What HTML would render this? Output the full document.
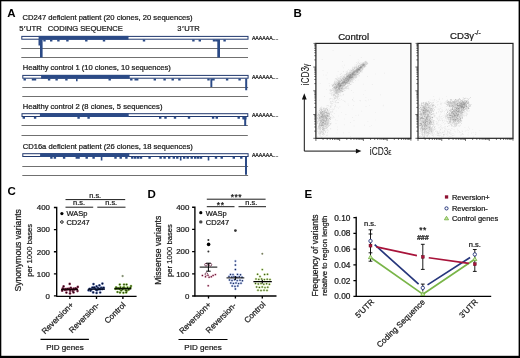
<!DOCTYPE html>
<html><head><meta charset="utf-8"><style>
html,body{margin:0;padding:0;background:#fff;}
body{width:520px;height:358px;overflow:hidden;}
svg{display:block;font-family:"Liberation Sans",sans-serif;will-change:transform;}
text{fill:#1a1a1a;stroke:#1a1a1a;stroke-width:0.24px;}
.lbl{font-weight:bold;font-size:11.5px;fill:#000;stroke:none;}
</style></head><body>
<svg width="520" height="358" viewBox="0 0 520 358">
<rect width="520" height="358" fill="#fff"/>
<text x="7.3" y="16.7" class="lbl">A</text>
<g font-size="7.6">
<text x="22.5" y="19.75">CD247 deficient patient (20 clones, 20 sequences)</text>
<text x="19.2" y="31.1">5<tspan dx="0.6">′</tspan><tspan dx="0.6">UTR</tspan></text>
<text x="47.8" y="31.1">CODING SEQUENCE</text>
<text x="177.3" y="31.1">3<tspan dx="0.6">′</tspan><tspan dx="0.6">UTR</tspan></text>
<text x="22.7" y="70.25">Healthy control 1 (10 clones, 10 sequences)</text>
<text x="22.7" y="108.75">Healthy control 2 (8 clones, 5 sequences)</text>
<text x="22.7" y="148.75">CD16a deficient patient (26 clones, 18 sequences)</text>
</g>
<rect x="21.3" y="48" width="226.7" height="1" fill="#707070"/>
<rect x="21.3" y="57" width="226.7" height="1" fill="#707070"/>
<rect x="21.8" y="36.4" width="226.2" height="2.8" fill="#fff" stroke="#22396e" stroke-width="1"/>
<rect x="38.6" y="35.9" width="89.9" height="3.8" fill="#2b4a86"/>
<path d="M43.3 39.5h2.4v1.9h-2.4zM50 39.5h2.4v1.9h-2.4zM57.2 39.5h2.4v1.9h-2.4zM66.2 39.5h2.4v1.9h-2.4zM85.1 39.5h2.4v1.9h-2.4zM102.8 39.5h2.4v1.9h-2.4zM142.8 39.5h2.4v1.9h-2.4zM192.2 39.5h2.4v1.9h-2.4zM198.6 39.5h2.4v1.9h-2.4zM212.8 39.5h2.4v1.9h-2.4zM215.3 39.5h2.4v1.9h-2.4zM223.4 39.5h2.4v1.9h-2.4zM40 39.5H42.6V57.6H40zM217.3 39.5H220V57.6H217.3zM38.5 39.5H40.2V45.5H38.5z" fill="#2b4a86"/>
<text x="251.9" y="39.65" font-size="5.2">AAAAAA....</text>
<rect x="22.3" y="87" width="225.8" height="1" fill="#707070"/>
<rect x="22.3" y="96" width="225.8" height="1" fill="#707070"/>
<rect x="22.8" y="75.4" width="225.3" height="2.8" fill="#fff" stroke="#22396e" stroke-width="1"/>
<rect x="41.1" y="74.9" width="88.6" height="3.8" fill="#2b4a86"/>
<path d="M23.5 78.5h2.4v1.9h-2.4zM31.8 78.5h2.4v1.9h-2.4zM33.8 78.5h2.4v1.9h-2.4zM47.9 78.5h2.4v1.9h-2.4zM55.4 78.5h2.4v1.9h-2.4zM65.2 78.5h2.4v1.9h-2.4zM108.5 78.5h2.4v1.9h-2.4zM130.1 78.5h2.4v1.9h-2.4zM134.5 78.5h2.4v1.9h-2.4zM136 78.5h2.4v1.9h-2.4zM153.6 78.5h2.4v1.9h-2.4zM163.4 78.5h2.4v1.9h-2.4zM171.5 78.5h2.4v1.9h-2.4zM178.2 78.5h2.4v1.9h-2.4zM207.3 78.5h2.4v1.9h-2.4zM212.3 78.5h2.4v1.9h-2.4zM225.9 78.5h2.4v1.9h-2.4zM238.4 78.5h2.4v1.9h-2.4zM76 78.5H77.6V81.2H76zM210.4 78.5H212.3V87H210.4zM245.2 78.5H247.2V90.2H245.2z" fill="#2b4a86"/>
<text x="251.9" y="78.65" font-size="5.2">AAAAAA....</text>
<rect x="21.5" y="125" width="226.3" height="1" fill="#707070"/>
<rect x="21.5" y="135" width="226.3" height="1" fill="#707070"/>
<rect x="22" y="113.7" width="225.8" height="2.8" fill="#fff" stroke="#22396e" stroke-width="1"/>
<rect x="39.9" y="113.2" width="88.8" height="3.8" fill="#2b4a86"/>
<path d="M22.6 116.8h2.4v1.9h-2.4zM33.9 116.8h2.4v1.9h-2.4zM77.4 116.8h2.4v1.9h-2.4zM87.4 116.8h2.4v1.9h-2.4zM159 116.8h2.4v1.9h-2.4zM164.3 116.8h2.4v1.9h-2.4zM173.8 116.8h2.4v1.9h-2.4zM187.8 116.8h2.4v1.9h-2.4zM211.9 116.8h2.4v1.9h-2.4zM215.6 116.8h2.4v1.9h-2.4zM237.5 116.8h2.4v1.9h-2.4zM242.3 116.8h2.4v1.9h-2.4zM244.2 116.8H246.2V126.1H244.2zM242.5 116.8H246.6V119.5H242.5z" fill="#2b4a86"/>
<text x="251.9" y="116.95" font-size="5.2">AAAAAA....</text>
<rect x="22.3" y="166" width="225.8" height="1" fill="#707070"/>
<rect x="22.3" y="175" width="225.8" height="1" fill="#707070"/>
<rect x="22.8" y="153.7" width="225.3" height="2.8" fill="#fff" stroke="#22396e" stroke-width="1"/>
<rect x="40.1" y="153.2" width="89.2" height="3.8" fill="#2b4a86"/>
<path d="M50.2 156.8h2.4v1.9h-2.4zM53.7 156.8h2.4v1.9h-2.4zM62.9 156.8h2.4v1.9h-2.4zM75.6 156.8h2.4v1.9h-2.4zM77.4 156.8h2.4v1.9h-2.4zM85.5 156.8h2.4v1.9h-2.4zM92.4 156.8h2.4v1.9h-2.4zM114.3 156.8h2.4v1.9h-2.4zM119.5 156.8h2.4v1.9h-2.4zM125.2 156.8h2.4v1.9h-2.4zM131.1 156.8h2.4v1.9h-2.4zM134 156.8h2.4v1.9h-2.4zM136.9 156.8h2.4v1.9h-2.4zM139.8 156.8h2.4v1.9h-2.4zM148.4 156.8h2.4v1.9h-2.4zM159.4 156.8h2.4v1.9h-2.4zM163.4 156.8h2.4v1.9h-2.4zM168 156.8h2.4v1.9h-2.4zM172.6 156.8h2.4v1.9h-2.4zM176.1 156.8h2.4v1.9h-2.4zM183 156.8h2.4v1.9h-2.4zM186.5 156.8h2.4v1.9h-2.4zM190.5 156.8h2.4v1.9h-2.4zM194 156.8h2.4v1.9h-2.4zM196.9 156.8h2.4v1.9h-2.4zM199.8 156.8h2.4v1.9h-2.4zM214.8 156.8h2.4v1.9h-2.4zM220.5 156.8h2.4v1.9h-2.4zM232.6 156.8h2.4v1.9h-2.4zM240.1 156.8h2.4v1.9h-2.4zM100.8 156.8H102.4V160.6H100.8zM179.9 156.8H181.5V160.4H179.9zM207.7 156.8H209.3V160.6H207.7zM245 156.8H247V174.8H245z" fill="#2b4a86"/>
<text x="251.9" y="156.95" font-size="5.2">AAAAAA....</text>
<text x="293.6" y="16.5" class="lbl">B</text>
<text x="353.6" y="39.8" font-size="9.6" text-anchor="middle">Control</text>
<text x="450.1" y="39.4" font-size="9.6">CD3γ<tspan font-size="6.6" dy="-4.2" dx="0.3">-/-</tspan></text>
<rect x="315.9" y="43.4" width="95" height="94.9" fill="#fafafa"/>
<path d="M347.08 82.58h0.65v0.65h-0.65zM339.83 90.39h0.65v0.65h-0.65zM351.66 74.22h0.65v0.65h-0.65zM351.58 75.95h0.65v0.65h-0.65zM335.5 87.66h0.65v0.65h-0.65zM338.23 87.38h0.65v0.65h-0.65zM348.95 78.26h0.65v0.65h-0.65zM341.05 82.11h0.65v0.65h-0.65zM356.76 74.19h0.65v0.65h-0.65zM346.79 77.56h0.65v0.65h-0.65zM367.1 63.67h0.65v0.65h-0.65zM345.45 82.9h0.65v0.65h-0.65zM341.11 87.25h0.65v0.65h-0.65zM361.53 67.56h0.65v0.65h-0.65zM337.76 81.07h0.65v0.65h-0.65zM345.44 77.57h0.65v0.65h-0.65zM352.95 74.93h0.65v0.65h-0.65zM341.87 84.16h0.65v0.65h-0.65zM355.6 69.46h0.65v0.65h-0.65zM354.21 73.96h0.65v0.65h-0.65zM348.41 75.79h0.65v0.65h-0.65zM359.41 72.64h0.65v0.65h-0.65zM340.29 79.9h0.65v0.65h-0.65zM362.36 64.72h0.65v0.65h-0.65zM357.39 68.37h0.65v0.65h-0.65zM348.35 77.97h0.65v0.65h-0.65zM349.54 74.8h0.65v0.65h-0.65zM334.57 86.48h0.65v0.65h-0.65zM350.89 70.95h0.65v0.65h-0.65zM362.33 64.66h0.65v0.65h-0.65zM356.07 75.53h0.65v0.65h-0.65zM350.57 70.14h0.65v0.65h-0.65zM365.38 63.72h0.65v0.65h-0.65zM349.75 75.99h0.65v0.65h-0.65zM356.92 69.62h0.65v0.65h-0.65zM358.19 74.57h0.65v0.65h-0.65zM343.87 81.41h0.65v0.65h-0.65zM347.06 78.58h0.65v0.65h-0.65zM349.34 76.32h0.65v0.65h-0.65zM340.97 85.56h0.65v0.65h-0.65zM359.69 68.52h0.65v0.65h-0.65zM339.15 85.96h0.65v0.65h-0.65zM363.57 66.35h0.65v0.65h-0.65zM334.95 84.27h0.65v0.65h-0.65zM363.42 65.41h0.65v0.65h-0.65zM361.58 67.41h0.65v0.65h-0.65zM347.04 76.66h0.65v0.65h-0.65zM350.23 83.95h0.65v0.65h-0.65zM335.76 80.68h0.65v0.65h-0.65zM340.8 84.85h0.65v0.65h-0.65zM351.7 77.54h0.65v0.65h-0.65zM353.72 73.17h0.65v0.65h-0.65zM348.49 78.09h0.65v0.65h-0.65zM355.65 68.87h0.65v0.65h-0.65zM349.5 73.05h0.65v0.65h-0.65zM334.62 85.6h0.65v0.65h-0.65zM363.9 64.93h0.65v0.65h-0.65zM346.74 77.78h0.65v0.65h-0.65zM355.57 72.39h0.65v0.65h-0.65zM338.29 89.28h0.65v0.65h-0.65zM340.85 85.79h0.65v0.65h-0.65zM345.86 80.13h0.65v0.65h-0.65zM339.83 85.33h0.65v0.65h-0.65zM337.89 86.3h0.65v0.65h-0.65zM362.95 65.45h0.65v0.65h-0.65zM355.2 73.26h0.65v0.65h-0.65zM347.31 81.33h0.65v0.65h-0.65zM349.4 82.65h0.65v0.65h-0.65zM367.25 62.76h0.65v0.65h-0.65zM349.06 75.72h0.65v0.65h-0.65zM338.35 86.78h0.65v0.65h-0.65zM345.54 79.6h0.65v0.65h-0.65zM344.7 90.27h0.65v0.65h-0.65zM338 91.46h0.65v0.65h-0.65zM338.77 84.41h0.65v0.65h-0.65zM354.25 76.73h0.65v0.65h-0.65zM366.23 62.53h0.65v0.65h-0.65zM362.23 65.32h0.65v0.65h-0.65zM345.18 77.64h0.65v0.65h-0.65zM340.72 85.35h0.65v0.65h-0.65zM358.43 66.38h0.65v0.65h-0.65zM346.13 81.11h0.65v0.65h-0.65zM367.27 63.3h0.65v0.65h-0.65zM362.69 66.55h0.65v0.65h-0.65zM356.46 66.63h0.65v0.65h-0.65zM340.06 80.75h0.65v0.65h-0.65zM335.72 88.46h0.65v0.65h-0.65zM335.61 88.41h0.65v0.65h-0.65zM358.01 71.46h0.65v0.65h-0.65zM366.81 62.58h0.65v0.65h-0.65zM365.08 62.71h0.65v0.65h-0.65zM343.44 84.62h0.65v0.65h-0.65zM342.19 85.13h0.65v0.65h-0.65zM364.68 65.77h0.65v0.65h-0.65zM360.37 64.66h0.65v0.65h-0.65zM360.62 67.57h0.65v0.65h-0.65zM335.14 84.21h0.65v0.65h-0.65zM357.86 65.51h0.65v0.65h-0.65zM358.13 67.89h0.65v0.65h-0.65zM360.19 67.75h0.65v0.65h-0.65zM347.33 82.3h0.65v0.65h-0.65zM350.72 81.77h0.65v0.65h-0.65zM339.13 83.33h0.65v0.65h-0.65zM341.99 89.37h0.65v0.65h-0.65zM362.46 69.24h0.65v0.65h-0.65zM342.76 89.02h0.65v0.65h-0.65zM345.11 78.6h0.65v0.65h-0.65zM335.15 88.76h0.65v0.65h-0.65zM365.46 62.13h0.65v0.65h-0.65zM364.01 62.86h0.65v0.65h-0.65zM351.23 80.28h0.65v0.65h-0.65zM338.55 80.03h0.65v0.65h-0.65zM342.56 82.01h0.65v0.65h-0.65zM354.75 74.52h0.65v0.65h-0.65zM342.21 81.12h0.65v0.65h-0.65zM364.13 64.52h0.65v0.65h-0.65zM343.64 76.7h0.65v0.65h-0.65zM364.02 64.76h0.65v0.65h-0.65zM350.33 80.09h0.65v0.65h-0.65zM350.94 73.65h0.65v0.65h-0.65zM353.45 77.07h0.65v0.65h-0.65zM341.13 84.78h0.65v0.65h-0.65zM335.47 89.79h0.65v0.65h-0.65zM349.01 75.18h0.65v0.65h-0.65zM357.04 68.24h0.65v0.65h-0.65zM350.96 74.54h0.65v0.65h-0.65zM352.83 74.3h0.65v0.65h-0.65zM352.08 73.13h0.65v0.65h-0.65zM342.25 81.86h0.65v0.65h-0.65zM354.06 78.78h0.65v0.65h-0.65zM353.08 74.19h0.65v0.65h-0.65zM352.7 70.49h0.65v0.65h-0.65zM356.97 70.25h0.65v0.65h-0.65zM347.33 74.62h0.65v0.65h-0.65zM364.78 63.24h0.65v0.65h-0.65zM359.43 72.65h0.65v0.65h-0.65zM339.51 78.01h0.65v0.65h-0.65zM355.67 77.31h0.65v0.65h-0.65zM337.78 83.88h0.65v0.65h-0.65zM338.03 85.16h0.65v0.65h-0.65zM342.97 83.2h0.65v0.65h-0.65zM335.5 85.38h0.65v0.65h-0.65zM362.31 63.26h0.65v0.65h-0.65zM339.16 84.36h0.65v0.65h-0.65zM336.11 81.6h0.65v0.65h-0.65zM363.65 65.7h0.65v0.65h-0.65zM365.2 63.01h0.65v0.65h-0.65zM361.71 66.71h0.65v0.65h-0.65zM337.47 81.96h0.65v0.65h-0.65zM346.83 81.3h0.65v0.65h-0.65zM339.64 82.26h0.65v0.65h-0.65zM338.42 92.18h0.65v0.65h-0.65zM352.33 73.82h0.65v0.65h-0.65zM345.69 80.49h0.65v0.65h-0.65zM354.31 71.61h0.65v0.65h-0.65zM366.31 62.2h0.65v0.65h-0.65zM360.57 68.23h0.65v0.65h-0.65zM343.26 81.93h0.65v0.65h-0.65zM336.55 88.74h0.65v0.65h-0.65zM337.29 83.81h0.65v0.65h-0.65zM351.41 81.23h0.65v0.65h-0.65zM341.03 79.82h0.65v0.65h-0.65zM342.49 88.51h0.65v0.65h-0.65zM356.46 69.17h0.65v0.65h-0.65zM341 90.64h0.65v0.65h-0.65zM349.55 78.89h0.65v0.65h-0.65zM340.12 90.73h0.65v0.65h-0.65zM359.93 66.65h0.65v0.65h-0.65zM338.17 87.76h0.65v0.65h-0.65zM362.18 65.3h0.65v0.65h-0.65zM348.19 75.51h0.65v0.65h-0.65zM365.23 64.71h0.65v0.65h-0.65zM345.39 84.23h0.65v0.65h-0.65zM344.61 85.22h0.65v0.65h-0.65zM338.87 86.91h0.65v0.65h-0.65zM342.06 84.65h0.65v0.65h-0.65zM343.7 79.46h0.65v0.65h-0.65zM347.68 85.44h0.65v0.65h-0.65zM351.6 76.45h0.65v0.65h-0.65zM337.17 90.83h0.65v0.65h-0.65zM346.62 86.76h0.65v0.65h-0.65zM352.78 74.53h0.65v0.65h-0.65zM339.22 87.52h0.65v0.65h-0.65zM359.98 65.6h0.65v0.65h-0.65zM362 66.91h0.65v0.65h-0.65zM344.51 75.18h0.65v0.65h-0.65zM366.21 62.25h0.65v0.65h-0.65zM347.5 81.85h0.65v0.65h-0.65zM353.27 69.64h0.65v0.65h-0.65zM347.5 77.86h0.65v0.65h-0.65zM339.77 86.64h0.65v0.65h-0.65zM337.16 87.43h0.65v0.65h-0.65zM338.32 82.83h0.65v0.65h-0.65zM340.09 89.92h0.65v0.65h-0.65zM354.02 68.28h0.65v0.65h-0.65zM344.05 81.79h0.65v0.65h-0.65zM351.13 78.51h0.65v0.65h-0.65zM338.22 83.08h0.65v0.65h-0.65zM365.74 63.04h0.65v0.65h-0.65zM365.52 62.09h0.65v0.65h-0.65zM365.58 62.6h0.65v0.65h-0.65zM344.78 80.86h0.65v0.65h-0.65zM347.21 79.01h0.65v0.65h-0.65zM348.89 74.98h0.65v0.65h-0.65zM351.03 75.5h0.65v0.65h-0.65zM335.09 89.28h0.65v0.65h-0.65zM348.55 79.4h0.65v0.65h-0.65zM338.03 90.3h0.65v0.65h-0.65zM342.68 83.37h0.65v0.65h-0.65zM351.09 70.37h0.65v0.65h-0.65zM355.49 70.8h0.65v0.65h-0.65zM358.67 70.7h0.65v0.65h-0.65zM343.93 78.81h0.65v0.65h-0.65zM366.81 62.79h0.65v0.65h-0.65zM357.29 73.79h0.65v0.65h-0.65zM338.58 90.8h0.65v0.65h-0.65zM352.31 69.1h0.65v0.65h-0.65zM358.59 69.46h0.65v0.65h-0.65zM350.8 74.01h0.65v0.65h-0.65zM352.63 77.35h0.65v0.65h-0.65zM359.76 64.86h0.65v0.65h-0.65zM355.41 75.43h0.65v0.65h-0.65zM355.82 68.88h0.65v0.65h-0.65zM343.52 84.52h0.65v0.65h-0.65zM346.68 79.75h0.65v0.65h-0.65zM339.82 88.3h0.65v0.65h-0.65zM353.37 70.28h0.65v0.65h-0.65zM354.2 71.34h0.65v0.65h-0.65zM333.16 87.17h0.65v0.65h-0.65zM360.35 67.39h0.65v0.65h-0.65zM350.06 72.42h0.65v0.65h-0.65zM358.03 73.61h0.65v0.65h-0.65zM344.51 84.22h0.65v0.65h-0.65zM337.03 87.05h0.65v0.65h-0.65zM345.31 88.16h0.65v0.65h-0.65zM359.9 70.59h0.65v0.65h-0.65zM346.81 78.5h0.65v0.65h-0.65zM349 74.82h0.65v0.65h-0.65zM352.32 69.76h0.65v0.65h-0.65zM356.15 72.51h0.65v0.65h-0.65zM343.67 83.15h0.65v0.65h-0.65zM358.12 68.32h0.65v0.65h-0.65zM337.71 91.81h0.65v0.65h-0.65zM336.56 87.4h0.65v0.65h-0.65zM358.95 72.55h0.65v0.65h-0.65zM356.08 70.31h0.65v0.65h-0.65zM351.89 79.05h0.65v0.65h-0.65zM352.64 79.81h0.65v0.65h-0.65zM344.73 87.87h0.65v0.65h-0.65zM366.2 62.51h0.65v0.65h-0.65zM349.46 76.63h0.65v0.65h-0.65zM362.14 68.01h0.65v0.65h-0.65zM343.06 81.5h0.65v0.65h-0.65zM343.19 85.43h0.65v0.65h-0.65zM353.13 72.98h0.65v0.65h-0.65zM338.34 84.82h0.65v0.65h-0.65zM357.22 69.85h0.65v0.65h-0.65zM344.48 85.53h0.65v0.65h-0.65zM334.44 87.26h0.65v0.65h-0.65zM333.09 87.07h0.65v0.65h-0.65zM344.72 81.28h0.65v0.65h-0.65zM338.32 84.27h0.65v0.65h-0.65zM362.4 67.01h0.65v0.65h-0.65zM335.07 89.47h0.65v0.65h-0.65zM334.39 81.09h0.65v0.65h-0.65zM364.11 63.43h0.65v0.65h-0.65zM345 77.83h0.65v0.65h-0.65zM337.25 88.99h0.65v0.65h-0.65zM339.17 87.76h0.65v0.65h-0.65zM364.27 63.03h0.65v0.65h-0.65zM342.66 82.29h0.65v0.65h-0.65zM343.87 87.5h0.65v0.65h-0.65zM350.88 83.76h0.65v0.65h-0.65zM360.25 66.35h0.65v0.65h-0.65zM350.46 71.99h0.65v0.65h-0.65zM359.8 71.77h0.65v0.65h-0.65zM350.25 78.06h0.65v0.65h-0.65zM358.35 67.98h0.65v0.65h-0.65zM335.23 86.62h0.65v0.65h-0.65zM365.03 64.47h0.65v0.65h-0.65zM347.6 81.9h0.65v0.65h-0.65zM344.06 80.78h0.65v0.65h-0.65zM355.3 70.69h0.65v0.65h-0.65zM349.92 81.3h0.65v0.65h-0.65zM341.19 85.87h0.65v0.65h-0.65zM364.26 64.92h0.65v0.65h-0.65zM351.52 76.55h0.65v0.65h-0.65zM350.08 77.92h0.65v0.65h-0.65zM339 88.26h0.65v0.65h-0.65zM347.16 81.51h0.65v0.65h-0.65zM344.11 83.37h0.65v0.65h-0.65zM355.11 76.02h0.65v0.65h-0.65zM346.05 75.68h0.65v0.65h-0.65zM346.32 75.92h0.65v0.65h-0.65zM345.45 79.78h0.65v0.65h-0.65zM336.03 86.69h0.65v0.65h-0.65zM348.64 72.84h0.65v0.65h-0.65zM338.49 79.64h0.65v0.65h-0.65zM343.64 82.02h0.65v0.65h-0.65zM351.05 79.3h0.65v0.65h-0.65zM366.08 63.93h0.65v0.65h-0.65zM332.49 85.22h0.65v0.65h-0.65zM334.97 87.39h0.65v0.65h-0.65zM355.21 75h0.65v0.65h-0.65zM364.47 63.83h0.65v0.65h-0.65zM362.87 68.49h0.65v0.65h-0.65zM340.03 88.28h0.65v0.65h-0.65zM358.02 72.13h0.65v0.65h-0.65zM364.77 63.23h0.65v0.65h-0.65zM357.71 66.47h0.65v0.65h-0.65zM349.05 76.27h0.65v0.65h-0.65zM359.78 67.72h0.65v0.65h-0.65zM345.29 86.38h0.65v0.65h-0.65zM343.17 79.37h0.65v0.65h-0.65zM339.03 85.91h0.65v0.65h-0.65zM359.05 72.25h0.65v0.65h-0.65zM341.09 89.29h0.65v0.65h-0.65zM354.35 74.28h0.65v0.65h-0.65zM347.78 79.26h0.65v0.65h-0.65zM337.85 92.11h0.65v0.65h-0.65zM356.37 72.65h0.65v0.65h-0.65zM362.51 64.33h0.65v0.65h-0.65zM343.11 82.95h0.65v0.65h-0.65zM365.4 62.72h0.65v0.65h-0.65zM334.1 87.07h0.65v0.65h-0.65zM350.02 74.74h0.65v0.65h-0.65zM341.1 79.98h0.65v0.65h-0.65zM357.09 72.01h0.65v0.65h-0.65zM335.44 87.81h0.65v0.65h-0.65zM342.99 76.96h0.65v0.65h-0.65zM343.01 85.98h0.65v0.65h-0.65zM360.26 67.32h0.65v0.65h-0.65zM338.74 80.62h0.65v0.65h-0.65zM365.44 62.17h0.65v0.65h-0.65zM346.28 87.63h0.65v0.65h-0.65zM342.17 83.51h0.65v0.65h-0.65zM364.74 62.52h0.65v0.65h-0.65zM351.24 76.31h0.65v0.65h-0.65zM349.52 79.39h0.65v0.65h-0.65zM356.89 71.91h0.65v0.65h-0.65zM347.16 78.2h0.65v0.65h-0.65zM343.05 85.06h0.65v0.65h-0.65zM336.46 87.85h0.65v0.65h-0.65zM333.4 83.8h0.65v0.65h-0.65zM364.2 66.29h0.65v0.65h-0.65zM345.39 80.29h0.65v0.65h-0.65zM344.54 88.54h0.65v0.65h-0.65zM334.73 87.14h0.65v0.65h-0.65zM355.17 70h0.65v0.65h-0.65zM346.95 81.92h0.65v0.65h-0.65zM342.35 87.07h0.65v0.65h-0.65zM346.21 79.8h0.65v0.65h-0.65zM366.53 64.35h0.65v0.65h-0.65zM345.84 88.63h0.65v0.65h-0.65zM347.99 81.51h0.65v0.65h-0.65zM345.61 73.91h0.65v0.65h-0.65zM334.61 85.89h0.65v0.65h-0.65zM364.36 64.16h0.65v0.65h-0.65zM337.81 80.33h0.65v0.65h-0.65zM339.13 92.3h0.65v0.65h-0.65zM349.31 79.55h0.65v0.65h-0.65zM333.11 84.72h0.65v0.65h-0.65zM345.11 84.6h0.65v0.65h-0.65zM359.62 69.79h0.65v0.65h-0.65zM342.46 80.58h0.65v0.65h-0.65zM365.1 62.56h0.65v0.65h-0.65zM357.14 68.9h0.65v0.65h-0.65zM345.03 80.7h0.65v0.65h-0.65zM359.13 68.68h0.65v0.65h-0.65zM362.97 62.76h0.65v0.65h-0.65zM332.29 84.83h0.65v0.65h-0.65zM365.58 63.36h0.65v0.65h-0.65zM347.28 78.78h0.65v0.65h-0.65zM352.55 77.96h0.65v0.65h-0.65zM365.03 64.39h0.65v0.65h-0.65zM360.45 71.3h0.65v0.65h-0.65zM361.36 66.93h0.65v0.65h-0.65zM342.58 77.16h0.65v0.65h-0.65zM342.77 77.91h0.65v0.65h-0.65zM340.4 90.63h0.65v0.65h-0.65zM341.31 84.07h0.65v0.65h-0.65zM335.47 85.88h0.65v0.65h-0.65zM334.41 86.64h0.65v0.65h-0.65zM366.02 62.17h0.65v0.65h-0.65zM363.74 65.77h0.65v0.65h-0.65zM337.54 87.02h0.65v0.65h-0.65zM334.55 82.8h0.65v0.65h-0.65zM349.24 77.15h0.65v0.65h-0.65zM339.68 79.84h0.65v0.65h-0.65zM357.37 71.9h0.65v0.65h-0.65zM359.78 69.92h0.65v0.65h-0.65zM336.04 82.92h0.65v0.65h-0.65zM361.41 65.83h0.65v0.65h-0.65zM349.36 82.04h0.65v0.65h-0.65zM358.75 69.38h0.65v0.65h-0.65zM344.43 84.57h0.65v0.65h-0.65zM342.25 87.98h0.65v0.65h-0.65zM343.54 78.35h0.65v0.65h-0.65zM349.92 81.2h0.65v0.65h-0.65zM342.23 82.94h0.65v0.65h-0.65zM358.92 65.05h0.65v0.65h-0.65zM351.54 78.01h0.65v0.65h-0.65zM362.78 62.69h0.65v0.65h-0.65zM336.01 88.07h0.65v0.65h-0.65zM342.18 85.58h0.65v0.65h-0.65zM364.81 61.25h0.65v0.65h-0.65zM344.52 76.53h0.65v0.65h-0.65zM361.9 64.77h0.65v0.65h-0.65zM360 68.26h0.65v0.65h-0.65zM365.77 64.1h0.65v0.65h-0.65zM355.94 73.73h0.65v0.65h-0.65zM341.05 82.47h0.65v0.65h-0.65zM342.44 84.95h0.65v0.65h-0.65zM340.46 79.4h0.65v0.65h-0.65zM339.47 81.57h0.65v0.65h-0.65zM334.03 87.66h0.65v0.65h-0.65zM344.07 88.03h0.65v0.65h-0.65zM346.02 82.11h0.65v0.65h-0.65zM355.21 77.51h0.65v0.65h-0.65zM338.71 89.7h0.65v0.65h-0.65zM353.46 75.37h0.65v0.65h-0.65zM356.04 72.62h0.65v0.65h-0.65zM357.53 70.72h0.65v0.65h-0.65zM347.69 77.75h0.65v0.65h-0.65zM365.84 63.7h0.65v0.65h-0.65zM343.1 78.74h0.65v0.65h-0.65zM347.51 77.13h0.65v0.65h-0.65zM363.32 66.52h0.65v0.65h-0.65zM341.22 83.98h0.65v0.65h-0.65zM358.19 69.38h0.65v0.65h-0.65zM363.75 64.62h0.65v0.65h-0.65zM349.3 78.71h0.65v0.65h-0.65zM362.31 64.16h0.65v0.65h-0.65zM349.82 76.92h0.65v0.65h-0.65zM352.78 74.5h0.65v0.65h-0.65zM355.89 72.35h0.65v0.65h-0.65zM354.45 71.88h0.65v0.65h-0.65zM345.66 77.93h0.65v0.65h-0.65zM343.97 81.61h0.65v0.65h-0.65zM352.3 75.89h0.65v0.65h-0.65zM350.22 75.48h0.65v0.65h-0.65zM361.26 67.98h0.65v0.65h-0.65zM338.71 85.62h0.65v0.65h-0.65zM365.74 64.24h0.65v0.65h-0.65zM336.33 87.6h0.65v0.65h-0.65zM363.28 62.5h0.65v0.65h-0.65zM356.79 74.68h0.65v0.65h-0.65zM362.14 67.72h0.65v0.65h-0.65zM345.5 87.3h0.65v0.65h-0.65zM349.94 80.68h0.65v0.65h-0.65zM337.11 80.18h0.65v0.65h-0.65zM339.67 80.85h0.65v0.65h-0.65zM348.61 80.5h0.65v0.65h-0.65zM338.98 86.17h0.65v0.65h-0.65zM364.81 66.11h0.65v0.65h-0.65zM333.17 84.76h0.65v0.65h-0.65zM334.92 86.96h0.65v0.65h-0.65zM362.6 67.37h0.65v0.65h-0.65zM353.97 75.97h0.65v0.65h-0.65zM354.41 71.53h0.65v0.65h-0.65zM355.05 75.11h0.65v0.65h-0.65zM347.42 76.42h0.65v0.65h-0.65zM347.23 75.4h0.65v0.65h-0.65zM334.09 86.95h0.65v0.65h-0.65zM340.68 80.91h0.65v0.65h-0.65zM359.52 68.62h0.65v0.65h-0.65zM338.1 81.53h0.65v0.65h-0.65zM350.78 77.24h0.65v0.65h-0.65zM349.31 78.28h0.65v0.65h-0.65zM335.44 84.12h0.65v0.65h-0.65zM337.16 89.36h0.65v0.65h-0.65zM357.26 74.2h0.65v0.65h-0.65zM360.61 68.97h0.65v0.65h-0.65zM353.17 77.52h0.65v0.65h-0.65zM347.81 79.94h0.65v0.65h-0.65zM366.06 64.11h0.65v0.65h-0.65zM367.39 62.73h0.65v0.65h-0.65zM358.6 69.58h0.65v0.65h-0.65zM365.9 61.94h0.65v0.65h-0.65zM338.79 83.25h0.65v0.65h-0.65zM360.43 68.07h0.65v0.65h-0.65zM345.84 79.41h0.65v0.65h-0.65zM360.38 70.08h0.65v0.65h-0.65zM347.7 86.42h0.65v0.65h-0.65zM361.67 67.75h0.65v0.65h-0.65zM364.93 64.79h0.65v0.65h-0.65zM341.4 83.47h0.65v0.65h-0.65zM347.65 83.54h0.65v0.65h-0.65zM336.66 89.04h0.65v0.65h-0.65zM365.15 63.98h0.65v0.65h-0.65zM357.26 71.41h0.65v0.65h-0.65zM359.56 67.3h0.65v0.65h-0.65zM335.45 82.63h0.65v0.65h-0.65zM345.89 78.9h0.65v0.65h-0.65zM361.7 64.1h0.65v0.65h-0.65zM362.69 64.63h0.65v0.65h-0.65zM341.51 90.26h0.65v0.65h-0.65zM347.42 78.44h0.65v0.65h-0.65zM360.07 67.06h0.65v0.65h-0.65zM346.66 79.75h0.65v0.65h-0.65zM338.03 81.63h0.65v0.65h-0.65zM360.74 71.3h0.65v0.65h-0.65zM344.31 83.9h0.65v0.65h-0.65zM357.21 73.96h0.65v0.65h-0.65zM355.92 70.91h0.65v0.65h-0.65zM345.5 81.48h0.65v0.65h-0.65zM339.76 85.37h0.65v0.65h-0.65zM352.98 70.58h0.65v0.65h-0.65zM363.87 65.15h0.65v0.65h-0.65zM339.69 86.4h0.65v0.65h-0.65zM338.5 92.09h0.65v0.65h-0.65zM334.55 88.81h0.65v0.65h-0.65zM347.12 80.48h0.65v0.65h-0.65zM339.46 80.22h0.65v0.65h-0.65zM339.92 82.04h0.65v0.65h-0.65zM354.06 71.33h0.65v0.65h-0.65zM364.84 63.62h0.65v0.65h-0.65zM343.35 83.45h0.65v0.65h-0.65zM355.81 72.42h0.65v0.65h-0.65zM362.88 65.57h0.65v0.65h-0.65zM341.19 79.64h0.65v0.65h-0.65zM333.87 87.47h0.65v0.65h-0.65zM344.06 77.4h0.65v0.65h-0.65zM359.31 70.31h0.65v0.65h-0.65zM343.46 83.26h0.65v0.65h-0.65zM351.62 74.45h0.65v0.65h-0.65zM347.96 78.31h0.65v0.65h-0.65zM360.15 68.36h0.65v0.65h-0.65zM337.74 83.51h0.65v0.65h-0.65zM339.16 81.46h0.65v0.65h-0.65zM354.34 70.51h0.65v0.65h-0.65zM361.26 67.43h0.65v0.65h-0.65zM346.2 83.08h0.65v0.65h-0.65zM339.29 91.31h0.65v0.65h-0.65zM356.35 68.08h0.65v0.65h-0.65zM336.93 91.31h0.65v0.65h-0.65zM347.31 73.76h0.65v0.65h-0.65zM357.78 68.02h0.65v0.65h-0.65zM338.82 87.13h0.65v0.65h-0.65zM344.4 85.38h0.65v0.65h-0.65zM359.09 69.03h0.65v0.65h-0.65zM358.26 71.57h0.65v0.65h-0.65zM340.56 78.8h0.65v0.65h-0.65zM349.99 71.15h0.65v0.65h-0.65zM352.8 76.34h0.65v0.65h-0.65zM339.81 77.99h0.65v0.65h-0.65zM363.63 65.87h0.65v0.65h-0.65zM342.68 83.15h0.65v0.65h-0.65zM360.5 71.01h0.65v0.65h-0.65zM344.21 79.09h0.65v0.65h-0.65zM362.7 64.78h0.65v0.65h-0.65zM364.36 64.93h0.65v0.65h-0.65zM354.3 71.17h0.65v0.65h-0.65zM365.38 61.51h0.65v0.65h-0.65zM351.42 78.2h0.65v0.65h-0.65zM361.09 64.4h0.65v0.65h-0.65zM348.52 76.95h0.65v0.65h-0.65zM342.04 77.82h0.65v0.65h-0.65zM341.07 82.85h0.65v0.65h-0.65zM363.75 64.03h0.65v0.65h-0.65zM340.72 86.78h0.65v0.65h-0.65zM364.6 63.83h0.65v0.65h-0.65zM346.28 80.31h0.65v0.65h-0.65zM336.7 88.78h0.65v0.65h-0.65zM355.68 68.77h0.65v0.65h-0.65zM357.05 67.51h0.65v0.65h-0.65zM335.39 85.73h0.65v0.65h-0.65zM360.49 66.27h0.65v0.65h-0.65zM361.35 67.13h0.65v0.65h-0.65zM362.39 65.23h0.65v0.65h-0.65zM364.41 64.55h0.65v0.65h-0.65zM341.16 83.36h0.65v0.65h-0.65zM342.9 91.38h0.65v0.65h-0.65zM361.24 67.49h0.65v0.65h-0.65zM356.09 72.99h0.65v0.65h-0.65zM341.39 78.38h0.65v0.65h-0.65zM341.26 90.28h0.65v0.65h-0.65zM343.8 86.44h0.65v0.65h-0.65zM344.76 80.22h0.65v0.65h-0.65zM343.38 82.63h0.65v0.65h-0.65zM343.54 81.16h0.65v0.65h-0.65zM343.22 78.34h0.65v0.65h-0.65zM364.49 61.46h0.65v0.65h-0.65zM354.59 72.3h0.65v0.65h-0.65zM334.18 86.57h0.65v0.65h-0.65zM360.2 68.8h0.65v0.65h-0.65zM345.31 79.07h0.65v0.65h-0.65zM339.11 80.31h0.65v0.65h-0.65zM363.8 67.2h0.65v0.65h-0.65zM342.84 87.56h0.65v0.65h-0.65zM335.97 90.53h0.65v0.65h-0.65zM366.99 63.43h0.65v0.65h-0.65zM332.98 86.9h0.65v0.65h-0.65zM360.41 67.51h0.65v0.65h-0.65zM338.66 81.85h0.65v0.65h-0.65zM361.48 66.49h0.65v0.65h-0.65zM345 84.25h0.65v0.65h-0.65zM341.17 82.8h0.65v0.65h-0.65zM356.62 69.41h0.65v0.65h-0.65zM355.25 71.88h0.65v0.65h-0.65zM338.37 88.17h0.65v0.65h-0.65zM358.41 65.84h0.65v0.65h-0.65zM354.06 71.07h0.65v0.65h-0.65zM349.11 80.37h0.65v0.65h-0.65zM364.77 66.51h0.65v0.65h-0.65zM337.91 91.22h0.65v0.65h-0.65zM341.14 83.31h0.65v0.65h-0.65zM348.15 80.24h0.65v0.65h-0.65zM348.77 75.72h0.65v0.65h-0.65zM351.98 74.87h0.65v0.65h-0.65zM353.2 68.89h0.65v0.65h-0.65zM345.53 79.21h0.65v0.65h-0.65zM362.29 66.7h0.65v0.65h-0.65zM356.01 71.11h0.65v0.65h-0.65zM347.82 76.04h0.65v0.65h-0.65zM359.09 67.49h0.65v0.65h-0.65zM349.24 76.19h0.65v0.65h-0.65zM363.19 65.03h0.65v0.65h-0.65zM345.99 82.76h0.65v0.65h-0.65zM357.77 70.49h0.65v0.65h-0.65zM338.79 83.83h0.65v0.65h-0.65zM341.6 81.18h0.65v0.65h-0.65zM342.75 88.06h0.65v0.65h-0.65zM347.56 82.85h0.65v0.65h-0.65zM339.25 87.84h0.65v0.65h-0.65zM347 78.61h0.65v0.65h-0.65zM366.53 62.52h0.65v0.65h-0.65zM345.9 74.09h0.65v0.65h-0.65zM340.51 83.23h0.65v0.65h-0.65zM340.71 82.8h0.65v0.65h-0.65zM349.3 80.98h0.65v0.65h-0.65zM360.38 67.85h0.65v0.65h-0.65zM355.21 68.18h0.65v0.65h-0.65zM349.72 76.66h0.65v0.65h-0.65zM337.58 83.35h0.65v0.65h-0.65zM357.83 68.13h0.65v0.65h-0.65zM362.97 63.31h0.65v0.65h-0.65zM359.47 69.5h0.65v0.65h-0.65zM348.8 78.3h0.65v0.65h-0.65zM364.32 66.65h0.65v0.65h-0.65zM358.95 67.29h0.65v0.65h-0.65zM354.13 67.83h0.65v0.65h-0.65zM354.22 70.37h0.65v0.65h-0.65zM355.34 72.51h0.65v0.65h-0.65zM334.69 82.86h0.65v0.65h-0.65zM358.74 70.96h0.65v0.65h-0.65zM355.02 72.06h0.65v0.65h-0.65zM351.4 79.1h0.65v0.65h-0.65zM352.91 70.16h0.65v0.65h-0.65zM365.15 64.38h0.65v0.65h-0.65zM338.47 81.73h0.65v0.65h-0.65zM344.54 75.49h0.65v0.65h-0.65zM351.06 76.49h0.65v0.65h-0.65zM352.21 74.37h0.65v0.65h-0.65zM341.27 86.37h0.65v0.65h-0.65zM335.71 83.82h0.65v0.65h-0.65zM357.11 68.83h0.65v0.65h-0.65zM349.23 72.95h0.65v0.65h-0.65zM349.15 72.25h0.65v0.65h-0.65zM349.3 79.57h0.65v0.65h-0.65zM356.47 70.21h0.65v0.65h-0.65zM347.56 78.72h0.65v0.65h-0.65zM366.04 61.92h0.65v0.65h-0.65zM347.84 81.41h0.65v0.65h-0.65zM348.25 79.05h0.65v0.65h-0.65zM333.69 87.15h0.65v0.65h-0.65zM357.86 70.92h0.65v0.65h-0.65zM346.06 79.59h0.65v0.65h-0.65zM359.42 69.93h0.65v0.65h-0.65zM364.43 62.93h0.65v0.65h-0.65zM360.36 67.16h0.65v0.65h-0.65zM347.71 78.92h0.65v0.65h-0.65zM360.26 68.64h0.65v0.65h-0.65zM359.98 66.2h0.65v0.65h-0.65zM351.53 72.39h0.65v0.65h-0.65zM344.29 85.65h0.65v0.65h-0.65zM355.01 71.46h0.65v0.65h-0.65zM361.49 67.34h0.65v0.65h-0.65zM342.13 78.79h0.65v0.65h-0.65zM354.62 76.82h0.65v0.65h-0.65zM349.02 82.82h0.65v0.65h-0.65zM361.95 65.82h0.65v0.65h-0.65zM345.24 84.97h0.65v0.65h-0.65zM348.6 77.76h0.65v0.65h-0.65zM358.04 69.6h0.65v0.65h-0.65zM344 81.78h0.65v0.65h-0.65zM351.76 77.95h0.65v0.65h-0.65zM346.82 75.56h0.65v0.65h-0.65zM344.27 76.87h0.65v0.65h-0.65zM364.68 63.94h0.65v0.65h-0.65zM361.06 66.26h0.65v0.65h-0.65zM363.89 64.51h0.65v0.65h-0.65zM360.92 65.88h0.65v0.65h-0.65zM355.35 72.21h0.65v0.65h-0.65zM365.28 63.15h0.65v0.65h-0.65zM355.86 71.33h0.65v0.65h-0.65zM340.64 86.82h0.65v0.65h-0.65zM342.78 83.43h0.65v0.65h-0.65zM337.65 82.74h0.65v0.65h-0.65zM363.87 64.6h0.65v0.65h-0.65zM362.86 64.27h0.65v0.65h-0.65zM354.78 73.15h0.65v0.65h-0.65zM362.26 63.4h0.65v0.65h-0.65zM360.44 68.1h0.65v0.65h-0.65zM356.3 69.47h0.65v0.65h-0.65zM351.79 74.69h0.65v0.65h-0.65zM362.18 64.03h0.65v0.65h-0.65zM352.54 74h0.65v0.65h-0.65zM341.16 87.63h0.65v0.65h-0.65zM352.51 77.95h0.65v0.65h-0.65zM340.56 86.61h0.65v0.65h-0.65zM348.44 73.38h0.65v0.65h-0.65zM362.45 65.61h0.65v0.65h-0.65zM336.34 90.62h0.65v0.65h-0.65zM351.38 72.18h0.65v0.65h-0.65zM356.87 71.89h0.65v0.65h-0.65zM346.76 76.11h0.65v0.65h-0.65zM366.32 63.77h0.65v0.65h-0.65zM356.16 72.95h0.65v0.65h-0.65zM333.61 86.07h0.65v0.65h-0.65zM363.95 62.93h0.65v0.65h-0.65zM348 83.2h0.65v0.65h-0.65zM350.17 75.8h0.65v0.65h-0.65zM364.77 66.05h0.65v0.65h-0.65zM355.37 72.74h0.65v0.65h-0.65zM347.05 81.59h0.65v0.65h-0.65zM348.78 74.86h0.65v0.65h-0.65zM351.86 75.11h0.65v0.65h-0.65zM347.56 75.98h0.65v0.65h-0.65zM345.07 73.95h0.65v0.65h-0.65zM342.96 79.83h0.65v0.65h-0.65zM360.37 65.48h0.65v0.65h-0.65zM345.13 83.69h0.65v0.65h-0.65zM353.58 78.32h0.65v0.65h-0.65zM359.94 67.28h0.65v0.65h-0.65zM344.8 79.5h0.65v0.65h-0.65zM354.84 74.62h0.65v0.65h-0.65zM355.27 72.02h0.65v0.65h-0.65zM357.64 69.09h0.65v0.65h-0.65zM362.91 64.68h0.65v0.65h-0.65zM344.36 80.96h0.65v0.65h-0.65zM336.75 91.11h0.65v0.65h-0.65zM356.66 72.12h0.65v0.65h-0.65zM353.02 70.59h0.65v0.65h-0.65zM352.28 71.05h0.65v0.65h-0.65zM357.12 71.17h0.65v0.65h-0.65zM352.19 79.84h0.65v0.65h-0.65zM359.83 69.04h0.65v0.65h-0.65zM336.93 89.34h0.65v0.65h-0.65zM361.02 69.64h0.65v0.65h-0.65zM345.22 77.55h0.65v0.65h-0.65zM361.45 67.05h0.65v0.65h-0.65zM340.4 79.13h0.65v0.65h-0.65zM342.94 79.22h0.65v0.65h-0.65zM349.47 78.46h0.65v0.65h-0.65zM355.84 72.22h0.65v0.65h-0.65zM352.83 73.53h0.65v0.65h-0.65zM338.94 91.5h0.65v0.65h-0.65zM355.24 75.8h0.65v0.65h-0.65zM364.1 63.92h0.65v0.65h-0.65zM347.42 78.9h0.65v0.65h-0.65zM348.2 74.13h0.65v0.65h-0.65zM350.33 80.62h0.65v0.65h-0.65zM343.76 85.93h0.65v0.65h-0.65zM340.06 85.57h0.65v0.65h-0.65zM356.76 70.57h0.65v0.65h-0.65zM339.84 87.25h0.65v0.65h-0.65zM362.57 65.32h0.65v0.65h-0.65zM342.82 90.19h0.65v0.65h-0.65zM343.11 83.25h0.65v0.65h-0.65zM358.48 69.35h0.65v0.65h-0.65zM359.94 68.44h0.65v0.65h-0.65zM358.94 71.17h0.65v0.65h-0.65zM334.89 83.96h0.65v0.65h-0.65zM354.58 71.62h0.65v0.65h-0.65zM363.9 62.82h0.65v0.65h-0.65zM346.57 86.47h0.65v0.65h-0.65zM334.69 88.42h0.65v0.65h-0.65zM333.42 86.74h0.65v0.65h-0.65zM334.28 83.56h0.65v0.65h-0.65zM344.73 80.69h0.65v0.65h-0.65zM361.85 65.04h0.65v0.65h-0.65zM352.04 77.83h0.65v0.65h-0.65zM353.84 74.21h0.65v0.65h-0.65zM348.49 76.82h0.65v0.65h-0.65zM359.83 66.81h0.65v0.65h-0.65zM344.8 77.43h0.65v0.65h-0.65zM346.16 75.48h0.65v0.65h-0.65zM348.34 80.05h0.65v0.65h-0.65zM352.88 73.63h0.65v0.65h-0.65zM366.16 62.74h0.65v0.65h-0.65zM357.9 70.64h0.65v0.65h-0.65zM353.07 71.35h0.65v0.65h-0.65zM366.45 62.84h0.65v0.65h-0.65zM342.28 78.05h0.65v0.65h-0.65zM350.03 79.24h0.65v0.65h-0.65zM355.95 69.58h0.65v0.65h-0.65zM356.32 75.33h0.65v0.65h-0.65zM341.59 78.88h0.65v0.65h-0.65zM334.9 89.27h0.65v0.65h-0.65zM355.27 75.1h0.65v0.65h-0.65zM361.17 67.16h0.65v0.65h-0.65zM361.31 66.21h0.65v0.65h-0.65zM361.7 68.03h0.65v0.65h-0.65zM341.57 79.46h0.65v0.65h-0.65zM362.56 66.48h0.65v0.65h-0.65zM363 62.97h0.65v0.65h-0.65zM348.28 82.48h0.65v0.65h-0.65zM361.04 68.19h0.65v0.65h-0.65zM341.38 83.96h0.65v0.65h-0.65zM353.56 71.84h0.65v0.65h-0.65zM339.21 81.07h0.65v0.65h-0.65zM343.13 82.48h0.65v0.65h-0.65zM346.39 73.06h0.65v0.65h-0.65zM339.11 88.58h0.65v0.65h-0.65zM338.7 78.8h0.65v0.65h-0.65zM356.02 76.42h0.65v0.65h-0.65zM349.48 72.61h0.65v0.65h-0.65zM349.18 75.17h0.65v0.65h-0.65zM340.3 83.23h0.65v0.65h-0.65zM340.06 83.7h0.65v0.65h-0.65zM351.51 72.21h0.65v0.65h-0.65zM346.7 77.09h0.65v0.65h-0.65zM336.29 88.12h0.65v0.65h-0.65zM366.55 61.7h0.65v0.65h-0.65zM355.61 72.53h0.65v0.65h-0.65zM360.84 68.62h0.65v0.65h-0.65zM348.28 82.6h0.65v0.65h-0.65zM351.96 75.61h0.65v0.65h-0.65zM366.51 62.09h0.65v0.65h-0.65zM361.41 64.21h0.65v0.65h-0.65zM343.57 82.54h0.65v0.65h-0.65zM360.62 69.65h0.65v0.65h-0.65zM361.78 67.67h0.65v0.65h-0.65zM335.86 88.05h0.65v0.65h-0.65zM341.81 84.41h0.65v0.65h-0.65zM337.4 88.98h0.65v0.65h-0.65zM353.95 75.47h0.65v0.65h-0.65zM364.6 62.66h0.65v0.65h-0.65zM364.88 65.37h0.65v0.65h-0.65zM348.67 79.68h0.65v0.65h-0.65zM340.54 88.16h0.65v0.65h-0.65zM352.64 73.51h0.65v0.65h-0.65zM357.41 74.1h0.65v0.65h-0.65zM346.71 77.7h0.65v0.65h-0.65zM351.83 80.04h0.65v0.65h-0.65zM343.78 85.34h0.65v0.65h-0.65zM346.57 80.18h0.65v0.65h-0.65zM364.93 65.9h0.65v0.65h-0.65zM334.3 85.67h0.65v0.65h-0.65zM359.62 67.27h0.65v0.65h-0.65zM365.61 61.37h0.65v0.65h-0.65zM338.91 90.41h0.65v0.65h-0.65zM365.76 64.5h0.65v0.65h-0.65zM355.98 70.13h0.65v0.65h-0.65zM360.57 70.19h0.65v0.65h-0.65zM337.57 85.68h0.65v0.65h-0.65zM340.55 87.9h0.65v0.65h-0.65zM350.95 76.9h0.65v0.65h-0.65zM341.09 87.3h0.65v0.65h-0.65zM358.67 73.16h0.65v0.65h-0.65zM341.5 84.44h0.65v0.65h-0.65zM337.41 89.96h0.65v0.65h-0.65zM364.49 63.38h0.65v0.65h-0.65zM362.93 65.91h0.65v0.65h-0.65zM348.57 76.36h0.65v0.65h-0.65zM341.96 91.26h0.65v0.65h-0.65zM353.78 70.71h0.65v0.65h-0.65zM347.56 74.87h0.65v0.65h-0.65zM352.99 79.49h0.65v0.65h-0.65zM355.62 72.84h0.65v0.65h-0.65zM337.96 89.25h0.65v0.65h-0.65zM357.03 68.97h0.65v0.65h-0.65zM362.53 65.2h0.65v0.65h-0.65zM342.37 80.86h0.65v0.65h-0.65zM344.3 82.77h0.65v0.65h-0.65zM361.41 65.91h0.65v0.65h-0.65zM351.53 76.95h0.65v0.65h-0.65zM345.97 81.67h0.65v0.65h-0.65zM365.97 62.22h0.65v0.65h-0.65zM339.25 90.73h0.65v0.65h-0.65zM339.59 81.21h0.65v0.65h-0.65zM349.87 75.92h0.65v0.65h-0.65zM343.19 85.95h0.65v0.65h-0.65zM364.28 63.71h0.65v0.65h-0.65zM336.93 85.46h0.65v0.65h-0.65zM357.19 68.32h0.65v0.65h-0.65zM360.36 66.79h0.65v0.65h-0.65zM335.92 90.43h0.65v0.65h-0.65zM360.86 65.75h0.65v0.65h-0.65zM348.64 77.21h0.65v0.65h-0.65zM364.19 64.46h0.65v0.65h-0.65zM342.42 89.15h0.65v0.65h-0.65zM341.21 85.07h0.65v0.65h-0.65zM337.55 79.8h0.65v0.65h-0.65zM340.06 90.21h0.65v0.65h-0.65zM352 77.21h0.65v0.65h-0.65zM344.54 82.87h0.65v0.65h-0.65zM359.19 71.82h0.65v0.65h-0.65zM360.22 66.34h0.65v0.65h-0.65zM336.38 86.87h0.65v0.65h-0.65zM356.68 67.34h0.65v0.65h-0.65zM338.57 90.05h0.65v0.65h-0.65zM359.78 65.9h0.65v0.65h-0.65zM363.95 67.22h0.65v0.65h-0.65zM350.54 76.73h0.65v0.65h-0.65zM362.67 65.28h0.65v0.65h-0.65zM362.06 67.17h0.65v0.65h-0.65zM347.68 80.49h0.65v0.65h-0.65zM355.18 74.47h0.65v0.65h-0.65zM333.14 87.07h0.65v0.65h-0.65zM351.17 74.95h0.65v0.65h-0.65zM337.9 85.07h0.65v0.65h-0.65zM360.95 63.72h0.65v0.65h-0.65zM344.71 80.03h0.65v0.65h-0.65zM357.78 67.42h0.65v0.65h-0.65zM340.58 91.98h0.65v0.65h-0.65zM347.63 72.23h0.65v0.65h-0.65zM349.24 72.89h0.65v0.65h-0.65zM335.2 88.4h0.65v0.65h-0.65zM365.83 62.77h0.65v0.65h-0.65zM339.68 88.28h0.65v0.65h-0.65zM343.19 82.82h0.65v0.65h-0.65zM337.56 86.25h0.65v0.65h-0.65zM357.31 70.23h0.65v0.65h-0.65zM354.33 73.21h0.65v0.65h-0.65zM350.92 70.76h0.65v0.65h-0.65zM337.77 86.07h0.65v0.65h-0.65zM362.6 65.35h0.65v0.65h-0.65zM338.22 85.3h0.65v0.65h-0.65zM349.28 74.2h0.65v0.65h-0.65zM338.87 86.11h0.65v0.65h-0.65zM349.59 80.2h0.65v0.65h-0.65zM363.29 66.68h0.65v0.65h-0.65zM336.11 81.32h0.65v0.65h-0.65zM338.44 82.9h0.65v0.65h-0.65zM362.17 67.65h0.65v0.65h-0.65zM347.65 77.02h0.65v0.65h-0.65zM360.77 65.17h0.65v0.65h-0.65zM364.83 63.3h0.65v0.65h-0.65zM359.27 67.48h0.65v0.65h-0.65zM346.97 81.73h0.65v0.65h-0.65zM352.21 81.29h0.65v0.65h-0.65zM363.87 64.03h0.65v0.65h-0.65zM361.11 67.14h0.65v0.65h-0.65zM350.99 74.64h0.65v0.65h-0.65zM365.89 63.46h0.65v0.65h-0.65zM347.85 77.14h0.65v0.65h-0.65zM353.95 70.63h0.65v0.65h-0.65zM339.18 89.85h0.65v0.65h-0.65zM348.39 77.06h0.65v0.65h-0.65zM339.42 85.62h0.65v0.65h-0.65zM366.06 62.9h0.65v0.65h-0.65zM362.32 68.91h0.65v0.65h-0.65zM333.35 85.39h0.65v0.65h-0.65zM355.19 71.49h0.65v0.65h-0.65zM347.01 85.73h0.65v0.65h-0.65zM354.28 76.82h0.65v0.65h-0.65zM341.53 80.91h0.65v0.65h-0.65zM346.31 84.03h0.65v0.65h-0.65zM344.06 80.29h0.65v0.65h-0.65zM353.28 72.33h0.65v0.65h-0.65zM364.91 62.45h0.65v0.65h-0.65zM349.71 76.44h0.65v0.65h-0.65zM352.49 75.3h0.65v0.65h-0.65zM340.15 86.98h0.65v0.65h-0.65zM342.85 79.66h0.65v0.65h-0.65zM343.78 83.95h0.65v0.65h-0.65zM333.76 82.43h0.65v0.65h-0.65zM353.58 71.66h0.65v0.65h-0.65zM352.51 72.99h0.65v0.65h-0.65zM356.9 69.04h0.65v0.65h-0.65zM347.26 73.99h0.65v0.65h-0.65zM349.18 75.66h0.65v0.65h-0.65zM344.95 80.98h0.65v0.65h-0.65zM352.5 76.69h0.65v0.65h-0.65zM346.92 78.58h0.65v0.65h-0.65zM346.05 79.55h0.65v0.65h-0.65zM362.49 65.72h0.65v0.65h-0.65zM352.86 78.45h0.65v0.65h-0.65zM345.88 83.71h0.65v0.65h-0.65zM359.48 68.03h0.65v0.65h-0.65zM344.55 90.28h0.65v0.65h-0.65zM350.53 79.08h0.65v0.65h-0.65zM335.25 85.8h0.65v0.65h-0.65zM359.22 70.09h0.65v0.65h-0.65zM339.37 87.5h0.65v0.65h-0.65zM338.74 83.87h0.65v0.65h-0.65zM357.55 72.02h0.65v0.65h-0.65zM356.21 74.28h0.65v0.65h-0.65zM348.92 72.23h0.65v0.65h-0.65zM358.41 68.94h0.65v0.65h-0.65zM347.09 72.87h0.65v0.65h-0.65zM359.34 67.05h0.65v0.65h-0.65zM364.16 67.07h0.65v0.65h-0.65zM353.7 73.35h0.65v0.65h-0.65zM353.04 78.24h0.65v0.65h-0.65zM347.71 77.26h0.65v0.65h-0.65zM360.96 68.98h0.65v0.65h-0.65zM345.12 76.74h0.65v0.65h-0.65zM346.54 73.71h0.65v0.65h-0.65zM345.22 82.43h0.65v0.65h-0.65zM345.6 76.58h0.65v0.65h-0.65zM344.53 79.77h0.65v0.65h-0.65zM360.77 68.55h0.65v0.65h-0.65zM347.35 75.17h0.65v0.65h-0.65zM340.41 83.89h0.65v0.65h-0.65zM354.13 74.51h0.65v0.65h-0.65zM356.47 76.81h0.65v0.65h-0.65zM347.79 83.38h0.65v0.65h-0.65zM363.06 67.56h0.65v0.65h-0.65zM348.8 77.96h0.65v0.65h-0.65zM336.35 88h0.65v0.65h-0.65zM359.64 68.12h0.65v0.65h-0.65zM354.12 76.87h0.65v0.65h-0.65zM351.43 75.15h0.65v0.65h-0.65zM355.84 69.42h0.65v0.65h-0.65zM354.83 74.08h0.65v0.65h-0.65zM349.08 83.12h0.65v0.65h-0.65zM350.89 74.02h0.65v0.65h-0.65zM336.55 84.92h0.65v0.65h-0.65zM354 75.27h0.65v0.65h-0.65zM356.21 77h0.65v0.65h-0.65zM347.35 72.43h0.65v0.65h-0.65zM352.27 75.29h0.65v0.65h-0.65zM343.93 79.33h0.65v0.65h-0.65zM366.42 62.74h0.65v0.65h-0.65zM336.08 83.65h0.65v0.65h-0.65zM362.9 64.09h0.65v0.65h-0.65zM365.62 61.07h0.65v0.65h-0.65zM362.82 64.42h0.65v0.65h-0.65zM344.83 82.16h0.65v0.65h-0.65zM350.17 74.06h0.65v0.65h-0.65zM340.75 84.39h0.65v0.65h-0.65zM353.96 70.81h0.65v0.65h-0.65zM366.32 61.66h0.65v0.65h-0.65zM356.66 73.5h0.65v0.65h-0.65zM360.34 68.02h0.65v0.65h-0.65zM344.69 80.92h0.65v0.65h-0.65zM344.5 80.86h0.65v0.65h-0.65zM360.59 64.8h0.65v0.65h-0.65zM339.44 81.97h0.65v0.65h-0.65zM349.54 74.23h0.65v0.65h-0.65zM355.2 71.17h0.65v0.65h-0.65zM354.08 77.28h0.65v0.65h-0.65zM348.03 78.06h0.65v0.65h-0.65zM341.03 88.62h0.65v0.65h-0.65zM341.58 90.21h0.65v0.65h-0.65zM339.49 88.23h0.65v0.65h-0.65zM362.23 67.91h0.65v0.65h-0.65zM354.68 72.73h0.65v0.65h-0.65zM334.76 88.42h0.65v0.65h-0.65zM358.72 67.26h0.65v0.65h-0.65zM349.16 83.04h0.65v0.65h-0.65zM340.27 84.67h0.65v0.65h-0.65zM364.09 64.87h0.65v0.65h-0.65zM352.53 72.24h0.65v0.65h-0.65zM349.02 80.84h0.65v0.65h-0.65zM338.86 90.42h0.65v0.65h-0.65zM365 62.33h0.65v0.65h-0.65zM347.95 76.14h0.65v0.65h-0.65zM335.34 87.07h0.65v0.65h-0.65zM364.97 64.14h0.65v0.65h-0.65zM363.04 63.98h0.65v0.65h-0.65zM360.49 66.38h0.65v0.65h-0.65zM366.31 63.8h0.65v0.65h-0.65zM352 77.19h0.65v0.65h-0.65zM346.94 78.18h0.65v0.65h-0.65zM358.04 69.82h0.65v0.65h-0.65zM363.56 66.08h0.65v0.65h-0.65zM350.75 76.48h0.65v0.65h-0.65zM338.78 82.7h0.65v0.65h-0.65zM348.51 81.99h0.65v0.65h-0.65zM354.34 75.65h0.65v0.65h-0.65zM348.88 80.67h0.65v0.65h-0.65zM348.73 79.38h0.65v0.65h-0.65zM361.46 66.86h0.65v0.65h-0.65zM346.21 79.82h0.65v0.65h-0.65zM345.44 83.28h0.65v0.65h-0.65zM345.84 86.71h0.65v0.65h-0.65zM346.52 80.81h0.65v0.65h-0.65zM339.66 84.85h0.65v0.65h-0.65zM342.63 80.95h0.65v0.65h-0.65zM362.27 67.2h0.65v0.65h-0.65zM362.34 67.19h0.65v0.65h-0.65zM361.12 67.8h0.65v0.65h-0.65zM358.94 70.6h0.65v0.65h-0.65zM348.3 80.57h0.65v0.65h-0.65zM365.13 63.03h0.65v0.65h-0.65zM351.32 75.83h0.65v0.65h-0.65zM341.72 88.81h0.65v0.65h-0.65zM357.28 69.72h0.65v0.65h-0.65zM346.77 79.38h0.65v0.65h-0.65zM344.96 87.28h0.65v0.65h-0.65zM363.48 66.18h0.65v0.65h-0.65zM353.63 76.05h0.65v0.65h-0.65zM343.9 82.35h0.65v0.65h-0.65zM354.56 69.73h0.65v0.65h-0.65zM352.46 73.1h0.65v0.65h-0.65zM339.76 89.44h0.65v0.65h-0.65zM341.89 86.04h0.65v0.65h-0.65zM355.1 70.03h0.65v0.65h-0.65zM336.47 84.19h0.65v0.65h-0.65zM350.29 74.92h0.65v0.65h-0.65zM346.15 83.24h0.65v0.65h-0.65zM343 84.15h0.65v0.65h-0.65zM338.62 85.55h0.65v0.65h-0.65zM346.28 76.55h0.65v0.65h-0.65zM364.15 64.61h0.65v0.65h-0.65zM339.11 85.73h0.65v0.65h-0.65zM356.93 71.04h0.65v0.65h-0.65zM355.26 70.15h0.65v0.65h-0.65zM357.1 72.56h0.65v0.65h-0.65zM357.26 70.16h0.65v0.65h-0.65zM350.17 84.3h0.65v0.65h-0.65zM355.3 72.42h0.65v0.65h-0.65zM364.36 64.61h0.65v0.65h-0.65zM358.26 69.07h0.65v0.65h-0.65zM335.71 87.75h0.65v0.65h-0.65zM340.82 85.77h0.65v0.65h-0.65zM348.71 80.79h0.65v0.65h-0.65zM335.18 87.18h0.65v0.65h-0.65zM343.89 88.17h0.65v0.65h-0.65zM360.34 64.69h0.65v0.65h-0.65zM341.57 80.69h0.65v0.65h-0.65zM348.13 76.65h0.65v0.65h-0.65zM333.47 87.68h0.65v0.65h-0.65zM361.66 66.54h0.65v0.65h-0.65zM334.72 86.43h0.65v0.65h-0.65zM361.94 65.59h0.65v0.65h-0.65zM342.33 82.22h0.65v0.65h-0.65zM338.94 86.88h0.65v0.65h-0.65zM363.59 63.6h0.65v0.65h-0.65zM360.38 70.51h0.65v0.65h-0.65zM349.07 80.38h0.65v0.65h-0.65zM359.23 69.31h0.65v0.65h-0.65zM336.28 85.19h0.65v0.65h-0.65zM358.38 71.93h0.65v0.65h-0.65zM359.3 69.97h0.65v0.65h-0.65zM347.13 74.36h0.65v0.65h-0.65zM336.03 87.19h0.65v0.65h-0.65zM349.56 73.35h0.65v0.65h-0.65zM365.34 64.74h0.65v0.65h-0.65zM338.86 91.13h0.65v0.65h-0.65zM357.69 70.43h0.65v0.65h-0.65zM351.18 72.99h0.65v0.65h-0.65zM365.36 62.11h0.65v0.65h-0.65zM340.79 80.11h0.65v0.65h-0.65zM335.54 86.3h0.65v0.65h-0.65zM343.3 86.09h0.65v0.65h-0.65zM347.06 83.41h0.65v0.65h-0.65zM357.92 72.78h0.65v0.65h-0.65zM342.71 83.08h0.65v0.65h-0.65zM351.38 79.73h0.65v0.65h-0.65zM364.42 63.18h0.65v0.65h-0.65zM363.69 65.64h0.65v0.65h-0.65zM337.53 83.29h0.65v0.65h-0.65zM360.58 66.51h0.65v0.65h-0.65zM352.5 74.39h0.65v0.65h-0.65zM355.37 70.09h0.65v0.65h-0.65zM351.53 70.03h0.65v0.65h-0.65zM361.83 66.93h0.65v0.65h-0.65zM338.11 85.72h0.65v0.65h-0.65zM343.72 86.25h0.65v0.65h-0.65zM336.65 87.52h0.65v0.65h-0.65zM358.15 71.02h0.65v0.65h-0.65zM350.49 78.51h0.65v0.65h-0.65zM350.94 77.71h0.65v0.65h-0.65zM346.93 79.89h0.65v0.65h-0.65zM335.98 89.93h0.65v0.65h-0.65zM366.55 62.02h0.65v0.65h-0.65zM357.28 69.04h0.65v0.65h-0.65zM365.93 62.07h0.65v0.65h-0.65zM350.22 75.58h0.65v0.65h-0.65zM349.68 78.47h0.65v0.65h-0.65zM337.45 91.78h0.65v0.65h-0.65zM363.61 63.3h0.65v0.65h-0.65zM363.98 62.72h0.65v0.65h-0.65zM355.74 71.41h0.65v0.65h-0.65zM341.2 87.71h0.65v0.65h-0.65zM336.45 89.39h0.65v0.65h-0.65zM340.33 76.59h0.65v0.65h-0.65zM337.92 80.92h0.65v0.65h-0.65zM363.42 62.63h0.65v0.65h-0.65zM341.34 85.97h0.65v0.65h-0.65zM356.42 66.43h0.65v0.65h-0.65zM346.96 82.25h0.65v0.65h-0.65zM348.8 84.79h0.65v0.65h-0.65zM344.88 77.18h0.65v0.65h-0.65zM361.15 66.13h0.65v0.65h-0.65zM345.47 86.14h0.65v0.65h-0.65zM355.46 72.65h0.65v0.65h-0.65zM360.47 66.11h0.65v0.65h-0.65zM349.7 74.63h0.65v0.65h-0.65zM344.53 81.21h0.65v0.65h-0.65zM355.56 75.79h0.65v0.65h-0.65zM342 87.03h0.65v0.65h-0.65zM349.88 78.13h0.65v0.65h-0.65zM336.11 88.2h0.65v0.65h-0.65zM350.06 78.57h0.65v0.65h-0.65zM337.85 92.6h0.65v0.65h-0.65zM362.76 67.38h0.65v0.65h-0.65zM345.9 74.7h0.65v0.65h-0.65zM342.62 80.06h0.65v0.65h-0.65zM346.45 75.6h0.65v0.65h-0.65zM342.92 76.85h0.65v0.65h-0.65zM361.81 67.24h0.65v0.65h-0.65zM364.08 64.84h0.65v0.65h-0.65zM350.43 78.76h0.65v0.65h-0.65zM352.31 73.2h0.65v0.65h-0.65zM338.88 88.5h0.65v0.65h-0.65zM364.39 64.9h0.65v0.65h-0.65zM354.11 71.64h0.65v0.65h-0.65zM362.22 68.66h0.65v0.65h-0.65zM355.2 73.58h0.65v0.65h-0.65zM348.39 74.01h0.65v0.65h-0.65zM355.19 71.12h0.65v0.65h-0.65zM363.87 65.81h0.65v0.65h-0.65zM336.99 90h0.65v0.65h-0.65zM351.81 80.07h0.65v0.65h-0.65zM336.58 85.85h0.65v0.65h-0.65zM352.2 71.95h0.65v0.65h-0.65zM345.82 75.18h0.65v0.65h-0.65zM347.13 77.98h0.65v0.65h-0.65zM340.67 88.68h0.65v0.65h-0.65zM355.53 77.88h0.65v0.65h-0.65zM339.7 87.69h0.65v0.65h-0.65zM336.72 85.38h0.65v0.65h-0.65zM351.86 74.78h0.65v0.65h-0.65zM354.49 76.31h0.65v0.65h-0.65zM341.19 82.06h0.65v0.65h-0.65zM350.95 74.86h0.65v0.65h-0.65zM355.09 74.79h0.65v0.65h-0.65zM338.4 88.68h0.65v0.65h-0.65zM350.52 79.1h0.65v0.65h-0.65zM356.53 68.33h0.65v0.65h-0.65zM339.33 87.92h0.65v0.65h-0.65zM338.33 82.33h0.65v0.65h-0.65zM364.56 61.79h0.65v0.65h-0.65zM337.77 83.9h0.65v0.65h-0.65zM360.44 68.87h0.65v0.65h-0.65zM347.36 79.79h0.65v0.65h-0.65zM334.39 87.82h0.65v0.65h-0.65zM343.7 80.23h0.65v0.65h-0.65zM355.12 67.18h0.65v0.65h-0.65zM356.13 73.88h0.65v0.65h-0.65zM361.95 64.53h0.65v0.65h-0.65zM340.28 84.77h0.65v0.65h-0.65zM358.25 67.16h0.65v0.65h-0.65zM356.95 71.01h0.65v0.65h-0.65zM345.95 78.12h0.65v0.65h-0.65zM360.26 71.16h0.65v0.65h-0.65zM335.34 87.1h0.65v0.65h-0.65zM355.74 74.54h0.65v0.65h-0.65zM361.3 68.14h0.65v0.65h-0.65zM341.66 89.89h0.65v0.65h-0.65zM341.57 80.7h0.65v0.65h-0.65zM336.86 79.23h0.65v0.65h-0.65zM354.46 74.52h0.65v0.65h-0.65zM339.71 87.62h0.65v0.65h-0.65zM360.53 67.4h0.65v0.65h-0.65zM339.03 82.23h0.65v0.65h-0.65zM356.49 70.05h0.65v0.65h-0.65zM349.61 81.83h0.65v0.65h-0.65zM354.78 77.63h0.65v0.65h-0.65zM358.07 71.71h0.65v0.65h-0.65zM347.31 81.65h0.65v0.65h-0.65zM363.59 66.26h0.65v0.65h-0.65zM361.1 68.07h0.65v0.65h-0.65zM361.16 66.99h0.65v0.65h-0.65zM355.43 69.32h0.65v0.65h-0.65zM341.76 87.1h0.65v0.65h-0.65zM360.39 64.39h0.65v0.65h-0.65zM356.3 74.74h0.65v0.65h-0.65zM336.69 86.57h0.65v0.65h-0.65zM363.92 65.3h0.65v0.65h-0.65zM354.64 74.22h0.65v0.65h-0.65zM346.81 79.89h0.65v0.65h-0.65zM348.29 74.73h0.65v0.65h-0.65zM345.3 78.62h0.65v0.65h-0.65zM333.71 87.64h0.65v0.65h-0.65zM334.82 87.98h0.65v0.65h-0.65zM350.16 77.41h0.65v0.65h-0.65zM339.57 85.39h0.65v0.65h-0.65zM356.18 70.74h0.65v0.65h-0.65zM352.27 77.23h0.65v0.65h-0.65zM340.85 79.39h0.65v0.65h-0.65zM365.11 62.63h0.65v0.65h-0.65zM367.17 62.73h0.65v0.65h-0.65zM359.82 68.5h0.65v0.65h-0.65zM362.93 65.55h0.65v0.65h-0.65zM353.17 69.61h0.65v0.65h-0.65zM345.83 78.63h0.65v0.65h-0.65zM364.25 67.04h0.65v0.65h-0.65zM364.61 63.22h0.65v0.65h-0.65zM358.4 67.35h0.65v0.65h-0.65zM356.83 67.07h0.65v0.65h-0.65zM345.98 79.61h0.65v0.65h-0.65zM352.04 73.7h0.65v0.65h-0.65zM346.13 80.63h0.65v0.65h-0.65zM347.69 83.32h0.65v0.65h-0.65zM346.51 79.13h0.65v0.65h-0.65zM342.94 82.99h0.65v0.65h-0.65zM341.5 88.25h0.65v0.65h-0.65zM336.65 90.93h0.65v0.65h-0.65zM347.69 75.47h0.65v0.65h-0.65zM352.77 73.39h0.65v0.65h-0.65zM338.33 89.06h0.65v0.65h-0.65zM343.34 79.72h0.65v0.65h-0.65zM354.97 77.03h0.65v0.65h-0.65zM363.99 62.59h0.65v0.65h-0.65zM356.5 76.73h0.65v0.65h-0.65zM338.79 88.71h0.65v0.65h-0.65zM367.01 62.85h0.65v0.65h-0.65zM346.68 79.99h0.65v0.65h-0.65zM361.7 64.4h0.65v0.65h-0.65zM344.23 82.39h0.65v0.65h-0.65zM344.52 83.9h0.65v0.65h-0.65zM343.72 82.3h0.65v0.65h-0.65zM357.65 70.28h0.65v0.65h-0.65zM343.71 86.63h0.65v0.65h-0.65zM355.6 74.44h0.65v0.65h-0.65zM338.67 81.09h0.65v0.65h-0.65zM359.93 71h0.65v0.65h-0.65zM336.85 86.53h0.65v0.65h-0.65zM361.4 67.84h0.65v0.65h-0.65zM337.82 83.96h0.65v0.65h-0.65zM336.25 78.85h0.65v0.65h-0.65zM354.68 71.01h0.65v0.65h-0.65zM364.5 64.11h0.65v0.65h-0.65zM359.84 69.9h0.65v0.65h-0.65zM353.88 69.51h0.65v0.65h-0.65zM347.5 82.16h0.65v0.65h-0.65zM336.28 87.28h0.65v0.65h-0.65zM355.14 72.41h0.65v0.65h-0.65zM342.82 77h0.65v0.65h-0.65zM343.28 82.5h0.65v0.65h-0.65zM353.25 74.23h0.65v0.65h-0.65zM367.07 62.91h0.65v0.65h-0.65zM358.61 70.11h0.65v0.65h-0.65zM346.48 81.55h0.65v0.65h-0.65zM340.31 86.43h0.65v0.65h-0.65zM361.14 70.25h0.65v0.65h-0.65zM350.32 79.92h0.65v0.65h-0.65zM350.35 72.53h0.65v0.65h-0.65zM354.97 70.22h0.65v0.65h-0.65zM352.92 71.45h0.65v0.65h-0.65zM346.42 86.06h0.65v0.65h-0.65zM357.81 70h0.65v0.65h-0.65zM341.15 76.7h0.65v0.65h-0.65zM360.78 69.49h0.65v0.65h-0.65zM343.51 81.4h0.65v0.65h-0.65zM352.48 75.96h0.65v0.65h-0.65zM334.92 88.83h0.65v0.65h-0.65zM348.4 74.34h0.65v0.65h-0.65zM343.63 76.13h0.65v0.65h-0.65zM366.58 62.22h0.65v0.65h-0.65zM341.54 91.23h0.65v0.65h-0.65zM336.35 89.25h0.65v0.65h-0.65zM351.41 76.12h0.65v0.65h-0.65zM354.25 75.94h0.65v0.65h-0.65zM341.48 87.36h0.65v0.65h-0.65zM365.37 65.2h0.65v0.65h-0.65zM344.31 89.79h0.65v0.65h-0.65zM343.43 83.6h0.65v0.65h-0.65zM365.48 61.42h0.65v0.65h-0.65zM345.97 79.99h0.65v0.65h-0.65zM359.56 66.3h0.65v0.65h-0.65zM363.9 64.67h0.65v0.65h-0.65zM338.34 86.41h0.65v0.65h-0.65zM355.01 71.03h0.65v0.65h-0.65zM348.23 78.88h0.65v0.65h-0.65zM352.52 73.39h0.65v0.65h-0.65zM353.24 70.17h0.65v0.65h-0.65zM342.1 83.27h0.65v0.65h-0.65zM350.26 79.16h0.65v0.65h-0.65zM343.48 84.38h0.65v0.65h-0.65zM357.73 74.33h0.65v0.65h-0.65zM346 82.96h0.65v0.65h-0.65zM353.07 73.68h0.65v0.65h-0.65zM343.18 88.83h0.65v0.65h-0.65zM340.1 78.19h0.65v0.65h-0.65zM359.32 69.16h0.65v0.65h-0.65zM344.01 78.56h0.65v0.65h-0.65zM351.25 76.98h0.65v0.65h-0.65zM356.21 70.02h0.65v0.65h-0.65zM352.09 70.75h0.65v0.65h-0.65zM363.39 65.41h0.65v0.65h-0.65zM343.32 85.58h0.65v0.65h-0.65zM359.11 67.11h0.65v0.65h-0.65zM363.18 66.42h0.65v0.65h-0.65zM367.52 62.96h0.65v0.65h-0.65zM345.5 82.45h0.65v0.65h-0.65zM366.03 62.56h0.65v0.65h-0.65zM336.21 90.29h0.65v0.65h-0.65zM358.04 68.7h0.65v0.65h-0.65zM339.76 88.7h0.65v0.65h-0.65zM340.79 90.36h0.65v0.65h-0.65zM348.67 83.39h0.65v0.65h-0.65zM362.4 64.33h0.65v0.65h-0.65z" fill="#3a3a3a" fill-opacity="0.2"/>
<path d="M360.79 67.18h0.65v0.65h-0.65zM356.4 70.65h0.65v0.65h-0.65zM354.74 73.4h0.65v0.65h-0.65zM344.01 81.83h0.65v0.65h-0.65zM348.33 77.77h0.65v0.65h-0.65zM360.83 66.73h0.65v0.65h-0.65zM345.99 80.25h0.65v0.65h-0.65zM349.17 76.16h0.65v0.65h-0.65zM340.89 82.58h0.65v0.65h-0.65zM354.09 72.84h0.65v0.65h-0.65zM341.73 83h0.65v0.65h-0.65zM339.62 82.18h0.65v0.65h-0.65zM346.41 79.24h0.65v0.65h-0.65zM354.71 71.45h0.65v0.65h-0.65zM345 81.09h0.65v0.65h-0.65zM340.92 85.66h0.65v0.65h-0.65zM338.18 83.66h0.65v0.65h-0.65zM350.98 75.1h0.65v0.65h-0.65zM348.11 80.61h0.65v0.65h-0.65zM353.26 73.34h0.65v0.65h-0.65zM349.61 74.09h0.65v0.65h-0.65zM360.44 66.66h0.65v0.65h-0.65zM358.08 68.85h0.65v0.65h-0.65zM344.67 78.66h0.65v0.65h-0.65zM348.81 78.84h0.65v0.65h-0.65zM347.02 78.3h0.65v0.65h-0.65zM352.67 74.71h0.65v0.65h-0.65zM352 73.81h0.65v0.65h-0.65zM347.02 78.69h0.65v0.65h-0.65zM341.91 84.65h0.65v0.65h-0.65zM357.69 69.82h0.65v0.65h-0.65zM353.71 71.99h0.65v0.65h-0.65zM351.84 76.44h0.65v0.65h-0.65zM345.64 79.89h0.65v0.65h-0.65zM355.29 71.44h0.65v0.65h-0.65zM357.07 68.63h0.65v0.65h-0.65zM360.85 66.57h0.65v0.65h-0.65zM342.55 80.02h0.65v0.65h-0.65zM345.9 77.32h0.65v0.65h-0.65zM353.94 71.44h0.65v0.65h-0.65zM352.82 74.67h0.65v0.65h-0.65zM353.34 72.34h0.65v0.65h-0.65zM351.7 76.54h0.65v0.65h-0.65zM342.87 80.9h0.65v0.65h-0.65zM358.73 68.03h0.65v0.65h-0.65zM348.97 76.56h0.65v0.65h-0.65zM348.22 75.54h0.65v0.65h-0.65zM345.05 83.5h0.65v0.65h-0.65zM351.81 77.32h0.65v0.65h-0.65zM348.85 74.13h0.65v0.65h-0.65zM343.53 80.96h0.65v0.65h-0.65zM342.93 83.28h0.65v0.65h-0.65zM352.23 72.73h0.65v0.65h-0.65zM357.9 70.77h0.65v0.65h-0.65zM337.9 83.34h0.65v0.65h-0.65zM347.93 79.55h0.65v0.65h-0.65zM339.36 81.4h0.65v0.65h-0.65zM341.96 82.99h0.65v0.65h-0.65zM346.97 79.56h0.65v0.65h-0.65zM356.01 69.68h0.65v0.65h-0.65zM340.3 84.08h0.65v0.65h-0.65zM348.82 79.92h0.65v0.65h-0.65zM348.58 77.21h0.65v0.65h-0.65zM349.69 77.16h0.65v0.65h-0.65zM340 80.92h0.65v0.65h-0.65zM353.28 72.13h0.65v0.65h-0.65zM344.82 82.48h0.65v0.65h-0.65zM346.35 78.2h0.65v0.65h-0.65zM339.97 86.89h0.65v0.65h-0.65zM342.67 81.68h0.65v0.65h-0.65zM342.35 82.33h0.65v0.65h-0.65zM354.58 71.9h0.65v0.65h-0.65zM344.88 82.37h0.65v0.65h-0.65zM357.85 70.41h0.65v0.65h-0.65zM358.18 69.67h0.65v0.65h-0.65zM341.29 80.05h0.65v0.65h-0.65zM352.98 74.62h0.65v0.65h-0.65zM347.84 79.89h0.65v0.65h-0.65zM347.04 79.16h0.65v0.65h-0.65zM354.36 71.9h0.65v0.65h-0.65zM353.75 74.12h0.65v0.65h-0.65zM356.44 69.84h0.65v0.65h-0.65zM352.11 75.39h0.65v0.65h-0.65zM359.69 68.41h0.65v0.65h-0.65zM346.45 78.25h0.65v0.65h-0.65zM339.14 83.52h0.65v0.65h-0.65zM355.01 70.68h0.65v0.65h-0.65zM350.36 77.11h0.65v0.65h-0.65zM358.78 68.43h0.65v0.65h-0.65zM351.67 74.25h0.65v0.65h-0.65zM347.32 75.15h0.65v0.65h-0.65zM348.24 78.38h0.65v0.65h-0.65zM349.86 77.57h0.65v0.65h-0.65zM348.99 75.77h0.65v0.65h-0.65zM350.56 76.65h0.65v0.65h-0.65zM354.39 70.67h0.65v0.65h-0.65zM348.87 79.71h0.65v0.65h-0.65zM351.25 75.54h0.65v0.65h-0.65zM355.84 71.04h0.65v0.65h-0.65zM342.92 81.07h0.65v0.65h-0.65zM340.47 84.77h0.65v0.65h-0.65zM339.97 83.68h0.65v0.65h-0.65zM355.27 71.11h0.65v0.65h-0.65zM353.74 72.62h0.65v0.65h-0.65zM354.29 71.9h0.65v0.65h-0.65zM354.07 72.55h0.65v0.65h-0.65zM355.98 69.03h0.65v0.65h-0.65zM358.37 69.29h0.65v0.65h-0.65zM350.73 76.56h0.65v0.65h-0.65zM339.68 87.09h0.65v0.65h-0.65zM344.34 80.82h0.65v0.65h-0.65zM345.48 79.82h0.65v0.65h-0.65zM352.51 76.91h0.65v0.65h-0.65zM349.77 75.77h0.65v0.65h-0.65zM345.51 80.24h0.65v0.65h-0.65zM358.29 69.43h0.65v0.65h-0.65zM342.31 78.71h0.65v0.65h-0.65zM344.35 83.57h0.65v0.65h-0.65zM347.29 79.14h0.65v0.65h-0.65zM347.82 75.65h0.65v0.65h-0.65zM346.82 78.97h0.65v0.65h-0.65zM356.89 70.79h0.65v0.65h-0.65zM339.04 84.3h0.65v0.65h-0.65zM348.73 79.22h0.65v0.65h-0.65zM350.94 74.67h0.65v0.65h-0.65zM356.79 70.91h0.65v0.65h-0.65zM344.61 79.79h0.65v0.65h-0.65zM350.55 72.99h0.65v0.65h-0.65zM349.59 78.13h0.65v0.65h-0.65zM358.06 68.65h0.65v0.65h-0.65zM338.16 82.99h0.65v0.65h-0.65zM340.33 85.89h0.65v0.65h-0.65zM358.47 69.83h0.65v0.65h-0.65zM343.22 83.26h0.65v0.65h-0.65zM358.58 67.24h0.65v0.65h-0.65zM349.16 75.65h0.65v0.65h-0.65zM353.42 72.58h0.65v0.65h-0.65zM342.43 80.94h0.65v0.65h-0.65zM358.02 70.42h0.65v0.65h-0.65zM345.12 84.23h0.65v0.65h-0.65zM342.52 86.05h0.65v0.65h-0.65zM360.27 67.89h0.65v0.65h-0.65zM347.45 77.48h0.65v0.65h-0.65zM358.61 68.02h0.65v0.65h-0.65zM354.06 72.77h0.65v0.65h-0.65zM354.33 72.64h0.65v0.65h-0.65zM339.98 85.81h0.65v0.65h-0.65zM342.96 80.57h0.65v0.65h-0.65zM351.2 74.19h0.65v0.65h-0.65zM343.31 84.55h0.65v0.65h-0.65zM358.66 67.8h0.65v0.65h-0.65zM343.91 85.33h0.65v0.65h-0.65zM357 71.01h0.65v0.65h-0.65zM339.08 85.17h0.65v0.65h-0.65zM346.63 78.1h0.65v0.65h-0.65zM350.35 74.87h0.65v0.65h-0.65zM338.69 81.96h0.65v0.65h-0.65zM348.49 77.98h0.65v0.65h-0.65zM354.68 73.81h0.65v0.65h-0.65zM342.72 85.32h0.65v0.65h-0.65zM350.3 75.68h0.65v0.65h-0.65zM344.06 79.19h0.65v0.65h-0.65zM350.79 77.61h0.65v0.65h-0.65zM359.8 68.31h0.65v0.65h-0.65zM358.23 69.49h0.65v0.65h-0.65zM351.65 74h0.65v0.65h-0.65zM341.52 83.13h0.65v0.65h-0.65zM346.18 82.53h0.65v0.65h-0.65zM342.3 80.06h0.65v0.65h-0.65zM359.84 68.58h0.65v0.65h-0.65zM360.36 67.25h0.65v0.65h-0.65zM347.58 80.83h0.65v0.65h-0.65zM339 84.3h0.65v0.65h-0.65zM345.29 78.69h0.65v0.65h-0.65zM355.34 71.68h0.65v0.65h-0.65zM342.75 82.77h0.65v0.65h-0.65zM339.05 83.47h0.65v0.65h-0.65zM351.88 76.01h0.65v0.65h-0.65zM356.61 71.08h0.65v0.65h-0.65zM351.72 74.17h0.65v0.65h-0.65zM350.1 76.05h0.65v0.65h-0.65zM340.3 83.65h0.65v0.65h-0.65zM351.19 74.37h0.65v0.65h-0.65zM345.44 77.96h0.65v0.65h-0.65zM343.39 84.19h0.65v0.65h-0.65zM343.28 83.8h0.65v0.65h-0.65zM357.3 69.4h0.65v0.65h-0.65zM357.9 68.67h0.65v0.65h-0.65zM340.7 84.27h0.65v0.65h-0.65zM358.67 69.31h0.65v0.65h-0.65zM351.18 76.26h0.65v0.65h-0.65zM340.45 82.9h0.65v0.65h-0.65zM350.64 75.67h0.65v0.65h-0.65zM349.54 75.7h0.65v0.65h-0.65zM348.03 78.65h0.65v0.65h-0.65zM343.65 82.69h0.65v0.65h-0.65zM358.35 69.28h0.65v0.65h-0.65zM349.9 76.34h0.65v0.65h-0.65zM359.68 67.56h0.65v0.65h-0.65zM349.76 76.79h0.65v0.65h-0.65zM353.21 71.65h0.65v0.65h-0.65zM343.66 81.53h0.65v0.65h-0.65zM343.84 80.15h0.65v0.65h-0.65zM337.98 84h0.65v0.65h-0.65zM345.84 81.19h0.65v0.65h-0.65zM359.03 69.2h0.65v0.65h-0.65zM344.48 82.27h0.65v0.65h-0.65zM352.14 74.67h0.65v0.65h-0.65zM337.98 82.57h0.65v0.65h-0.65zM337.31 82.76h0.65v0.65h-0.65zM351.95 73.41h0.65v0.65h-0.65zM344.53 77.4h0.65v0.65h-0.65zM339.44 86.59h0.65v0.65h-0.65zM359.32 67.28h0.65v0.65h-0.65zM341.14 85.04h0.65v0.65h-0.65zM343.84 81.04h0.65v0.65h-0.65zM340.16 81.04h0.65v0.65h-0.65zM346.66 79.76h0.65v0.65h-0.65zM344 82.36h0.65v0.65h-0.65zM356.04 70.25h0.65v0.65h-0.65zM347.84 74.96h0.65v0.65h-0.65zM358.94 68.31h0.65v0.65h-0.65zM355.16 71.06h0.65v0.65h-0.65zM352.22 73.41h0.65v0.65h-0.65zM357.58 69.56h0.65v0.65h-0.65zM354.38 71.71h0.65v0.65h-0.65zM347.67 80.71h0.65v0.65h-0.65zM355.99 72.29h0.65v0.65h-0.65zM360.13 68.36h0.65v0.65h-0.65zM358.83 68.33h0.65v0.65h-0.65zM355.56 69.22h0.65v0.65h-0.65zM350.53 73.04h0.65v0.65h-0.65zM356.55 71.16h0.65v0.65h-0.65zM357.74 68.61h0.65v0.65h-0.65zM360.53 68.42h0.65v0.65h-0.65zM357.16 71.73h0.65v0.65h-0.65zM344.58 81.56h0.65v0.65h-0.65zM342.27 81.34h0.65v0.65h-0.65zM348.89 77.17h0.65v0.65h-0.65zM359.42 68.85h0.65v0.65h-0.65zM353.76 72.46h0.65v0.65h-0.65zM355.61 70.11h0.65v0.65h-0.65zM355.84 69.93h0.65v0.65h-0.65zM348.77 79.38h0.65v0.65h-0.65zM357.69 70.12h0.65v0.65h-0.65zM344.6 77.6h0.65v0.65h-0.65zM355.77 69.88h0.65v0.65h-0.65zM338.36 85.64h0.65v0.65h-0.65zM341 83.86h0.65v0.65h-0.65zM356.17 69.46h0.65v0.65h-0.65zM349.37 77.74h0.65v0.65h-0.65zM346.25 79.7h0.65v0.65h-0.65zM357.94 70.04h0.65v0.65h-0.65zM352.35 73.83h0.65v0.65h-0.65zM345.03 81.21h0.65v0.65h-0.65zM353.42 71.34h0.65v0.65h-0.65zM356.93 70.57h0.65v0.65h-0.65zM341.07 83.48h0.65v0.65h-0.65zM356.88 69.8h0.65v0.65h-0.65zM342.26 81.97h0.65v0.65h-0.65zM344.7 82.96h0.65v0.65h-0.65zM358.23 68.13h0.65v0.65h-0.65zM349.91 76.12h0.65v0.65h-0.65zM360.98 67h0.65v0.65h-0.65zM344.16 85.16h0.65v0.65h-0.65zM350.85 76.29h0.65v0.65h-0.65zM359.76 67.57h0.65v0.65h-0.65zM348.97 77.41h0.65v0.65h-0.65zM345.74 78.34h0.65v0.65h-0.65zM338.49 81.4h0.65v0.65h-0.65zM349.54 75.38h0.65v0.65h-0.65zM348.77 80.72h0.65v0.65h-0.65zM352.89 72.31h0.65v0.65h-0.65zM339.26 83.42h0.65v0.65h-0.65zM359.77 67h0.65v0.65h-0.65zM345.93 78.12h0.65v0.65h-0.65zM345.83 77.37h0.65v0.65h-0.65zM349.48 74.92h0.65v0.65h-0.65zM348.11 74.44h0.65v0.65h-0.65zM347.01 79.28h0.65v0.65h-0.65zM357.26 69.69h0.65v0.65h-0.65zM353.23 71.92h0.65v0.65h-0.65zM355.18 71.1h0.65v0.65h-0.65zM358.45 68.51h0.65v0.65h-0.65zM337.19 82.89h0.65v0.65h-0.65zM347.41 81.5h0.65v0.65h-0.65zM359.37 69.56h0.65v0.65h-0.65zM340.45 81.68h0.65v0.65h-0.65zM338.68 84.09h0.65v0.65h-0.65zM347.3 78.33h0.65v0.65h-0.65zM343.34 78.81h0.65v0.65h-0.65zM355.48 70.92h0.65v0.65h-0.65zM349.05 79.05h0.65v0.65h-0.65zM360.13 66.49h0.65v0.65h-0.65zM352.78 71.73h0.65v0.65h-0.65zM348.49 80.23h0.65v0.65h-0.65zM353.82 72.26h0.65v0.65h-0.65zM345.46 81.41h0.65v0.65h-0.65zM357.64 70.54h0.65v0.65h-0.65zM356.19 70.33h0.65v0.65h-0.65zM350.47 76.35h0.65v0.65h-0.65zM358.63 69.33h0.65v0.65h-0.65zM343.93 84.51h0.65v0.65h-0.65zM346.32 80.84h0.65v0.65h-0.65zM347.38 78.83h0.65v0.65h-0.65zM360.48 67.4h0.65v0.65h-0.65zM345.31 79.79h0.65v0.65h-0.65zM359.84 67.72h0.65v0.65h-0.65zM349.09 78.3h0.65v0.65h-0.65zM340.86 83.8h0.65v0.65h-0.65zM348.1 79.56h0.65v0.65h-0.65zM360.16 67.18h0.65v0.65h-0.65zM359.23 68.6h0.65v0.65h-0.65zM349.27 77.96h0.65v0.65h-0.65zM355.36 70.05h0.65v0.65h-0.65zM346.55 80.98h0.65v0.65h-0.65zM350.24 78.17h0.65v0.65h-0.65zM350.46 74.4h0.65v0.65h-0.65zM343.17 78.87h0.65v0.65h-0.65zM347.68 80.1h0.65v0.65h-0.65zM344.36 79.66h0.65v0.65h-0.65zM352.61 73.63h0.65v0.65h-0.65zM341.61 87.71h0.65v0.65h-0.65zM356.67 69.39h0.65v0.65h-0.65zM359.5 67.5h0.65v0.65h-0.65zM344.49 80.84h0.65v0.65h-0.65zM351.14 75.64h0.65v0.65h-0.65zM355.2 71.01h0.65v0.65h-0.65zM356.2 69.7h0.65v0.65h-0.65zM340.4 83.13h0.65v0.65h-0.65zM360.75 67.7h0.65v0.65h-0.65zM352.34 73.15h0.65v0.65h-0.65zM345.89 76.59h0.65v0.65h-0.65zM359.64 67.64h0.65v0.65h-0.65zM346.49 77.37h0.65v0.65h-0.65zM356.43 70.06h0.65v0.65h-0.65zM358.35 69.28h0.65v0.65h-0.65zM349.3 74.29h0.65v0.65h-0.65zM358.7 68.32h0.65v0.65h-0.65zM341.27 83.13h0.65v0.65h-0.65zM348.08 78.27h0.65v0.65h-0.65zM350.52 77.04h0.65v0.65h-0.65zM350.62 73.71h0.65v0.65h-0.65zM346.93 77.37h0.65v0.65h-0.65zM357.34 69.33h0.65v0.65h-0.65zM356.4 70.81h0.65v0.65h-0.65zM353.29 72.54h0.65v0.65h-0.65zM358.72 68.47h0.65v0.65h-0.65zM355.58 71.93h0.65v0.65h-0.65zM357.69 68.19h0.65v0.65h-0.65zM340.93 82.84h0.65v0.65h-0.65zM351.22 72.84h0.65v0.65h-0.65zM345.98 82.12h0.65v0.65h-0.65zM357.32 70.25h0.65v0.65h-0.65zM344.81 80.87h0.65v0.65h-0.65zM341.46 85.14h0.65v0.65h-0.65zM354.86 74.14h0.65v0.65h-0.65zM346.32 78.67h0.65v0.65h-0.65zM355.31 73.59h0.65v0.65h-0.65zM346.64 80.62h0.65v0.65h-0.65zM338.09 85.37h0.65v0.65h-0.65zM344.28 80.16h0.65v0.65h-0.65zM338.33 83.12h0.65v0.65h-0.65zM356.89 70.51h0.65v0.65h-0.65zM339.68 85.56h0.65v0.65h-0.65zM343.08 81.08h0.65v0.65h-0.65zM352.33 73.34h0.65v0.65h-0.65zM351.86 75.57h0.65v0.65h-0.65zM343.6 81.99h0.65v0.65h-0.65zM357.07 69.26h0.65v0.65h-0.65zM356.57 70.09h0.65v0.65h-0.65zM355.98 70.79h0.65v0.65h-0.65zM337.79 83.89h0.65v0.65h-0.65zM339.88 84.73h0.65v0.65h-0.65zM352.53 73.55h0.65v0.65h-0.65zM346.3 76.81h0.65v0.65h-0.65zM349.53 75.45h0.65v0.65h-0.65zM357.85 68.88h0.65v0.65h-0.65zM361.19 66.91h0.65v0.65h-0.65zM361.04 67.17h0.65v0.65h-0.65zM342.09 84.06h0.65v0.65h-0.65zM348.16 76.51h0.65v0.65h-0.65zM347.49 75.71h0.65v0.65h-0.65zM346.55 79.76h0.65v0.65h-0.65zM345.83 81.61h0.65v0.65h-0.65zM342.75 82.08h0.65v0.65h-0.65zM347.31 76.23h0.65v0.65h-0.65zM342.74 81.9h0.65v0.65h-0.65zM343.81 80.05h0.65v0.65h-0.65zM350.49 74.36h0.65v0.65h-0.65zM360.37 68.12h0.65v0.65h-0.65zM354.22 71.43h0.65v0.65h-0.65zM339.97 84.84h0.65v0.65h-0.65zM358 69.24h0.65v0.65h-0.65zM354.42 71.55h0.65v0.65h-0.65zM345.95 78.44h0.65v0.65h-0.65zM340.03 85.76h0.65v0.65h-0.65zM359.08 68.88h0.65v0.65h-0.65zM356.37 70.05h0.65v0.65h-0.65zM341.06 84.1h0.65v0.65h-0.65z" fill="#3a3a3a" fill-opacity="0.24"/>
<path d="M336.69 90.79h0.65v0.65h-0.65zM362.13 62.17h0.65v0.65h-0.65zM361.58 66.8h0.65v0.65h-0.65zM356.21 67.11h0.65v0.65h-0.65zM338.41 94.29h0.65v0.65h-0.65zM349.71 81.05h0.65v0.65h-0.65zM337.9 88.4h0.65v0.65h-0.65zM361.32 66.71h0.65v0.65h-0.65zM343 78.72h0.65v0.65h-0.65zM352.53 69.16h0.65v0.65h-0.65zM360.84 70.67h0.65v0.65h-0.65zM337.61 93.09h0.65v0.65h-0.65zM350.44 76.69h0.65v0.65h-0.65zM348.52 88.32h0.65v0.65h-0.65zM357.14 70.45h0.65v0.65h-0.65zM349.95 79.56h0.65v0.65h-0.65zM331.28 90.61h0.65v0.65h-0.65zM362.24 69.24h0.65v0.65h-0.65zM345.93 78.62h0.65v0.65h-0.65zM337.5 85.72h0.65v0.65h-0.65zM360.34 65.89h0.65v0.65h-0.65zM351.21 77.11h0.65v0.65h-0.65zM336.26 92.17h0.65v0.65h-0.65zM352.67 79.02h0.65v0.65h-0.65zM351.39 74.31h0.65v0.65h-0.65zM329.79 89.27h0.65v0.65h-0.65zM356.98 74.35h0.65v0.65h-0.65zM345.19 83.42h0.65v0.65h-0.65zM352.86 73.44h0.65v0.65h-0.65zM350.91 72.95h0.65v0.65h-0.65zM352.74 72.05h0.65v0.65h-0.65zM361.15 66.53h0.65v0.65h-0.65zM352.28 77.71h0.65v0.65h-0.65zM363.97 64.33h0.65v0.65h-0.65zM334.46 83.51h0.65v0.65h-0.65zM360.11 71.07h0.65v0.65h-0.65zM351.89 75h0.65v0.65h-0.65zM333.19 91.09h0.65v0.65h-0.65zM363.34 64.39h0.65v0.65h-0.65zM331.72 92.54h0.65v0.65h-0.65zM340.82 89.4h0.65v0.65h-0.65zM352.56 73.19h0.65v0.65h-0.65zM359.5 63.39h0.65v0.65h-0.65zM334.69 81.49h0.65v0.65h-0.65zM341.3 95.66h0.65v0.65h-0.65zM335.05 92.38h0.65v0.65h-0.65zM362.88 64.1h0.65v0.65h-0.65zM356.52 68.42h0.65v0.65h-0.65zM334.9 88.33h0.65v0.65h-0.65zM356.9 70.14h0.65v0.65h-0.65zM360.45 67.07h0.65v0.65h-0.65zM359.04 68.12h0.65v0.65h-0.65zM350.52 78.72h0.65v0.65h-0.65zM349.15 73.06h0.65v0.65h-0.65zM350.89 76.56h0.65v0.65h-0.65zM331.51 91.95h0.65v0.65h-0.65zM348.41 77.19h0.65v0.65h-0.65zM334.59 98.26h0.65v0.65h-0.65zM359.14 75.25h0.65v0.65h-0.65zM358.28 69.96h0.65v0.65h-0.65zM348.72 83.31h0.65v0.65h-0.65zM340.88 91.66h0.65v0.65h-0.65zM353.09 82.05h0.65v0.65h-0.65zM346.29 87.73h0.65v0.65h-0.65zM360.57 69.83h0.65v0.65h-0.65zM360.3 69.64h0.65v0.65h-0.65zM342.6 87.15h0.65v0.65h-0.65zM357.69 72.59h0.65v0.65h-0.65zM364.85 65.81h0.65v0.65h-0.65zM357.1 71.55h0.65v0.65h-0.65zM334.81 91.48h0.65v0.65h-0.65zM351.86 71.1h0.65v0.65h-0.65zM344.27 78.8h0.65v0.65h-0.65zM341.55 79.14h0.65v0.65h-0.65zM359.8 64.62h0.65v0.65h-0.65zM356.41 73.21h0.65v0.65h-0.65zM357.57 75.48h0.65v0.65h-0.65zM359.54 68.74h0.65v0.65h-0.65zM346.38 82.65h0.65v0.65h-0.65zM361.46 64.62h0.65v0.65h-0.65zM345.05 80.54h0.65v0.65h-0.65zM338.84 83.35h0.65v0.65h-0.65zM341.95 83.45h0.65v0.65h-0.65zM346.62 82.11h0.65v0.65h-0.65zM361.5 62.14h0.65v0.65h-0.65zM352.58 67.24h0.65v0.65h-0.65zM361.49 71.65h0.65v0.65h-0.65zM339.87 86.18h0.65v0.65h-0.65zM338.73 86.59h0.65v0.65h-0.65zM338.94 88.07h0.65v0.65h-0.65zM361.52 68.41h0.65v0.65h-0.65zM355.63 69.9h0.65v0.65h-0.65zM359.1 73.24h0.65v0.65h-0.65zM345.89 75.45h0.65v0.65h-0.65zM335.74 93.04h0.65v0.65h-0.65zM350.03 73.51h0.65v0.65h-0.65zM334.44 87.96h0.65v0.65h-0.65zM346.8 76.47h0.65v0.65h-0.65zM360.43 63.86h0.65v0.65h-0.65zM347.87 85.75h0.65v0.65h-0.65zM361.78 63.33h0.65v0.65h-0.65zM334.59 92.84h0.65v0.65h-0.65zM362.18 67.76h0.65v0.65h-0.65zM331.1 94.21h0.65v0.65h-0.65zM365.88 66.15h0.65v0.65h-0.65zM332.47 84.89h0.65v0.65h-0.65zM354.96 74.47h0.65v0.65h-0.65zM355.65 71.53h0.65v0.65h-0.65zM337.28 84.59h0.65v0.65h-0.65zM331.07 93.25h0.65v0.65h-0.65zM337.7 84.87h0.65v0.65h-0.65zM361.61 63.36h0.65v0.65h-0.65zM350.46 72.03h0.65v0.65h-0.65zM350.09 75.5h0.65v0.65h-0.65zM330.45 90.2h0.65v0.65h-0.65zM336.33 96.17h0.65v0.65h-0.65zM335.97 90.81h0.65v0.65h-0.65zM353.9 73.56h0.65v0.65h-0.65zM340.24 86.62h0.65v0.65h-0.65zM332.29 89.74h0.65v0.65h-0.65zM337.37 81.65h0.65v0.65h-0.65zM347.78 83.18h0.65v0.65h-0.65zM358.77 75.97h0.65v0.65h-0.65zM345.87 87.96h0.65v0.65h-0.65zM361.65 72.12h0.65v0.65h-0.65zM339.54 89h0.65v0.65h-0.65zM360.03 68.92h0.65v0.65h-0.65zM336.11 82.01h0.65v0.65h-0.65zM334.07 97.56h0.65v0.65h-0.65zM350.13 71.49h0.65v0.65h-0.65zM334.61 86.84h0.65v0.65h-0.65zM347.98 87.48h0.65v0.65h-0.65zM351.17 73.04h0.65v0.65h-0.65zM332.14 91.91h0.65v0.65h-0.65zM332.57 95.67h0.65v0.65h-0.65zM362.17 64.02h0.65v0.65h-0.65zM342.75 83.28h0.65v0.65h-0.65zM356.02 69.15h0.65v0.65h-0.65zM336.93 84.58h0.65v0.65h-0.65zM337.6 94.55h0.65v0.65h-0.65zM339.88 87.9h0.65v0.65h-0.65zM341.47 80.81h0.65v0.65h-0.65zM356.44 71.12h0.65v0.65h-0.65zM340.17 90.14h0.65v0.65h-0.65zM341.16 80.26h0.65v0.65h-0.65zM349.22 82.92h0.65v0.65h-0.65zM362.01 70.03h0.65v0.65h-0.65zM359.4 69.48h0.65v0.65h-0.65zM341.88 90.88h0.65v0.65h-0.65zM335.46 92.01h0.65v0.65h-0.65zM345.91 80.23h0.65v0.65h-0.65zM333.5 89.84h0.65v0.65h-0.65zM347.64 80.75h0.65v0.65h-0.65zM347.16 82.84h0.65v0.65h-0.65zM337.67 94.17h0.65v0.65h-0.65zM347.45 81.24h0.65v0.65h-0.65zM361.36 64.92h0.65v0.65h-0.65zM337.95 87.59h0.65v0.65h-0.65zM352 67.82h0.65v0.65h-0.65zM361.63 63.49h0.65v0.65h-0.65zM362.41 71.22h0.65v0.65h-0.65zM351.94 82.26h0.65v0.65h-0.65zM341.74 90.41h0.65v0.65h-0.65zM343.3 93.85h0.65v0.65h-0.65zM333.03 91.63h0.65v0.65h-0.65zM357.03 73.95h0.65v0.65h-0.65zM342.87 86.44h0.65v0.65h-0.65zM336.29 86.97h0.65v0.65h-0.65zM332.36 88.51h0.65v0.65h-0.65zM362.59 63.07h0.65v0.65h-0.65zM331.61 94.92h0.65v0.65h-0.65zM352.08 73.94h0.65v0.65h-0.65zM346.47 80.13h0.65v0.65h-0.65zM354.07 70.25h0.65v0.65h-0.65zM347.06 78.85h0.65v0.65h-0.65zM350.25 75.19h0.65v0.65h-0.65zM356.71 68.83h0.65v0.65h-0.65zM362.03 65.03h0.65v0.65h-0.65zM337.83 77.86h0.65v0.65h-0.65zM361.26 67.06h0.65v0.65h-0.65zM352.18 77.68h0.65v0.65h-0.65zM361.72 67.61h0.65v0.65h-0.65zM333.35 95.09h0.65v0.65h-0.65zM346.54 82.27h0.65v0.65h-0.65zM356.67 72.41h0.65v0.65h-0.65zM352.36 78.84h0.65v0.65h-0.65zM352.64 72.8h0.65v0.65h-0.65zM333.78 97.08h0.65v0.65h-0.65zM346.17 79.37h0.65v0.65h-0.65zM350.52 81.65h0.65v0.65h-0.65zM363.21 63.21h0.65v0.65h-0.65zM352.36 76.33h0.65v0.65h-0.65zM343.28 94.53h0.65v0.65h-0.65zM363.03 62.51h0.65v0.65h-0.65zM363 65.02h0.65v0.65h-0.65zM339.49 82.63h0.65v0.65h-0.65zM354.11 75.03h0.65v0.65h-0.65zM330.34 92.79h0.65v0.65h-0.65zM359.06 69.69h0.65v0.65h-0.65zM328.93 92.82h0.65v0.65h-0.65zM344.77 79.42h0.65v0.65h-0.65zM349.25 76.99h0.65v0.65h-0.65zM337.37 85.79h0.65v0.65h-0.65zM336.74 93.05h0.65v0.65h-0.65zM335.08 90.22h0.65v0.65h-0.65zM343.92 74.03h0.65v0.65h-0.65zM329.47 89.64h0.65v0.65h-0.65zM340.68 89.66h0.65v0.65h-0.65zM348.83 83.79h0.65v0.65h-0.65zM347.43 85.19h0.65v0.65h-0.65zM357.8 66.24h0.65v0.65h-0.65zM362.16 64.42h0.65v0.65h-0.65zM334.05 94.79h0.65v0.65h-0.65zM330.76 93.59h0.65v0.65h-0.65zM338.75 83.99h0.65v0.65h-0.65zM339.93 76.6h0.65v0.65h-0.65zM357 68.91h0.65v0.65h-0.65zM351.52 73.33h0.65v0.65h-0.65zM338.93 87.2h0.65v0.65h-0.65zM349.5 70.9h0.65v0.65h-0.65zM359.18 65.14h0.65v0.65h-0.65zM362.96 64.9h0.65v0.65h-0.65zM361.21 67.35h0.65v0.65h-0.65zM351.27 78.56h0.65v0.65h-0.65zM343.51 91.22h0.65v0.65h-0.65zM336.4 85.03h0.65v0.65h-0.65zM355.21 75.61h0.65v0.65h-0.65zM333.17 92.42h0.65v0.65h-0.65zM343.11 76.52h0.65v0.65h-0.65zM353.27 73.92h0.65v0.65h-0.65zM346.36 79.68h0.65v0.65h-0.65zM352.62 72.86h0.65v0.65h-0.65zM332.65 84.82h0.65v0.65h-0.65zM362.87 65.06h0.65v0.65h-0.65zM343.39 79.53h0.65v0.65h-0.65zM363.01 65.25h0.65v0.65h-0.65zM364.18 66.22h0.65v0.65h-0.65zM360.99 66.94h0.65v0.65h-0.65zM347.26 88.27h0.65v0.65h-0.65zM353.01 74.23h0.65v0.65h-0.65zM336.79 86.36h0.65v0.65h-0.65zM338.01 88.14h0.65v0.65h-0.65zM336.34 91.61h0.65v0.65h-0.65zM343.48 81.24h0.65v0.65h-0.65zM350.65 77.11h0.65v0.65h-0.65zM360.85 64.01h0.65v0.65h-0.65zM353.38 71.9h0.65v0.65h-0.65zM346.75 82.61h0.65v0.65h-0.65zM335.08 98.11h0.65v0.65h-0.65zM354.35 74.8h0.65v0.65h-0.65zM363.95 65.93h0.65v0.65h-0.65zM357.67 72.28h0.65v0.65h-0.65zM349.31 72.25h0.65v0.65h-0.65zM355.55 74.14h0.65v0.65h-0.65zM356.03 70.59h0.65v0.65h-0.65zM340.74 85.32h0.65v0.65h-0.65zM354.93 80.35h0.65v0.65h-0.65zM360.64 69.91h0.65v0.65h-0.65zM334.68 85.75h0.65v0.65h-0.65zM326.12 88.9h0.65v0.65h-0.65zM338.98 85.36h0.65v0.65h-0.65zM335.35 94.93h0.65v0.65h-0.65zM354 73.12h0.65v0.65h-0.65zM331.47 95.23h0.65v0.65h-0.65zM356.01 74.22h0.65v0.65h-0.65zM364.27 64.62h0.65v0.65h-0.65zM361.93 65.65h0.65v0.65h-0.65zM363.78 65.26h0.65v0.65h-0.65zM349.96 80.35h0.65v0.65h-0.65zM338.8 82.02h0.65v0.65h-0.65zM341.18 88.59h0.65v0.65h-0.65zM334.53 95.07h0.65v0.65h-0.65zM334.99 93.15h0.65v0.65h-0.65zM351.04 74.76h0.65v0.65h-0.65zM355.79 68.66h0.65v0.65h-0.65zM353.82 70.75h0.65v0.65h-0.65zM340.2 92.2h0.65v0.65h-0.65zM361.2 65.26h0.65v0.65h-0.65zM335.7 89.76h0.65v0.65h-0.65zM351.45 70.66h0.65v0.65h-0.65zM341.69 91.05h0.65v0.65h-0.65zM357.56 70.16h0.65v0.65h-0.65zM349.4 75.55h0.65v0.65h-0.65zM335.87 87.46h0.65v0.65h-0.65zM353.95 66.77h0.65v0.65h-0.65zM342.29 91.55h0.65v0.65h-0.65zM351.51 79.15h0.65v0.65h-0.65zM337.03 92.19h0.65v0.65h-0.65zM338.55 95.79h0.65v0.65h-0.65zM352.02 75.13h0.65v0.65h-0.65zM346.96 83.74h0.65v0.65h-0.65zM348.5 78.11h0.65v0.65h-0.65zM354.42 71.68h0.65v0.65h-0.65zM337.21 86.9h0.65v0.65h-0.65zM356.6 76.15h0.65v0.65h-0.65zM352.49 76.9h0.65v0.65h-0.65zM340.17 84.05h0.65v0.65h-0.65zM352.78 74.04h0.65v0.65h-0.65zM340.21 89.7h0.65v0.65h-0.65zM357.82 72.14h0.65v0.65h-0.65z" fill="#3a3a3a" fill-opacity="0.14"/>
<path d="M357.77 61.54h0.65v0.65h-0.65zM354.33 66.14h0.65v0.65h-0.65zM353.64 69.19h0.65v0.65h-0.65zM334.82 82.04h0.65v0.65h-0.65zM334.76 82.31h0.65v0.65h-0.65zM349.16 74.83h0.65v0.65h-0.65zM358.54 66.74h0.65v0.65h-0.65zM346.23 74.11h0.65v0.65h-0.65zM347.82 73.61h0.65v0.65h-0.65zM346.18 70.9h0.65v0.65h-0.65zM349.35 74.24h0.65v0.65h-0.65zM354.47 67.31h0.65v0.65h-0.65zM344.41 75.9h0.65v0.65h-0.65zM346.54 73.32h0.65v0.65h-0.65zM342.26 82.07h0.65v0.65h-0.65zM339.83 74.1h0.65v0.65h-0.65zM354.27 67.33h0.65v0.65h-0.65zM358.92 64.21h0.65v0.65h-0.65zM351.15 71.64h0.65v0.65h-0.65zM351.37 70.95h0.65v0.65h-0.65zM358.23 64.67h0.65v0.65h-0.65zM334.92 78.29h0.65v0.65h-0.65zM342.27 77.96h0.65v0.65h-0.65zM335.8 82.51h0.65v0.65h-0.65zM342.92 71.48h0.65v0.65h-0.65zM335.59 81.36h0.65v0.65h-0.65zM359.28 63.07h0.65v0.65h-0.65zM334.57 81.98h0.65v0.65h-0.65zM340.47 84.52h0.65v0.65h-0.65zM337.75 82.81h0.65v0.65h-0.65zM348.17 72.7h0.65v0.65h-0.65zM355.95 66.02h0.65v0.65h-0.65zM354.45 67.84h0.65v0.65h-0.65zM344.68 74.17h0.65v0.65h-0.65zM341.04 79.51h0.65v0.65h-0.65zM359.73 63.17h0.65v0.65h-0.65zM353.82 68.37h0.65v0.65h-0.65zM358.03 65.37h0.65v0.65h-0.65zM358.34 62.33h0.65v0.65h-0.65zM349.37 70.32h0.65v0.65h-0.65zM353.82 69.67h0.65v0.65h-0.65zM353.57 68.43h0.65v0.65h-0.65zM359.31 63.38h0.65v0.65h-0.65zM337.42 82.4h0.65v0.65h-0.65zM339.06 76.91h0.65v0.65h-0.65zM338.9 81.96h0.65v0.65h-0.65zM355.97 64.9h0.65v0.65h-0.65zM353.96 68.32h0.65v0.65h-0.65zM343.5 77.21h0.65v0.65h-0.65zM356.31 67.04h0.65v0.65h-0.65zM356.32 64.87h0.65v0.65h-0.65zM353.78 67.12h0.65v0.65h-0.65zM352.22 73.55h0.65v0.65h-0.65zM340.24 74.12h0.65v0.65h-0.65zM356.37 65.7h0.65v0.65h-0.65zM342.43 74.68h0.65v0.65h-0.65zM342.86 74.72h0.65v0.65h-0.65zM338.27 83.24h0.65v0.65h-0.65zM341.36 80.72h0.65v0.65h-0.65zM349.87 69.23h0.65v0.65h-0.65zM357.09 64.51h0.65v0.65h-0.65zM357.26 63h0.65v0.65h-0.65zM356.52 68.22h0.65v0.65h-0.65zM353.53 67.27h0.65v0.65h-0.65zM355.11 66.08h0.65v0.65h-0.65zM346.08 78.21h0.65v0.65h-0.65zM356.63 66.47h0.65v0.65h-0.65zM344.18 78.29h0.65v0.65h-0.65zM354.27 64.68h0.65v0.65h-0.65zM357.56 67.14h0.65v0.65h-0.65zM358.24 66.31h0.65v0.65h-0.65zM355.29 69.92h0.65v0.65h-0.65zM351.39 68.86h0.65v0.65h-0.65zM356.39 64.58h0.65v0.65h-0.65zM347.1 70.6h0.65v0.65h-0.65zM354.61 67.08h0.65v0.65h-0.65zM354.83 67.37h0.65v0.65h-0.65zM342.07 75.59h0.65v0.65h-0.65zM341.67 79.91h0.65v0.65h-0.65zM335.68 84.61h0.65v0.65h-0.65zM354.77 66.54h0.65v0.65h-0.65zM336.46 83.34h0.65v0.65h-0.65zM353.65 68.15h0.65v0.65h-0.65zM346 76.99h0.65v0.65h-0.65zM355.69 67.33h0.65v0.65h-0.65zM350.15 69.74h0.65v0.65h-0.65zM353.51 68.36h0.65v0.65h-0.65zM343.54 78.85h0.65v0.65h-0.65zM335.07 79.68h0.65v0.65h-0.65zM350 71.93h0.65v0.65h-0.65zM345.12 71.63h0.65v0.65h-0.65zM346.4 76.7h0.65v0.65h-0.65zM337.69 77.4h0.65v0.65h-0.65zM340.92 73.07h0.65v0.65h-0.65zM354.25 71.24h0.65v0.65h-0.65zM337.66 81.74h0.65v0.65h-0.65zM349.19 70.8h0.65v0.65h-0.65zM344.93 74.12h0.65v0.65h-0.65zM334.5 79.73h0.65v0.65h-0.65zM348.62 73.66h0.65v0.65h-0.65zM340.84 73.29h0.65v0.65h-0.65zM339.68 78.99h0.65v0.65h-0.65zM336.67 75.61h0.65v0.65h-0.65zM357.93 65.72h0.65v0.65h-0.65zM343.82 75.54h0.65v0.65h-0.65zM353.13 69.18h0.65v0.65h-0.65zM341.39 76.82h0.65v0.65h-0.65zM342.44 76.63h0.65v0.65h-0.65zM347.39 70.99h0.65v0.65h-0.65zM346.64 72.56h0.65v0.65h-0.65zM358.47 62.48h0.65v0.65h-0.65zM358.72 60.49h0.65v0.65h-0.65zM337.62 78.61h0.65v0.65h-0.65zM356.26 62.31h0.65v0.65h-0.65zM356.08 64.31h0.65v0.65h-0.65zM344.32 77.13h0.65v0.65h-0.65zM334.01 82.78h0.65v0.65h-0.65zM349.4 75.71h0.65v0.65h-0.65zM357.77 61.74h0.65v0.65h-0.65zM348.85 74.62h0.65v0.65h-0.65zM336.8 79.74h0.65v0.65h-0.65zM350.82 70.61h0.65v0.65h-0.65zM348.43 69.3h0.65v0.65h-0.65zM340.46 77.97h0.65v0.65h-0.65zM348.73 74.34h0.65v0.65h-0.65zM346.3 73.84h0.65v0.65h-0.65zM342.94 76.62h0.65v0.65h-0.65zM352.63 68.22h0.65v0.65h-0.65zM339.44 76.95h0.65v0.65h-0.65zM348.25 73.6h0.65v0.65h-0.65zM358.58 65.38h0.65v0.65h-0.65zM336.91 76.79h0.65v0.65h-0.65zM352.61 66.49h0.65v0.65h-0.65zM352.3 68.08h0.65v0.65h-0.65zM355.05 64.68h0.65v0.65h-0.65zM346.62 75.57h0.65v0.65h-0.65zM339.22 85.61h0.65v0.65h-0.65zM352.49 70.12h0.65v0.65h-0.65zM335.24 77.98h0.65v0.65h-0.65zM360.21 62.38h0.65v0.65h-0.65zM342.86 76.75h0.65v0.65h-0.65zM337.9 78.12h0.65v0.65h-0.65zM336.14 78.03h0.65v0.65h-0.65zM343.06 78.72h0.65v0.65h-0.65zM338.36 80.61h0.65v0.65h-0.65zM339.73 80.59h0.65v0.65h-0.65zM341.21 75.87h0.65v0.65h-0.65zM346.45 73.42h0.65v0.65h-0.65zM347.06 76.24h0.65v0.65h-0.65zM358.4 63.02h0.65v0.65h-0.65z" fill="#3a3a3a" fill-opacity="0.12"/>
<path d="M334.94 90.54h0.65v0.65h-0.65zM334.33 89.13h0.65v0.65h-0.65zM337.18 89.49h0.65v0.65h-0.65zM335.66 91.79h0.65v0.65h-0.65zM335.28 91.63h0.65v0.65h-0.65zM333.1 87.38h0.65v0.65h-0.65zM342.15 90.87h0.65v0.65h-0.65zM335.68 89.07h0.65v0.65h-0.65zM334.9 83.94h0.65v0.65h-0.65zM336.83 93.42h0.65v0.65h-0.65zM336.69 86.09h0.65v0.65h-0.65zM335.23 91.33h0.65v0.65h-0.65zM332.01 90.43h0.65v0.65h-0.65zM338.95 89.77h0.65v0.65h-0.65zM334.87 83.45h0.65v0.65h-0.65zM331.53 89.42h0.65v0.65h-0.65zM338.07 96.52h0.65v0.65h-0.65zM333.3 90.07h0.65v0.65h-0.65zM337.46 89.73h0.65v0.65h-0.65zM336.44 83.58h0.65v0.65h-0.65zM338.13 87.71h0.65v0.65h-0.65zM333.97 91.59h0.65v0.65h-0.65zM336.88 95.65h0.65v0.65h-0.65zM336.83 92.86h0.65v0.65h-0.65zM337.22 85.01h0.65v0.65h-0.65zM334.48 91.02h0.65v0.65h-0.65zM335.94 93.21h0.65v0.65h-0.65zM334.6 86.78h0.65v0.65h-0.65zM336.27 92.09h0.65v0.65h-0.65zM336.94 95.92h0.65v0.65h-0.65zM333.95 90h0.65v0.65h-0.65zM337.86 94.77h0.65v0.65h-0.65zM340.67 90.66h0.65v0.65h-0.65zM337.54 87.98h0.65v0.65h-0.65zM340.98 87.43h0.65v0.65h-0.65zM338.22 89.6h0.65v0.65h-0.65zM338.14 88.29h0.65v0.65h-0.65zM331.98 85.37h0.65v0.65h-0.65zM337.2 81.87h0.65v0.65h-0.65zM329.96 91.33h0.65v0.65h-0.65zM342.76 88.35h0.65v0.65h-0.65zM335.38 90.8h0.65v0.65h-0.65zM331.37 84.13h0.65v0.65h-0.65zM335.99 90.36h0.65v0.65h-0.65zM335.61 83.79h0.65v0.65h-0.65zM336.86 88.57h0.65v0.65h-0.65zM336.65 89.08h0.65v0.65h-0.65zM332.09 86.31h0.65v0.65h-0.65zM337.82 89.1h0.65v0.65h-0.65zM340.06 90.99h0.65v0.65h-0.65zM337.3 97.71h0.65v0.65h-0.65zM335.05 91.73h0.65v0.65h-0.65zM337.66 90.84h0.65v0.65h-0.65zM334.27 87.84h0.65v0.65h-0.65zM337.71 89.83h0.65v0.65h-0.65zM337.06 94.12h0.65v0.65h-0.65zM339.38 87.92h0.65v0.65h-0.65zM335.23 88.62h0.65v0.65h-0.65zM334.15 93.77h0.65v0.65h-0.65zM332.84 89.61h0.65v0.65h-0.65zM335.91 84.81h0.65v0.65h-0.65zM336.92 92.13h0.65v0.65h-0.65zM338.2 83.74h0.65v0.65h-0.65zM336.74 85.27h0.65v0.65h-0.65zM337.92 89.46h0.65v0.65h-0.65zM336.04 93.72h0.65v0.65h-0.65zM339.81 85.7h0.65v0.65h-0.65zM333.84 85.57h0.65v0.65h-0.65zM339.81 85.74h0.65v0.65h-0.65zM335.16 93.34h0.65v0.65h-0.65zM331.42 90.08h0.65v0.65h-0.65zM334.82 96.49h0.65v0.65h-0.65zM333.32 88.81h0.65v0.65h-0.65zM336.13 91.46h0.65v0.65h-0.65zM336.65 83.71h0.65v0.65h-0.65zM332.72 83.68h0.65v0.65h-0.65zM338.92 85.87h0.65v0.65h-0.65zM338.11 94.14h0.65v0.65h-0.65zM338.96 92.61h0.65v0.65h-0.65zM342.04 91.07h0.65v0.65h-0.65zM334.49 90.67h0.65v0.65h-0.65zM336.31 87.81h0.65v0.65h-0.65zM337.46 84.32h0.65v0.65h-0.65zM341.21 90.48h0.65v0.65h-0.65zM329.75 90.32h0.65v0.65h-0.65zM332.88 89.37h0.65v0.65h-0.65zM336.4 87.82h0.65v0.65h-0.65zM335.1 87.71h0.65v0.65h-0.65zM336.96 90.36h0.65v0.65h-0.65zM335.72 85.63h0.65v0.65h-0.65zM334 87.32h0.65v0.65h-0.65zM332.31 85.77h0.65v0.65h-0.65zM339.51 88.85h0.65v0.65h-0.65zM334.16 87.53h0.65v0.65h-0.65zM333.52 88.22h0.65v0.65h-0.65zM336.62 96.01h0.65v0.65h-0.65zM334.95 92.67h0.65v0.65h-0.65zM333.59 83.93h0.65v0.65h-0.65zM333.32 94.02h0.65v0.65h-0.65zM335.22 96.34h0.65v0.65h-0.65zM335.18 90.16h0.65v0.65h-0.65zM334.7 87.61h0.65v0.65h-0.65zM335.01 88.53h0.65v0.65h-0.65zM338.34 86.4h0.65v0.65h-0.65zM334.71 87.74h0.65v0.65h-0.65zM332.99 88.38h0.65v0.65h-0.65zM340.28 93.55h0.65v0.65h-0.65zM338.83 87.46h0.65v0.65h-0.65zM341.77 88.34h0.65v0.65h-0.65zM336.04 88.2h0.65v0.65h-0.65zM334.33 91.71h0.65v0.65h-0.65zM331.68 85.66h0.65v0.65h-0.65zM337.86 96.27h0.65v0.65h-0.65zM337.59 89.83h0.65v0.65h-0.65zM335.33 87.46h0.65v0.65h-0.65zM339.46 90.81h0.65v0.65h-0.65zM336.55 90.86h0.65v0.65h-0.65zM336.98 85.84h0.65v0.65h-0.65zM334.63 86.84h0.65v0.65h-0.65zM336.38 86.93h0.65v0.65h-0.65zM336.58 84.91h0.65v0.65h-0.65zM338.74 85h0.65v0.65h-0.65zM332.18 88.35h0.65v0.65h-0.65zM335.37 85.61h0.65v0.65h-0.65zM342.67 88.75h0.65v0.65h-0.65zM333.77 84.47h0.65v0.65h-0.65zM334.27 87.24h0.65v0.65h-0.65zM333.27 93.51h0.65v0.65h-0.65zM340.63 90.65h0.65v0.65h-0.65zM333.24 89.99h0.65v0.65h-0.65zM337.64 89.66h0.65v0.65h-0.65zM334.15 91.72h0.65v0.65h-0.65zM337.99 91.57h0.65v0.65h-0.65zM331.42 90.65h0.65v0.65h-0.65zM334.23 89.17h0.65v0.65h-0.65zM336.02 86.06h0.65v0.65h-0.65zM340.08 89.93h0.65v0.65h-0.65zM337.5 86.65h0.65v0.65h-0.65zM333.71 89.95h0.65v0.65h-0.65zM337.64 88.03h0.65v0.65h-0.65zM338.52 89.32h0.65v0.65h-0.65zM332.02 88.36h0.65v0.65h-0.65zM337.83 85.04h0.65v0.65h-0.65zM337.06 96.65h0.65v0.65h-0.65zM332.13 88.27h0.65v0.65h-0.65zM335.36 84.34h0.65v0.65h-0.65zM336.64 93.27h0.65v0.65h-0.65zM336.39 88.89h0.65v0.65h-0.65zM334.17 89.67h0.65v0.65h-0.65zM334.92 89.9h0.65v0.65h-0.65zM334.63 84.36h0.65v0.65h-0.65zM329.27 85.54h0.65v0.65h-0.65zM338.91 85.94h0.65v0.65h-0.65zM335.84 88.88h0.65v0.65h-0.65zM338.8 87.88h0.65v0.65h-0.65zM337.35 86.96h0.65v0.65h-0.65zM335.62 89.09h0.65v0.65h-0.65zM334.71 95.27h0.65v0.65h-0.65zM330.46 89.54h0.65v0.65h-0.65zM337.5 87.86h0.65v0.65h-0.65z" fill="#3a3a3a" fill-opacity="0.18"/>
<path d="M325.76 127.21h0.65v0.65h-0.65zM329.33 125.47h0.65v0.65h-0.65zM322.23 129.06h0.65v0.65h-0.65zM320.01 117.53h0.65v0.65h-0.65zM326.39 116.85h0.65v0.65h-0.65zM322.59 116.09h0.65v0.65h-0.65zM327.33 123.72h0.65v0.65h-0.65zM322.75 121.03h0.65v0.65h-0.65zM319.71 123.99h0.65v0.65h-0.65zM327.75 117.7h0.65v0.65h-0.65zM321.85 115.37h0.65v0.65h-0.65zM322.36 111.24h0.65v0.65h-0.65zM318.38 126.98h0.65v0.65h-0.65zM322.94 120.98h0.65v0.65h-0.65zM324.06 120.57h0.65v0.65h-0.65zM317.81 112.88h0.65v0.65h-0.65zM325.15 123.39h0.65v0.65h-0.65zM319.11 114.88h0.65v0.65h-0.65zM319.37 121.53h0.65v0.65h-0.65zM324.17 118.18h0.65v0.65h-0.65zM320.79 119.85h0.65v0.65h-0.65zM323.11 113.98h0.65v0.65h-0.65zM324.13 114.41h0.65v0.65h-0.65zM326.24 121.38h0.65v0.65h-0.65zM320.66 121.17h0.65v0.65h-0.65zM323.23 114.19h0.65v0.65h-0.65zM319.89 109.02h0.65v0.65h-0.65zM319.16 119.87h0.65v0.65h-0.65zM327.11 114.61h0.65v0.65h-0.65zM323.54 119.86h0.65v0.65h-0.65zM325.65 120.39h0.65v0.65h-0.65zM327.17 122.14h0.65v0.65h-0.65zM320.41 120.14h0.65v0.65h-0.65zM323.07 121.13h0.65v0.65h-0.65zM321.97 122.5h0.65v0.65h-0.65zM327.49 113.47h0.65v0.65h-0.65zM321.15 119.41h0.65v0.65h-0.65zM324.67 118.78h0.65v0.65h-0.65zM325.83 111.62h0.65v0.65h-0.65zM325.64 124.3h0.65v0.65h-0.65zM326.77 120.3h0.65v0.65h-0.65zM322.19 120.16h0.65v0.65h-0.65zM322.75 109.43h0.65v0.65h-0.65zM320.94 117.78h0.65v0.65h-0.65zM321.25 112.96h0.65v0.65h-0.65zM322.21 115.99h0.65v0.65h-0.65zM323.24 117.74h0.65v0.65h-0.65zM323.58 123.36h0.65v0.65h-0.65zM323.46 120.19h0.65v0.65h-0.65zM321.64 121.66h0.65v0.65h-0.65zM321.85 114.63h0.65v0.65h-0.65zM318.78 122.82h0.65v0.65h-0.65zM321.21 119.33h0.65v0.65h-0.65zM326.84 120.89h0.65v0.65h-0.65zM326.25 121.75h0.65v0.65h-0.65zM320.77 118.26h0.65v0.65h-0.65zM321.08 112.47h0.65v0.65h-0.65zM324.02 113.82h0.65v0.65h-0.65zM328.71 114h0.65v0.65h-0.65zM321.15 118.49h0.65v0.65h-0.65zM321.24 118.29h0.65v0.65h-0.65zM320.93 110.32h0.65v0.65h-0.65zM328.17 120.4h0.65v0.65h-0.65zM323.52 115.49h0.65v0.65h-0.65zM322.51 119.61h0.65v0.65h-0.65zM318.28 113.69h0.65v0.65h-0.65zM319.97 124.8h0.65v0.65h-0.65zM319.41 124.33h0.65v0.65h-0.65zM322.73 118.17h0.65v0.65h-0.65zM327.59 122.72h0.65v0.65h-0.65zM326.19 112.23h0.65v0.65h-0.65zM326.86 127.07h0.65v0.65h-0.65zM322.65 115.39h0.65v0.65h-0.65zM319.29 123.49h0.65v0.65h-0.65zM324 118.04h0.65v0.65h-0.65zM318.8 126.75h0.65v0.65h-0.65zM325.98 117.89h0.65v0.65h-0.65zM328.02 112.86h0.65v0.65h-0.65zM326 112.61h0.65v0.65h-0.65zM327.8 116.51h0.65v0.65h-0.65zM327.16 115.75h0.65v0.65h-0.65zM324.36 124.17h0.65v0.65h-0.65zM319.93 118.52h0.65v0.65h-0.65zM320.15 122.6h0.65v0.65h-0.65zM320.95 115.99h0.65v0.65h-0.65zM322.31 124.29h0.65v0.65h-0.65zM319.46 117.86h0.65v0.65h-0.65zM321.88 115.03h0.65v0.65h-0.65zM320.32 117.14h0.65v0.65h-0.65zM323.67 109.64h0.65v0.65h-0.65zM323.8 111.61h0.65v0.65h-0.65zM319.71 117.64h0.65v0.65h-0.65zM322.13 123.3h0.65v0.65h-0.65zM321.39 108.36h0.65v0.65h-0.65zM317.52 118.96h0.65v0.65h-0.65zM323.86 123.76h0.65v0.65h-0.65zM321.18 121.6h0.65v0.65h-0.65zM319.38 125h0.65v0.65h-0.65zM322.76 114.34h0.65v0.65h-0.65zM323.61 127.41h0.65v0.65h-0.65zM320.12 111.3h0.65v0.65h-0.65zM319.55 111.76h0.65v0.65h-0.65zM322.83 119.89h0.65v0.65h-0.65zM322.44 119.06h0.65v0.65h-0.65zM327.03 116.44h0.65v0.65h-0.65zM323.82 114.33h0.65v0.65h-0.65zM322.15 120.21h0.65v0.65h-0.65zM324.57 109.53h0.65v0.65h-0.65zM319.75 118.4h0.65v0.65h-0.65zM322.51 124.19h0.65v0.65h-0.65zM321.29 106.85h0.65v0.65h-0.65zM326.98 109.17h0.65v0.65h-0.65zM319.7 120.1h0.65v0.65h-0.65zM323.81 120.89h0.65v0.65h-0.65zM324.84 114.13h0.65v0.65h-0.65zM327.27 108.88h0.65v0.65h-0.65zM321.01 119.56h0.65v0.65h-0.65zM323.47 112.82h0.65v0.65h-0.65zM328.37 125.95h0.65v0.65h-0.65zM319.82 120.02h0.65v0.65h-0.65zM320.84 115.66h0.65v0.65h-0.65zM326.35 118.68h0.65v0.65h-0.65zM322.63 118.55h0.65v0.65h-0.65zM319.01 124.59h0.65v0.65h-0.65zM320.45 125.07h0.65v0.65h-0.65zM321.44 115.54h0.65v0.65h-0.65zM328.05 119.03h0.65v0.65h-0.65zM320.83 115.11h0.65v0.65h-0.65zM325.06 128.1h0.65v0.65h-0.65zM325.09 115.88h0.65v0.65h-0.65zM319.19 114.37h0.65v0.65h-0.65zM322.6 119.32h0.65v0.65h-0.65zM320.77 124.91h0.65v0.65h-0.65zM319.74 114.14h0.65v0.65h-0.65zM324.69 120.6h0.65v0.65h-0.65zM321.67 123.19h0.65v0.65h-0.65zM318.21 126.82h0.65v0.65h-0.65zM330.43 128.54h0.65v0.65h-0.65zM323.4 128.62h0.65v0.65h-0.65zM323.18 125.18h0.65v0.65h-0.65zM322.32 119.05h0.65v0.65h-0.65zM324.78 108.57h0.65v0.65h-0.65zM322.29 127.28h0.65v0.65h-0.65zM326.13 119.77h0.65v0.65h-0.65zM323.66 125.49h0.65v0.65h-0.65zM324.14 107.78h0.65v0.65h-0.65zM319.79 116.4h0.65v0.65h-0.65zM323.49 115.58h0.65v0.65h-0.65zM322.64 127.01h0.65v0.65h-0.65zM326.18 121.25h0.65v0.65h-0.65zM323.05 118.34h0.65v0.65h-0.65zM324.24 119.31h0.65v0.65h-0.65zM320.54 122.22h0.65v0.65h-0.65zM320.19 117.78h0.65v0.65h-0.65zM321.78 111.79h0.65v0.65h-0.65zM325.06 117.63h0.65v0.65h-0.65zM319.04 117.58h0.65v0.65h-0.65zM318.32 125.74h0.65v0.65h-0.65zM324.75 128.71h0.65v0.65h-0.65zM321.07 121.8h0.65v0.65h-0.65zM319.71 113.41h0.65v0.65h-0.65zM322.7 120.22h0.65v0.65h-0.65zM326.14 116.56h0.65v0.65h-0.65zM326.74 123.2h0.65v0.65h-0.65zM320.03 117.04h0.65v0.65h-0.65zM319.89 127.19h0.65v0.65h-0.65zM321.13 122.77h0.65v0.65h-0.65zM326.1 116.63h0.65v0.65h-0.65zM321.35 119.85h0.65v0.65h-0.65zM320.37 111.19h0.65v0.65h-0.65zM319.73 119.82h0.65v0.65h-0.65zM323.65 127.48h0.65v0.65h-0.65zM319.09 124.21h0.65v0.65h-0.65zM325.36 118.68h0.65v0.65h-0.65zM327.99 116h0.65v0.65h-0.65zM321.21 112.35h0.65v0.65h-0.65zM320.78 118.62h0.65v0.65h-0.65zM325.28 124.88h0.65v0.65h-0.65zM322.09 114.08h0.65v0.65h-0.65zM321.87 115.7h0.65v0.65h-0.65zM321.42 115.84h0.65v0.65h-0.65zM320.05 117.72h0.65v0.65h-0.65zM321.27 117.09h0.65v0.65h-0.65zM318.32 118.78h0.65v0.65h-0.65zM324.94 121.48h0.65v0.65h-0.65zM321.15 111.88h0.65v0.65h-0.65zM318.6 111.71h0.65v0.65h-0.65zM320.83 116.34h0.65v0.65h-0.65zM317.01 121.59h0.65v0.65h-0.65zM317.8 114.33h0.65v0.65h-0.65zM320.56 122.44h0.65v0.65h-0.65zM329.21 116.11h0.65v0.65h-0.65zM322.07 115.9h0.65v0.65h-0.65zM322.33 117.09h0.65v0.65h-0.65zM322.63 113.78h0.65v0.65h-0.65zM324.2 115.22h0.65v0.65h-0.65zM324.94 112.22h0.65v0.65h-0.65zM330.11 119.12h0.65v0.65h-0.65zM317.05 121.74h0.65v0.65h-0.65zM321.42 111.83h0.65v0.65h-0.65zM324.49 115.23h0.65v0.65h-0.65zM325.49 115.08h0.65v0.65h-0.65zM326.04 118.8h0.65v0.65h-0.65zM324.2 118.84h0.65v0.65h-0.65zM321.77 116.07h0.65v0.65h-0.65zM324.52 121.79h0.65v0.65h-0.65zM328.69 111.89h0.65v0.65h-0.65zM326.65 117.63h0.65v0.65h-0.65zM323.78 113.79h0.65v0.65h-0.65zM328.55 113.61h0.65v0.65h-0.65zM322.73 114.14h0.65v0.65h-0.65zM329.5 124.68h0.65v0.65h-0.65zM318.57 115.61h0.65v0.65h-0.65zM324.22 115.71h0.65v0.65h-0.65zM321.81 112.27h0.65v0.65h-0.65zM323.84 112.19h0.65v0.65h-0.65zM321.91 126.75h0.65v0.65h-0.65zM324.25 114.44h0.65v0.65h-0.65zM321.84 112.9h0.65v0.65h-0.65zM323.39 121.73h0.65v0.65h-0.65zM326.12 116.53h0.65v0.65h-0.65zM319 117.61h0.65v0.65h-0.65zM328.61 119.5h0.65v0.65h-0.65zM322.79 106.97h0.65v0.65h-0.65zM321.55 120.9h0.65v0.65h-0.65zM319.83 125.17h0.65v0.65h-0.65zM321.1 113.38h0.65v0.65h-0.65zM321.06 117.52h0.65v0.65h-0.65zM326.35 115.01h0.65v0.65h-0.65zM317.03 117.59h0.65v0.65h-0.65zM324.75 126.19h0.65v0.65h-0.65zM319.24 125.87h0.65v0.65h-0.65zM325.27 120.42h0.65v0.65h-0.65zM320.43 113.34h0.65v0.65h-0.65zM319.8 122.96h0.65v0.65h-0.65zM323.73 123.67h0.65v0.65h-0.65zM329.09 118.12h0.65v0.65h-0.65zM322.84 128.17h0.65v0.65h-0.65zM318.63 115.64h0.65v0.65h-0.65zM321.76 116.01h0.65v0.65h-0.65zM323.48 113.58h0.65v0.65h-0.65zM326.89 110.8h0.65v0.65h-0.65zM320.27 109.07h0.65v0.65h-0.65zM318.31 121.13h0.65v0.65h-0.65zM325.11 116.98h0.65v0.65h-0.65zM325.83 121.29h0.65v0.65h-0.65zM321.07 117.82h0.65v0.65h-0.65zM324.23 128.66h0.65v0.65h-0.65zM321.53 119.98h0.65v0.65h-0.65zM324.82 124.47h0.65v0.65h-0.65zM324.42 123.7h0.65v0.65h-0.65zM319.44 116.64h0.65v0.65h-0.65zM323.3 119.43h0.65v0.65h-0.65zM323.49 111.03h0.65v0.65h-0.65zM320.69 117.11h0.65v0.65h-0.65zM323.56 113.47h0.65v0.65h-0.65zM322.65 114.15h0.65v0.65h-0.65zM318.59 114.55h0.65v0.65h-0.65zM320.31 122.46h0.65v0.65h-0.65zM327.48 121.09h0.65v0.65h-0.65zM322.29 115.09h0.65v0.65h-0.65zM317.75 115.25h0.65v0.65h-0.65zM328.23 124.12h0.65v0.65h-0.65zM323.75 116.74h0.65v0.65h-0.65zM323.01 120.26h0.65v0.65h-0.65zM322.98 120.29h0.65v0.65h-0.65zM320.42 118.27h0.65v0.65h-0.65zM321.83 123.71h0.65v0.65h-0.65zM318.86 124.87h0.65v0.65h-0.65zM322.71 115.38h0.65v0.65h-0.65zM323.07 118.69h0.65v0.65h-0.65zM322.22 120.27h0.65v0.65h-0.65zM321.07 109.11h0.65v0.65h-0.65zM325.33 117.9h0.65v0.65h-0.65zM328.57 120.07h0.65v0.65h-0.65zM320.7 120.92h0.65v0.65h-0.65zM330.42 123.79h0.65v0.65h-0.65zM319.35 117.56h0.65v0.65h-0.65zM317.63 121.56h0.65v0.65h-0.65zM324.88 112.64h0.65v0.65h-0.65zM324.51 122.96h0.65v0.65h-0.65zM325.7 114.51h0.65v0.65h-0.65zM320.69 112.14h0.65v0.65h-0.65zM318.68 119.7h0.65v0.65h-0.65zM323.13 124.89h0.65v0.65h-0.65zM323.92 116.35h0.65v0.65h-0.65zM318.24 126.17h0.65v0.65h-0.65zM323.55 117.88h0.65v0.65h-0.65zM319.64 112.53h0.65v0.65h-0.65zM325.12 112.93h0.65v0.65h-0.65zM324.95 121.35h0.65v0.65h-0.65zM321.73 109.52h0.65v0.65h-0.65zM324.37 125.43h0.65v0.65h-0.65zM320.25 111.41h0.65v0.65h-0.65zM326.64 118.8h0.65v0.65h-0.65zM320.92 124.49h0.65v0.65h-0.65zM322.08 120.42h0.65v0.65h-0.65zM321.66 114.1h0.65v0.65h-0.65zM323.73 113.54h0.65v0.65h-0.65zM317.08 115.21h0.65v0.65h-0.65zM327.12 123.81h0.65v0.65h-0.65zM330.26 123.26h0.65v0.65h-0.65zM328.39 119.36h0.65v0.65h-0.65zM321.55 120.5h0.65v0.65h-0.65zM319.83 121.91h0.65v0.65h-0.65zM321.51 119.41h0.65v0.65h-0.65zM320.16 117.35h0.65v0.65h-0.65zM326.27 116.92h0.65v0.65h-0.65zM320.75 119.54h0.65v0.65h-0.65zM325.94 117.07h0.65v0.65h-0.65zM319.1 109.88h0.65v0.65h-0.65zM318.53 123.63h0.65v0.65h-0.65zM322.71 120.56h0.65v0.65h-0.65zM326.58 119.54h0.65v0.65h-0.65zM324.61 115.41h0.65v0.65h-0.65zM317.63 121.35h0.65v0.65h-0.65zM322.68 121.07h0.65v0.65h-0.65zM319.45 117.31h0.65v0.65h-0.65zM329.72 113.66h0.65v0.65h-0.65zM323.33 124.91h0.65v0.65h-0.65zM322.23 118.71h0.65v0.65h-0.65zM321.53 124.78h0.65v0.65h-0.65zM322.7 116.11h0.65v0.65h-0.65zM324.45 116.81h0.65v0.65h-0.65zM321.28 126.12h0.65v0.65h-0.65zM326.27 118.63h0.65v0.65h-0.65zM325.69 122.37h0.65v0.65h-0.65zM324.94 118.31h0.65v0.65h-0.65zM323.24 120.19h0.65v0.65h-0.65zM324.88 119.91h0.65v0.65h-0.65zM321.17 117.68h0.65v0.65h-0.65zM324.53 112.94h0.65v0.65h-0.65zM322.97 122.01h0.65v0.65h-0.65zM323.56 116.58h0.65v0.65h-0.65zM322.92 115.56h0.65v0.65h-0.65zM326.27 116.11h0.65v0.65h-0.65zM317.45 111.8h0.65v0.65h-0.65zM324 119.16h0.65v0.65h-0.65zM321.43 111.26h0.65v0.65h-0.65zM322.5 113.72h0.65v0.65h-0.65zM320.81 118.07h0.65v0.65h-0.65zM320.45 119.69h0.65v0.65h-0.65zM320.54 115.67h0.65v0.65h-0.65zM322.24 125.65h0.65v0.65h-0.65zM328.25 122.97h0.65v0.65h-0.65zM320.55 118.1h0.65v0.65h-0.65zM326.04 122.26h0.65v0.65h-0.65zM317.58 117.79h0.65v0.65h-0.65zM320.54 121.96h0.65v0.65h-0.65zM325.12 115.3h0.65v0.65h-0.65zM330.13 116.65h0.65v0.65h-0.65zM322.72 127.9h0.65v0.65h-0.65zM321.25 115.64h0.65v0.65h-0.65zM327.91 117.88h0.65v0.65h-0.65zM324.59 111.58h0.65v0.65h-0.65zM328.95 123.16h0.65v0.65h-0.65zM324.19 121.73h0.65v0.65h-0.65zM321.34 115.63h0.65v0.65h-0.65zM317.77 119.99h0.65v0.65h-0.65zM327.12 122.5h0.65v0.65h-0.65zM326.06 121.75h0.65v0.65h-0.65zM319.94 111.36h0.65v0.65h-0.65zM325.13 118.94h0.65v0.65h-0.65zM326.28 116.67h0.65v0.65h-0.65zM320.07 120.38h0.65v0.65h-0.65zM321.15 109.63h0.65v0.65h-0.65zM320.98 113.56h0.65v0.65h-0.65zM319.29 115.25h0.65v0.65h-0.65zM328.75 115.95h0.65v0.65h-0.65zM326.8 117.72h0.65v0.65h-0.65zM324.34 114.6h0.65v0.65h-0.65zM322.75 109.45h0.65v0.65h-0.65zM328.96 114.15h0.65v0.65h-0.65zM324.95 115.07h0.65v0.65h-0.65zM323.9 112.04h0.65v0.65h-0.65zM321.75 122.78h0.65v0.65h-0.65zM324.98 108.1h0.65v0.65h-0.65zM325.83 111.34h0.65v0.65h-0.65zM323.95 120.76h0.65v0.65h-0.65zM320.86 116.46h0.65v0.65h-0.65zM322.18 120.15h0.65v0.65h-0.65zM326.04 125.09h0.65v0.65h-0.65zM324.09 128.34h0.65v0.65h-0.65zM319.85 127.23h0.65v0.65h-0.65zM322.13 122.03h0.65v0.65h-0.65zM322.58 118.52h0.65v0.65h-0.65zM319.94 120.08h0.65v0.65h-0.65zM329.74 118.85h0.65v0.65h-0.65zM322.93 118.11h0.65v0.65h-0.65zM325.37 117.04h0.65v0.65h-0.65zM322.99 119.2h0.65v0.65h-0.65zM327.34 122.97h0.65v0.65h-0.65zM319.5 114.85h0.65v0.65h-0.65zM323.07 122.44h0.65v0.65h-0.65zM326.22 117.03h0.65v0.65h-0.65zM330.08 117.25h0.65v0.65h-0.65zM327.68 125.4h0.65v0.65h-0.65zM328.31 119.12h0.65v0.65h-0.65zM324.92 110.25h0.65v0.65h-0.65zM317.08 114.96h0.65v0.65h-0.65zM325.39 123.55h0.65v0.65h-0.65zM322.66 123.42h0.65v0.65h-0.65zM324.92 125.91h0.65v0.65h-0.65zM317.7 113.84h0.65v0.65h-0.65zM319.82 112.73h0.65v0.65h-0.65zM328.49 113.34h0.65v0.65h-0.65zM320.24 116.05h0.65v0.65h-0.65zM325.94 115.72h0.65v0.65h-0.65zM325.45 120.91h0.65v0.65h-0.65zM319.95 111.69h0.65v0.65h-0.65zM328.45 114.41h0.65v0.65h-0.65zM319.44 120.02h0.65v0.65h-0.65zM323.18 113.29h0.65v0.65h-0.65zM326.65 122.78h0.65v0.65h-0.65zM323.93 114.2h0.65v0.65h-0.65zM320.09 107.57h0.65v0.65h-0.65zM324.28 120.1h0.65v0.65h-0.65zM319.94 118.21h0.65v0.65h-0.65zM317.31 121.21h0.65v0.65h-0.65zM321.58 115.55h0.65v0.65h-0.65zM325.07 117.41h0.65v0.65h-0.65zM326.31 120.72h0.65v0.65h-0.65zM326.87 118.69h0.65v0.65h-0.65zM317.33 123.43h0.65v0.65h-0.65zM323.84 110.95h0.65v0.65h-0.65zM323.22 122.59h0.65v0.65h-0.65zM319.6 118.29h0.65v0.65h-0.65zM320.54 112.92h0.65v0.65h-0.65zM320.94 124.62h0.65v0.65h-0.65zM325.29 117.92h0.65v0.65h-0.65zM322.73 118.72h0.65v0.65h-0.65zM323.95 119.01h0.65v0.65h-0.65zM317.27 122.79h0.65v0.65h-0.65zM325.35 111.87h0.65v0.65h-0.65zM322.53 117.58h0.65v0.65h-0.65zM321.03 120.81h0.65v0.65h-0.65zM322.09 116.63h0.65v0.65h-0.65zM319.82 116.62h0.65v0.65h-0.65zM319.54 118.28h0.65v0.65h-0.65zM327.42 123.24h0.65v0.65h-0.65zM324.43 111.07h0.65v0.65h-0.65zM326.43 122.86h0.65v0.65h-0.65zM329.88 106.51h0.65v0.65h-0.65zM323.06 116.35h0.65v0.65h-0.65zM326.63 112.48h0.65v0.65h-0.65zM326.32 107.82h0.65v0.65h-0.65zM323.07 125.08h0.65v0.65h-0.65zM320.94 121.12h0.65v0.65h-0.65zM323.33 110.54h0.65v0.65h-0.65zM320.91 123.88h0.65v0.65h-0.65zM326.96 114.96h0.65v0.65h-0.65zM326.76 114.39h0.65v0.65h-0.65zM323.83 117.94h0.65v0.65h-0.65zM318.83 119.7h0.65v0.65h-0.65zM320.23 113.69h0.65v0.65h-0.65zM320.21 113.02h0.65v0.65h-0.65zM325.98 118.41h0.65v0.65h-0.65zM323.85 116.67h0.65v0.65h-0.65zM323.21 116.69h0.65v0.65h-0.65zM319.36 110.22h0.65v0.65h-0.65zM323.25 123.28h0.65v0.65h-0.65zM323.78 126.34h0.65v0.65h-0.65zM318.44 116.67h0.65v0.65h-0.65zM320.94 124.39h0.65v0.65h-0.65zM328.67 115.35h0.65v0.65h-0.65zM325.45 116.79h0.65v0.65h-0.65zM319.66 117.46h0.65v0.65h-0.65zM319.52 126.02h0.65v0.65h-0.65zM324.97 124.15h0.65v0.65h-0.65zM325.68 118.5h0.65v0.65h-0.65zM326.38 126.85h0.65v0.65h-0.65zM319.58 122.1h0.65v0.65h-0.65zM324.11 117.14h0.65v0.65h-0.65zM322.05 120.76h0.65v0.65h-0.65zM324.93 121.42h0.65v0.65h-0.65zM321.64 111.22h0.65v0.65h-0.65zM327.41 124.73h0.65v0.65h-0.65zM321.11 117.86h0.65v0.65h-0.65zM325.7 108.95h0.65v0.65h-0.65zM323.91 114.38h0.65v0.65h-0.65zM329.83 118.07h0.65v0.65h-0.65zM323.71 115.83h0.65v0.65h-0.65zM323.6 108.75h0.65v0.65h-0.65zM318.71 110.4h0.65v0.65h-0.65zM326.02 117.54h0.65v0.65h-0.65zM326.85 107.49h0.65v0.65h-0.65zM321 125.55h0.65v0.65h-0.65zM320.35 108.38h0.65v0.65h-0.65zM320.51 116.23h0.65v0.65h-0.65zM322.96 124.76h0.65v0.65h-0.65zM327.44 126.04h0.65v0.65h-0.65zM324.94 115.42h0.65v0.65h-0.65zM321.34 110.36h0.65v0.65h-0.65zM327.26 124.5h0.65v0.65h-0.65zM323.3 113.41h0.65v0.65h-0.65zM325.26 120.54h0.65v0.65h-0.65zM323.52 112h0.65v0.65h-0.65zM323.8 115.08h0.65v0.65h-0.65zM325.47 121.1h0.65v0.65h-0.65zM324.47 115.8h0.65v0.65h-0.65zM328.09 122.02h0.65v0.65h-0.65zM327.24 122.35h0.65v0.65h-0.65zM325.22 120.04h0.65v0.65h-0.65zM319.43 108.6h0.65v0.65h-0.65zM319.87 121.19h0.65v0.65h-0.65zM326.04 118.96h0.65v0.65h-0.65zM323.3 127.51h0.65v0.65h-0.65zM321.67 108.78h0.65v0.65h-0.65zM317.83 116.34h0.65v0.65h-0.65zM325.34 121.82h0.65v0.65h-0.65zM322.26 122.24h0.65v0.65h-0.65zM322.84 114.26h0.65v0.65h-0.65zM321.74 121.92h0.65v0.65h-0.65zM326.18 112.19h0.65v0.65h-0.65zM319.7 118.64h0.65v0.65h-0.65zM330.09 111.95h0.65v0.65h-0.65zM318.82 120.17h0.65v0.65h-0.65zM324.7 114.84h0.65v0.65h-0.65zM322.91 120.52h0.65v0.65h-0.65zM317.18 117.88h0.65v0.65h-0.65z" fill="#3a3a3a" fill-opacity="0.24"/>
<path d="M331.91 115.3h0.65v0.65h-0.65zM329.84 119.29h0.65v0.65h-0.65zM321.1 116.06h0.65v0.65h-0.65zM318.91 127.52h0.65v0.65h-0.65zM332.01 93.73h0.65v0.65h-0.65zM329.96 105.76h0.65v0.65h-0.65zM328.23 123.26h0.65v0.65h-0.65zM336.7 96.48h0.65v0.65h-0.65zM323.42 128.59h0.65v0.65h-0.65zM331.83 93.76h0.65v0.65h-0.65zM322.38 114.76h0.65v0.65h-0.65zM342.53 94.68h0.65v0.65h-0.65zM334.83 99.95h0.65v0.65h-0.65zM327.34 118.68h0.65v0.65h-0.65zM330.98 101.66h0.65v0.65h-0.65zM326.3 113.65h0.65v0.65h-0.65zM334.64 100.82h0.65v0.65h-0.65zM328.11 126.47h0.65v0.65h-0.65zM323.04 116.89h0.65v0.65h-0.65zM337.12 97.41h0.65v0.65h-0.65zM334.17 93.54h0.65v0.65h-0.65zM319.72 128.64h0.65v0.65h-0.65zM317.27 129.53h0.65v0.65h-0.65zM327.14 115.03h0.65v0.65h-0.65zM334.34 91.78h0.65v0.65h-0.65zM328.53 117.02h0.65v0.65h-0.65zM326.6 128.28h0.65v0.65h-0.65zM327.75 110.61h0.65v0.65h-0.65zM327.24 116.11h0.65v0.65h-0.65zM330.97 114.31h0.65v0.65h-0.65zM331.37 116.79h0.65v0.65h-0.65zM323.02 125.11h0.65v0.65h-0.65zM322.39 132.34h0.65v0.65h-0.65zM335.6 102.07h0.65v0.65h-0.65zM335.56 96.83h0.65v0.65h-0.65zM332.65 117.53h0.65v0.65h-0.65zM328.28 111.08h0.65v0.65h-0.65zM320.95 131.15h0.65v0.65h-0.65zM330.26 105.52h0.65v0.65h-0.65zM332.93 94.31h0.65v0.65h-0.65zM333.59 99.42h0.65v0.65h-0.65zM330.45 111.18h0.65v0.65h-0.65zM331.27 106.58h0.65v0.65h-0.65zM329.16 113.9h0.65v0.65h-0.65zM320.24 132.42h0.65v0.65h-0.65zM320.6 120.6h0.65v0.65h-0.65zM327.78 115.36h0.65v0.65h-0.65zM324.98 127.15h0.65v0.65h-0.65zM329.36 97.92h0.65v0.65h-0.65zM327.27 119.95h0.65v0.65h-0.65zM330.15 98.67h0.65v0.65h-0.65zM324.23 116.51h0.65v0.65h-0.65zM332.47 111.58h0.65v0.65h-0.65zM328.18 111.28h0.65v0.65h-0.65zM324.64 119.53h0.65v0.65h-0.65zM324.19 124.42h0.65v0.65h-0.65zM327.16 115.16h0.65v0.65h-0.65zM335.73 97.91h0.65v0.65h-0.65zM320.5 119.46h0.65v0.65h-0.65zM323.24 123.96h0.65v0.65h-0.65zM329.9 102.66h0.65v0.65h-0.65zM326.21 119.4h0.65v0.65h-0.65zM330 98.19h0.65v0.65h-0.65zM338.57 98.63h0.65v0.65h-0.65zM327.29 117.97h0.65v0.65h-0.65zM332.28 101.34h0.65v0.65h-0.65zM335.19 101.82h0.65v0.65h-0.65zM329.48 110.94h0.65v0.65h-0.65zM317.19 131.07h0.65v0.65h-0.65zM333.78 101.88h0.65v0.65h-0.65zM323.29 135.31h0.65v0.65h-0.65zM321.85 122.09h0.65v0.65h-0.65zM326.47 105.51h0.65v0.65h-0.65zM327.06 115.19h0.65v0.65h-0.65zM319.12 123.57h0.65v0.65h-0.65zM325.18 109.94h0.65v0.65h-0.65zM320.6 124.58h0.65v0.65h-0.65zM324.55 120.65h0.65v0.65h-0.65zM327.04 119.81h0.65v0.65h-0.65zM330.79 102.71h0.65v0.65h-0.65zM331.58 102.92h0.65v0.65h-0.65zM322 129.1h0.65v0.65h-0.65zM319.96 129.27h0.65v0.65h-0.65zM321.94 122.48h0.65v0.65h-0.65zM334.81 96.78h0.65v0.65h-0.65zM334.92 94.17h0.65v0.65h-0.65zM336.66 106.74h0.65v0.65h-0.65zM329.32 110.34h0.65v0.65h-0.65zM318.96 132.94h0.65v0.65h-0.65zM325.66 126.59h0.65v0.65h-0.65zM327.84 116.14h0.65v0.65h-0.65zM333.82 98.74h0.65v0.65h-0.65zM325.17 122.78h0.65v0.65h-0.65zM325.71 125.94h0.65v0.65h-0.65zM323.93 129.75h0.65v0.65h-0.65zM323.05 126.45h0.65v0.65h-0.65zM331.48 116.84h0.65v0.65h-0.65zM320.14 119.15h0.65v0.65h-0.65zM331.48 103.25h0.65v0.65h-0.65zM330.41 121.42h0.65v0.65h-0.65zM326.96 109.36h0.65v0.65h-0.65zM327.32 113.72h0.65v0.65h-0.65zM336.45 97.37h0.65v0.65h-0.65zM335.84 110.68h0.65v0.65h-0.65zM339.01 98.33h0.65v0.65h-0.65zM319.9 132.32h0.65v0.65h-0.65zM327.02 110.66h0.65v0.65h-0.65zM332.12 98.13h0.65v0.65h-0.65zM334.12 107.2h0.65v0.65h-0.65zM321.08 125.04h0.65v0.65h-0.65zM334.47 91.83h0.65v0.65h-0.65zM322.98 126.03h0.65v0.65h-0.65zM323.83 122.15h0.65v0.65h-0.65zM324.16 129.93h0.65v0.65h-0.65zM325.89 127.86h0.65v0.65h-0.65zM336.92 102h0.65v0.65h-0.65zM336.99 98.79h0.65v0.65h-0.65zM323.18 129.1h0.65v0.65h-0.65zM332.94 116.25h0.65v0.65h-0.65zM334.28 94.21h0.65v0.65h-0.65zM338.82 94.81h0.65v0.65h-0.65zM322.09 125.06h0.65v0.65h-0.65zM330.66 111.64h0.65v0.65h-0.65zM333.89 98.13h0.65v0.65h-0.65zM333.15 101.48h0.65v0.65h-0.65zM317.68 128.17h0.65v0.65h-0.65zM340.45 95.43h0.65v0.65h-0.65zM335.41 104.88h0.65v0.65h-0.65zM324.18 120.18h0.65v0.65h-0.65zM329.97 101.34h0.65v0.65h-0.65zM323.41 133.26h0.65v0.65h-0.65zM332.47 99.79h0.65v0.65h-0.65zM328.98 114.58h0.65v0.65h-0.65zM326.95 110.17h0.65v0.65h-0.65zM319.23 132.45h0.65v0.65h-0.65zM334.69 97.95h0.65v0.65h-0.65zM339.74 95.71h0.65v0.65h-0.65zM340.29 95.45h0.65v0.65h-0.65zM334.66 104.37h0.65v0.65h-0.65zM328.12 115.85h0.65v0.65h-0.65zM331.06 109.39h0.65v0.65h-0.65zM318.31 131.89h0.65v0.65h-0.65zM335.59 95.17h0.65v0.65h-0.65zM323.18 128.6h0.65v0.65h-0.65zM336.78 92.16h0.65v0.65h-0.65zM320.46 127.02h0.65v0.65h-0.65zM333.26 95.49h0.65v0.65h-0.65zM318.86 127.12h0.65v0.65h-0.65zM327.25 116.73h0.65v0.65h-0.65zM327.05 116.36h0.65v0.65h-0.65zM322.36 132.17h0.65v0.65h-0.65zM336.19 93.94h0.65v0.65h-0.65zM334.2 98.63h0.65v0.65h-0.65zM330.96 104.44h0.65v0.65h-0.65zM326.72 112.62h0.65v0.65h-0.65zM328.8 112.52h0.65v0.65h-0.65zM337.74 101.98h0.65v0.65h-0.65zM331.6 118.17h0.65v0.65h-0.65zM324.75 122.91h0.65v0.65h-0.65zM334.29 108.14h0.65v0.65h-0.65zM332.42 111.17h0.65v0.65h-0.65zM326.45 111.55h0.65v0.65h-0.65zM336.93 92.51h0.65v0.65h-0.65zM326.11 120.42h0.65v0.65h-0.65zM327.52 121.74h0.65v0.65h-0.65zM322.76 133.42h0.65v0.65h-0.65zM332.46 104.95h0.65v0.65h-0.65zM332.54 103.4h0.65v0.65h-0.65zM329.89 102.36h0.65v0.65h-0.65zM319.75 123.83h0.65v0.65h-0.65zM331.84 100.88h0.65v0.65h-0.65zM319.77 125.71h0.65v0.65h-0.65zM338.27 102.07h0.65v0.65h-0.65zM338.12 93.53h0.65v0.65h-0.65zM323.19 130.08h0.65v0.65h-0.65zM332.18 103.55h0.65v0.65h-0.65zM328.97 99.53h0.65v0.65h-0.65zM328.47 105.74h0.65v0.65h-0.65zM328.21 105.26h0.65v0.65h-0.65zM331.03 101.47h0.65v0.65h-0.65zM331.89 110.82h0.65v0.65h-0.65zM329.43 117.22h0.65v0.65h-0.65zM324.74 114.79h0.65v0.65h-0.65zM325.6 117.15h0.65v0.65h-0.65zM321.78 113.85h0.65v0.65h-0.65zM327.27 132.53h0.65v0.65h-0.65zM319.76 133.07h0.65v0.65h-0.65zM324.7 113.96h0.65v0.65h-0.65zM328.59 108.55h0.65v0.65h-0.65zM321.89 134.01h0.65v0.65h-0.65zM337.11 98.21h0.65v0.65h-0.65zM327 114.09h0.65v0.65h-0.65zM331.36 122.77h0.65v0.65h-0.65zM336.47 99.78h0.65v0.65h-0.65zM323.96 123.82h0.65v0.65h-0.65zM338.13 102.4h0.65v0.65h-0.65zM326.34 113.61h0.65v0.65h-0.65zM334.98 101.04h0.65v0.65h-0.65zM335.6 98.1h0.65v0.65h-0.65zM328.96 108.6h0.65v0.65h-0.65zM336.03 92.33h0.65v0.65h-0.65zM319.26 126.61h0.65v0.65h-0.65zM320.9 131.41h0.65v0.65h-0.65zM332.64 99.57h0.65v0.65h-0.65zM336.89 95.25h0.65v0.65h-0.65zM333.68 109.4h0.65v0.65h-0.65zM329.47 117.26h0.65v0.65h-0.65zM328.57 125.27h0.65v0.65h-0.65zM319.99 128.04h0.65v0.65h-0.65zM321.77 123.52h0.65v0.65h-0.65zM328.75 121.67h0.65v0.65h-0.65zM328.2 115.83h0.65v0.65h-0.65zM330.51 103.05h0.65v0.65h-0.65zM323.07 119.24h0.65v0.65h-0.65zM332.64 109.49h0.65v0.65h-0.65zM332.55 108.61h0.65v0.65h-0.65zM330.42 107.02h0.65v0.65h-0.65zM322.76 129.05h0.65v0.65h-0.65zM330.73 110.95h0.65v0.65h-0.65zM332.74 108.93h0.65v0.65h-0.65zM333.05 95.25h0.65v0.65h-0.65zM329.74 109.3h0.65v0.65h-0.65zM325.03 122.56h0.65v0.65h-0.65zM322.76 122.31h0.65v0.65h-0.65zM328.95 116.18h0.65v0.65h-0.65zM322.3 125.53h0.65v0.65h-0.65zM322.84 128.71h0.65v0.65h-0.65zM329.31 118.46h0.65v0.65h-0.65zM330.14 100.97h0.65v0.65h-0.65zM328.65 118.12h0.65v0.65h-0.65zM335.72 102.52h0.65v0.65h-0.65zM333.88 94.58h0.65v0.65h-0.65zM327.85 124.92h0.65v0.65h-0.65zM331.09 105.15h0.65v0.65h-0.65zM326.27 117.9h0.65v0.65h-0.65zM336.63 97.46h0.65v0.65h-0.65zM325.07 118.47h0.65v0.65h-0.65zM325.83 110.61h0.65v0.65h-0.65zM324.7 125.79h0.65v0.65h-0.65zM333.99 106.35h0.65v0.65h-0.65zM333.91 113.07h0.65v0.65h-0.65zM327.43 115.84h0.65v0.65h-0.65zM321.05 131.05h0.65v0.65h-0.65zM336.03 100.27h0.65v0.65h-0.65zM328.31 110.48h0.65v0.65h-0.65zM326.94 122.57h0.65v0.65h-0.65zM321.78 121.03h0.65v0.65h-0.65zM337.72 102.63h0.65v0.65h-0.65zM335.11 105.99h0.65v0.65h-0.65zM319.07 128.07h0.65v0.65h-0.65zM321.93 132.61h0.65v0.65h-0.65zM330.95 112.61h0.65v0.65h-0.65zM331.28 98.38h0.65v0.65h-0.65zM322.5 123.18h0.65v0.65h-0.65zM336.75 92.79h0.65v0.65h-0.65zM318.07 130.97h0.65v0.65h-0.65zM336.47 92.67h0.65v0.65h-0.65zM327.74 131.4h0.65v0.65h-0.65zM327.25 105.01h0.65v0.65h-0.65zM329.93 123.5h0.65v0.65h-0.65z" fill="#3a3a3a" fill-opacity="0.14"/>
<path d="M323.11 131.58h0.65v0.65h-0.65zM318.67 125.27h0.65v0.65h-0.65zM321.02 133.13h0.65v0.65h-0.65zM325.48 131.48h0.65v0.65h-0.65zM320.37 132.08h0.65v0.65h-0.65zM321.53 132.4h0.65v0.65h-0.65zM318.48 125.75h0.65v0.65h-0.65zM319.62 129.83h0.65v0.65h-0.65zM322.52 128.62h0.65v0.65h-0.65zM322.52 132.64h0.65v0.65h-0.65zM318.1 129.61h0.65v0.65h-0.65zM316.94 127.87h0.65v0.65h-0.65zM324.15 127.22h0.65v0.65h-0.65zM326.96 131.96h0.65v0.65h-0.65zM324.11 130.41h0.65v0.65h-0.65zM324.04 134.25h0.65v0.65h-0.65zM321.81 127.94h0.65v0.65h-0.65zM320.96 128.22h0.65v0.65h-0.65zM319.43 123.45h0.65v0.65h-0.65zM320.04 131.26h0.65v0.65h-0.65zM320.08 127.05h0.65v0.65h-0.65zM322.7 131.79h0.65v0.65h-0.65zM320.22 131.2h0.65v0.65h-0.65zM318.65 133.35h0.65v0.65h-0.65zM318.61 128.69h0.65v0.65h-0.65zM321.9 128.37h0.65v0.65h-0.65zM325.95 123.22h0.65v0.65h-0.65zM321.86 125.07h0.65v0.65h-0.65zM322.41 124.93h0.65v0.65h-0.65zM323.2 132.07h0.65v0.65h-0.65zM326.51 134.69h0.65v0.65h-0.65zM320.16 133.68h0.65v0.65h-0.65zM320.16 129.56h0.65v0.65h-0.65zM320.03 123.15h0.65v0.65h-0.65zM323.27 122.09h0.65v0.65h-0.65zM320.81 132.05h0.65v0.65h-0.65zM321.84 123.87h0.65v0.65h-0.65zM319.6 132.65h0.65v0.65h-0.65zM324.72 136.21h0.65v0.65h-0.65zM320.09 132.98h0.65v0.65h-0.65zM323.57 127.49h0.65v0.65h-0.65zM320.44 126.19h0.65v0.65h-0.65zM324.77 124.83h0.65v0.65h-0.65zM318.82 128.71h0.65v0.65h-0.65zM322.3 126.76h0.65v0.65h-0.65zM323.2 131.34h0.65v0.65h-0.65zM322.33 129.75h0.65v0.65h-0.65zM322.85 125.44h0.65v0.65h-0.65zM317.98 128.34h0.65v0.65h-0.65zM318.26 132.73h0.65v0.65h-0.65zM327.19 134.81h0.65v0.65h-0.65zM322.81 131.32h0.65v0.65h-0.65zM319.49 124.94h0.65v0.65h-0.65zM323.11 124.24h0.65v0.65h-0.65zM322.39 129.45h0.65v0.65h-0.65zM323.7 130.2h0.65v0.65h-0.65zM321.81 127.74h0.65v0.65h-0.65zM323.54 134.07h0.65v0.65h-0.65zM325.54 126.12h0.65v0.65h-0.65zM318.75 132.73h0.65v0.65h-0.65zM322.42 124.08h0.65v0.65h-0.65zM319.87 136.12h0.65v0.65h-0.65zM317.44 136.24h0.65v0.65h-0.65zM320.19 125.99h0.65v0.65h-0.65zM327.89 130.39h0.65v0.65h-0.65zM320.72 125.48h0.65v0.65h-0.65zM322.5 128.16h0.65v0.65h-0.65zM319.02 135.39h0.65v0.65h-0.65zM322.79 126.54h0.65v0.65h-0.65zM325.84 129.79h0.65v0.65h-0.65zM322.98 130.58h0.65v0.65h-0.65zM324.96 132.4h0.65v0.65h-0.65zM320.48 132.8h0.65v0.65h-0.65zM320.35 130.52h0.65v0.65h-0.65zM326.31 125.86h0.65v0.65h-0.65zM318.47 128.44h0.65v0.65h-0.65zM320.04 135.07h0.65v0.65h-0.65zM326.15 128.25h0.65v0.65h-0.65zM322.05 128.59h0.65v0.65h-0.65zM323.47 132.58h0.65v0.65h-0.65zM323.71 132.99h0.65v0.65h-0.65zM327.17 129.34h0.65v0.65h-0.65zM323.55 129.27h0.65v0.65h-0.65zM321.61 130.86h0.65v0.65h-0.65zM321.35 131.35h0.65v0.65h-0.65zM319 129.4h0.65v0.65h-0.65zM319.73 125.44h0.65v0.65h-0.65zM319.43 128.06h0.65v0.65h-0.65zM321.06 123.91h0.65v0.65h-0.65zM320.75 125.6h0.65v0.65h-0.65zM319.1 130.74h0.65v0.65h-0.65zM324.75 131.12h0.65v0.65h-0.65zM320.07 128.29h0.65v0.65h-0.65zM325.43 123.67h0.65v0.65h-0.65zM324.84 124.14h0.65v0.65h-0.65zM319.64 130.18h0.65v0.65h-0.65zM320.85 136.49h0.65v0.65h-0.65zM322.95 129.81h0.65v0.65h-0.65zM324.3 130.15h0.65v0.65h-0.65zM319.14 134.38h0.65v0.65h-0.65zM325.9 135h0.65v0.65h-0.65zM320.28 133h0.65v0.65h-0.65zM324.96 131.93h0.65v0.65h-0.65zM322.8 129.27h0.65v0.65h-0.65zM321.49 130.91h0.65v0.65h-0.65zM323.71 128.96h0.65v0.65h-0.65zM318.87 128.59h0.65v0.65h-0.65zM327.3 127.32h0.65v0.65h-0.65zM324.59 130.48h0.65v0.65h-0.65zM323.66 128.95h0.65v0.65h-0.65zM318.84 133.91h0.65v0.65h-0.65zM321.9 136.26h0.65v0.65h-0.65zM320.73 128.54h0.65v0.65h-0.65zM322.51 129.26h0.65v0.65h-0.65zM320.58 126.5h0.65v0.65h-0.65zM322.25 131.26h0.65v0.65h-0.65zM326.88 129.9h0.65v0.65h-0.65zM319.14 129.35h0.65v0.65h-0.65zM320.95 124.09h0.65v0.65h-0.65zM323.2 126.58h0.65v0.65h-0.65zM325.18 130.76h0.65v0.65h-0.65zM320 128.98h0.65v0.65h-0.65zM324.35 127.97h0.65v0.65h-0.65zM322.73 133.78h0.65v0.65h-0.65zM318.83 127.7h0.65v0.65h-0.65zM322.82 130.03h0.65v0.65h-0.65zM321.13 127.93h0.65v0.65h-0.65zM321.31 137.26h0.65v0.65h-0.65zM325.5 123.69h0.65v0.65h-0.65zM321.64 130.36h0.65v0.65h-0.65zM321.61 124.6h0.65v0.65h-0.65zM321.12 130.58h0.65v0.65h-0.65zM319.49 131.23h0.65v0.65h-0.65zM321.8 131.53h0.65v0.65h-0.65zM321.01 128.21h0.65v0.65h-0.65zM322.05 134.24h0.65v0.65h-0.65zM324.15 129.69h0.65v0.65h-0.65zM320.13 134.16h0.65v0.65h-0.65zM323.09 133.46h0.65v0.65h-0.65zM320.68 126.63h0.65v0.65h-0.65z" fill="#3a3a3a" fill-opacity="0.15"/>
<path d="M348.67 84.71h0.65v0.65h-0.65zM367.57 120.92h0.65v0.65h-0.65zM371.15 125.4h0.65v0.65h-0.65zM335.71 78.94h0.65v0.65h-0.65zM364.05 124.82h0.65v0.65h-0.65zM346.17 71.76h0.65v0.65h-0.65zM328.78 83.36h0.65v0.65h-0.65zM353.72 125.69h0.65v0.65h-0.65zM370.5 98.96h0.65v0.65h-0.65zM338.27 115.63h0.65v0.65h-0.65zM322.65 70.07h0.65v0.65h-0.65zM364.93 99.88h0.65v0.65h-0.65zM364.86 89.96h0.65v0.65h-0.65zM321.85 59h0.65v0.65h-0.65zM350.32 122.04h0.65v0.65h-0.65zM352.31 99.08h0.65v0.65h-0.65zM337.13 126.69h0.65v0.65h-0.65zM344.09 64.74h0.65v0.65h-0.65zM371.92 84.12h0.65v0.65h-0.65zM352.69 100.09h0.65v0.65h-0.65zM365.7 106.06h0.65v0.65h-0.65zM369.09 105.16h0.65v0.65h-0.65zM335.96 87.56h0.65v0.65h-0.65zM357.78 79.7h0.65v0.65h-0.65zM363.23 94.14h0.65v0.65h-0.65zM326.78 78.62h0.65v0.65h-0.65zM360.15 100.48h0.65v0.65h-0.65zM339.54 99.97h0.65v0.65h-0.65zM336.68 132.67h0.65v0.65h-0.65zM348.47 88.8h0.65v0.65h-0.65zM348.64 75.54h0.65v0.65h-0.65zM324.33 96.05h0.65v0.65h-0.65zM384.06 72.77h0.65v0.65h-0.65zM342.22 61.35h0.65v0.65h-0.65zM348.38 105.2h0.65v0.65h-0.65zM359.55 67.34h0.65v0.65h-0.65zM333.19 84.16h0.65v0.65h-0.65zM341.08 99h0.65v0.65h-0.65zM335.02 119.52h0.65v0.65h-0.65zM375.11 73.71h0.65v0.65h-0.65zM365.79 100.69h0.65v0.65h-0.65zM369.58 125.94h0.65v0.65h-0.65zM357.87 58.91h0.65v0.65h-0.65zM347.63 87.75h0.65v0.65h-0.65zM353.8 100.93h0.65v0.65h-0.65zM365.62 60.69h0.65v0.65h-0.65zM330.45 98.15h0.65v0.65h-0.65zM351.31 90.09h0.65v0.65h-0.65zM344.44 101.37h0.65v0.65h-0.65zM365.59 97.22h0.65v0.65h-0.65zM349.76 55.43h0.65v0.65h-0.65zM353.06 97.64h0.65v0.65h-0.65zM345.05 82.09h0.65v0.65h-0.65zM336.74 120.39h0.65v0.65h-0.65zM352.04 99.36h0.65v0.65h-0.65zM335.39 105.21h0.65v0.65h-0.65zM368.41 99.53h0.65v0.65h-0.65zM337.79 71.08h0.65v0.65h-0.65zM346.95 77.48h0.65v0.65h-0.65zM332.74 50.02h0.65v0.65h-0.65zM342.9 67.48h0.65v0.65h-0.65zM323.32 117.65h0.65v0.65h-0.65zM353.01 105.24h0.65v0.65h-0.65zM341.14 111.89h0.65v0.65h-0.65zM375.29 111.97h0.65v0.65h-0.65zM341.77 65.66h0.65v0.65h-0.65zM357.75 69.13h0.65v0.65h-0.65zM348.65 131.92h0.65v0.65h-0.65zM332.51 112.15h0.65v0.65h-0.65zM352.37 117.28h0.65v0.65h-0.65zM338.03 99.49h0.65v0.65h-0.65zM336.96 129.49h0.65v0.65h-0.65zM319.81 83.35h0.65v0.65h-0.65zM344.53 100.65h0.65v0.65h-0.65zM380.2 94.58h0.65v0.65h-0.65zM351.82 108.7h0.65v0.65h-0.65zM350.08 136.07h0.65v0.65h-0.65zM347.73 103.68h0.65v0.65h-0.65zM342.79 100.1h0.65v0.65h-0.65zM343.9 124.5h0.65v0.65h-0.65zM345.39 101.69h0.65v0.65h-0.65zM344.06 118.65h0.65v0.65h-0.65zM335.69 123.1h0.65v0.65h-0.65zM333.73 117.06h0.65v0.65h-0.65zM382.84 105.72h0.65v0.65h-0.65zM343.28 70.95h0.65v0.65h-0.65zM359.58 100.32h0.65v0.65h-0.65zM362.93 83.84h0.65v0.65h-0.65zM352.93 91.96h0.65v0.65h-0.65zM319.33 99.79h0.65v0.65h-0.65zM357.99 114.74h0.65v0.65h-0.65zM322.96 74.7h0.65v0.65h-0.65zM325.75 74.87h0.65v0.65h-0.65zM339.56 106.55h0.65v0.65h-0.65zM382.93 104.83h0.65v0.65h-0.65zM373.67 59.27h0.65v0.65h-0.65zM375.42 119.68h0.65v0.65h-0.65zM353.7 120.33h0.65v0.65h-0.65zM360.9 57.11h0.65v0.65h-0.65zM343.35 132.6h0.65v0.65h-0.65zM338.24 83.84h0.65v0.65h-0.65zM338.23 107.77h0.65v0.65h-0.65zM348.69 84.72h0.65v0.65h-0.65zM355.6 115.22h0.65v0.65h-0.65zM326.88 72.54h0.65v0.65h-0.65zM345.21 82.85h0.65v0.65h-0.65zM333.1 96.71h0.65v0.65h-0.65zM345.58 114.08h0.65v0.65h-0.65zM361.44 110.8h0.65v0.65h-0.65zM367.1 76.1h0.65v0.65h-0.65z" fill="#3a3a3a" fill-opacity="0.13"/>
<path d="M339.69 86.26h0.7v0.7h-0.7zM352.35 76.47h0.7v0.7h-0.7zM339.12 88.93h0.7v0.7h-0.7zM353.76 74.16h0.7v0.7h-0.7zM339.3 86.22h0.7v0.7h-0.7zM352.37 73.25h0.7v0.7h-0.7zM350.26 74.12h0.7v0.7h-0.7zM346.75 75.95h0.7v0.7h-0.7zM363.5 64.11h0.7v0.7h-0.7zM356.91 68.56h0.7v0.7h-0.7zM353.97 72.39h0.7v0.7h-0.7zM363.52 65.67h0.7v0.7h-0.7zM342.5 82.42h0.7v0.7h-0.7zM351.84 73.78h0.7v0.7h-0.7zM358.25 69.41h0.7v0.7h-0.7zM342.65 82.33h0.7v0.7h-0.7zM347.51 76.61h0.7v0.7h-0.7zM355.78 70.71h0.7v0.7h-0.7zM358.53 68.72h0.7v0.7h-0.7zM351.62 77.5h0.7v0.7h-0.7zM362.04 65.04h0.7v0.7h-0.7zM338.1 87.83h0.7v0.7h-0.7zM348.97 75.9h0.7v0.7h-0.7zM339.63 85.23h0.7v0.7h-0.7zM350.54 76.91h0.7v0.7h-0.7zM349.22 77.61h0.7v0.7h-0.7zM345.19 78.29h0.7v0.7h-0.7zM347.49 78.68h0.7v0.7h-0.7zM342.13 86.51h0.7v0.7h-0.7zM363.25 64.78h0.7v0.7h-0.7zM344.05 80.63h0.7v0.7h-0.7zM357.46 70.65h0.7v0.7h-0.7zM350.34 76.19h0.7v0.7h-0.7zM340.46 84.68h0.7v0.7h-0.7zM341.8 82.19h0.7v0.7h-0.7zM348.1 79.54h0.7v0.7h-0.7zM362.63 64.32h0.7v0.7h-0.7zM363.19 65.08h0.7v0.7h-0.7zM353.26 71.39h0.7v0.7h-0.7zM344.98 78.8h0.7v0.7h-0.7zM339.51 88.87h0.7v0.7h-0.7zM352.47 73.76h0.7v0.7h-0.7zM338.76 86.36h0.7v0.7h-0.7zM353.7 71.82h0.7v0.7h-0.7zM345.53 82.18h0.7v0.7h-0.7zM343.94 80.83h0.7v0.7h-0.7zM361.19 66.61h0.7v0.7h-0.7zM350.81 77.06h0.7v0.7h-0.7zM363.66 64.66h0.7v0.7h-0.7zM358.73 69.18h0.7v0.7h-0.7zM337.15 84.08h0.7v0.7h-0.7zM356.8 71.52h0.7v0.7h-0.7zM359.25 69.91h0.7v0.7h-0.7zM348.01 80.98h0.7v0.7h-0.7zM350.22 76.89h0.7v0.7h-0.7zM344.69 82.64h0.7v0.7h-0.7zM339.56 88.17h0.7v0.7h-0.7zM342.5 85.27h0.7v0.7h-0.7zM359.87 66.8h0.7v0.7h-0.7zM339.76 82.9h0.7v0.7h-0.7zM340.08 85.6h0.7v0.7h-0.7zM345.62 83.37h0.7v0.7h-0.7zM350.12 75.09h0.7v0.7h-0.7zM354.6 74.66h0.7v0.7h-0.7zM351.65 72.15h0.7v0.7h-0.7zM338.89 87.39h0.7v0.7h-0.7zM343.01 81.71h0.7v0.7h-0.7zM339.13 82.94h0.7v0.7h-0.7zM349.34 76.86h0.7v0.7h-0.7zM350.56 77.69h0.7v0.7h-0.7zM352.49 76.2h0.7v0.7h-0.7zM346.55 81.95h0.7v0.7h-0.7zM363.91 64.71h0.7v0.7h-0.7zM349.51 77.61h0.7v0.7h-0.7zM343.84 81.74h0.7v0.7h-0.7zM348.8 76.76h0.7v0.7h-0.7zM338.4 83.89h0.7v0.7h-0.7zM358.39 69.34h0.7v0.7h-0.7zM341.41 82.85h0.7v0.7h-0.7zM354.49 74.45h0.7v0.7h-0.7zM349.28 78.79h0.7v0.7h-0.7zM362.13 65.95h0.7v0.7h-0.7zM338.72 87.35h0.7v0.7h-0.7zM347.69 78.89h0.7v0.7h-0.7zM362.89 64.28h0.7v0.7h-0.7zM339.55 89.01h0.7v0.7h-0.7zM350.57 75.22h0.7v0.7h-0.7zM352.57 73.99h0.7v0.7h-0.7zM348.27 76.42h0.7v0.7h-0.7zM356.73 72.61h0.7v0.7h-0.7zM340.56 85.46h0.7v0.7h-0.7zM344.33 81.92h0.7v0.7h-0.7zM360.1 66.98h0.7v0.7h-0.7zM340.89 85.61h0.7v0.7h-0.7zM348.36 75.08h0.7v0.7h-0.7zM363.75 63.95h0.7v0.7h-0.7zM342.5 82.45h0.7v0.7h-0.7zM339.21 83.44h0.7v0.7h-0.7zM359.74 66.94h0.7v0.7h-0.7zM344.25 81.91h0.7v0.7h-0.7zM344.48 82.05h0.7v0.7h-0.7zM358.21 68.75h0.7v0.7h-0.7zM360.66 65.86h0.7v0.7h-0.7zM336.47 87.08h0.7v0.7h-0.7zM352.44 72.38h0.7v0.7h-0.7zM350.05 74.56h0.7v0.7h-0.7zM340.38 85.61h0.7v0.7h-0.7zM340.94 88.11h0.7v0.7h-0.7zM339.87 85.42h0.7v0.7h-0.7zM353.15 76.46h0.7v0.7h-0.7zM347.89 80.84h0.7v0.7h-0.7zM343.12 81.91h0.7v0.7h-0.7zM352.72 74.94h0.7v0.7h-0.7zM348.06 76.81h0.7v0.7h-0.7zM353.66 75.35h0.7v0.7h-0.7zM341.76 83.5h0.7v0.7h-0.7zM352.35 73.62h0.7v0.7h-0.7zM356.88 71.6h0.7v0.7h-0.7zM336.41 86.24h0.7v0.7h-0.7zM353.14 73.59h0.7v0.7h-0.7z" fill="#222" fill-opacity="0.26"/>
<path d="M324.45 112.34h0.7v0.7h-0.7zM321.3 114.24h0.7v0.7h-0.7zM322.87 122.49h0.7v0.7h-0.7zM320.91 116.34h0.7v0.7h-0.7zM323.33 111.61h0.7v0.7h-0.7zM321.59 119.77h0.7v0.7h-0.7zM326.36 108.52h0.7v0.7h-0.7zM325.1 115.68h0.7v0.7h-0.7zM326.82 119.81h0.7v0.7h-0.7zM328.84 118.4h0.7v0.7h-0.7zM321.83 113.24h0.7v0.7h-0.7zM318.76 119.51h0.7v0.7h-0.7zM324.53 120.7h0.7v0.7h-0.7zM324.04 110.23h0.7v0.7h-0.7zM321.8 115.9h0.7v0.7h-0.7zM323.47 120.47h0.7v0.7h-0.7zM327.2 118.29h0.7v0.7h-0.7zM319.45 118.08h0.7v0.7h-0.7zM322.34 122.04h0.7v0.7h-0.7zM326.2 114.94h0.7v0.7h-0.7zM325.8 117.06h0.7v0.7h-0.7zM324.35 123.09h0.7v0.7h-0.7zM319.6 116.7h0.7v0.7h-0.7zM327.56 113.55h0.7v0.7h-0.7zM323.64 117.6h0.7v0.7h-0.7zM321.77 111.09h0.7v0.7h-0.7zM320.97 112.57h0.7v0.7h-0.7zM326.21 118.12h0.7v0.7h-0.7zM325.08 111.64h0.7v0.7h-0.7zM324.49 117.65h0.7v0.7h-0.7zM326.11 113.75h0.7v0.7h-0.7zM325.4 123.19h0.7v0.7h-0.7zM328.35 112.81h0.7v0.7h-0.7zM319.67 110.39h0.7v0.7h-0.7zM325.85 119.68h0.7v0.7h-0.7zM324.01 113.09h0.7v0.7h-0.7zM326.72 124.24h0.7v0.7h-0.7zM322.9 116.46h0.7v0.7h-0.7zM326.53 119.28h0.7v0.7h-0.7zM326.99 115.18h0.7v0.7h-0.7zM324.01 115.48h0.7v0.7h-0.7zM321.31 115.66h0.7v0.7h-0.7zM322.16 119.28h0.7v0.7h-0.7zM322.1 117.32h0.7v0.7h-0.7zM320.6 111.48h0.7v0.7h-0.7zM327.24 112.57h0.7v0.7h-0.7zM328.38 121.24h0.7v0.7h-0.7zM321.77 117.09h0.7v0.7h-0.7zM322.47 114.28h0.7v0.7h-0.7zM326.72 116.43h0.7v0.7h-0.7zM325.86 113.91h0.7v0.7h-0.7zM320.96 123.01h0.7v0.7h-0.7zM322.17 112.05h0.7v0.7h-0.7zM322.5 121.74h0.7v0.7h-0.7zM322.53 113.77h0.7v0.7h-0.7zM324.89 121.43h0.7v0.7h-0.7zM322.39 115.57h0.7v0.7h-0.7zM322.45 124.86h0.7v0.7h-0.7zM322.56 118.83h0.7v0.7h-0.7zM316.97 117.8h0.7v0.7h-0.7zM323.16 115.58h0.7v0.7h-0.7zM321.79 110.87h0.7v0.7h-0.7zM318.59 117.75h0.7v0.7h-0.7zM321.11 116.6h0.7v0.7h-0.7zM322.47 114.72h0.7v0.7h-0.7zM320.85 125.36h0.7v0.7h-0.7zM319.74 114.71h0.7v0.7h-0.7zM322.13 111.81h0.7v0.7h-0.7zM320.16 120.88h0.7v0.7h-0.7zM325.76 117.6h0.7v0.7h-0.7zM326.66 113.34h0.7v0.7h-0.7zM326.22 124.58h0.7v0.7h-0.7zM321.88 125.14h0.7v0.7h-0.7zM320.62 111.9h0.7v0.7h-0.7zM322.87 113.38h0.7v0.7h-0.7zM324.89 112.03h0.7v0.7h-0.7zM323.25 108.21h0.7v0.7h-0.7zM322.91 121.73h0.7v0.7h-0.7zM322.23 118.41h0.7v0.7h-0.7zM326.24 112.07h0.7v0.7h-0.7zM319.24 117.37h0.7v0.7h-0.7zM323.83 115.8h0.7v0.7h-0.7zM320.14 122.46h0.7v0.7h-0.7zM319.56 115.83h0.7v0.7h-0.7zM322.88 120.26h0.7v0.7h-0.7zM321.68 113.32h0.7v0.7h-0.7zM328.97 113.21h0.7v0.7h-0.7zM325.37 116.31h0.7v0.7h-0.7zM321.6 116.8h0.7v0.7h-0.7zM322.25 118.4h0.7v0.7h-0.7zM323.22 112.64h0.7v0.7h-0.7zM328.48 119.89h0.7v0.7h-0.7zM323.7 115.63h0.7v0.7h-0.7zM327.12 114.99h0.7v0.7h-0.7zM320.58 120.11h0.7v0.7h-0.7zM320.15 113.45h0.7v0.7h-0.7zM327.3 109.79h0.7v0.7h-0.7zM322.82 117.54h0.7v0.7h-0.7zM323.78 110.46h0.7v0.7h-0.7zM322.34 115.5h0.7v0.7h-0.7zM328.7 121.51h0.7v0.7h-0.7zM320.77 120.93h0.7v0.7h-0.7zM324.95 116.49h0.7v0.7h-0.7zM322.29 115.77h0.7v0.7h-0.7zM318.44 114.17h0.7v0.7h-0.7zM325.78 123.49h0.7v0.7h-0.7zM328.5 115.31h0.7v0.7h-0.7zM322.22 111.33h0.7v0.7h-0.7zM325.45 109.56h0.7v0.7h-0.7zM319.93 112.04h0.7v0.7h-0.7z" fill="#222" fill-opacity="0.26"/>
<path d="M315.9 138.3v2.6M315.9 138.3h-2.6M323.05 138.3v1.6M315.9 131.15h-1.6M327.23 138.3v1.6M315.9 126.97h-1.6M330.2 138.3v1.6M315.9 124h-1.6M332.5 138.3v1.6M315.9 121.7h-1.6M334.38 138.3v1.6M315.9 119.82h-1.6M335.97 138.3v1.6M315.9 118.23h-1.6M337.35 138.3v1.6M315.9 116.85h-1.6M338.56 138.3v1.6M315.9 115.64h-1.6M339.65 138.3v2.6M315.9 114.55h-2.6M346.8 138.3v1.6M315.9 107.4h-1.6M350.98 138.3v1.6M315.9 103.22h-1.6M353.95 138.3v1.6M315.9 100.25h-1.6M356.25 138.3v1.6M315.9 97.95h-1.6M358.13 138.3v1.6M315.9 96.07h-1.6M359.72 138.3v1.6M315.9 94.48h-1.6M361.1 138.3v1.6M315.9 93.1h-1.6M362.31 138.3v1.6M315.9 91.89h-1.6M363.4 138.3v2.6M315.9 90.8h-2.6M370.55 138.3v1.6M315.9 83.65h-1.6M374.73 138.3v1.6M315.9 79.47h-1.6M377.7 138.3v1.6M315.9 76.5h-1.6M380 138.3v1.6M315.9 74.2h-1.6M381.88 138.3v1.6M315.9 72.32h-1.6M383.47 138.3v1.6M315.9 70.73h-1.6M384.85 138.3v1.6M315.9 69.35h-1.6M386.06 138.3v1.6M315.9 68.14h-1.6M387.15 138.3v2.6M315.9 67.05h-2.6M394.3 138.3v1.6M315.9 59.9h-1.6M398.48 138.3v1.6M315.9 55.72h-1.6M401.45 138.3v1.6M315.9 52.75h-1.6M403.75 138.3v1.6M315.9 50.45h-1.6M405.63 138.3v1.6M315.9 48.57h-1.6M407.22 138.3v1.6M315.9 46.98h-1.6M408.6 138.3v1.6M315.9 45.6h-1.6M409.81 138.3v1.6M315.9 44.39h-1.6M410.9 138.3v2.4M315.9 43.4h-2.4" stroke="#222" stroke-width="0.7" fill="none"/>
<rect x="315.9" y="43.4" width="95" height="94.9" fill="none" stroke="#222" stroke-width="1.2"/>
<rect x="418" y="43.4" width="95" height="94.9" fill="#fafafa"/>
<path d="M426.7 126.21h0.65v0.65h-0.65zM421.12 133.94h0.65v0.65h-0.65zM425.7 112.84h0.65v0.65h-0.65zM426.5 119.39h0.65v0.65h-0.65zM428.55 122.26h0.65v0.65h-0.65zM434.31 128.86h0.65v0.65h-0.65zM422.31 125.81h0.65v0.65h-0.65zM428.25 111.5h0.65v0.65h-0.65zM421.84 113.05h0.65v0.65h-0.65zM424.1 129.36h0.65v0.65h-0.65zM422.65 120.11h0.65v0.65h-0.65zM428.1 127.25h0.65v0.65h-0.65zM426.38 111.18h0.65v0.65h-0.65zM434.37 126.45h0.65v0.65h-0.65zM430.8 132.45h0.65v0.65h-0.65zM430.98 122.83h0.65v0.65h-0.65zM427.03 124.56h0.65v0.65h-0.65zM420.89 122.88h0.65v0.65h-0.65zM420.74 125.23h0.65v0.65h-0.65zM425.84 123.57h0.65v0.65h-0.65zM421.18 117.21h0.65v0.65h-0.65zM424.78 117.21h0.65v0.65h-0.65zM423.18 112.51h0.65v0.65h-0.65zM428.26 116.44h0.65v0.65h-0.65zM421.57 122.43h0.65v0.65h-0.65zM421.58 118.11h0.65v0.65h-0.65zM422.86 112.11h0.65v0.65h-0.65zM424.07 112.93h0.65v0.65h-0.65zM419.72 122.32h0.65v0.65h-0.65zM423.77 107.81h0.65v0.65h-0.65zM423.36 121h0.65v0.65h-0.65zM426.84 122.49h0.65v0.65h-0.65zM426.11 124.28h0.65v0.65h-0.65zM422.94 113.13h0.65v0.65h-0.65zM427.63 116.23h0.65v0.65h-0.65zM425.07 124.71h0.65v0.65h-0.65zM429.01 129.28h0.65v0.65h-0.65zM422.12 116.55h0.65v0.65h-0.65zM427.39 108.07h0.65v0.65h-0.65zM419.7 124.36h0.65v0.65h-0.65zM422.43 112.14h0.65v0.65h-0.65zM428.43 123.75h0.65v0.65h-0.65zM428.92 116.86h0.65v0.65h-0.65zM423.81 116.8h0.65v0.65h-0.65zM426.29 103.3h0.65v0.65h-0.65zM422.1 125.16h0.65v0.65h-0.65zM421.73 118.99h0.65v0.65h-0.65zM425.56 123.67h0.65v0.65h-0.65zM423.02 110.47h0.65v0.65h-0.65zM432.28 105.48h0.65v0.65h-0.65zM425.5 117.95h0.65v0.65h-0.65zM433.06 135.78h0.65v0.65h-0.65zM429.17 111.42h0.65v0.65h-0.65zM421.64 113.5h0.65v0.65h-0.65zM422.85 121.59h0.65v0.65h-0.65zM421.71 117.54h0.65v0.65h-0.65zM431.27 130.99h0.65v0.65h-0.65zM423.46 129.85h0.65v0.65h-0.65zM423.64 134.74h0.65v0.65h-0.65zM426.58 130.95h0.65v0.65h-0.65zM421.41 117.04h0.65v0.65h-0.65zM429.35 124.06h0.65v0.65h-0.65zM425.8 124.53h0.65v0.65h-0.65zM422.35 133.38h0.65v0.65h-0.65zM425.68 131.05h0.65v0.65h-0.65zM426.74 120.18h0.65v0.65h-0.65zM423.69 110.22h0.65v0.65h-0.65zM428.7 125.54h0.65v0.65h-0.65zM428.99 116.52h0.65v0.65h-0.65zM420.8 116.49h0.65v0.65h-0.65zM423.72 119.42h0.65v0.65h-0.65zM429.2 112.26h0.65v0.65h-0.65zM422.98 125h0.65v0.65h-0.65zM428.86 137.13h0.65v0.65h-0.65zM427.27 112.77h0.65v0.65h-0.65zM420.65 113.22h0.65v0.65h-0.65zM425.34 121.53h0.65v0.65h-0.65zM424.76 114.63h0.65v0.65h-0.65zM424.27 118.89h0.65v0.65h-0.65zM427.55 120.17h0.65v0.65h-0.65zM421.63 110.21h0.65v0.65h-0.65zM431.31 118.83h0.65v0.65h-0.65zM424.31 119.32h0.65v0.65h-0.65zM429.81 117.02h0.65v0.65h-0.65zM425.79 117.63h0.65v0.65h-0.65zM427.49 111.48h0.65v0.65h-0.65zM425.91 127.69h0.65v0.65h-0.65zM430.05 124.42h0.65v0.65h-0.65zM426.29 132.01h0.65v0.65h-0.65zM428.04 130.63h0.65v0.65h-0.65zM419.98 110.79h0.65v0.65h-0.65zM428.43 117.4h0.65v0.65h-0.65zM423.23 111.97h0.65v0.65h-0.65zM431.32 110.04h0.65v0.65h-0.65zM425.5 108.44h0.65v0.65h-0.65zM420.8 132.45h0.65v0.65h-0.65zM421.44 105.35h0.65v0.65h-0.65zM426.52 110.95h0.65v0.65h-0.65zM421.98 111.07h0.65v0.65h-0.65zM425.77 118.01h0.65v0.65h-0.65zM429.79 120.27h0.65v0.65h-0.65zM431.77 128.55h0.65v0.65h-0.65zM432.56 128.42h0.65v0.65h-0.65zM425.36 123.84h0.65v0.65h-0.65zM425.15 107.17h0.65v0.65h-0.65zM420.1 125.39h0.65v0.65h-0.65zM419.65 119.02h0.65v0.65h-0.65zM420.7 121.5h0.65v0.65h-0.65zM424.23 115.79h0.65v0.65h-0.65zM421.5 101.88h0.65v0.65h-0.65zM425.38 109.26h0.65v0.65h-0.65zM423.82 122.46h0.65v0.65h-0.65zM429.48 125.1h0.65v0.65h-0.65zM431.29 108.25h0.65v0.65h-0.65zM427.91 131.96h0.65v0.65h-0.65zM426.73 110.72h0.65v0.65h-0.65zM426.74 115.4h0.65v0.65h-0.65zM422.35 127.96h0.65v0.65h-0.65zM424.32 110.65h0.65v0.65h-0.65zM422.22 135.09h0.65v0.65h-0.65zM421.51 124.87h0.65v0.65h-0.65zM425.81 128.79h0.65v0.65h-0.65zM423.89 112.02h0.65v0.65h-0.65zM422.37 111.36h0.65v0.65h-0.65zM423.72 129.51h0.65v0.65h-0.65zM427.83 118.07h0.65v0.65h-0.65zM427.68 121.67h0.65v0.65h-0.65zM429.81 132.62h0.65v0.65h-0.65zM423.75 119.24h0.65v0.65h-0.65zM424.3 129.22h0.65v0.65h-0.65zM426.68 125.74h0.65v0.65h-0.65zM428.85 114.48h0.65v0.65h-0.65zM425.61 130.5h0.65v0.65h-0.65zM428.96 125.97h0.65v0.65h-0.65zM423.89 116.67h0.65v0.65h-0.65zM421.47 117.38h0.65v0.65h-0.65zM424.8 108.16h0.65v0.65h-0.65zM429.95 113.46h0.65v0.65h-0.65zM426.13 124.29h0.65v0.65h-0.65zM422.75 105.17h0.65v0.65h-0.65zM429.13 122.76h0.65v0.65h-0.65zM424.01 128.51h0.65v0.65h-0.65zM428.83 111.95h0.65v0.65h-0.65zM424.73 105.56h0.65v0.65h-0.65zM423.97 130.72h0.65v0.65h-0.65zM421.55 126.07h0.65v0.65h-0.65zM429.03 133.14h0.65v0.65h-0.65zM426.98 125.52h0.65v0.65h-0.65zM425.35 121.58h0.65v0.65h-0.65zM425.19 114.65h0.65v0.65h-0.65zM425.01 118.53h0.65v0.65h-0.65zM427.88 124.92h0.65v0.65h-0.65zM429.19 124.18h0.65v0.65h-0.65zM421 130.56h0.65v0.65h-0.65zM426.46 115.32h0.65v0.65h-0.65zM432.92 110.86h0.65v0.65h-0.65zM420.17 115.52h0.65v0.65h-0.65zM426.82 125.82h0.65v0.65h-0.65zM425.53 124.82h0.65v0.65h-0.65zM422.13 114.73h0.65v0.65h-0.65zM425.62 108.87h0.65v0.65h-0.65zM425.86 116.4h0.65v0.65h-0.65zM427.93 111.5h0.65v0.65h-0.65zM422.86 115.03h0.65v0.65h-0.65zM423.54 111.61h0.65v0.65h-0.65zM423.99 108.81h0.65v0.65h-0.65zM427.32 124.85h0.65v0.65h-0.65zM425.01 118.03h0.65v0.65h-0.65zM421.35 111.91h0.65v0.65h-0.65zM424.16 112.35h0.65v0.65h-0.65zM420.16 120.85h0.65v0.65h-0.65zM424.99 116.31h0.65v0.65h-0.65zM421.67 119.09h0.65v0.65h-0.65zM422.18 116.12h0.65v0.65h-0.65zM425.85 125.23h0.65v0.65h-0.65zM428.23 114.72h0.65v0.65h-0.65zM430.12 110.36h0.65v0.65h-0.65zM424.35 129.85h0.65v0.65h-0.65zM423.57 116.56h0.65v0.65h-0.65zM420.01 118.36h0.65v0.65h-0.65zM423.3 113.55h0.65v0.65h-0.65zM430.06 113.35h0.65v0.65h-0.65zM432.13 126.18h0.65v0.65h-0.65zM427.74 114.87h0.65v0.65h-0.65zM422.95 103.71h0.65v0.65h-0.65zM426.21 117.38h0.65v0.65h-0.65zM426.69 114.2h0.65v0.65h-0.65zM427.1 107.67h0.65v0.65h-0.65zM430.42 116.75h0.65v0.65h-0.65zM424.39 107.34h0.65v0.65h-0.65zM420.91 125.15h0.65v0.65h-0.65zM422.01 119.22h0.65v0.65h-0.65zM424.42 135.28h0.65v0.65h-0.65zM428.77 109.06h0.65v0.65h-0.65zM423.07 110.43h0.65v0.65h-0.65zM419.29 114.11h0.65v0.65h-0.65zM429.65 119.91h0.65v0.65h-0.65zM427.87 118.45h0.65v0.65h-0.65zM423.31 120.17h0.65v0.65h-0.65zM424.75 134.78h0.65v0.65h-0.65zM432.54 122.5h0.65v0.65h-0.65zM427.57 103.74h0.65v0.65h-0.65zM421.74 125.97h0.65v0.65h-0.65zM430.14 116.37h0.65v0.65h-0.65zM424.12 115.9h0.65v0.65h-0.65zM428.37 119.69h0.65v0.65h-0.65zM431.31 128.92h0.65v0.65h-0.65zM423.78 114.68h0.65v0.65h-0.65zM424.08 112.54h0.65v0.65h-0.65zM423.32 118.95h0.65v0.65h-0.65zM428.76 106.98h0.65v0.65h-0.65zM419.25 113.39h0.65v0.65h-0.65zM423.8 123.12h0.65v0.65h-0.65zM421.79 131.48h0.65v0.65h-0.65zM422.87 117.8h0.65v0.65h-0.65zM425.28 128.79h0.65v0.65h-0.65zM426.3 119.72h0.65v0.65h-0.65zM422.81 120.86h0.65v0.65h-0.65zM426.73 116.73h0.65v0.65h-0.65zM424.97 104.91h0.65v0.65h-0.65zM422.85 128.89h0.65v0.65h-0.65zM430.95 118.93h0.65v0.65h-0.65zM423.35 127.48h0.65v0.65h-0.65zM422.5 130.41h0.65v0.65h-0.65zM429.86 111.06h0.65v0.65h-0.65zM424.13 109.9h0.65v0.65h-0.65zM426.2 116.33h0.65v0.65h-0.65zM426.07 107.41h0.65v0.65h-0.65zM429.53 123.08h0.65v0.65h-0.65zM424.31 130.64h0.65v0.65h-0.65zM421.22 124.96h0.65v0.65h-0.65zM419.43 116.92h0.65v0.65h-0.65zM427.7 115.25h0.65v0.65h-0.65zM424.57 124.67h0.65v0.65h-0.65zM431.36 129.86h0.65v0.65h-0.65zM426.95 117.44h0.65v0.65h-0.65zM419.05 133.17h0.65v0.65h-0.65zM432.82 102.37h0.65v0.65h-0.65zM428.65 119.17h0.65v0.65h-0.65zM427.98 122.02h0.65v0.65h-0.65zM424.25 119.48h0.65v0.65h-0.65zM424.89 128.78h0.65v0.65h-0.65zM423.96 115.18h0.65v0.65h-0.65zM427.75 124.63h0.65v0.65h-0.65zM426.85 121.76h0.65v0.65h-0.65zM431.15 128.38h0.65v0.65h-0.65zM425.92 117.83h0.65v0.65h-0.65zM427.78 104.62h0.65v0.65h-0.65zM422.88 113.88h0.65v0.65h-0.65zM425.76 116.44h0.65v0.65h-0.65zM425.03 116.96h0.65v0.65h-0.65zM430.14 126.11h0.65v0.65h-0.65zM428.87 129.14h0.65v0.65h-0.65zM423.54 114.24h0.65v0.65h-0.65zM422.06 120.33h0.65v0.65h-0.65zM429.19 111.13h0.65v0.65h-0.65zM422.83 108.84h0.65v0.65h-0.65zM433.31 125.88h0.65v0.65h-0.65zM425.95 109.8h0.65v0.65h-0.65zM420.78 114.36h0.65v0.65h-0.65zM425.18 109.39h0.65v0.65h-0.65zM424.1 129.23h0.65v0.65h-0.65zM425.1 120.29h0.65v0.65h-0.65zM424.44 113.99h0.65v0.65h-0.65zM419.32 118.94h0.65v0.65h-0.65zM420.81 115.15h0.65v0.65h-0.65zM428.8 112.79h0.65v0.65h-0.65zM426.38 107.4h0.65v0.65h-0.65zM427.43 123.83h0.65v0.65h-0.65zM423.44 126.56h0.65v0.65h-0.65zM421.41 119.88h0.65v0.65h-0.65zM432 119.32h0.65v0.65h-0.65zM420.4 128.71h0.65v0.65h-0.65zM427.26 117.29h0.65v0.65h-0.65zM426.25 112.7h0.65v0.65h-0.65zM429.8 131.21h0.65v0.65h-0.65zM421.56 123.35h0.65v0.65h-0.65zM432.54 108.22h0.65v0.65h-0.65zM425.27 114.43h0.65v0.65h-0.65zM424.66 120.21h0.65v0.65h-0.65zM426.2 126.62h0.65v0.65h-0.65zM427.16 127.87h0.65v0.65h-0.65zM429.23 128.29h0.65v0.65h-0.65zM422.25 122.77h0.65v0.65h-0.65zM423.5 112.77h0.65v0.65h-0.65zM433.12 121.84h0.65v0.65h-0.65zM425.23 102.68h0.65v0.65h-0.65zM424.08 125.68h0.65v0.65h-0.65zM424.2 115.15h0.65v0.65h-0.65zM431.12 117.01h0.65v0.65h-0.65zM423.66 118.7h0.65v0.65h-0.65zM424.06 127.92h0.65v0.65h-0.65zM427.39 118.94h0.65v0.65h-0.65zM423.55 117.7h0.65v0.65h-0.65zM432.01 117.06h0.65v0.65h-0.65zM427.73 106.9h0.65v0.65h-0.65zM426.37 125.01h0.65v0.65h-0.65zM430.28 122.04h0.65v0.65h-0.65zM427.42 122.09h0.65v0.65h-0.65zM429.44 135.88h0.65v0.65h-0.65zM425.87 112.98h0.65v0.65h-0.65zM427.49 118.62h0.65v0.65h-0.65zM427.68 125.71h0.65v0.65h-0.65zM425.67 115.99h0.65v0.65h-0.65zM426.3 109.53h0.65v0.65h-0.65zM426.17 112.41h0.65v0.65h-0.65zM426.89 120.48h0.65v0.65h-0.65zM424.14 109.89h0.65v0.65h-0.65zM425.25 114.06h0.65v0.65h-0.65zM424.46 125.06h0.65v0.65h-0.65zM428.97 109.2h0.65v0.65h-0.65zM428.89 130.4h0.65v0.65h-0.65zM429.68 121.72h0.65v0.65h-0.65zM424.67 133.43h0.65v0.65h-0.65zM423.72 107.3h0.65v0.65h-0.65zM425.41 121.8h0.65v0.65h-0.65zM420.78 109.77h0.65v0.65h-0.65zM433.2 120.41h0.65v0.65h-0.65zM428.25 114.83h0.65v0.65h-0.65zM430.56 114.16h0.65v0.65h-0.65zM423.89 119.63h0.65v0.65h-0.65zM420.75 117.02h0.65v0.65h-0.65zM422.81 126.56h0.65v0.65h-0.65zM425.67 126.47h0.65v0.65h-0.65zM424.84 102.43h0.65v0.65h-0.65zM428.65 126.5h0.65v0.65h-0.65zM424.74 105.22h0.65v0.65h-0.65zM423.02 122.74h0.65v0.65h-0.65zM430.72 116.76h0.65v0.65h-0.65zM422.73 113.3h0.65v0.65h-0.65zM429.24 126.45h0.65v0.65h-0.65zM421.26 107.73h0.65v0.65h-0.65zM419.93 114.13h0.65v0.65h-0.65zM425.7 122.83h0.65v0.65h-0.65zM423.08 106.82h0.65v0.65h-0.65zM423.35 114.05h0.65v0.65h-0.65zM419.02 105.6h0.65v0.65h-0.65zM431.29 127.03h0.65v0.65h-0.65zM431 120.45h0.65v0.65h-0.65zM423.35 118.81h0.65v0.65h-0.65zM419.43 125.44h0.65v0.65h-0.65zM426.16 117.07h0.65v0.65h-0.65zM431.74 131.1h0.65v0.65h-0.65zM428.65 116.68h0.65v0.65h-0.65zM425.62 123.94h0.65v0.65h-0.65zM425.85 127.89h0.65v0.65h-0.65zM419.36 124.82h0.65v0.65h-0.65zM429.48 119.51h0.65v0.65h-0.65zM427.27 120.12h0.65v0.65h-0.65zM425.76 115.73h0.65v0.65h-0.65zM423.39 129.03h0.65v0.65h-0.65zM423.94 119.18h0.65v0.65h-0.65zM429.97 127.38h0.65v0.65h-0.65zM423.44 121.53h0.65v0.65h-0.65zM420.89 120.56h0.65v0.65h-0.65zM426.35 119.49h0.65v0.65h-0.65zM425.72 122.43h0.65v0.65h-0.65zM425.36 115.56h0.65v0.65h-0.65zM421.08 117.6h0.65v0.65h-0.65zM431.67 117.67h0.65v0.65h-0.65zM422.37 115.66h0.65v0.65h-0.65zM420.15 123.39h0.65v0.65h-0.65zM420.99 126.8h0.65v0.65h-0.65zM428.79 124.09h0.65v0.65h-0.65zM429.33 118.82h0.65v0.65h-0.65zM427.68 107.12h0.65v0.65h-0.65zM420.02 128.28h0.65v0.65h-0.65zM426.85 130.3h0.65v0.65h-0.65zM427.8 120.04h0.65v0.65h-0.65zM426.82 126.31h0.65v0.65h-0.65zM424.93 117.82h0.65v0.65h-0.65zM426.34 116.98h0.65v0.65h-0.65zM429.37 116.26h0.65v0.65h-0.65zM425.71 117.78h0.65v0.65h-0.65zM426.2 107.87h0.65v0.65h-0.65zM425.41 114.9h0.65v0.65h-0.65zM429.53 124.49h0.65v0.65h-0.65zM419.85 111.75h0.65v0.65h-0.65zM427.4 129.09h0.65v0.65h-0.65zM428.22 118.28h0.65v0.65h-0.65zM422.84 111.69h0.65v0.65h-0.65zM420.79 124.02h0.65v0.65h-0.65zM426.2 121.78h0.65v0.65h-0.65zM424.51 124.48h0.65v0.65h-0.65zM428.29 114.91h0.65v0.65h-0.65zM428.92 112.06h0.65v0.65h-0.65zM432.34 109.05h0.65v0.65h-0.65zM423.87 110.82h0.65v0.65h-0.65zM425.22 130.06h0.65v0.65h-0.65zM421.95 133.75h0.65v0.65h-0.65zM430.9 122.6h0.65v0.65h-0.65zM422.62 126.75h0.65v0.65h-0.65zM429.04 119.19h0.65v0.65h-0.65zM419.54 117.77h0.65v0.65h-0.65zM427.46 133.19h0.65v0.65h-0.65zM430.3 114.1h0.65v0.65h-0.65zM423.16 109.76h0.65v0.65h-0.65zM428.24 126.17h0.65v0.65h-0.65zM427.51 121.48h0.65v0.65h-0.65zM429.17 118.52h0.65v0.65h-0.65zM428.04 126.08h0.65v0.65h-0.65zM430.46 123.63h0.65v0.65h-0.65zM425.41 125.19h0.65v0.65h-0.65zM431.79 120.61h0.65v0.65h-0.65zM420.68 114.83h0.65v0.65h-0.65zM424.43 120.08h0.65v0.65h-0.65zM421.88 127.51h0.65v0.65h-0.65zM420.54 132.88h0.65v0.65h-0.65zM427.84 105.96h0.65v0.65h-0.65zM419.95 119.99h0.65v0.65h-0.65zM426.19 116.09h0.65v0.65h-0.65zM425.11 120.81h0.65v0.65h-0.65zM420.28 119.99h0.65v0.65h-0.65zM420.82 124.85h0.65v0.65h-0.65zM430.68 127.91h0.65v0.65h-0.65zM422.41 118.9h0.65v0.65h-0.65zM425.91 117.81h0.65v0.65h-0.65zM426.73 128.24h0.65v0.65h-0.65zM427.35 119.42h0.65v0.65h-0.65zM424.21 133.93h0.65v0.65h-0.65zM419.9 135.66h0.65v0.65h-0.65zM428.15 120.21h0.65v0.65h-0.65zM421.94 134.31h0.65v0.65h-0.65zM430.16 126.85h0.65v0.65h-0.65zM433.81 105.01h0.65v0.65h-0.65zM425.48 117.02h0.65v0.65h-0.65zM422 120.11h0.65v0.65h-0.65zM427.31 123.74h0.65v0.65h-0.65zM424.47 108.82h0.65v0.65h-0.65zM427.41 124.42h0.65v0.65h-0.65zM433.98 127.04h0.65v0.65h-0.65zM425.13 110.23h0.65v0.65h-0.65zM425.89 125.55h0.65v0.65h-0.65zM427.18 130.26h0.65v0.65h-0.65zM420.7 113.93h0.65v0.65h-0.65zM425.79 109.54h0.65v0.65h-0.65zM422.47 130.69h0.65v0.65h-0.65zM426.31 118.68h0.65v0.65h-0.65zM422.65 119.89h0.65v0.65h-0.65zM424.92 110.79h0.65v0.65h-0.65zM428.39 109.15h0.65v0.65h-0.65zM430.48 116.76h0.65v0.65h-0.65zM426.28 112.46h0.65v0.65h-0.65zM432.72 130.7h0.65v0.65h-0.65zM433.98 126.74h0.65v0.65h-0.65zM430.78 114.59h0.65v0.65h-0.65zM430.58 115.96h0.65v0.65h-0.65zM424.85 108.46h0.65v0.65h-0.65zM425.3 122.77h0.65v0.65h-0.65zM424.79 110.52h0.65v0.65h-0.65zM428.9 126.91h0.65v0.65h-0.65zM424.69 125.87h0.65v0.65h-0.65zM429.25 111.51h0.65v0.65h-0.65zM424.91 104.39h0.65v0.65h-0.65zM420.66 122.98h0.65v0.65h-0.65zM421.32 122.69h0.65v0.65h-0.65zM426.6 102.74h0.65v0.65h-0.65zM422.99 131.84h0.65v0.65h-0.65zM425.12 120.51h0.65v0.65h-0.65zM422.05 106.47h0.65v0.65h-0.65zM424.27 112.42h0.65v0.65h-0.65zM425.53 103.73h0.65v0.65h-0.65zM431.03 133.44h0.65v0.65h-0.65zM421.85 122.13h0.65v0.65h-0.65zM421.21 126.49h0.65v0.65h-0.65zM421.46 118.33h0.65v0.65h-0.65zM430.64 123.77h0.65v0.65h-0.65zM423.66 107.12h0.65v0.65h-0.65zM427.25 119.97h0.65v0.65h-0.65zM430.43 120.7h0.65v0.65h-0.65zM421.94 118.65h0.65v0.65h-0.65zM424.64 119.39h0.65v0.65h-0.65zM426.23 117.45h0.65v0.65h-0.65zM422.14 111.39h0.65v0.65h-0.65zM421.03 102.94h0.65v0.65h-0.65zM430.95 129.68h0.65v0.65h-0.65zM420.9 136.23h0.65v0.65h-0.65zM425.14 111.34h0.65v0.65h-0.65zM430 123.14h0.65v0.65h-0.65zM421.79 128.87h0.65v0.65h-0.65zM424.63 111.49h0.65v0.65h-0.65zM421.13 103.38h0.65v0.65h-0.65zM421.42 126.83h0.65v0.65h-0.65zM424.56 126.18h0.65v0.65h-0.65zM420.12 126.95h0.65v0.65h-0.65zM424.14 120.51h0.65v0.65h-0.65zM420.79 126.53h0.65v0.65h-0.65zM420.93 114.77h0.65v0.65h-0.65zM428.18 120.61h0.65v0.65h-0.65zM421.75 129.63h0.65v0.65h-0.65zM427.27 127.89h0.65v0.65h-0.65zM424.28 129.99h0.65v0.65h-0.65zM423.03 110.33h0.65v0.65h-0.65zM425.01 108.05h0.65v0.65h-0.65zM430.44 125.51h0.65v0.65h-0.65zM428.69 116.56h0.65v0.65h-0.65zM426.83 114.7h0.65v0.65h-0.65zM424.73 118.8h0.65v0.65h-0.65zM427.12 111.56h0.65v0.65h-0.65zM420.16 122.2h0.65v0.65h-0.65zM422.84 123.76h0.65v0.65h-0.65zM422.85 108.73h0.65v0.65h-0.65zM428.22 121.69h0.65v0.65h-0.65zM428.19 116.72h0.65v0.65h-0.65zM423.48 129.87h0.65v0.65h-0.65zM427.25 119.03h0.65v0.65h-0.65zM425.41 124.46h0.65v0.65h-0.65zM421.7 121.78h0.65v0.65h-0.65zM420.9 104.32h0.65v0.65h-0.65zM425.89 120.32h0.65v0.65h-0.65zM427.82 124.07h0.65v0.65h-0.65zM428.05 126h0.65v0.65h-0.65zM420.46 129.5h0.65v0.65h-0.65zM419.58 125.14h0.65v0.65h-0.65zM428.98 127.82h0.65v0.65h-0.65zM431.66 108.11h0.65v0.65h-0.65zM426.65 123.31h0.65v0.65h-0.65zM430.42 112.17h0.65v0.65h-0.65zM425.13 116.45h0.65v0.65h-0.65zM424.32 118.3h0.65v0.65h-0.65zM424.37 104.96h0.65v0.65h-0.65zM424.86 120.06h0.65v0.65h-0.65zM422.02 114.12h0.65v0.65h-0.65zM421.26 132.68h0.65v0.65h-0.65zM429.02 117.97h0.65v0.65h-0.65zM420.83 123.4h0.65v0.65h-0.65zM422.43 131.72h0.65v0.65h-0.65zM429.81 118.49h0.65v0.65h-0.65zM427.67 112.95h0.65v0.65h-0.65zM432.09 117h0.65v0.65h-0.65zM422.74 104.75h0.65v0.65h-0.65zM434.3 109.62h0.65v0.65h-0.65zM420.82 117.9h0.65v0.65h-0.65zM430.26 119.94h0.65v0.65h-0.65zM424.93 119.67h0.65v0.65h-0.65zM428.68 119.2h0.65v0.65h-0.65zM425.7 118.89h0.65v0.65h-0.65zM420.21 130.57h0.65v0.65h-0.65zM422.01 108.64h0.65v0.65h-0.65zM423.12 119.77h0.65v0.65h-0.65zM428.56 107.39h0.65v0.65h-0.65zM419.53 120.97h0.65v0.65h-0.65zM426.67 110.47h0.65v0.65h-0.65zM420.11 120.94h0.65v0.65h-0.65zM424.39 106.18h0.65v0.65h-0.65zM421.22 131.72h0.65v0.65h-0.65zM420.43 128.15h0.65v0.65h-0.65zM431.94 114.28h0.65v0.65h-0.65zM422.06 124.68h0.65v0.65h-0.65zM419.65 124.04h0.65v0.65h-0.65zM430.28 121.67h0.65v0.65h-0.65zM426.41 118.2h0.65v0.65h-0.65zM429.35 112.75h0.65v0.65h-0.65zM431.89 119.31h0.65v0.65h-0.65zM423.6 106.05h0.65v0.65h-0.65zM423.1 121.45h0.65v0.65h-0.65zM430.39 106.21h0.65v0.65h-0.65zM424.46 113.85h0.65v0.65h-0.65zM419.83 119.54h0.65v0.65h-0.65zM421.73 126.67h0.65v0.65h-0.65zM427.25 116.71h0.65v0.65h-0.65zM425.56 111.54h0.65v0.65h-0.65zM420.47 113.44h0.65v0.65h-0.65zM424.77 112.58h0.65v0.65h-0.65zM423.19 112.42h0.65v0.65h-0.65zM426.01 110.13h0.65v0.65h-0.65zM424.92 120.29h0.65v0.65h-0.65zM429.16 113.4h0.65v0.65h-0.65zM420.08 107.23h0.65v0.65h-0.65zM428.28 114.36h0.65v0.65h-0.65zM429.26 118.85h0.65v0.65h-0.65zM423.82 104.18h0.65v0.65h-0.65zM422.08 126h0.65v0.65h-0.65zM422.37 125.08h0.65v0.65h-0.65zM426.39 109.34h0.65v0.65h-0.65zM422.73 114.11h0.65v0.65h-0.65zM425.8 102.88h0.65v0.65h-0.65zM421.27 126.02h0.65v0.65h-0.65zM425.63 125.61h0.65v0.65h-0.65zM428.69 110.08h0.65v0.65h-0.65zM419.19 123.32h0.65v0.65h-0.65zM425.15 120.15h0.65v0.65h-0.65zM421.49 127.89h0.65v0.65h-0.65zM427.14 128.89h0.65v0.65h-0.65zM423.47 125.2h0.65v0.65h-0.65zM424.75 111.76h0.65v0.65h-0.65zM424.65 105.87h0.65v0.65h-0.65zM424.23 120.97h0.65v0.65h-0.65zM428 110.83h0.65v0.65h-0.65zM419.27 113.49h0.65v0.65h-0.65zM421.72 113.9h0.65v0.65h-0.65zM432.63 109.91h0.65v0.65h-0.65zM424.51 118.85h0.65v0.65h-0.65zM421.84 113.58h0.65v0.65h-0.65zM430.61 131.15h0.65v0.65h-0.65zM423.78 125.29h0.65v0.65h-0.65zM426.99 120.4h0.65v0.65h-0.65zM424.41 129.5h0.65v0.65h-0.65zM427.45 117.64h0.65v0.65h-0.65zM423.99 127.19h0.65v0.65h-0.65zM422.44 113.59h0.65v0.65h-0.65zM423.82 115.4h0.65v0.65h-0.65zM430.45 122.43h0.65v0.65h-0.65zM424.62 115.16h0.65v0.65h-0.65zM431.1 123.13h0.65v0.65h-0.65zM433.98 126.98h0.65v0.65h-0.65zM424.07 114.98h0.65v0.65h-0.65zM423.77 120.99h0.65v0.65h-0.65zM428.41 123.5h0.65v0.65h-0.65zM431.77 106.99h0.65v0.65h-0.65zM425.12 107.82h0.65v0.65h-0.65zM420.56 114.55h0.65v0.65h-0.65zM422.19 111.52h0.65v0.65h-0.65zM423.62 127.44h0.65v0.65h-0.65zM422.43 126.74h0.65v0.65h-0.65zM422.59 122.75h0.65v0.65h-0.65zM420.36 130.95h0.65v0.65h-0.65zM426.87 128.14h0.65v0.65h-0.65zM423.8 130.03h0.65v0.65h-0.65zM425.31 115.48h0.65v0.65h-0.65zM422.24 119.95h0.65v0.65h-0.65zM421.08 109.68h0.65v0.65h-0.65zM425.56 125.34h0.65v0.65h-0.65zM423.74 126.41h0.65v0.65h-0.65zM431.84 109.08h0.65v0.65h-0.65zM426.11 111.57h0.65v0.65h-0.65zM422.22 120.96h0.65v0.65h-0.65zM428.62 123.96h0.65v0.65h-0.65zM427.79 134.41h0.65v0.65h-0.65zM423.42 128.49h0.65v0.65h-0.65zM431.24 123.53h0.65v0.65h-0.65zM423.73 106.18h0.65v0.65h-0.65zM424.74 125.71h0.65v0.65h-0.65zM423.88 118h0.65v0.65h-0.65zM431.33 114.44h0.65v0.65h-0.65zM420.93 119.82h0.65v0.65h-0.65zM429.83 124.37h0.65v0.65h-0.65zM425.31 115.44h0.65v0.65h-0.65zM430.31 126.77h0.65v0.65h-0.65zM427.64 114.32h0.65v0.65h-0.65zM419.43 117.02h0.65v0.65h-0.65zM422.79 104.95h0.65v0.65h-0.65zM424.91 129.22h0.65v0.65h-0.65zM419.52 116.57h0.65v0.65h-0.65zM432.82 121.01h0.65v0.65h-0.65zM422.6 121.05h0.65v0.65h-0.65zM428.36 111.24h0.65v0.65h-0.65zM424.57 106.07h0.65v0.65h-0.65zM428.63 122.04h0.65v0.65h-0.65zM428.15 129.49h0.65v0.65h-0.65zM425.2 121.43h0.65v0.65h-0.65zM426.74 123.34h0.65v0.65h-0.65zM420.41 117.24h0.65v0.65h-0.65zM424.34 119.78h0.65v0.65h-0.65zM421.76 118.39h0.65v0.65h-0.65zM426.23 121.02h0.65v0.65h-0.65zM427.54 126.24h0.65v0.65h-0.65zM427.4 127.43h0.65v0.65h-0.65zM428.62 130.94h0.65v0.65h-0.65zM427.7 114.4h0.65v0.65h-0.65zM430.38 125.49h0.65v0.65h-0.65zM425.2 110.09h0.65v0.65h-0.65zM426.88 116.57h0.65v0.65h-0.65zM423.27 101.93h0.65v0.65h-0.65zM431.67 109.89h0.65v0.65h-0.65zM420.26 123.32h0.65v0.65h-0.65zM427.44 112.98h0.65v0.65h-0.65zM424.96 121.57h0.65v0.65h-0.65zM425.67 123.83h0.65v0.65h-0.65zM428.34 116.47h0.65v0.65h-0.65zM423.34 111.35h0.65v0.65h-0.65zM428.23 124.31h0.65v0.65h-0.65zM424.83 122.04h0.65v0.65h-0.65zM426.37 117.58h0.65v0.65h-0.65zM426.37 108.78h0.65v0.65h-0.65zM423.28 134.69h0.65v0.65h-0.65zM428.79 116.13h0.65v0.65h-0.65zM422.5 107.15h0.65v0.65h-0.65zM424.48 118.03h0.65v0.65h-0.65zM422.24 106.65h0.65v0.65h-0.65zM425.67 122.94h0.65v0.65h-0.65zM429.91 123.73h0.65v0.65h-0.65zM431.56 129.35h0.65v0.65h-0.65zM424.54 110.87h0.65v0.65h-0.65zM426.86 127.38h0.65v0.65h-0.65zM427.96 114.94h0.65v0.65h-0.65zM431.29 121.28h0.65v0.65h-0.65zM422.62 108.56h0.65v0.65h-0.65zM427.58 105.33h0.65v0.65h-0.65zM419.37 108.7h0.65v0.65h-0.65zM432.34 133.52h0.65v0.65h-0.65zM424.04 116.34h0.65v0.65h-0.65zM428.02 129.74h0.65v0.65h-0.65zM424.1 128.8h0.65v0.65h-0.65zM421.99 135.82h0.65v0.65h-0.65zM424.07 109.01h0.65v0.65h-0.65zM433.41 113.85h0.65v0.65h-0.65zM424.98 109.2h0.65v0.65h-0.65zM427.92 121.07h0.65v0.65h-0.65zM423.75 116.18h0.65v0.65h-0.65zM422.53 113.57h0.65v0.65h-0.65zM428.85 108.05h0.65v0.65h-0.65zM419.97 122.84h0.65v0.65h-0.65zM423.64 117.42h0.65v0.65h-0.65zM426.07 118.05h0.65v0.65h-0.65zM429.67 127.58h0.65v0.65h-0.65zM427.38 132.45h0.65v0.65h-0.65zM424 114.96h0.65v0.65h-0.65zM426.54 110.69h0.65v0.65h-0.65zM429.58 102.22h0.65v0.65h-0.65zM424.4 116.27h0.65v0.65h-0.65zM420.33 128.69h0.65v0.65h-0.65zM423.27 123.19h0.65v0.65h-0.65zM422.72 120.73h0.65v0.65h-0.65zM423.06 120.1h0.65v0.65h-0.65zM424.56 113.88h0.65v0.65h-0.65zM426.88 117.97h0.65v0.65h-0.65zM420.81 110.85h0.65v0.65h-0.65zM426.91 130.43h0.65v0.65h-0.65zM419.33 116.05h0.65v0.65h-0.65zM426.94 128.07h0.65v0.65h-0.65zM428.07 109.74h0.65v0.65h-0.65zM425.15 126.89h0.65v0.65h-0.65zM426.03 117.64h0.65v0.65h-0.65zM419.89 120.85h0.65v0.65h-0.65zM424.72 119.75h0.65v0.65h-0.65zM431.48 129.26h0.65v0.65h-0.65zM421.57 121.4h0.65v0.65h-0.65zM423.65 120.31h0.65v0.65h-0.65zM432.05 127.03h0.65v0.65h-0.65zM425.17 114.08h0.65v0.65h-0.65zM424.29 122.49h0.65v0.65h-0.65zM422.84 128.56h0.65v0.65h-0.65zM425.09 109.76h0.65v0.65h-0.65zM423.83 118.5h0.65v0.65h-0.65zM429.27 128.66h0.65v0.65h-0.65zM431.29 132.33h0.65v0.65h-0.65zM426.37 120.43h0.65v0.65h-0.65zM429.39 119.28h0.65v0.65h-0.65zM419.55 115.75h0.65v0.65h-0.65zM427.86 124.52h0.65v0.65h-0.65zM420.22 129.35h0.65v0.65h-0.65zM426.33 107.13h0.65v0.65h-0.65zM427.02 127.77h0.65v0.65h-0.65zM427.3 116.94h0.65v0.65h-0.65zM421.54 128.72h0.65v0.65h-0.65zM425.97 119.44h0.65v0.65h-0.65zM423.27 111h0.65v0.65h-0.65zM429.79 125.77h0.65v0.65h-0.65zM422.05 132.06h0.65v0.65h-0.65zM424.01 111.21h0.65v0.65h-0.65zM429.22 130.89h0.65v0.65h-0.65zM423.32 109.44h0.65v0.65h-0.65zM425.23 132.04h0.65v0.65h-0.65zM426.18 113.46h0.65v0.65h-0.65zM428.06 115.43h0.65v0.65h-0.65zM430.47 116.54h0.65v0.65h-0.65zM433.8 116.6h0.65v0.65h-0.65zM425.82 111.77h0.65v0.65h-0.65zM419.48 122.33h0.65v0.65h-0.65zM426.51 111.5h0.65v0.65h-0.65zM427.42 116.1h0.65v0.65h-0.65zM422.61 118.9h0.65v0.65h-0.65zM426.7 125.47h0.65v0.65h-0.65zM430.34 122.63h0.65v0.65h-0.65zM421.86 113.86h0.65v0.65h-0.65zM426.59 109.66h0.65v0.65h-0.65zM424.26 116.34h0.65v0.65h-0.65zM424.57 120.99h0.65v0.65h-0.65zM429.49 132.98h0.65v0.65h-0.65zM428.81 127.81h0.65v0.65h-0.65zM420.38 128.02h0.65v0.65h-0.65zM430.59 108.36h0.65v0.65h-0.65zM425.27 112.9h0.65v0.65h-0.65zM422.53 128.3h0.65v0.65h-0.65zM426.11 116.41h0.65v0.65h-0.65zM429.97 111.78h0.65v0.65h-0.65zM421.33 114.87h0.65v0.65h-0.65zM421.77 125.17h0.65v0.65h-0.65zM424 110.84h0.65v0.65h-0.65zM423.02 103.17h0.65v0.65h-0.65zM425.72 120.33h0.65v0.65h-0.65zM427.63 117.56h0.65v0.65h-0.65zM426.72 111.82h0.65v0.65h-0.65zM425.11 120.77h0.65v0.65h-0.65zM419.76 124.31h0.65v0.65h-0.65zM425.61 119.92h0.65v0.65h-0.65zM422.94 135.96h0.65v0.65h-0.65zM425 113.19h0.65v0.65h-0.65zM421.33 124.35h0.65v0.65h-0.65zM424.09 113.01h0.65v0.65h-0.65zM421.88 127.17h0.65v0.65h-0.65zM425.37 128.16h0.65v0.65h-0.65zM424.93 109.78h0.65v0.65h-0.65zM428.74 122.11h0.65v0.65h-0.65zM422.18 116.96h0.65v0.65h-0.65zM420.81 126.31h0.65v0.65h-0.65zM423.2 123.42h0.65v0.65h-0.65zM426.12 117.36h0.65v0.65h-0.65zM426.6 117.47h0.65v0.65h-0.65zM419.91 116.08h0.65v0.65h-0.65zM419.92 125.69h0.65v0.65h-0.65zM427.8 114.69h0.65v0.65h-0.65zM427.67 121.52h0.65v0.65h-0.65zM429.2 111.83h0.65v0.65h-0.65zM425.11 111.36h0.65v0.65h-0.65zM422.05 130.72h0.65v0.65h-0.65zM427.1 125.87h0.65v0.65h-0.65zM421.62 102.84h0.65v0.65h-0.65zM429.75 126.94h0.65v0.65h-0.65zM421.84 130.58h0.65v0.65h-0.65zM424.19 124.54h0.65v0.65h-0.65zM424.17 132.55h0.65v0.65h-0.65zM422.77 101.89h0.65v0.65h-0.65zM423.64 121.05h0.65v0.65h-0.65zM426.19 113.61h0.65v0.65h-0.65zM424 110.19h0.65v0.65h-0.65zM423.99 120.2h0.65v0.65h-0.65zM426.03 132.97h0.65v0.65h-0.65zM426.86 110.01h0.65v0.65h-0.65zM425.3 119.44h0.65v0.65h-0.65zM420.69 125.41h0.65v0.65h-0.65zM433.21 125.01h0.65v0.65h-0.65zM428.34 128.23h0.65v0.65h-0.65zM424.44 127.47h0.65v0.65h-0.65zM421.53 120.96h0.65v0.65h-0.65zM428.03 130.2h0.65v0.65h-0.65zM423.76 117.1h0.65v0.65h-0.65zM427.01 118.84h0.65v0.65h-0.65zM425.59 126.07h0.65v0.65h-0.65zM421.71 126.66h0.65v0.65h-0.65zM426.63 117.33h0.65v0.65h-0.65zM419.63 114.34h0.65v0.65h-0.65zM424.81 127.17h0.65v0.65h-0.65zM425.83 110.26h0.65v0.65h-0.65zM428.67 122.74h0.65v0.65h-0.65zM426.87 111.51h0.65v0.65h-0.65zM420.25 126.92h0.65v0.65h-0.65zM431.01 122.48h0.65v0.65h-0.65zM424.17 115.81h0.65v0.65h-0.65zM424.59 129.55h0.65v0.65h-0.65zM421.91 128.08h0.65v0.65h-0.65zM421.94 124.27h0.65v0.65h-0.65zM430.88 113.76h0.65v0.65h-0.65zM428.88 119.44h0.65v0.65h-0.65zM420.99 121.13h0.65v0.65h-0.65zM427.76 113.68h0.65v0.65h-0.65zM423.86 114.87h0.65v0.65h-0.65zM421.71 117.79h0.65v0.65h-0.65zM428.52 115.46h0.65v0.65h-0.65zM430.32 116.4h0.65v0.65h-0.65zM422.05 128.22h0.65v0.65h-0.65zM431 114.2h0.65v0.65h-0.65zM427.5 110.03h0.65v0.65h-0.65zM423.26 116.45h0.65v0.65h-0.65zM428.02 109.29h0.65v0.65h-0.65zM422.82 113.9h0.65v0.65h-0.65zM425.43 109.5h0.65v0.65h-0.65zM425.91 107.26h0.65v0.65h-0.65zM428.55 108.81h0.65v0.65h-0.65zM430.32 112.67h0.65v0.65h-0.65zM420.35 123.35h0.65v0.65h-0.65zM433.65 124.37h0.65v0.65h-0.65zM427.81 109.87h0.65v0.65h-0.65zM429.31 120.61h0.65v0.65h-0.65zM424.98 130.72h0.65v0.65h-0.65zM421.42 128.39h0.65v0.65h-0.65zM428.53 114.43h0.65v0.65h-0.65zM425.52 120.38h0.65v0.65h-0.65zM427.47 111.58h0.65v0.65h-0.65zM424.01 120.23h0.65v0.65h-0.65zM425.12 119.67h0.65v0.65h-0.65zM426.06 117.94h0.65v0.65h-0.65zM422.88 127.86h0.65v0.65h-0.65zM422.27 116.92h0.65v0.65h-0.65zM421.26 110.21h0.65v0.65h-0.65zM426.9 119.15h0.65v0.65h-0.65zM424.43 123.16h0.65v0.65h-0.65zM424.27 125h0.65v0.65h-0.65zM432.66 122.32h0.65v0.65h-0.65zM423.87 132.88h0.65v0.65h-0.65zM427.99 106.03h0.65v0.65h-0.65zM430.65 121.2h0.65v0.65h-0.65zM428.61 110.17h0.65v0.65h-0.65zM421.4 114.25h0.65v0.65h-0.65zM427.34 110.41h0.65v0.65h-0.65zM421.99 127.2h0.65v0.65h-0.65zM422.28 120.44h0.65v0.65h-0.65zM421.19 105.75h0.65v0.65h-0.65zM424.65 118.53h0.65v0.65h-0.65zM428.47 126.64h0.65v0.65h-0.65zM422.84 110.24h0.65v0.65h-0.65zM424.61 120.83h0.65v0.65h-0.65zM424.26 114.76h0.65v0.65h-0.65zM420.78 113.56h0.65v0.65h-0.65zM424.64 115.56h0.65v0.65h-0.65zM432.04 117.27h0.65v0.65h-0.65zM426.91 115.74h0.65v0.65h-0.65zM424.22 111.64h0.65v0.65h-0.65zM422.95 107.42h0.65v0.65h-0.65zM420.54 122.98h0.65v0.65h-0.65zM424.46 114.91h0.65v0.65h-0.65zM428.07 115.01h0.65v0.65h-0.65zM426.83 116.52h0.65v0.65h-0.65zM429.09 127.19h0.65v0.65h-0.65zM425.27 128.31h0.65v0.65h-0.65zM427.12 132.02h0.65v0.65h-0.65zM424.48 107.06h0.65v0.65h-0.65zM425.89 121.4h0.65v0.65h-0.65zM423.46 117.82h0.65v0.65h-0.65zM423.86 109.41h0.65v0.65h-0.65zM432.23 113.26h0.65v0.65h-0.65zM420.48 106.77h0.65v0.65h-0.65zM421.44 119.18h0.65v0.65h-0.65zM431.21 124.3h0.65v0.65h-0.65zM421.93 109.49h0.65v0.65h-0.65zM420.27 118.83h0.65v0.65h-0.65zM428.65 115.62h0.65v0.65h-0.65zM431.74 135.02h0.65v0.65h-0.65zM425.66 102.09h0.65v0.65h-0.65zM429.59 118.7h0.65v0.65h-0.65zM427.8 127.42h0.65v0.65h-0.65zM420.75 120h0.65v0.65h-0.65zM425.74 113.44h0.65v0.65h-0.65zM427.92 118.45h0.65v0.65h-0.65zM423.29 134.58h0.65v0.65h-0.65zM425.69 132.61h0.65v0.65h-0.65zM424.34 127.82h0.65v0.65h-0.65zM421.82 120.67h0.65v0.65h-0.65zM429.54 102.03h0.65v0.65h-0.65zM427.25 117.3h0.65v0.65h-0.65zM429.57 120.92h0.65v0.65h-0.65zM424.67 109.2h0.65v0.65h-0.65zM423.63 113.68h0.65v0.65h-0.65zM423.71 121.24h0.65v0.65h-0.65zM419.36 127.96h0.65v0.65h-0.65zM423.89 124.3h0.65v0.65h-0.65zM423.73 116.36h0.65v0.65h-0.65zM422.18 121.96h0.65v0.65h-0.65zM426.7 111.6h0.65v0.65h-0.65zM423.64 128.06h0.65v0.65h-0.65zM428.65 118.64h0.65v0.65h-0.65zM421.92 129.44h0.65v0.65h-0.65zM419.04 113.88h0.65v0.65h-0.65zM423.13 122.46h0.65v0.65h-0.65zM422.5 125h0.65v0.65h-0.65zM432.33 120.77h0.65v0.65h-0.65zM420.14 118.05h0.65v0.65h-0.65zM424.55 116.58h0.65v0.65h-0.65zM429.81 128.75h0.65v0.65h-0.65zM433.39 123.68h0.65v0.65h-0.65zM427.79 113h0.65v0.65h-0.65zM422.45 126.78h0.65v0.65h-0.65zM425.58 110.44h0.65v0.65h-0.65zM424.96 109.66h0.65v0.65h-0.65zM424.75 109.94h0.65v0.65h-0.65zM421.08 115.33h0.65v0.65h-0.65zM420 115.15h0.65v0.65h-0.65zM429.43 125.89h0.65v0.65h-0.65zM427.89 116.87h0.65v0.65h-0.65zM425.51 113.29h0.65v0.65h-0.65zM424.21 113h0.65v0.65h-0.65zM433.07 122.66h0.65v0.65h-0.65zM421.82 118.59h0.65v0.65h-0.65zM423.07 129.26h0.65v0.65h-0.65zM424.85 114.37h0.65v0.65h-0.65zM427.82 122.04h0.65v0.65h-0.65zM422.1 113.27h0.65v0.65h-0.65zM425.56 106.33h0.65v0.65h-0.65zM421.13 127.58h0.65v0.65h-0.65zM428.59 128.42h0.65v0.65h-0.65zM423.1 114.69h0.65v0.65h-0.65zM423.82 115.62h0.65v0.65h-0.65zM430.33 117.68h0.65v0.65h-0.65zM430.64 113.77h0.65v0.65h-0.65zM426.54 132.49h0.65v0.65h-0.65zM421.85 114.23h0.65v0.65h-0.65zM422.45 106.53h0.65v0.65h-0.65zM423.71 114.3h0.65v0.65h-0.65zM434.21 115.63h0.65v0.65h-0.65zM428.95 119.19h0.65v0.65h-0.65zM426.16 125.22h0.65v0.65h-0.65zM422.6 119.8h0.65v0.65h-0.65zM425.56 132.77h0.65v0.65h-0.65zM430.88 120.82h0.65v0.65h-0.65zM419.34 126.56h0.65v0.65h-0.65zM424.73 128.84h0.65v0.65h-0.65zM425.18 120.92h0.65v0.65h-0.65zM427.7 113.6h0.65v0.65h-0.65zM421.32 126.96h0.65v0.65h-0.65zM427.81 126.03h0.65v0.65h-0.65zM430.68 108.71h0.65v0.65h-0.65zM428.95 102.94h0.65v0.65h-0.65zM425.17 122.17h0.65v0.65h-0.65zM429.26 128.18h0.65v0.65h-0.65zM421.04 117.27h0.65v0.65h-0.65zM424.29 113.88h0.65v0.65h-0.65zM421.52 114.15h0.65v0.65h-0.65zM429.76 130.39h0.65v0.65h-0.65zM428.09 132.98h0.65v0.65h-0.65z" fill="#3a3a3a" fill-opacity="0.22"/>
<path d="M425.3 111.45h0.7v0.7h-0.7zM422.41 121.56h0.7v0.7h-0.7zM428.95 129.49h0.7v0.7h-0.7zM421.46 127.47h0.7v0.7h-0.7zM422.87 124.64h0.7v0.7h-0.7zM428.52 131.59h0.7v0.7h-0.7zM422.9 121.88h0.7v0.7h-0.7zM426.62 116.69h0.7v0.7h-0.7zM425.3 124.64h0.7v0.7h-0.7zM422.78 105.58h0.7v0.7h-0.7zM421.22 124.04h0.7v0.7h-0.7zM427.59 123.47h0.7v0.7h-0.7zM427.26 115.25h0.7v0.7h-0.7zM431.15 111.16h0.7v0.7h-0.7zM426.93 117.89h0.7v0.7h-0.7zM423.87 125.55h0.7v0.7h-0.7zM429.9 121.27h0.7v0.7h-0.7zM422.38 118.29h0.7v0.7h-0.7zM424.68 131.31h0.7v0.7h-0.7zM428.28 132.43h0.7v0.7h-0.7zM427.9 113.99h0.7v0.7h-0.7zM428.56 127.59h0.7v0.7h-0.7zM424.47 123.62h0.7v0.7h-0.7zM423.71 110.09h0.7v0.7h-0.7zM424.6 125.97h0.7v0.7h-0.7zM423.54 102.4h0.7v0.7h-0.7zM421.83 128.52h0.7v0.7h-0.7zM425.82 128.8h0.7v0.7h-0.7zM422.01 116.69h0.7v0.7h-0.7zM421.05 113.88h0.7v0.7h-0.7zM426.94 121.08h0.7v0.7h-0.7zM423.06 122.32h0.7v0.7h-0.7zM419.86 116.92h0.7v0.7h-0.7zM419.12 108.22h0.7v0.7h-0.7zM419.66 111.36h0.7v0.7h-0.7zM431.08 130.78h0.7v0.7h-0.7zM429.84 115.42h0.7v0.7h-0.7zM427.37 111.07h0.7v0.7h-0.7zM422.83 121.89h0.7v0.7h-0.7zM427.33 103.71h0.7v0.7h-0.7zM424.46 121.12h0.7v0.7h-0.7zM420.54 124.47h0.7v0.7h-0.7zM425.42 114.23h0.7v0.7h-0.7zM431.33 122.02h0.7v0.7h-0.7zM427.82 134.58h0.7v0.7h-0.7zM423.02 118.26h0.7v0.7h-0.7zM427.13 121.58h0.7v0.7h-0.7zM420.02 113.28h0.7v0.7h-0.7zM425.37 122.34h0.7v0.7h-0.7zM421.38 118.27h0.7v0.7h-0.7zM421.81 124.87h0.7v0.7h-0.7zM427.42 115.58h0.7v0.7h-0.7zM423.16 110.32h0.7v0.7h-0.7zM423.12 137.23h0.7v0.7h-0.7zM424.88 126.76h0.7v0.7h-0.7zM427.19 131.63h0.7v0.7h-0.7zM423.67 112.86h0.7v0.7h-0.7zM428.98 127.25h0.7v0.7h-0.7zM422.36 128.63h0.7v0.7h-0.7zM424.88 119.65h0.7v0.7h-0.7zM432.09 124.18h0.7v0.7h-0.7zM426.15 117.48h0.7v0.7h-0.7zM425.71 128.31h0.7v0.7h-0.7zM426.71 114.03h0.7v0.7h-0.7zM426.68 119.06h0.7v0.7h-0.7zM426.13 118.47h0.7v0.7h-0.7zM423.44 102.57h0.7v0.7h-0.7zM419.07 136.03h0.7v0.7h-0.7zM427.63 116.35h0.7v0.7h-0.7zM425.9 127.77h0.7v0.7h-0.7zM425.67 109.64h0.7v0.7h-0.7zM428.71 115.79h0.7v0.7h-0.7zM422.71 121.55h0.7v0.7h-0.7zM423.75 136.12h0.7v0.7h-0.7zM424.39 136.99h0.7v0.7h-0.7zM426.7 110.17h0.7v0.7h-0.7zM424.93 120.41h0.7v0.7h-0.7zM430.54 130.13h0.7v0.7h-0.7zM421.44 122.81h0.7v0.7h-0.7zM431.22 111.97h0.7v0.7h-0.7zM423.58 114.08h0.7v0.7h-0.7zM426.99 123.17h0.7v0.7h-0.7zM424.78 125.2h0.7v0.7h-0.7zM421.86 117h0.7v0.7h-0.7zM426.76 136h0.7v0.7h-0.7zM424.79 120.47h0.7v0.7h-0.7zM430.06 120.6h0.7v0.7h-0.7zM430.02 121.89h0.7v0.7h-0.7zM429.44 121.44h0.7v0.7h-0.7zM421.34 113.23h0.7v0.7h-0.7zM426.61 134.93h0.7v0.7h-0.7zM432.22 117.48h0.7v0.7h-0.7zM421.62 127.4h0.7v0.7h-0.7zM426.41 124.99h0.7v0.7h-0.7zM420.22 123.04h0.7v0.7h-0.7zM428.61 119.58h0.7v0.7h-0.7zM428.96 120.19h0.7v0.7h-0.7zM426.28 117.49h0.7v0.7h-0.7zM419.63 118.73h0.7v0.7h-0.7zM426.89 113.96h0.7v0.7h-0.7zM430.08 118.22h0.7v0.7h-0.7zM421.94 129.85h0.7v0.7h-0.7zM424.26 108.01h0.7v0.7h-0.7zM423.21 112.97h0.7v0.7h-0.7zM424.21 112.72h0.7v0.7h-0.7zM425.2 123.65h0.7v0.7h-0.7zM422.69 118.39h0.7v0.7h-0.7zM424.33 126.59h0.7v0.7h-0.7zM422.12 125.99h0.7v0.7h-0.7zM429.83 118.45h0.7v0.7h-0.7zM421.15 117.54h0.7v0.7h-0.7zM420.25 118.64h0.7v0.7h-0.7zM423.48 124.12h0.7v0.7h-0.7zM425.4 123.37h0.7v0.7h-0.7zM424.75 122.25h0.7v0.7h-0.7zM420.5 125.28h0.7v0.7h-0.7zM430.05 128.86h0.7v0.7h-0.7zM419.66 123.34h0.7v0.7h-0.7zM424.13 116.33h0.7v0.7h-0.7zM422.01 118.11h0.7v0.7h-0.7zM424.92 112.3h0.7v0.7h-0.7zM425.17 122.07h0.7v0.7h-0.7zM427.01 119.65h0.7v0.7h-0.7zM428.9 122.59h0.7v0.7h-0.7zM419.49 124.95h0.7v0.7h-0.7zM424.3 123.05h0.7v0.7h-0.7zM425.09 120.78h0.7v0.7h-0.7zM424.33 131.05h0.7v0.7h-0.7zM426.44 117.74h0.7v0.7h-0.7zM424.05 136.68h0.7v0.7h-0.7zM421.55 115.79h0.7v0.7h-0.7zM426.22 121.19h0.7v0.7h-0.7zM426.13 130.84h0.7v0.7h-0.7zM429.42 123.37h0.7v0.7h-0.7zM425.11 119.5h0.7v0.7h-0.7zM424.04 128.04h0.7v0.7h-0.7zM419.97 111.69h0.7v0.7h-0.7zM423.15 112.31h0.7v0.7h-0.7zM422.05 129.55h0.7v0.7h-0.7zM419.78 118.07h0.7v0.7h-0.7zM422.69 112.07h0.7v0.7h-0.7zM419.1 120.58h0.7v0.7h-0.7zM423.41 128.79h0.7v0.7h-0.7zM432.25 117.66h0.7v0.7h-0.7zM421.79 117.73h0.7v0.7h-0.7zM426.8 127.48h0.7v0.7h-0.7zM421.19 123.8h0.7v0.7h-0.7zM424.83 129.15h0.7v0.7h-0.7zM423.34 118.34h0.7v0.7h-0.7zM421.59 109.42h0.7v0.7h-0.7zM426.02 125.7h0.7v0.7h-0.7zM429.39 122.15h0.7v0.7h-0.7zM423.13 112.66h0.7v0.7h-0.7zM420.38 114.22h0.7v0.7h-0.7zM426.28 120.73h0.7v0.7h-0.7zM423.82 111.64h0.7v0.7h-0.7zM424.87 124.25h0.7v0.7h-0.7zM420.87 109.19h0.7v0.7h-0.7zM423.68 122.11h0.7v0.7h-0.7zM423.94 132.36h0.7v0.7h-0.7z" fill="#222" fill-opacity="0.3"/>
<path d="M427.03 103.99h0.65v0.65h-0.65zM429.52 105.06h0.65v0.65h-0.65zM429.18 107.3h0.65v0.65h-0.65zM431.32 104.01h0.65v0.65h-0.65zM429.31 108.28h0.65v0.65h-0.65zM422.88 109.11h0.65v0.65h-0.65zM423.43 106.54h0.65v0.65h-0.65zM431.6 107.77h0.65v0.65h-0.65zM432.31 105.04h0.65v0.65h-0.65zM431.64 102.27h0.65v0.65h-0.65zM425.8 106.11h0.65v0.65h-0.65zM424.52 110.67h0.65v0.65h-0.65zM424.08 108.06h0.65v0.65h-0.65zM433.8 109.48h0.65v0.65h-0.65zM424.82 104.81h0.65v0.65h-0.65zM429.98 110.32h0.65v0.65h-0.65zM427.42 113.47h0.65v0.65h-0.65zM422.97 109.4h0.65v0.65h-0.65zM424.88 109.51h0.65v0.65h-0.65zM435.24 106.76h0.65v0.65h-0.65zM420.63 107.29h0.65v0.65h-0.65zM430.06 105.26h0.65v0.65h-0.65zM432.74 104.38h0.65v0.65h-0.65zM425.7 109.77h0.65v0.65h-0.65zM425.63 105.33h0.65v0.65h-0.65zM426.4 108.97h0.65v0.65h-0.65zM433.35 111.08h0.65v0.65h-0.65zM433.91 106.92h0.65v0.65h-0.65zM419.88 106.88h0.65v0.65h-0.65zM424.84 104.01h0.65v0.65h-0.65zM424.43 106.8h0.65v0.65h-0.65zM426.68 109.75h0.65v0.65h-0.65zM422.84 110.44h0.65v0.65h-0.65zM426.66 109.21h0.65v0.65h-0.65zM431.42 103.29h0.65v0.65h-0.65zM432.83 104.85h0.65v0.65h-0.65zM428.07 110.27h0.65v0.65h-0.65zM430.15 102.3h0.65v0.65h-0.65zM427.13 110.41h0.65v0.65h-0.65zM425.99 106.76h0.65v0.65h-0.65zM426.77 111.93h0.65v0.65h-0.65zM424.32 104.17h0.65v0.65h-0.65zM422.08 105.41h0.65v0.65h-0.65zM425.54 108.04h0.65v0.65h-0.65zM426.15 101.84h0.65v0.65h-0.65zM420.21 109.04h0.65v0.65h-0.65zM429.37 102.93h0.65v0.65h-0.65zM419.87 108.54h0.65v0.65h-0.65zM426.35 105.64h0.65v0.65h-0.65zM425.02 106.33h0.65v0.65h-0.65zM426.08 104.29h0.65v0.65h-0.65zM424.22 108.68h0.65v0.65h-0.65zM428.6 103.01h0.65v0.65h-0.65zM424.53 111.7h0.65v0.65h-0.65zM429.34 111.96h0.65v0.65h-0.65zM421.1 103.88h0.65v0.65h-0.65zM424.99 103.85h0.65v0.65h-0.65zM422.14 104.91h0.65v0.65h-0.65zM425.75 109.5h0.65v0.65h-0.65zM428.73 101.72h0.65v0.65h-0.65zM432.45 106.01h0.65v0.65h-0.65zM422.49 106.91h0.65v0.65h-0.65zM424.89 102.83h0.65v0.65h-0.65zM432.72 105.26h0.65v0.65h-0.65zM424.09 108.62h0.65v0.65h-0.65zM433.19 108.46h0.65v0.65h-0.65zM422.9 108.32h0.65v0.65h-0.65zM430.92 108.14h0.65v0.65h-0.65zM429.09 105.56h0.65v0.65h-0.65zM426.22 101.94h0.65v0.65h-0.65zM423.62 103.59h0.65v0.65h-0.65zM426.52 111.49h0.65v0.65h-0.65zM422.77 106.73h0.65v0.65h-0.65zM431.15 104.66h0.65v0.65h-0.65zM423.35 110.65h0.65v0.65h-0.65zM427.99 108.59h0.65v0.65h-0.65zM429.83 104.77h0.65v0.65h-0.65zM427.39 105.02h0.65v0.65h-0.65zM423.61 107.4h0.65v0.65h-0.65zM428.24 103.17h0.65v0.65h-0.65zM423.41 108.83h0.65v0.65h-0.65zM427.16 109h0.65v0.65h-0.65zM425.24 104.58h0.65v0.65h-0.65zM429.63 108.81h0.65v0.65h-0.65zM423.45 109.01h0.65v0.65h-0.65zM432.79 106.16h0.65v0.65h-0.65zM422.6 107.77h0.65v0.65h-0.65zM426.86 108.71h0.65v0.65h-0.65zM420.87 107.74h0.65v0.65h-0.65zM430.08 109.11h0.65v0.65h-0.65zM429.02 110.61h0.65v0.65h-0.65zM423.19 110.68h0.65v0.65h-0.65zM427.33 104.01h0.65v0.65h-0.65zM425.3 107.82h0.65v0.65h-0.65zM427.83 111.06h0.65v0.65h-0.65zM427.26 105.46h0.65v0.65h-0.65zM435.27 106.01h0.65v0.65h-0.65zM423.19 109.79h0.65v0.65h-0.65zM424.83 104.63h0.65v0.65h-0.65zM422.23 110.57h0.65v0.65h-0.65zM422.23 107.31h0.65v0.65h-0.65zM424.66 106.43h0.65v0.65h-0.65zM423.22 107.46h0.65v0.65h-0.65zM428.92 110.17h0.65v0.65h-0.65zM425.06 103.5h0.65v0.65h-0.65zM420.55 107.03h0.65v0.65h-0.65zM426.62 107.38h0.65v0.65h-0.65zM420.9 105.07h0.65v0.65h-0.65zM423.51 109.04h0.65v0.65h-0.65zM424.86 108.87h0.65v0.65h-0.65zM428.57 101.22h0.65v0.65h-0.65zM425.56 110.8h0.65v0.65h-0.65zM424.44 107.4h0.65v0.65h-0.65zM425.99 103.32h0.65v0.65h-0.65zM435.26 106.61h0.65v0.65h-0.65zM429.06 105.67h0.65v0.65h-0.65zM432.13 110.48h0.65v0.65h-0.65zM431.24 109.88h0.65v0.65h-0.65zM429.32 111.19h0.65v0.65h-0.65zM428.12 107.43h0.65v0.65h-0.65zM429.75 104.33h0.65v0.65h-0.65zM427.11 104.9h0.65v0.65h-0.65zM425.42 104.15h0.65v0.65h-0.65zM423.12 107.58h0.65v0.65h-0.65zM426.99 109.52h0.65v0.65h-0.65zM426.13 108.92h0.65v0.65h-0.65zM429.24 104.91h0.65v0.65h-0.65zM419.72 104.96h0.65v0.65h-0.65zM425.48 105.42h0.65v0.65h-0.65zM428.4 104.73h0.65v0.65h-0.65zM429.27 103.24h0.65v0.65h-0.65zM430.32 107.57h0.65v0.65h-0.65zM424.89 103.44h0.65v0.65h-0.65zM433.2 105.29h0.65v0.65h-0.65zM421.68 112.46h0.65v0.65h-0.65zM433.66 107.08h0.65v0.65h-0.65zM430.51 108.85h0.65v0.65h-0.65zM425.06 107.42h0.65v0.65h-0.65zM421.89 103.01h0.65v0.65h-0.65zM427 109.22h0.65v0.65h-0.65zM427.14 103.35h0.65v0.65h-0.65zM429.9 107.3h0.65v0.65h-0.65zM429.52 106.17h0.65v0.65h-0.65zM425.43 110.19h0.65v0.65h-0.65zM432.01 103.43h0.65v0.65h-0.65zM422.05 109.94h0.65v0.65h-0.65zM427.94 107.19h0.65v0.65h-0.65zM422.57 110.06h0.65v0.65h-0.65zM427.25 107.69h0.65v0.65h-0.65zM428.05 105.47h0.65v0.65h-0.65zM428.09 107.43h0.65v0.65h-0.65zM429.39 108.17h0.65v0.65h-0.65zM421.36 104.92h0.65v0.65h-0.65zM425.42 110.52h0.65v0.65h-0.65zM423.89 110.43h0.65v0.65h-0.65zM430.83 109.66h0.65v0.65h-0.65zM427.79 110.69h0.65v0.65h-0.65zM428.13 110.01h0.65v0.65h-0.65zM425.98 111.28h0.65v0.65h-0.65zM427.91 101.31h0.65v0.65h-0.65zM430.85 106.47h0.65v0.65h-0.65zM422.96 106.15h0.65v0.65h-0.65zM425.37 110.47h0.65v0.65h-0.65zM427.83 106.83h0.65v0.65h-0.65zM426.44 104.35h0.65v0.65h-0.65zM423.93 105.64h0.65v0.65h-0.65zM425.59 103.55h0.65v0.65h-0.65zM424.89 110.04h0.65v0.65h-0.65zM428.32 107.04h0.65v0.65h-0.65zM427.89 106.32h0.65v0.65h-0.65zM421.74 109.68h0.65v0.65h-0.65zM421.64 108.61h0.65v0.65h-0.65zM425.13 106.21h0.65v0.65h-0.65zM419.85 106.81h0.65v0.65h-0.65zM428.1 102.26h0.65v0.65h-0.65zM425.61 105.58h0.65v0.65h-0.65zM422.48 108.93h0.65v0.65h-0.65zM433.1 108.29h0.65v0.65h-0.65zM430.63 109.31h0.65v0.65h-0.65zM426.25 108.78h0.65v0.65h-0.65zM431.82 105.77h0.65v0.65h-0.65zM425.91 102.93h0.65v0.65h-0.65zM419.03 104.61h0.65v0.65h-0.65zM430.1 108.13h0.65v0.65h-0.65zM427.55 110.96h0.65v0.65h-0.65zM419.41 111.16h0.65v0.65h-0.65zM426.83 109.36h0.65v0.65h-0.65zM432.05 104.62h0.65v0.65h-0.65zM423.01 108.25h0.65v0.65h-0.65zM426.27 105.31h0.65v0.65h-0.65zM426 104.88h0.65v0.65h-0.65zM427.04 105.9h0.65v0.65h-0.65zM433.33 103.94h0.65v0.65h-0.65zM428.83 107.27h0.65v0.65h-0.65zM432.85 104.16h0.65v0.65h-0.65zM424.63 112.2h0.65v0.65h-0.65zM423.86 105.91h0.65v0.65h-0.65zM424.92 104.13h0.65v0.65h-0.65zM431.4 111.56h0.65v0.65h-0.65zM425.89 104.8h0.65v0.65h-0.65z" fill="#3a3a3a" fill-opacity="0.2"/>
<path d="M456.66 107.14h0.65v0.65h-0.65zM460.04 106.29h0.65v0.65h-0.65zM464.81 105.17h0.65v0.65h-0.65zM462.54 104.2h0.65v0.65h-0.65zM460.39 103.26h0.65v0.65h-0.65zM462.83 105.75h0.65v0.65h-0.65zM465.79 103.11h0.65v0.65h-0.65zM466.69 100.83h0.65v0.65h-0.65zM470.41 105.96h0.65v0.65h-0.65zM468.72 108.09h0.65v0.65h-0.65zM456.98 104.77h0.65v0.65h-0.65zM464.44 107.14h0.65v0.65h-0.65zM461.75 100.48h0.65v0.65h-0.65zM467.03 103.08h0.65v0.65h-0.65zM463.7 103.12h0.65v0.65h-0.65zM460.93 100.37h0.65v0.65h-0.65zM464.51 102.08h0.65v0.65h-0.65zM454.79 106.67h0.65v0.65h-0.65zM462.29 107.18h0.65v0.65h-0.65zM464.89 100.26h0.65v0.65h-0.65zM461.27 104.45h0.65v0.65h-0.65zM461.91 101.18h0.65v0.65h-0.65zM462.76 107.17h0.65v0.65h-0.65zM467.83 107.84h0.65v0.65h-0.65zM460.63 102.91h0.65v0.65h-0.65zM465.8 103.74h0.65v0.65h-0.65zM463.73 105.54h0.65v0.65h-0.65zM461.71 108.51h0.65v0.65h-0.65zM469.98 105.6h0.65v0.65h-0.65zM459.8 105.43h0.65v0.65h-0.65zM466.4 105.83h0.65v0.65h-0.65zM459.57 107.57h0.65v0.65h-0.65zM465.29 105.59h0.65v0.65h-0.65zM460.25 104.52h0.65v0.65h-0.65zM454.03 105.45h0.65v0.65h-0.65zM460.03 103.74h0.65v0.65h-0.65zM460.69 103.57h0.65v0.65h-0.65zM462.41 104.57h0.65v0.65h-0.65zM459.4 104.33h0.65v0.65h-0.65zM461.85 105.84h0.65v0.65h-0.65zM463.68 103h0.65v0.65h-0.65zM457.84 100.04h0.65v0.65h-0.65zM456.97 106.32h0.65v0.65h-0.65zM458.89 109.63h0.65v0.65h-0.65zM461.18 103.3h0.65v0.65h-0.65zM461.11 102.83h0.65v0.65h-0.65zM459.41 104.92h0.65v0.65h-0.65zM456.03 105.64h0.65v0.65h-0.65zM461.22 101.74h0.65v0.65h-0.65zM466.44 104.75h0.65v0.65h-0.65zM466.23 101.69h0.65v0.65h-0.65zM456.31 101.64h0.65v0.65h-0.65zM454.62 99.77h0.65v0.65h-0.65zM468.32 101.95h0.65v0.65h-0.65zM462.57 102.64h0.65v0.65h-0.65zM462.1 109.04h0.65v0.65h-0.65zM454.34 102.53h0.65v0.65h-0.65zM462.16 101.58h0.65v0.65h-0.65zM465.46 107.69h0.65v0.65h-0.65zM466.06 105.96h0.65v0.65h-0.65zM461.77 107.37h0.65v0.65h-0.65zM458.14 101.34h0.65v0.65h-0.65zM460.81 103.76h0.65v0.65h-0.65zM466.67 100.67h0.65v0.65h-0.65zM466.43 101.33h0.65v0.65h-0.65zM455.99 100.15h0.65v0.65h-0.65zM461.22 100.11h0.65v0.65h-0.65zM462.91 104.33h0.65v0.65h-0.65zM459.49 98.93h0.65v0.65h-0.65zM460.04 105.96h0.65v0.65h-0.65zM454.88 107.47h0.65v0.65h-0.65zM461.84 102.72h0.65v0.65h-0.65zM463.14 106.1h0.65v0.65h-0.65zM461.57 102.06h0.65v0.65h-0.65zM464.98 101.84h0.65v0.65h-0.65zM463.94 106.95h0.65v0.65h-0.65zM468.16 108.17h0.65v0.65h-0.65zM466.33 104.1h0.65v0.65h-0.65zM461.25 105h0.65v0.65h-0.65zM464.38 101.48h0.65v0.65h-0.65zM467.64 98.7h0.65v0.65h-0.65zM465.62 99.94h0.65v0.65h-0.65zM457.24 103.53h0.65v0.65h-0.65zM460.22 100.54h0.65v0.65h-0.65zM464.53 103.6h0.65v0.65h-0.65zM467.15 100.49h0.65v0.65h-0.65zM454.77 107.47h0.65v0.65h-0.65zM461.5 107.32h0.65v0.65h-0.65zM463.25 109.99h0.65v0.65h-0.65zM456.03 99.51h0.65v0.65h-0.65zM460.74 108.75h0.65v0.65h-0.65zM467.99 99.33h0.65v0.65h-0.65zM458.65 99.3h0.65v0.65h-0.65zM458.07 102.02h0.65v0.65h-0.65zM464.29 107.38h0.65v0.65h-0.65zM465.51 104.44h0.65v0.65h-0.65zM463.39 109.91h0.65v0.65h-0.65zM465.63 108.46h0.65v0.65h-0.65zM463.64 106.66h0.65v0.65h-0.65zM464.08 103.72h0.65v0.65h-0.65zM458.92 103.57h0.65v0.65h-0.65zM461.89 103.19h0.65v0.65h-0.65zM460.27 102.46h0.65v0.65h-0.65zM465.47 103.06h0.65v0.65h-0.65zM461.42 103.75h0.65v0.65h-0.65zM467.23 101.91h0.65v0.65h-0.65zM467.5 100.9h0.65v0.65h-0.65zM468.64 105.15h0.65v0.65h-0.65zM460.17 105.96h0.65v0.65h-0.65zM466.32 100.8h0.65v0.65h-0.65zM461.2 105.37h0.65v0.65h-0.65zM461.01 103.59h0.65v0.65h-0.65zM462.23 105.22h0.65v0.65h-0.65zM465.89 108.16h0.65v0.65h-0.65zM461.43 109.73h0.65v0.65h-0.65zM460.83 100.13h0.65v0.65h-0.65zM460.05 103.58h0.65v0.65h-0.65zM465.56 97.72h0.65v0.65h-0.65zM459.32 104.33h0.65v0.65h-0.65zM464.92 105.06h0.65v0.65h-0.65zM465.5 103.31h0.65v0.65h-0.65zM461.57 108h0.65v0.65h-0.65zM469.33 104.35h0.65v0.65h-0.65zM462.28 101.7h0.65v0.65h-0.65zM470.93 104.16h0.65v0.65h-0.65zM463.87 99.22h0.65v0.65h-0.65zM461.24 103.82h0.65v0.65h-0.65zM468.3 102.8h0.65v0.65h-0.65zM466.38 109.48h0.65v0.65h-0.65zM456.79 102.61h0.65v0.65h-0.65zM464.89 104.23h0.65v0.65h-0.65zM462.11 103.8h0.65v0.65h-0.65zM462.71 105.27h0.65v0.65h-0.65zM459.92 103.79h0.65v0.65h-0.65zM462.5 100.98h0.65v0.65h-0.65zM462.88 97.59h0.65v0.65h-0.65zM464.62 103.55h0.65v0.65h-0.65zM457.74 109h0.65v0.65h-0.65zM458.07 111.11h0.65v0.65h-0.65zM459.53 108.32h0.65v0.65h-0.65zM462.47 109.09h0.65v0.65h-0.65zM461.55 107.48h0.65v0.65h-0.65zM459.86 99.01h0.65v0.65h-0.65zM463.84 105.46h0.65v0.65h-0.65zM464.42 108.97h0.65v0.65h-0.65zM458.33 100.57h0.65v0.65h-0.65zM462.77 102.11h0.65v0.65h-0.65zM461.59 104.37h0.65v0.65h-0.65zM459.11 108.03h0.65v0.65h-0.65zM462.31 109.64h0.65v0.65h-0.65zM463.52 107.26h0.65v0.65h-0.65zM460.52 102.56h0.65v0.65h-0.65zM459.44 102.06h0.65v0.65h-0.65zM463.93 104.44h0.65v0.65h-0.65zM456.87 100.46h0.65v0.65h-0.65zM457.66 99.49h0.65v0.65h-0.65zM457.68 100.41h0.65v0.65h-0.65zM464.42 100.46h0.65v0.65h-0.65zM459.53 104.32h0.65v0.65h-0.65zM462.34 105.53h0.65v0.65h-0.65zM465.46 105.72h0.65v0.65h-0.65zM461.15 108.19h0.65v0.65h-0.65zM463.24 102h0.65v0.65h-0.65zM467.68 99.9h0.65v0.65h-0.65zM464.53 107.7h0.65v0.65h-0.65zM462.65 105.25h0.65v0.65h-0.65zM462.82 106.19h0.65v0.65h-0.65zM462.95 104.19h0.65v0.65h-0.65zM464.09 98.3h0.65v0.65h-0.65zM462.93 103.26h0.65v0.65h-0.65zM470.24 103.94h0.65v0.65h-0.65zM459.6 106.64h0.65v0.65h-0.65zM459.92 101.06h0.65v0.65h-0.65zM461.09 105.96h0.65v0.65h-0.65zM467.39 106.65h0.65v0.65h-0.65zM462.89 103.69h0.65v0.65h-0.65zM463.39 107.74h0.65v0.65h-0.65zM462.02 107.8h0.65v0.65h-0.65zM458.75 104.76h0.65v0.65h-0.65zM465.52 105.89h0.65v0.65h-0.65zM462.62 102.67h0.65v0.65h-0.65zM454.45 104.13h0.65v0.65h-0.65zM458.36 103.65h0.65v0.65h-0.65zM468.18 101.06h0.65v0.65h-0.65zM465.5 103.72h0.65v0.65h-0.65zM457.53 105.31h0.65v0.65h-0.65zM464.58 100.35h0.65v0.65h-0.65zM457.09 103.91h0.65v0.65h-0.65zM464.74 102.09h0.65v0.65h-0.65zM463.96 105.39h0.65v0.65h-0.65zM462.27 105.62h0.65v0.65h-0.65zM467.15 102.96h0.65v0.65h-0.65zM462.88 100.98h0.65v0.65h-0.65zM459.02 104.46h0.65v0.65h-0.65zM465.06 101.83h0.65v0.65h-0.65zM456.73 107.88h0.65v0.65h-0.65zM457.72 105.32h0.65v0.65h-0.65zM463.59 101.23h0.65v0.65h-0.65zM463.88 107.32h0.65v0.65h-0.65zM461.22 106.62h0.65v0.65h-0.65zM462.13 101.5h0.65v0.65h-0.65zM459.24 102.89h0.65v0.65h-0.65zM467.97 106.88h0.65v0.65h-0.65zM462.32 99.57h0.65v0.65h-0.65zM459.84 103.43h0.65v0.65h-0.65zM454.13 105.44h0.65v0.65h-0.65zM462.6 100.25h0.65v0.65h-0.65zM460.07 103.23h0.65v0.65h-0.65zM469.85 105.11h0.65v0.65h-0.65zM465.19 104.08h0.65v0.65h-0.65zM457.2 107.8h0.65v0.65h-0.65zM458.42 99.09h0.65v0.65h-0.65zM464.84 102.84h0.65v0.65h-0.65zM462.24 105.81h0.65v0.65h-0.65zM461.25 105.65h0.65v0.65h-0.65zM467.13 102.57h0.65v0.65h-0.65zM460.58 104.57h0.65v0.65h-0.65zM464.47 102.73h0.65v0.65h-0.65zM462.05 102.26h0.65v0.65h-0.65zM461.95 105.94h0.65v0.65h-0.65zM458.61 104.27h0.65v0.65h-0.65zM455.76 103.15h0.65v0.65h-0.65zM462.57 105.81h0.65v0.65h-0.65zM457.78 104.64h0.65v0.65h-0.65zM458.38 105.8h0.65v0.65h-0.65zM463.28 105.44h0.65v0.65h-0.65zM460.53 100.26h0.65v0.65h-0.65zM459.15 100.73h0.65v0.65h-0.65zM459.24 104.55h0.65v0.65h-0.65zM466.11 101.75h0.65v0.65h-0.65zM458.97 105.37h0.65v0.65h-0.65zM454.52 111.39h0.65v0.65h-0.65zM456.22 108.22h0.65v0.65h-0.65zM466.41 106.52h0.65v0.65h-0.65zM461.91 106.51h0.65v0.65h-0.65zM461.04 107.32h0.65v0.65h-0.65zM459.01 102.32h0.65v0.65h-0.65zM463.35 102.75h0.65v0.65h-0.65zM464.35 101.38h0.65v0.65h-0.65zM462.67 101.27h0.65v0.65h-0.65zM462.55 110.65h0.65v0.65h-0.65zM457.11 101.36h0.65v0.65h-0.65zM455.43 104.62h0.65v0.65h-0.65zM468.37 101.99h0.65v0.65h-0.65zM465.7 103.2h0.65v0.65h-0.65zM460.34 110.56h0.65v0.65h-0.65zM465.57 98.27h0.65v0.65h-0.65zM458.24 106.1h0.65v0.65h-0.65zM464.54 103.25h0.65v0.65h-0.65zM463.52 105.68h0.65v0.65h-0.65zM461.04 107.43h0.65v0.65h-0.65zM458.91 107.03h0.65v0.65h-0.65zM465.8 104.34h0.65v0.65h-0.65zM460.61 104.46h0.65v0.65h-0.65zM453.16 106.4h0.65v0.65h-0.65zM455.38 99.28h0.65v0.65h-0.65zM464.69 101.17h0.65v0.65h-0.65zM463.46 104.22h0.65v0.65h-0.65zM454.51 102.74h0.65v0.65h-0.65zM461.12 105.84h0.65v0.65h-0.65zM461.73 100.57h0.65v0.65h-0.65zM459.92 104.93h0.65v0.65h-0.65zM456.69 103.79h0.65v0.65h-0.65zM458.87 98.43h0.65v0.65h-0.65zM469.35 105.81h0.65v0.65h-0.65zM460.55 107.35h0.65v0.65h-0.65zM458.48 109.41h0.65v0.65h-0.65zM460.57 104.94h0.65v0.65h-0.65zM459.72 104.92h0.65v0.65h-0.65zM463.35 104.19h0.65v0.65h-0.65zM459.01 107.02h0.65v0.65h-0.65zM464.25 103.97h0.65v0.65h-0.65zM465.92 101.51h0.65v0.65h-0.65zM467.08 103.06h0.65v0.65h-0.65zM467.91 102.09h0.65v0.65h-0.65zM461.08 105.07h0.65v0.65h-0.65zM467.05 107.84h0.65v0.65h-0.65zM459.85 102.45h0.65v0.65h-0.65zM465.62 107.46h0.65v0.65h-0.65zM464.69 102.91h0.65v0.65h-0.65zM467.12 103.45h0.65v0.65h-0.65zM462.96 106.01h0.65v0.65h-0.65zM463.2 106.26h0.65v0.65h-0.65zM464.01 105.62h0.65v0.65h-0.65zM463.12 107.25h0.65v0.65h-0.65zM463.13 108.59h0.65v0.65h-0.65zM462.56 106.6h0.65v0.65h-0.65zM459.93 105.52h0.65v0.65h-0.65zM463.78 104.45h0.65v0.65h-0.65zM468.24 103.5h0.65v0.65h-0.65zM466.68 104.65h0.65v0.65h-0.65zM466 101.01h0.65v0.65h-0.65zM460.97 107.34h0.65v0.65h-0.65zM458.89 105.95h0.65v0.65h-0.65zM464.37 104.53h0.65v0.65h-0.65zM464 105.62h0.65v0.65h-0.65zM461.24 105.65h0.65v0.65h-0.65zM459.73 103.3h0.65v0.65h-0.65zM455.58 104.96h0.65v0.65h-0.65zM455.19 105.42h0.65v0.65h-0.65zM462.37 101h0.65v0.65h-0.65zM462.42 105.11h0.65v0.65h-0.65zM460.2 101.85h0.65v0.65h-0.65zM461.74 105.57h0.65v0.65h-0.65zM466.58 109.4h0.65v0.65h-0.65zM454.23 106.5h0.65v0.65h-0.65zM463.47 102.18h0.65v0.65h-0.65zM464.23 110.22h0.65v0.65h-0.65zM463.07 108.22h0.65v0.65h-0.65zM466.09 102.36h0.65v0.65h-0.65zM467.42 98.22h0.65v0.65h-0.65zM460.9 102.38h0.65v0.65h-0.65zM462.86 104.36h0.65v0.65h-0.65zM466.34 101.88h0.65v0.65h-0.65zM469 98.13h0.65v0.65h-0.65zM461.89 106.2h0.65v0.65h-0.65zM465.44 102.73h0.65v0.65h-0.65zM454.41 106.09h0.65v0.65h-0.65zM464.05 97.88h0.65v0.65h-0.65zM460.29 106.24h0.65v0.65h-0.65zM455.03 101.34h0.65v0.65h-0.65zM464.14 107.38h0.65v0.65h-0.65zM466.4 101.67h0.65v0.65h-0.65zM463.26 98.81h0.65v0.65h-0.65zM456.3 106.8h0.65v0.65h-0.65zM459.95 101.56h0.65v0.65h-0.65zM454.39 104.75h0.65v0.65h-0.65zM470.09 97.04h0.65v0.65h-0.65zM458.3 108.23h0.65v0.65h-0.65zM454.02 103.65h0.65v0.65h-0.65zM462.78 107.58h0.65v0.65h-0.65zM462.52 109.69h0.65v0.65h-0.65zM461.84 103.99h0.65v0.65h-0.65zM463.94 105.06h0.65v0.65h-0.65zM455.55 102.43h0.65v0.65h-0.65zM461.21 105.44h0.65v0.65h-0.65zM456.76 102.95h0.65v0.65h-0.65zM459.16 105.75h0.65v0.65h-0.65zM460.54 106.33h0.65v0.65h-0.65zM463.16 101.38h0.65v0.65h-0.65zM460.26 100.83h0.65v0.65h-0.65zM462.8 106.62h0.65v0.65h-0.65zM457.24 99.71h0.65v0.65h-0.65zM463.96 103.13h0.65v0.65h-0.65zM462.09 105.67h0.65v0.65h-0.65zM463.94 106.79h0.65v0.65h-0.65zM459.18 98.11h0.65v0.65h-0.65zM459.9 103.7h0.65v0.65h-0.65zM460.53 105.71h0.65v0.65h-0.65zM461.57 108.26h0.65v0.65h-0.65zM459.45 104.67h0.65v0.65h-0.65zM461.5 110.75h0.65v0.65h-0.65zM457.71 101.94h0.65v0.65h-0.65zM460.81 106.78h0.65v0.65h-0.65zM461.97 103.78h0.65v0.65h-0.65zM455.18 99.09h0.65v0.65h-0.65zM461.03 103.73h0.65v0.65h-0.65zM469.28 104.32h0.65v0.65h-0.65zM464.15 106.89h0.65v0.65h-0.65zM457.84 101.22h0.65v0.65h-0.65zM461.18 108.89h0.65v0.65h-0.65zM465.74 101.98h0.65v0.65h-0.65zM457.39 107.8h0.65v0.65h-0.65zM465.94 100.4h0.65v0.65h-0.65zM468.16 101.04h0.65v0.65h-0.65zM464.94 103.24h0.65v0.65h-0.65zM460.4 102.7h0.65v0.65h-0.65zM465.08 105.7h0.65v0.65h-0.65zM465.14 102.98h0.65v0.65h-0.65zM459.52 111.14h0.65v0.65h-0.65zM468.86 102.68h0.65v0.65h-0.65zM458.02 109.42h0.65v0.65h-0.65zM462.57 104.39h0.65v0.65h-0.65zM465.61 104.81h0.65v0.65h-0.65zM463.34 110.1h0.65v0.65h-0.65zM454.63 107.36h0.65v0.65h-0.65zM458.04 105.12h0.65v0.65h-0.65zM461.43 105.19h0.65v0.65h-0.65zM465.95 105.59h0.65v0.65h-0.65zM462.99 102.63h0.65v0.65h-0.65zM464.71 104.71h0.65v0.65h-0.65zM468.26 105.87h0.65v0.65h-0.65zM468.36 104.81h0.65v0.65h-0.65zM462.43 102.4h0.65v0.65h-0.65zM462.23 103.15h0.65v0.65h-0.65zM464.95 107.96h0.65v0.65h-0.65zM464.54 106.77h0.65v0.65h-0.65zM463.23 105.19h0.65v0.65h-0.65zM456.89 105.44h0.65v0.65h-0.65zM462.18 104.05h0.65v0.65h-0.65zM461.15 105.36h0.65v0.65h-0.65zM459.55 104.08h0.65v0.65h-0.65zM457.82 101.29h0.65v0.65h-0.65zM459.62 103.4h0.65v0.65h-0.65zM469.18 106.3h0.65v0.65h-0.65zM460.7 106.19h0.65v0.65h-0.65zM456.73 100.2h0.65v0.65h-0.65zM463.63 105.8h0.65v0.65h-0.65zM459.19 104.71h0.65v0.65h-0.65zM466.41 104.15h0.65v0.65h-0.65zM463 105.9h0.65v0.65h-0.65zM452.87 101.78h0.65v0.65h-0.65zM456.89 105.8h0.65v0.65h-0.65zM458.58 99.11h0.65v0.65h-0.65zM465.57 103.19h0.65v0.65h-0.65zM466.98 109.62h0.65v0.65h-0.65zM454.64 101.56h0.65v0.65h-0.65zM467.06 107.8h0.65v0.65h-0.65zM463.79 105.12h0.65v0.65h-0.65zM465.14 105.81h0.65v0.65h-0.65zM457.09 107.3h0.65v0.65h-0.65zM465.89 102.49h0.65v0.65h-0.65zM458.02 103.42h0.65v0.65h-0.65zM459.82 106.23h0.65v0.65h-0.65zM465.2 103.89h0.65v0.65h-0.65zM459.95 99.25h0.65v0.65h-0.65zM459.8 101.62h0.65v0.65h-0.65zM459.88 105.66h0.65v0.65h-0.65zM458.16 103.27h0.65v0.65h-0.65zM457.17 104.26h0.65v0.65h-0.65z" fill="#3a3a3a" fill-opacity="0.28"/>
<path d="M461.41 107.02h0.7v0.7h-0.7zM455.65 107.64h0.7v0.7h-0.7zM464.01 102.62h0.7v0.7h-0.7zM459.72 105.16h0.7v0.7h-0.7zM463.73 103.62h0.7v0.7h-0.7zM461.47 104.43h0.7v0.7h-0.7zM458.38 105.56h0.7v0.7h-0.7zM464 104.13h0.7v0.7h-0.7zM458.08 104.9h0.7v0.7h-0.7zM461.74 105.17h0.7v0.7h-0.7zM460.88 106.64h0.7v0.7h-0.7zM466.04 105.85h0.7v0.7h-0.7zM463.27 107.29h0.7v0.7h-0.7zM461.79 103.9h0.7v0.7h-0.7zM457.08 105.1h0.7v0.7h-0.7zM465.8 101.24h0.7v0.7h-0.7zM464.18 100.67h0.7v0.7h-0.7zM463.72 108.8h0.7v0.7h-0.7zM461.7 101.31h0.7v0.7h-0.7zM462.92 103.79h0.7v0.7h-0.7zM464.52 102.57h0.7v0.7h-0.7zM455.86 103.99h0.7v0.7h-0.7zM464.41 106.61h0.7v0.7h-0.7zM462.95 104.23h0.7v0.7h-0.7zM464.27 103.45h0.7v0.7h-0.7zM460.52 105.12h0.7v0.7h-0.7zM465.55 102.47h0.7v0.7h-0.7zM463.45 102.43h0.7v0.7h-0.7zM459.53 105.13h0.7v0.7h-0.7zM457.09 102.84h0.7v0.7h-0.7zM457.66 103.4h0.7v0.7h-0.7zM464.1 104.18h0.7v0.7h-0.7zM463.26 102.49h0.7v0.7h-0.7zM465.43 102.77h0.7v0.7h-0.7zM457.25 103.38h0.7v0.7h-0.7zM456.2 101.54h0.7v0.7h-0.7zM464.22 102.6h0.7v0.7h-0.7zM464.14 102.54h0.7v0.7h-0.7zM460.97 103.05h0.7v0.7h-0.7zM459.85 102.93h0.7v0.7h-0.7zM467.1 103.4h0.7v0.7h-0.7zM455.92 109.59h0.7v0.7h-0.7zM466.72 106.48h0.7v0.7h-0.7zM461.56 103.97h0.7v0.7h-0.7zM460.38 104.87h0.7v0.7h-0.7zM463.59 104.06h0.7v0.7h-0.7zM458.78 102.31h0.7v0.7h-0.7zM468.35 107.69h0.7v0.7h-0.7zM457.47 103.35h0.7v0.7h-0.7zM462.06 105.81h0.7v0.7h-0.7zM461.67 104.97h0.7v0.7h-0.7zM463.65 106.98h0.7v0.7h-0.7zM457.9 107.74h0.7v0.7h-0.7zM463.68 105.44h0.7v0.7h-0.7zM456.69 104.52h0.7v0.7h-0.7zM461.32 106.05h0.7v0.7h-0.7zM464.59 105.68h0.7v0.7h-0.7zM457.99 108.14h0.7v0.7h-0.7zM462.55 106.61h0.7v0.7h-0.7zM461.66 102.56h0.7v0.7h-0.7z" fill="#222" fill-opacity="0.3"/>
<path d="M452.87 102.02h0.65v0.65h-0.65zM450.42 105.39h0.65v0.65h-0.65zM452.08 106.75h0.65v0.65h-0.65zM453.96 100.71h0.65v0.65h-0.65zM447.14 105.49h0.65v0.65h-0.65zM452.47 102.45h0.65v0.65h-0.65zM450.25 101.82h0.65v0.65h-0.65zM455.44 102.66h0.65v0.65h-0.65zM447.53 104.94h0.65v0.65h-0.65zM450.76 103.77h0.65v0.65h-0.65zM450.01 102.93h0.65v0.65h-0.65zM446.28 104.15h0.65v0.65h-0.65zM449.26 102.19h0.65v0.65h-0.65zM451.75 105.73h0.65v0.65h-0.65zM445.6 102.72h0.65v0.65h-0.65zM452.33 105.17h0.65v0.65h-0.65zM448.7 103.69h0.65v0.65h-0.65zM451.96 104.99h0.65v0.65h-0.65zM449.42 102.62h0.65v0.65h-0.65zM449.69 105.43h0.65v0.65h-0.65zM453.67 102.07h0.65v0.65h-0.65zM450.62 103.48h0.65v0.65h-0.65zM448.72 102.77h0.65v0.65h-0.65zM453.12 104.66h0.65v0.65h-0.65zM449.27 101.64h0.65v0.65h-0.65zM450.67 99.9h0.65v0.65h-0.65zM451.73 103.27h0.65v0.65h-0.65zM447.64 102.52h0.65v0.65h-0.65zM449.31 102.44h0.65v0.65h-0.65zM448.78 105.9h0.65v0.65h-0.65zM448.55 104.63h0.65v0.65h-0.65zM451.48 106.07h0.65v0.65h-0.65zM450.81 103.02h0.65v0.65h-0.65zM451.13 99.04h0.65v0.65h-0.65zM450.17 100.64h0.65v0.65h-0.65zM450.62 106.41h0.65v0.65h-0.65zM449.07 103.95h0.65v0.65h-0.65zM453.53 105.01h0.65v0.65h-0.65zM449.95 99.35h0.65v0.65h-0.65zM451.97 104.22h0.65v0.65h-0.65zM450.14 102.12h0.65v0.65h-0.65zM455.33 99.7h0.65v0.65h-0.65zM449.68 101.74h0.65v0.65h-0.65zM447.06 101.57h0.65v0.65h-0.65zM448.97 105.64h0.65v0.65h-0.65zM446.6 100.14h0.65v0.65h-0.65zM451.61 99.77h0.65v0.65h-0.65zM445.96 101.71h0.65v0.65h-0.65zM447.95 100.98h0.65v0.65h-0.65zM450.56 103.97h0.65v0.65h-0.65zM449.34 102.45h0.65v0.65h-0.65zM452.74 102.71h0.65v0.65h-0.65zM452.78 101.79h0.65v0.65h-0.65zM452.17 105.7h0.65v0.65h-0.65zM450.15 102.32h0.65v0.65h-0.65zM450.55 104h0.65v0.65h-0.65zM447.94 103.11h0.65v0.65h-0.65zM449.5 106.01h0.65v0.65h-0.65zM446.65 104.38h0.65v0.65h-0.65zM450.17 101.46h0.65v0.65h-0.65zM451.3 102.53h0.65v0.65h-0.65zM451.06 103.53h0.65v0.65h-0.65zM453.95 102.18h0.65v0.65h-0.65zM455.5 105.57h0.65v0.65h-0.65zM454.85 103.44h0.65v0.65h-0.65zM451.66 100.91h0.65v0.65h-0.65zM454.29 100.61h0.65v0.65h-0.65zM448.97 103.03h0.65v0.65h-0.65zM451.54 103.74h0.65v0.65h-0.65zM448.05 102.31h0.65v0.65h-0.65zM452.17 105.5h0.65v0.65h-0.65zM452.86 103.89h0.65v0.65h-0.65zM450.3 101.9h0.65v0.65h-0.65zM449.67 102.83h0.65v0.65h-0.65zM452.27 101.98h0.65v0.65h-0.65zM456.08 100.94h0.65v0.65h-0.65zM452.99 102.61h0.65v0.65h-0.65zM450.6 102.24h0.65v0.65h-0.65zM454.78 102.41h0.65v0.65h-0.65zM452.33 103.28h0.65v0.65h-0.65zM452.82 104.25h0.65v0.65h-0.65zM455.07 101.51h0.65v0.65h-0.65zM448.9 106.56h0.65v0.65h-0.65zM454.13 103.18h0.65v0.65h-0.65zM450.24 103.56h0.65v0.65h-0.65zM454.2 101.44h0.65v0.65h-0.65zM454.57 102.91h0.65v0.65h-0.65zM450.05 102.21h0.65v0.65h-0.65zM445.73 103.7h0.65v0.65h-0.65zM447.67 101.87h0.65v0.65h-0.65zM448.72 103.52h0.65v0.65h-0.65zM452.75 103.11h0.65v0.65h-0.65zM451.43 103.89h0.65v0.65h-0.65zM454.96 104.23h0.65v0.65h-0.65zM454.87 102.9h0.65v0.65h-0.65zM451.83 101.68h0.65v0.65h-0.65zM452.43 101.25h0.65v0.65h-0.65zM452.13 101.72h0.65v0.65h-0.65zM450.07 105.56h0.65v0.65h-0.65zM451.32 104.68h0.65v0.65h-0.65zM450.36 99.16h0.65v0.65h-0.65zM454.62 102.66h0.65v0.65h-0.65zM449.34 105h0.65v0.65h-0.65zM448.13 101.49h0.65v0.65h-0.65zM453.81 101.59h0.65v0.65h-0.65zM453.77 102.4h0.65v0.65h-0.65zM450.43 103.18h0.65v0.65h-0.65zM449.71 105.26h0.65v0.65h-0.65zM453.68 103.17h0.65v0.65h-0.65zM452.47 104.16h0.65v0.65h-0.65zM455.15 99.74h0.65v0.65h-0.65zM453.51 104.93h0.65v0.65h-0.65zM450.17 103.06h0.65v0.65h-0.65zM450.09 105.6h0.65v0.65h-0.65zM448.1 104.29h0.65v0.65h-0.65zM454.15 104.22h0.65v0.65h-0.65zM449.76 102.08h0.65v0.65h-0.65zM445.68 100.9h0.65v0.65h-0.65zM453.68 101.07h0.65v0.65h-0.65zM446.87 102.52h0.65v0.65h-0.65zM447.25 103.99h0.65v0.65h-0.65zM448.78 105.01h0.65v0.65h-0.65zM450.66 100.1h0.65v0.65h-0.65zM449.03 101.69h0.65v0.65h-0.65zM448.85 105.6h0.65v0.65h-0.65zM448.46 103.79h0.65v0.65h-0.65zM449.5 104.26h0.65v0.65h-0.65zM447.39 99.79h0.65v0.65h-0.65zM452.23 106h0.65v0.65h-0.65zM447.51 102.39h0.65v0.65h-0.65zM449.69 101.1h0.65v0.65h-0.65zM453.37 103.14h0.65v0.65h-0.65zM447.51 102.59h0.65v0.65h-0.65zM454.28 101.57h0.65v0.65h-0.65zM449.67 101.32h0.65v0.65h-0.65zM451.36 101.89h0.65v0.65h-0.65zM453.18 101.31h0.65v0.65h-0.65zM447.33 103.97h0.65v0.65h-0.65zM451.66 103.55h0.65v0.65h-0.65zM449.52 102.12h0.65v0.65h-0.65z" fill="#3a3a3a" fill-opacity="0.28"/>
<path d="M450.72 115.24h0.65v0.65h-0.65zM452.11 118.69h0.65v0.65h-0.65zM453.97 118.69h0.65v0.65h-0.65zM460.45 114.8h0.65v0.65h-0.65zM452.78 117.85h0.65v0.65h-0.65zM462.3 114.39h0.65v0.65h-0.65zM460.67 121.67h0.65v0.65h-0.65zM450.02 117.95h0.65v0.65h-0.65zM459.23 116.34h0.65v0.65h-0.65zM454.59 126.29h0.65v0.65h-0.65zM455.36 126.22h0.65v0.65h-0.65zM450.37 123.84h0.65v0.65h-0.65zM450.63 113.85h0.65v0.65h-0.65zM453.76 119.65h0.65v0.65h-0.65zM456.69 118.55h0.65v0.65h-0.65zM450.95 124.49h0.65v0.65h-0.65zM458.72 116.26h0.65v0.65h-0.65zM451.66 115.86h0.65v0.65h-0.65zM453.05 112.8h0.65v0.65h-0.65zM453.89 112.96h0.65v0.65h-0.65zM456.5 113.01h0.65v0.65h-0.65zM455.89 117.6h0.65v0.65h-0.65zM454.6 118.55h0.65v0.65h-0.65zM451.18 119.54h0.65v0.65h-0.65zM454.03 114.04h0.65v0.65h-0.65zM460.89 121.28h0.65v0.65h-0.65zM452.85 118.74h0.65v0.65h-0.65zM456.67 123.54h0.65v0.65h-0.65zM457.99 115.29h0.65v0.65h-0.65zM452.94 110.6h0.65v0.65h-0.65zM455 120.17h0.65v0.65h-0.65zM452.39 119.22h0.65v0.65h-0.65zM454.47 113.9h0.65v0.65h-0.65zM449.08 121.33h0.65v0.65h-0.65zM449.64 111.2h0.65v0.65h-0.65zM454.96 119.15h0.65v0.65h-0.65zM461.34 116.86h0.65v0.65h-0.65zM454.49 117.9h0.65v0.65h-0.65zM452.53 114.72h0.65v0.65h-0.65zM458.17 107.89h0.65v0.65h-0.65zM453.5 118.72h0.65v0.65h-0.65zM447.37 115.32h0.65v0.65h-0.65zM460.07 117.84h0.65v0.65h-0.65zM456.78 119.41h0.65v0.65h-0.65zM454.84 117.77h0.65v0.65h-0.65zM450.71 115.08h0.65v0.65h-0.65zM461.34 110.26h0.65v0.65h-0.65zM453.29 110.08h0.65v0.65h-0.65zM451.82 112.42h0.65v0.65h-0.65zM449.06 117.22h0.65v0.65h-0.65zM450.18 118.58h0.65v0.65h-0.65zM453.3 106.15h0.65v0.65h-0.65zM453.47 117.85h0.65v0.65h-0.65zM454.8 121.8h0.65v0.65h-0.65zM454.6 107.9h0.65v0.65h-0.65zM459.98 111.58h0.65v0.65h-0.65zM453.59 117.61h0.65v0.65h-0.65zM450.44 116.5h0.65v0.65h-0.65zM459.94 108.07h0.65v0.65h-0.65zM447.3 113.95h0.65v0.65h-0.65zM453.3 110.01h0.65v0.65h-0.65zM455.53 109.78h0.65v0.65h-0.65zM456.26 115.77h0.65v0.65h-0.65zM454.61 109.73h0.65v0.65h-0.65zM453.09 118.35h0.65v0.65h-0.65zM446.96 111.08h0.65v0.65h-0.65zM457.85 125.55h0.65v0.65h-0.65zM456.62 115.73h0.65v0.65h-0.65zM449.64 114.14h0.65v0.65h-0.65zM452.97 118.17h0.65v0.65h-0.65zM459.27 105.62h0.65v0.65h-0.65zM449.3 116.05h0.65v0.65h-0.65zM457.91 117.99h0.65v0.65h-0.65zM459.38 118.88h0.65v0.65h-0.65zM455.83 123.35h0.65v0.65h-0.65zM452.19 113.47h0.65v0.65h-0.65zM449.92 117.25h0.65v0.65h-0.65zM455.74 120.53h0.65v0.65h-0.65zM459.78 119.04h0.65v0.65h-0.65zM458.92 114.87h0.65v0.65h-0.65zM450.12 119.55h0.65v0.65h-0.65zM458.04 122.45h0.65v0.65h-0.65zM453.32 113.82h0.65v0.65h-0.65zM452.53 117.78h0.65v0.65h-0.65zM453.79 115.18h0.65v0.65h-0.65zM455.01 114.67h0.65v0.65h-0.65zM455.34 113.2h0.65v0.65h-0.65zM447.8 114.57h0.65v0.65h-0.65zM461.56 112.18h0.65v0.65h-0.65zM457.65 122.48h0.65v0.65h-0.65zM451.81 117.29h0.65v0.65h-0.65zM460.15 116.94h0.65v0.65h-0.65zM446.02 113.28h0.65v0.65h-0.65zM451.01 116.59h0.65v0.65h-0.65zM455.14 114.07h0.65v0.65h-0.65zM452.75 112.14h0.65v0.65h-0.65zM456.29 117h0.65v0.65h-0.65zM455.38 113.64h0.65v0.65h-0.65zM455.97 114.62h0.65v0.65h-0.65zM455.18 115.28h0.65v0.65h-0.65zM451.33 110.8h0.65v0.65h-0.65zM446.52 109.5h0.65v0.65h-0.65zM447.41 112.14h0.65v0.65h-0.65zM453.17 110.45h0.65v0.65h-0.65zM455.67 126.06h0.65v0.65h-0.65zM458.96 110.46h0.65v0.65h-0.65zM453.57 113.02h0.65v0.65h-0.65zM457.05 109.06h0.65v0.65h-0.65zM455.24 117.09h0.65v0.65h-0.65zM456.26 118.09h0.65v0.65h-0.65zM454.61 107.49h0.65v0.65h-0.65zM452.7 111.49h0.65v0.65h-0.65zM456.12 114.91h0.65v0.65h-0.65zM454.6 121.34h0.65v0.65h-0.65zM453.56 124.14h0.65v0.65h-0.65zM457.34 108.89h0.65v0.65h-0.65zM451.65 121.9h0.65v0.65h-0.65zM452 121.79h0.65v0.65h-0.65zM451.74 115.44h0.65v0.65h-0.65zM458.12 108.44h0.65v0.65h-0.65zM454.3 113.84h0.65v0.65h-0.65zM454.68 124.27h0.65v0.65h-0.65zM455.96 109.52h0.65v0.65h-0.65zM457.85 113.85h0.65v0.65h-0.65zM454.66 121.61h0.65v0.65h-0.65zM452.75 120.64h0.65v0.65h-0.65zM454.71 111.67h0.65v0.65h-0.65zM452.76 109.48h0.65v0.65h-0.65zM458.74 116.81h0.65v0.65h-0.65zM457.88 110.65h0.65v0.65h-0.65zM457.39 110.26h0.65v0.65h-0.65zM455.12 115.95h0.65v0.65h-0.65zM451.63 117.5h0.65v0.65h-0.65zM454.14 111.83h0.65v0.65h-0.65zM451.02 109.72h0.65v0.65h-0.65zM459.49 116.74h0.65v0.65h-0.65zM452.54 119.36h0.65v0.65h-0.65zM450.55 110.4h0.65v0.65h-0.65zM455.43 123.67h0.65v0.65h-0.65zM455.2 116.77h0.65v0.65h-0.65zM460.99 108.55h0.65v0.65h-0.65zM453.7 109.52h0.65v0.65h-0.65zM449.13 114.86h0.65v0.65h-0.65zM451.53 117.32h0.65v0.65h-0.65zM449.92 114.77h0.65v0.65h-0.65zM457.28 105.47h0.65v0.65h-0.65zM452.79 114.59h0.65v0.65h-0.65zM451.95 115.44h0.65v0.65h-0.65zM446.8 113.88h0.65v0.65h-0.65zM451.91 111.03h0.65v0.65h-0.65zM459.06 125.69h0.65v0.65h-0.65zM457.2 111.82h0.65v0.65h-0.65zM459.69 118.42h0.65v0.65h-0.65zM450.73 118.93h0.65v0.65h-0.65zM451.68 118.78h0.65v0.65h-0.65zM457.68 121.6h0.65v0.65h-0.65zM449.78 115.39h0.65v0.65h-0.65zM454.01 110.09h0.65v0.65h-0.65zM455.66 119.36h0.65v0.65h-0.65zM448.47 113.33h0.65v0.65h-0.65zM449.58 109.84h0.65v0.65h-0.65zM449.73 122.66h0.65v0.65h-0.65zM451.34 114.09h0.65v0.65h-0.65zM457.96 120.97h0.65v0.65h-0.65zM459.63 105.95h0.65v0.65h-0.65zM457.02 107.5h0.65v0.65h-0.65zM451.46 113.99h0.65v0.65h-0.65zM451.72 125.52h0.65v0.65h-0.65zM453.33 121.69h0.65v0.65h-0.65zM453.28 115.71h0.65v0.65h-0.65zM456.04 118.15h0.65v0.65h-0.65zM456 107.59h0.65v0.65h-0.65zM456.03 117.55h0.65v0.65h-0.65zM456.4 115.75h0.65v0.65h-0.65zM455.64 109.68h0.65v0.65h-0.65zM458.53 110.11h0.65v0.65h-0.65zM459.61 120.92h0.65v0.65h-0.65zM453.75 114.57h0.65v0.65h-0.65zM457.11 114.52h0.65v0.65h-0.65zM449.24 117.35h0.65v0.65h-0.65zM449.11 113.79h0.65v0.65h-0.65zM461.18 119.93h0.65v0.65h-0.65zM452.2 115.67h0.65v0.65h-0.65zM451.41 115.95h0.65v0.65h-0.65zM448.2 119.31h0.65v0.65h-0.65zM454.06 113.03h0.65v0.65h-0.65zM452.23 113.69h0.65v0.65h-0.65zM451.67 113.6h0.65v0.65h-0.65zM459.24 119.29h0.65v0.65h-0.65zM455.68 117.78h0.65v0.65h-0.65zM460.04 119.48h0.65v0.65h-0.65zM454.87 117.36h0.65v0.65h-0.65zM454.8 116.11h0.65v0.65h-0.65zM452.95 105.17h0.65v0.65h-0.65zM456.28 116.23h0.65v0.65h-0.65zM457.91 117.5h0.65v0.65h-0.65zM452.86 118.94h0.65v0.65h-0.65zM454.75 113.85h0.65v0.65h-0.65zM452.5 113.94h0.65v0.65h-0.65zM452.8 113.83h0.65v0.65h-0.65zM453.55 121.45h0.65v0.65h-0.65zM452.1 115.24h0.65v0.65h-0.65zM451.03 109.38h0.65v0.65h-0.65zM450.6 113.51h0.65v0.65h-0.65zM454.62 114.36h0.65v0.65h-0.65zM449.2 114.2h0.65v0.65h-0.65zM460.05 111.72h0.65v0.65h-0.65zM454.26 120.9h0.65v0.65h-0.65zM450.78 113.23h0.65v0.65h-0.65zM451.89 116.78h0.65v0.65h-0.65zM454.4 116.71h0.65v0.65h-0.65zM455.86 114.54h0.65v0.65h-0.65zM454.6 109.35h0.65v0.65h-0.65zM452.71 123.31h0.65v0.65h-0.65zM454.95 112.81h0.65v0.65h-0.65zM454.55 121.1h0.65v0.65h-0.65zM447.15 109.92h0.65v0.65h-0.65zM451.35 113.87h0.65v0.65h-0.65zM453.65 113.18h0.65v0.65h-0.65zM454.43 116.43h0.65v0.65h-0.65zM449.34 112.97h0.65v0.65h-0.65zM449.04 117.4h0.65v0.65h-0.65zM455.05 119.18h0.65v0.65h-0.65zM450.5 113.41h0.65v0.65h-0.65zM447.54 117.68h0.65v0.65h-0.65zM458.31 118.16h0.65v0.65h-0.65zM456.51 117.1h0.65v0.65h-0.65zM455.48 120.56h0.65v0.65h-0.65zM459.05 125.81h0.65v0.65h-0.65zM452.94 120.05h0.65v0.65h-0.65zM457.46 118.07h0.65v0.65h-0.65zM455.07 109.86h0.65v0.65h-0.65zM458.35 111.71h0.65v0.65h-0.65zM451.39 111.85h0.65v0.65h-0.65zM456.23 111.3h0.65v0.65h-0.65zM455.83 118.74h0.65v0.65h-0.65zM454.4 114.35h0.65v0.65h-0.65zM456.38 122.36h0.65v0.65h-0.65zM452.15 110.9h0.65v0.65h-0.65zM451.6 111.73h0.65v0.65h-0.65zM453.05 115.25h0.65v0.65h-0.65zM450.75 113.92h0.65v0.65h-0.65zM446.18 106.44h0.65v0.65h-0.65zM449.95 117.11h0.65v0.65h-0.65zM457.39 107.22h0.65v0.65h-0.65zM454.89 123.35h0.65v0.65h-0.65zM452.87 120.45h0.65v0.65h-0.65zM455.24 111.51h0.65v0.65h-0.65zM457.97 113.04h0.65v0.65h-0.65zM455.41 114.05h0.65v0.65h-0.65zM453.13 116.74h0.65v0.65h-0.65zM459.28 107.83h0.65v0.65h-0.65zM449.54 116.49h0.65v0.65h-0.65zM457.89 115.09h0.65v0.65h-0.65zM453.25 118.55h0.65v0.65h-0.65zM460.29 111.61h0.65v0.65h-0.65zM447.63 114.63h0.65v0.65h-0.65zM457.05 109.62h0.65v0.65h-0.65zM458.5 120.55h0.65v0.65h-0.65zM457.15 111.9h0.65v0.65h-0.65zM448.84 119.18h0.65v0.65h-0.65zM455.04 119.33h0.65v0.65h-0.65zM458.47 120.84h0.65v0.65h-0.65zM452.89 115.97h0.65v0.65h-0.65zM455.8 119.62h0.65v0.65h-0.65zM453.24 113.5h0.65v0.65h-0.65zM450.1 120.97h0.65v0.65h-0.65zM455.37 113.23h0.65v0.65h-0.65zM448.91 113.52h0.65v0.65h-0.65zM448.9 113.82h0.65v0.65h-0.65zM451.81 118.47h0.65v0.65h-0.65zM449.96 107.18h0.65v0.65h-0.65zM451.58 109.33h0.65v0.65h-0.65zM456.95 115h0.65v0.65h-0.65zM447.32 111.75h0.65v0.65h-0.65zM453.89 115.8h0.65v0.65h-0.65zM446.65 115.37h0.65v0.65h-0.65zM455.18 120.78h0.65v0.65h-0.65zM458.38 115.4h0.65v0.65h-0.65zM448.8 114.18h0.65v0.65h-0.65zM456.59 111.54h0.65v0.65h-0.65zM459.02 111.35h0.65v0.65h-0.65zM449.5 120.01h0.65v0.65h-0.65zM453.59 117.55h0.65v0.65h-0.65zM452.78 116.14h0.65v0.65h-0.65zM451.67 125.17h0.65v0.65h-0.65zM456.61 115.39h0.65v0.65h-0.65zM455.88 120.03h0.65v0.65h-0.65zM451.89 116.85h0.65v0.65h-0.65zM454.82 113.26h0.65v0.65h-0.65zM450.91 115.02h0.65v0.65h-0.65zM452.8 114.02h0.65v0.65h-0.65zM446.24 116.36h0.65v0.65h-0.65zM456.61 116.34h0.65v0.65h-0.65zM460.84 120.17h0.65v0.65h-0.65zM452.58 112.73h0.65v0.65h-0.65zM455.99 114.19h0.65v0.65h-0.65zM447.54 116.58h0.65v0.65h-0.65zM452.81 114.91h0.65v0.65h-0.65zM456.44 116.93h0.65v0.65h-0.65zM462.07 112.42h0.65v0.65h-0.65zM453.61 117.49h0.65v0.65h-0.65zM452.24 113.51h0.65v0.65h-0.65zM460.98 108.97h0.65v0.65h-0.65zM455.38 107.51h0.65v0.65h-0.65zM455.35 106.71h0.65v0.65h-0.65zM449.34 121.49h0.65v0.65h-0.65zM460.14 116.62h0.65v0.65h-0.65zM454.97 110.64h0.65v0.65h-0.65zM452.58 109.61h0.65v0.65h-0.65zM453.62 115.57h0.65v0.65h-0.65zM454.49 119.81h0.65v0.65h-0.65zM451.43 105.34h0.65v0.65h-0.65zM449.34 109.92h0.65v0.65h-0.65zM452.53 113.88h0.65v0.65h-0.65zM453.83 122.6h0.65v0.65h-0.65zM454.1 110.79h0.65v0.65h-0.65zM452.78 111.76h0.65v0.65h-0.65zM453.04 118.79h0.65v0.65h-0.65zM449.49 119.39h0.65v0.65h-0.65zM461.12 123.34h0.65v0.65h-0.65zM460.48 116.43h0.65v0.65h-0.65zM448.61 125.67h0.65v0.65h-0.65zM453.79 117.11h0.65v0.65h-0.65zM452.58 111.46h0.65v0.65h-0.65zM456.46 109.26h0.65v0.65h-0.65zM448.52 118.66h0.65v0.65h-0.65zM452.51 111.95h0.65v0.65h-0.65zM455.98 122.85h0.65v0.65h-0.65zM452.87 115.34h0.65v0.65h-0.65zM456.23 120.51h0.65v0.65h-0.65zM458.12 119.26h0.65v0.65h-0.65zM451.35 118.56h0.65v0.65h-0.65zM454.03 107.82h0.65v0.65h-0.65zM458.92 118.75h0.65v0.65h-0.65zM459.46 115.68h0.65v0.65h-0.65zM456.9 115.66h0.65v0.65h-0.65zM454.65 120.38h0.65v0.65h-0.65zM454.23 118.94h0.65v0.65h-0.65zM453.86 121.89h0.65v0.65h-0.65zM456.6 108.03h0.65v0.65h-0.65zM460.61 118.11h0.65v0.65h-0.65zM451.97 113h0.65v0.65h-0.65zM461.92 116.43h0.65v0.65h-0.65zM456.03 118.86h0.65v0.65h-0.65zM451.62 124.41h0.65v0.65h-0.65zM462.37 112.25h0.65v0.65h-0.65zM458.52 108.16h0.65v0.65h-0.65zM452.66 116.3h0.65v0.65h-0.65zM454.21 118.74h0.65v0.65h-0.65zM455.61 117.79h0.65v0.65h-0.65zM453.46 117.46h0.65v0.65h-0.65zM451.79 125.44h0.65v0.65h-0.65zM454.25 121.95h0.65v0.65h-0.65zM454.42 115.29h0.65v0.65h-0.65zM453.28 109.81h0.65v0.65h-0.65zM462.26 117.99h0.65v0.65h-0.65zM454.52 113.78h0.65v0.65h-0.65zM459.09 114.42h0.65v0.65h-0.65zM452.17 113.41h0.65v0.65h-0.65zM460.14 117.49h0.65v0.65h-0.65zM453.42 112.92h0.65v0.65h-0.65zM459.11 117.39h0.65v0.65h-0.65zM452.69 120.3h0.65v0.65h-0.65zM457.49 111.24h0.65v0.65h-0.65zM458.57 121.23h0.65v0.65h-0.65zM453.05 109.63h0.65v0.65h-0.65zM458.35 114.37h0.65v0.65h-0.65zM453.2 114.63h0.65v0.65h-0.65zM452.94 120.01h0.65v0.65h-0.65zM449.67 118.56h0.65v0.65h-0.65zM458.61 121.06h0.65v0.65h-0.65zM456.87 117.28h0.65v0.65h-0.65zM453.24 115.44h0.65v0.65h-0.65zM450.54 124.01h0.65v0.65h-0.65zM453.55 111.18h0.65v0.65h-0.65zM457.32 123.22h0.65v0.65h-0.65zM455.12 114.49h0.65v0.65h-0.65zM449.61 119.09h0.65v0.65h-0.65zM453.06 112.85h0.65v0.65h-0.65zM456.4 109.84h0.65v0.65h-0.65zM451.58 109.19h0.65v0.65h-0.65zM453.06 119.82h0.65v0.65h-0.65zM448.88 122.5h0.65v0.65h-0.65zM451.34 113.71h0.65v0.65h-0.65zM457.95 112.53h0.65v0.65h-0.65zM459.77 115.04h0.65v0.65h-0.65zM453.65 111.42h0.65v0.65h-0.65zM458.57 115.7h0.65v0.65h-0.65zM452.12 111.49h0.65v0.65h-0.65zM451.53 115.55h0.65v0.65h-0.65zM451.2 119.8h0.65v0.65h-0.65zM453.89 113.07h0.65v0.65h-0.65zM455.85 122.8h0.65v0.65h-0.65zM445.84 117.72h0.65v0.65h-0.65zM458.29 116.66h0.65v0.65h-0.65zM457.28 108.69h0.65v0.65h-0.65zM451.1 120.81h0.65v0.65h-0.65zM453.68 116.3h0.65v0.65h-0.65zM456.51 117.76h0.65v0.65h-0.65zM455.81 113.65h0.65v0.65h-0.65zM452.87 122.23h0.65v0.65h-0.65zM452.11 109.17h0.65v0.65h-0.65zM452.67 120.26h0.65v0.65h-0.65zM461.09 116.72h0.65v0.65h-0.65zM451.62 118.9h0.65v0.65h-0.65zM455.24 121.62h0.65v0.65h-0.65zM456.09 119.59h0.65v0.65h-0.65zM456.05 118h0.65v0.65h-0.65zM450.49 115.24h0.65v0.65h-0.65zM460.33 122.33h0.65v0.65h-0.65zM457.84 117.88h0.65v0.65h-0.65zM453.63 117.66h0.65v0.65h-0.65zM452.78 121.17h0.65v0.65h-0.65zM452.84 112.41h0.65v0.65h-0.65zM447.76 123.38h0.65v0.65h-0.65zM451.12 111.93h0.65v0.65h-0.65zM455.65 124.53h0.65v0.65h-0.65zM456.68 114.44h0.65v0.65h-0.65zM456.29 112.1h0.65v0.65h-0.65zM453.1 116.15h0.65v0.65h-0.65zM454.14 119.71h0.65v0.65h-0.65zM456.19 124.94h0.65v0.65h-0.65zM457.34 114.67h0.65v0.65h-0.65zM455.09 111.99h0.65v0.65h-0.65zM451.7 114.4h0.65v0.65h-0.65zM458.05 112.75h0.65v0.65h-0.65zM448 111.22h0.65v0.65h-0.65zM449.41 115.14h0.65v0.65h-0.65zM452.92 110.49h0.65v0.65h-0.65zM451.01 114.05h0.65v0.65h-0.65zM455.63 118.91h0.65v0.65h-0.65zM459.26 114.8h0.65v0.65h-0.65zM456.56 116.37h0.65v0.65h-0.65zM449.85 113.01h0.65v0.65h-0.65zM462.63 115.26h0.65v0.65h-0.65zM460.53 119.92h0.65v0.65h-0.65zM460.58 115.12h0.65v0.65h-0.65zM457.75 114.58h0.65v0.65h-0.65zM449.81 110.49h0.65v0.65h-0.65zM455.83 108.4h0.65v0.65h-0.65zM455.55 111.9h0.65v0.65h-0.65zM455.51 109.53h0.65v0.65h-0.65zM457.43 114.93h0.65v0.65h-0.65zM448.2 109.22h0.65v0.65h-0.65zM454.39 108.28h0.65v0.65h-0.65zM455.42 118.31h0.65v0.65h-0.65zM451.59 122.61h0.65v0.65h-0.65zM459.75 117.5h0.65v0.65h-0.65zM455.91 118.24h0.65v0.65h-0.65zM453.13 122.21h0.65v0.65h-0.65zM454.23 118.1h0.65v0.65h-0.65zM457.34 110.79h0.65v0.65h-0.65zM459.54 112.14h0.65v0.65h-0.65zM456.59 119.46h0.65v0.65h-0.65zM454.84 121.37h0.65v0.65h-0.65zM452.24 125.7h0.65v0.65h-0.65zM456.06 114.03h0.65v0.65h-0.65zM447.88 122.72h0.65v0.65h-0.65zM460.14 113.29h0.65v0.65h-0.65zM450.33 121.34h0.65v0.65h-0.65zM454.38 111.47h0.65v0.65h-0.65zM452.29 116.33h0.65v0.65h-0.65zM457.96 123.41h0.65v0.65h-0.65zM451.76 123.26h0.65v0.65h-0.65zM448.31 119.38h0.65v0.65h-0.65zM453.62 118.08h0.65v0.65h-0.65zM452.47 112.65h0.65v0.65h-0.65zM455.26 121.35h0.65v0.65h-0.65zM445.59 116.26h0.65v0.65h-0.65zM452.6 110.95h0.65v0.65h-0.65zM448.96 118.46h0.65v0.65h-0.65zM456.31 119.06h0.65v0.65h-0.65zM446.47 108.81h0.65v0.65h-0.65zM451.79 113.97h0.65v0.65h-0.65zM460.99 114.19h0.65v0.65h-0.65zM454.65 120.72h0.65v0.65h-0.65zM460.63 117.77h0.65v0.65h-0.65zM455.49 125.17h0.65v0.65h-0.65zM452.61 107.52h0.65v0.65h-0.65zM451.26 114.53h0.65v0.65h-0.65zM459.24 117.51h0.65v0.65h-0.65zM458.82 116.5h0.65v0.65h-0.65zM454.33 113.28h0.65v0.65h-0.65zM449.39 118.41h0.65v0.65h-0.65zM455.57 118.72h0.65v0.65h-0.65zM452.1 114.03h0.65v0.65h-0.65zM455.63 118.89h0.65v0.65h-0.65zM461.87 111.88h0.65v0.65h-0.65zM457.99 120.2h0.65v0.65h-0.65zM453.15 116.66h0.65v0.65h-0.65zM453.95 123.25h0.65v0.65h-0.65zM453.18 120.51h0.65v0.65h-0.65zM456.08 115.14h0.65v0.65h-0.65zM457.08 120.14h0.65v0.65h-0.65zM452.64 120.04h0.65v0.65h-0.65zM445.5 109.92h0.65v0.65h-0.65zM452.97 116.76h0.65v0.65h-0.65zM448.53 123.01h0.65v0.65h-0.65zM452.71 116.73h0.65v0.65h-0.65zM454.01 119.59h0.65v0.65h-0.65zM451.93 119.53h0.65v0.65h-0.65zM450.96 109h0.65v0.65h-0.65zM456.16 116.78h0.65v0.65h-0.65zM457.58 106.82h0.65v0.65h-0.65zM454.6 112.97h0.65v0.65h-0.65zM453.44 114.15h0.65v0.65h-0.65zM452.72 112.85h0.65v0.65h-0.65zM458.12 107.87h0.65v0.65h-0.65zM447.7 117.64h0.65v0.65h-0.65zM461.95 112.4h0.65v0.65h-0.65zM450.67 110.47h0.65v0.65h-0.65zM450.22 121.94h0.65v0.65h-0.65zM456.81 120.28h0.65v0.65h-0.65zM455.51 117.12h0.65v0.65h-0.65zM451.92 111.42h0.65v0.65h-0.65zM452.75 122.03h0.65v0.65h-0.65zM451.45 116.2h0.65v0.65h-0.65zM460.74 115.66h0.65v0.65h-0.65zM456.63 113.35h0.65v0.65h-0.65zM461.44 110.17h0.65v0.65h-0.65zM456.34 114.88h0.65v0.65h-0.65zM454.93 117.73h0.65v0.65h-0.65zM459.25 120.16h0.65v0.65h-0.65zM458.25 117.75h0.65v0.65h-0.65zM450.04 122.38h0.65v0.65h-0.65zM460.12 118.3h0.65v0.65h-0.65zM457.24 114.91h0.65v0.65h-0.65zM448.6 120.68h0.65v0.65h-0.65zM451.36 125.1h0.65v0.65h-0.65zM456.84 115.92h0.65v0.65h-0.65zM451.79 116.52h0.65v0.65h-0.65zM450.26 114.23h0.65v0.65h-0.65zM460.35 114.61h0.65v0.65h-0.65zM461.28 115.55h0.65v0.65h-0.65zM455.78 111.62h0.65v0.65h-0.65zM453 113.89h0.65v0.65h-0.65zM448.79 125.2h0.65v0.65h-0.65zM456.45 115.61h0.65v0.65h-0.65zM449.93 116.17h0.65v0.65h-0.65zM450.09 111.4h0.65v0.65h-0.65zM453.43 126.27h0.65v0.65h-0.65zM447.42 118.67h0.65v0.65h-0.65zM448.69 115.37h0.65v0.65h-0.65zM454.4 112.42h0.65v0.65h-0.65zM461.04 118.56h0.65v0.65h-0.65zM451.71 108.18h0.65v0.65h-0.65zM454.83 112.82h0.65v0.65h-0.65zM458.12 111.04h0.65v0.65h-0.65zM458.79 113.82h0.65v0.65h-0.65zM454.91 114.72h0.65v0.65h-0.65zM456.57 121.47h0.65v0.65h-0.65zM452.05 111.71h0.65v0.65h-0.65zM461.5 120.56h0.65v0.65h-0.65zM461.55 120.56h0.65v0.65h-0.65zM454.67 123.78h0.65v0.65h-0.65zM451.55 113.97h0.65v0.65h-0.65zM452.59 119.27h0.65v0.65h-0.65zM450.84 115.17h0.65v0.65h-0.65zM450.87 114.89h0.65v0.65h-0.65zM458.49 121.3h0.65v0.65h-0.65zM451.42 118.19h0.65v0.65h-0.65zM452.29 105.45h0.65v0.65h-0.65zM449.54 121.92h0.65v0.65h-0.65zM453.66 117.3h0.65v0.65h-0.65zM459 116.15h0.65v0.65h-0.65zM451.67 113.1h0.65v0.65h-0.65zM450.48 118.64h0.65v0.65h-0.65zM452.31 118.45h0.65v0.65h-0.65zM448.3 113.95h0.65v0.65h-0.65zM462.14 117.75h0.65v0.65h-0.65zM453.73 121.67h0.65v0.65h-0.65zM455.2 123.33h0.65v0.65h-0.65zM449.62 119.67h0.65v0.65h-0.65zM450.01 119.26h0.65v0.65h-0.65zM450.8 118.02h0.65v0.65h-0.65zM455.91 112.57h0.65v0.65h-0.65zM455.07 110.92h0.65v0.65h-0.65zM457.89 120.37h0.65v0.65h-0.65zM453.49 119.29h0.65v0.65h-0.65zM446.85 117.61h0.65v0.65h-0.65zM452.36 112.28h0.65v0.65h-0.65zM457.63 120.79h0.65v0.65h-0.65zM456.44 123.81h0.65v0.65h-0.65zM451.67 114.02h0.65v0.65h-0.65zM453.29 116.29h0.65v0.65h-0.65zM450.38 117.1h0.65v0.65h-0.65zM458.22 112.99h0.65v0.65h-0.65zM456.31 115.27h0.65v0.65h-0.65zM453.5 116.57h0.65v0.65h-0.65zM459.98 118.5h0.65v0.65h-0.65zM456.78 116.73h0.65v0.65h-0.65zM445.75 120.51h0.65v0.65h-0.65zM454.03 116.47h0.65v0.65h-0.65zM452.14 108.64h0.65v0.65h-0.65zM459.91 124.78h0.65v0.65h-0.65zM460.22 107.21h0.65v0.65h-0.65zM456.25 110.37h0.65v0.65h-0.65zM453.38 113.55h0.65v0.65h-0.65zM451.68 112.33h0.65v0.65h-0.65z" fill="#3a3a3a" fill-opacity="0.22"/>
<path d="M452.31 119.57h0.7v0.7h-0.7zM460.05 120.27h0.7v0.7h-0.7zM454.05 115.35h0.7v0.7h-0.7zM453.18 115.92h0.7v0.7h-0.7zM451.79 115.19h0.7v0.7h-0.7zM457.23 114.98h0.7v0.7h-0.7zM451.07 115.45h0.7v0.7h-0.7zM454.4 115.65h0.7v0.7h-0.7zM453.11 119.25h0.7v0.7h-0.7zM453.92 111.37h0.7v0.7h-0.7zM456.19 112.73h0.7v0.7h-0.7zM456.94 119.76h0.7v0.7h-0.7zM455.87 117.42h0.7v0.7h-0.7zM449.08 115.1h0.7v0.7h-0.7zM454.54 118.94h0.7v0.7h-0.7zM449.91 115.3h0.7v0.7h-0.7zM448.37 116.82h0.7v0.7h-0.7zM454.37 116.57h0.7v0.7h-0.7zM460.21 119.38h0.7v0.7h-0.7zM453.36 113.35h0.7v0.7h-0.7zM452.42 119.6h0.7v0.7h-0.7zM457.47 113.7h0.7v0.7h-0.7zM453.64 114.02h0.7v0.7h-0.7zM456.62 116.88h0.7v0.7h-0.7zM451.4 111.94h0.7v0.7h-0.7zM458.91 109.58h0.7v0.7h-0.7zM461.63 113.54h0.7v0.7h-0.7zM457.25 118.58h0.7v0.7h-0.7zM457.19 121.23h0.7v0.7h-0.7zM452.33 115.93h0.7v0.7h-0.7zM457.73 118.57h0.7v0.7h-0.7zM451.25 112.54h0.7v0.7h-0.7zM448.69 117.2h0.7v0.7h-0.7zM452.09 108.87h0.7v0.7h-0.7zM451.99 117.5h0.7v0.7h-0.7zM454.75 114.99h0.7v0.7h-0.7zM454.68 119h0.7v0.7h-0.7zM449.6 112.26h0.7v0.7h-0.7zM457.7 119.39h0.7v0.7h-0.7zM448.84 112.69h0.7v0.7h-0.7zM459.48 119.46h0.7v0.7h-0.7zM453.53 120.69h0.7v0.7h-0.7zM459.18 122.5h0.7v0.7h-0.7zM448.87 110.07h0.7v0.7h-0.7zM452.17 115.78h0.7v0.7h-0.7zM452.75 117.13h0.7v0.7h-0.7zM459.6 121.06h0.7v0.7h-0.7zM457.77 116h0.7v0.7h-0.7zM460.24 118.12h0.7v0.7h-0.7zM454.98 115.93h0.7v0.7h-0.7zM447.21 125.89h0.7v0.7h-0.7zM453.98 120.14h0.7v0.7h-0.7zM449.72 120.68h0.7v0.7h-0.7zM454.97 111.68h0.7v0.7h-0.7zM457.68 116.07h0.7v0.7h-0.7zM450.35 117.77h0.7v0.7h-0.7zM450.2 120.47h0.7v0.7h-0.7zM462.31 117.48h0.7v0.7h-0.7zM454.92 115.66h0.7v0.7h-0.7zM457.3 116.16h0.7v0.7h-0.7zM457.96 122.53h0.7v0.7h-0.7zM457.27 111.6h0.7v0.7h-0.7zM456.57 114.81h0.7v0.7h-0.7zM455.24 120.45h0.7v0.7h-0.7zM451.59 116.96h0.7v0.7h-0.7zM459.57 112.19h0.7v0.7h-0.7zM453.35 119.34h0.7v0.7h-0.7zM453.2 120.71h0.7v0.7h-0.7zM450.28 109.15h0.7v0.7h-0.7zM455.49 115.39h0.7v0.7h-0.7zM455.25 120.42h0.7v0.7h-0.7zM458.01 114.42h0.7v0.7h-0.7zM452.62 107.14h0.7v0.7h-0.7zM450.41 117.14h0.7v0.7h-0.7zM454.89 109.23h0.7v0.7h-0.7zM457.02 115.83h0.7v0.7h-0.7zM458.2 114.4h0.7v0.7h-0.7zM457.7 110.96h0.7v0.7h-0.7zM447.12 112.33h0.7v0.7h-0.7zM456.7 117.89h0.7v0.7h-0.7zM446.99 116.69h0.7v0.7h-0.7zM456.58 123.69h0.7v0.7h-0.7zM457 118.34h0.7v0.7h-0.7zM448.13 117.72h0.7v0.7h-0.7zM446.68 114.67h0.7v0.7h-0.7zM452.68 111.58h0.7v0.7h-0.7zM450.26 115.37h0.7v0.7h-0.7zM456.25 113.07h0.7v0.7h-0.7zM455.2 119.26h0.7v0.7h-0.7zM453.98 124.74h0.7v0.7h-0.7zM452.9 112.68h0.7v0.7h-0.7zM446.93 120.91h0.7v0.7h-0.7zM456.62 115.17h0.7v0.7h-0.7zM455.24 115.42h0.7v0.7h-0.7zM457.34 115.96h0.7v0.7h-0.7zM454.92 115.66h0.7v0.7h-0.7zM450.74 105.9h0.7v0.7h-0.7zM456.11 110.34h0.7v0.7h-0.7zM455.56 118.93h0.7v0.7h-0.7zM461.14 112.62h0.7v0.7h-0.7zM454.63 120.33h0.7v0.7h-0.7zM451.55 113.34h0.7v0.7h-0.7zM455.75 125.42h0.7v0.7h-0.7zM458.12 120.37h0.7v0.7h-0.7zM450.45 119.02h0.7v0.7h-0.7zM458.35 110.26h0.7v0.7h-0.7zM454.11 115.14h0.7v0.7h-0.7zM456.49 108.09h0.7v0.7h-0.7zM456.72 116.01h0.7v0.7h-0.7zM453.06 106.39h0.7v0.7h-0.7z" fill="#222" fill-opacity="0.3"/>
<path d="M449.85 108.21h0.65v0.65h-0.65zM461.97 111.42h0.65v0.65h-0.65zM462.42 104.38h0.65v0.65h-0.65zM459.98 114.48h0.65v0.65h-0.65zM452.18 112.17h0.65v0.65h-0.65zM455.83 111.83h0.65v0.65h-0.65zM459.52 104.62h0.65v0.65h-0.65zM454.4 114.23h0.65v0.65h-0.65zM458.59 114.11h0.65v0.65h-0.65zM460.58 112.97h0.65v0.65h-0.65zM457.31 110.74h0.65v0.65h-0.65zM457.42 113.02h0.65v0.65h-0.65zM456.51 113.68h0.65v0.65h-0.65zM466.07 105.98h0.65v0.65h-0.65zM458.31 111.81h0.65v0.65h-0.65zM466.98 113.82h0.65v0.65h-0.65zM459.46 104.28h0.65v0.65h-0.65zM462.81 108.06h0.65v0.65h-0.65zM459.93 111.35h0.65v0.65h-0.65zM452.79 113.54h0.65v0.65h-0.65zM463.15 111.92h0.65v0.65h-0.65zM461.73 111.19h0.65v0.65h-0.65zM452.84 108.33h0.65v0.65h-0.65zM462.7 108.91h0.65v0.65h-0.65zM459.18 111.24h0.65v0.65h-0.65zM459.46 110.86h0.65v0.65h-0.65zM461.23 110.01h0.65v0.65h-0.65zM454.16 109.12h0.65v0.65h-0.65zM463.32 107.77h0.65v0.65h-0.65zM461.16 111.02h0.65v0.65h-0.65zM458.99 107.44h0.65v0.65h-0.65zM456.28 113.1h0.65v0.65h-0.65zM455.65 111.16h0.65v0.65h-0.65zM459.59 110.67h0.65v0.65h-0.65zM467.93 103.49h0.65v0.65h-0.65zM463.36 109.53h0.65v0.65h-0.65zM457.83 107.8h0.65v0.65h-0.65zM459.24 110.16h0.65v0.65h-0.65zM454.99 115.42h0.65v0.65h-0.65zM455.77 109.56h0.65v0.65h-0.65zM453.42 110.51h0.65v0.65h-0.65zM460.65 113.59h0.65v0.65h-0.65zM463.43 108.36h0.65v0.65h-0.65zM466.2 109.66h0.65v0.65h-0.65zM465.97 115.67h0.65v0.65h-0.65zM457.27 106.46h0.65v0.65h-0.65zM461.47 114.76h0.65v0.65h-0.65zM460.83 113.62h0.65v0.65h-0.65zM461.7 112.94h0.65v0.65h-0.65zM464.95 109.04h0.65v0.65h-0.65zM452.77 109.61h0.65v0.65h-0.65zM455.55 106.07h0.65v0.65h-0.65zM458.32 112.36h0.65v0.65h-0.65zM450.87 105.01h0.65v0.65h-0.65zM462.61 107.08h0.65v0.65h-0.65zM457.33 114.47h0.65v0.65h-0.65zM464.05 111.19h0.65v0.65h-0.65zM461.53 111.27h0.65v0.65h-0.65zM452.88 110.61h0.65v0.65h-0.65zM461.09 109.62h0.65v0.65h-0.65zM462.58 112.92h0.65v0.65h-0.65zM459.29 109.19h0.65v0.65h-0.65zM453.82 113.76h0.65v0.65h-0.65zM456.52 111.05h0.65v0.65h-0.65zM465.86 112.56h0.65v0.65h-0.65zM453.42 109.72h0.65v0.65h-0.65zM455.9 104.58h0.65v0.65h-0.65zM455.5 111.93h0.65v0.65h-0.65zM460.56 109.32h0.65v0.65h-0.65zM459.83 106.16h0.65v0.65h-0.65zM455.65 109.46h0.65v0.65h-0.65zM462.59 108.95h0.65v0.65h-0.65zM458.32 111.11h0.65v0.65h-0.65zM465.57 105.85h0.65v0.65h-0.65zM461.42 110.62h0.65v0.65h-0.65zM458.74 110.82h0.65v0.65h-0.65zM450.26 110.1h0.65v0.65h-0.65zM458 105.93h0.65v0.65h-0.65zM462.8 109.61h0.65v0.65h-0.65zM457.54 112.51h0.65v0.65h-0.65zM454.97 107.64h0.65v0.65h-0.65zM462.71 112.88h0.65v0.65h-0.65zM468.01 108.5h0.65v0.65h-0.65zM452.61 105.11h0.65v0.65h-0.65zM453.75 110.35h0.65v0.65h-0.65zM458 107.78h0.65v0.65h-0.65zM454.58 107.71h0.65v0.65h-0.65zM457.43 113.92h0.65v0.65h-0.65zM461.82 114.52h0.65v0.65h-0.65zM462.68 112.51h0.65v0.65h-0.65zM464.27 111.49h0.65v0.65h-0.65zM465.88 113.73h0.65v0.65h-0.65zM467.11 110.72h0.65v0.65h-0.65zM457.81 111.72h0.65v0.65h-0.65zM457.37 107.71h0.65v0.65h-0.65zM460.98 106.32h0.65v0.65h-0.65zM458.34 114.65h0.65v0.65h-0.65zM459.59 112.71h0.65v0.65h-0.65zM461.88 111.27h0.65v0.65h-0.65zM459.52 112.02h0.65v0.65h-0.65zM454.75 111.92h0.65v0.65h-0.65zM454.28 107.52h0.65v0.65h-0.65zM456.44 105.6h0.65v0.65h-0.65zM450.31 111.26h0.65v0.65h-0.65zM461.27 112.18h0.65v0.65h-0.65zM468.84 110.58h0.65v0.65h-0.65zM462.36 107.55h0.65v0.65h-0.65zM462.18 106.24h0.65v0.65h-0.65zM467.79 106.83h0.65v0.65h-0.65zM457.22 112.47h0.65v0.65h-0.65zM449.29 114.42h0.65v0.65h-0.65zM454.82 110.66h0.65v0.65h-0.65zM463.39 110.52h0.65v0.65h-0.65zM463.18 108.35h0.65v0.65h-0.65zM461.67 102.83h0.65v0.65h-0.65zM465.75 107.81h0.65v0.65h-0.65zM455.2 110.06h0.65v0.65h-0.65zM466.57 107.68h0.65v0.65h-0.65zM458.93 108.81h0.65v0.65h-0.65zM454.89 105.7h0.65v0.65h-0.65zM461.65 112.33h0.65v0.65h-0.65zM455.7 110.75h0.65v0.65h-0.65zM461.02 111.25h0.65v0.65h-0.65zM458.29 110.15h0.65v0.65h-0.65zM460.25 106.5h0.65v0.65h-0.65zM458.39 112.62h0.65v0.65h-0.65zM456.54 114.33h0.65v0.65h-0.65zM457.96 106.38h0.65v0.65h-0.65zM457.72 105.55h0.65v0.65h-0.65zM461.73 104.76h0.65v0.65h-0.65zM459.09 109.23h0.65v0.65h-0.65zM457.67 111.4h0.65v0.65h-0.65zM460.3 108.17h0.65v0.65h-0.65zM462.66 108.52h0.65v0.65h-0.65zM463.01 114.42h0.65v0.65h-0.65zM460.69 113.06h0.65v0.65h-0.65zM453.09 111.86h0.65v0.65h-0.65zM452.4 109.43h0.65v0.65h-0.65zM455.56 107.46h0.65v0.65h-0.65zM454.84 110.08h0.65v0.65h-0.65zM461.85 106.2h0.65v0.65h-0.65zM456.26 103.89h0.65v0.65h-0.65zM455.89 103.11h0.65v0.65h-0.65zM452.34 111.55h0.65v0.65h-0.65zM462.91 107.32h0.65v0.65h-0.65zM460.57 107.44h0.65v0.65h-0.65zM463.75 115.76h0.65v0.65h-0.65zM456.17 108.43h0.65v0.65h-0.65zM465.95 115.18h0.65v0.65h-0.65zM458.95 112.1h0.65v0.65h-0.65zM451.95 109.02h0.65v0.65h-0.65zM457.74 109.51h0.65v0.65h-0.65zM460.33 104.85h0.65v0.65h-0.65zM454.38 117.05h0.65v0.65h-0.65zM451.32 110.2h0.65v0.65h-0.65zM462.24 111.62h0.65v0.65h-0.65zM459.26 104.69h0.65v0.65h-0.65zM456.93 104.87h0.65v0.65h-0.65zM467.72 111.19h0.65v0.65h-0.65zM462.24 110.67h0.65v0.65h-0.65zM457.28 113.9h0.65v0.65h-0.65zM462.92 112.1h0.65v0.65h-0.65zM461.59 112.44h0.65v0.65h-0.65zM457.77 111.42h0.65v0.65h-0.65zM459.37 109.18h0.65v0.65h-0.65zM461.88 117.05h0.65v0.65h-0.65zM450.01 114.74h0.65v0.65h-0.65zM457.08 113.96h0.65v0.65h-0.65zM454.48 109.39h0.65v0.65h-0.65zM463.55 109.77h0.65v0.65h-0.65zM460.56 106.02h0.65v0.65h-0.65zM453.92 115.5h0.65v0.65h-0.65zM459.7 109.72h0.65v0.65h-0.65zM452.87 106.59h0.65v0.65h-0.65zM454.43 109.84h0.65v0.65h-0.65zM458.49 107.99h0.65v0.65h-0.65zM456.03 110.37h0.65v0.65h-0.65zM464.2 105.38h0.65v0.65h-0.65zM452.71 113.72h0.65v0.65h-0.65zM452.67 108.65h0.65v0.65h-0.65zM459.53 116h0.65v0.65h-0.65zM458.65 113.54h0.65v0.65h-0.65zM459.64 107.34h0.65v0.65h-0.65zM459.85 103.22h0.65v0.65h-0.65zM462.66 114.88h0.65v0.65h-0.65zM458.1 112.71h0.65v0.65h-0.65zM454.32 114.87h0.65v0.65h-0.65zM456.14 107.37h0.65v0.65h-0.65zM455.62 104.17h0.65v0.65h-0.65zM461.99 116.61h0.65v0.65h-0.65zM452.66 109.35h0.65v0.65h-0.65zM461 108.13h0.65v0.65h-0.65zM452.07 111.1h0.65v0.65h-0.65zM463.46 110.35h0.65v0.65h-0.65zM454.25 109.01h0.65v0.65h-0.65zM450.43 109.81h0.65v0.65h-0.65zM464.41 113.67h0.65v0.65h-0.65zM458.62 111.43h0.65v0.65h-0.65zM456.7 110.43h0.65v0.65h-0.65zM456.36 110.54h0.65v0.65h-0.65zM456.71 110.65h0.65v0.65h-0.65zM462.08 109.94h0.65v0.65h-0.65zM453.25 111.65h0.65v0.65h-0.65zM457.91 108.36h0.65v0.65h-0.65zM461.5 107.24h0.65v0.65h-0.65zM463.14 111.84h0.65v0.65h-0.65zM455.94 107.7h0.65v0.65h-0.65zM458.47 107.01h0.65v0.65h-0.65zM463.21 102.55h0.65v0.65h-0.65zM459.66 108.85h0.65v0.65h-0.65zM454.14 112.08h0.65v0.65h-0.65zM456.86 111.51h0.65v0.65h-0.65zM457.07 109.07h0.65v0.65h-0.65zM461.32 113.16h0.65v0.65h-0.65zM463.43 109.93h0.65v0.65h-0.65zM465.57 108.88h0.65v0.65h-0.65zM452.97 103.83h0.65v0.65h-0.65zM452.6 107.15h0.65v0.65h-0.65zM451.1 111.09h0.65v0.65h-0.65zM459.15 109.88h0.65v0.65h-0.65zM460.06 109.64h0.65v0.65h-0.65zM457.89 108.95h0.65v0.65h-0.65zM459.19 106.28h0.65v0.65h-0.65zM464.66 115.09h0.65v0.65h-0.65zM459.15 117.53h0.65v0.65h-0.65zM454.71 112.98h0.65v0.65h-0.65zM451.83 112h0.65v0.65h-0.65zM455.7 113.33h0.65v0.65h-0.65zM459.51 113.15h0.65v0.65h-0.65zM461.69 111.74h0.65v0.65h-0.65zM457.79 115.27h0.65v0.65h-0.65zM460.59 111.6h0.65v0.65h-0.65zM465.36 109.15h0.65v0.65h-0.65zM466.73 113.59h0.65v0.65h-0.65zM459.36 105.21h0.65v0.65h-0.65zM464.4 108.98h0.65v0.65h-0.65zM459.44 110.41h0.65v0.65h-0.65zM463.24 112.1h0.65v0.65h-0.65zM450.94 107.83h0.65v0.65h-0.65zM460.56 110.58h0.65v0.65h-0.65zM462.53 111.88h0.65v0.65h-0.65zM466.21 107.61h0.65v0.65h-0.65zM464.79 111.27h0.65v0.65h-0.65zM460.35 112.27h0.65v0.65h-0.65zM457.53 112.37h0.65v0.65h-0.65zM458.09 112.39h0.65v0.65h-0.65zM455.65 113.89h0.65v0.65h-0.65zM452.28 107.84h0.65v0.65h-0.65zM458.8 110.81h0.65v0.65h-0.65zM455.49 108.68h0.65v0.65h-0.65zM460.15 113.48h0.65v0.65h-0.65zM464.74 108.43h0.65v0.65h-0.65zM458.72 108.97h0.65v0.65h-0.65zM452.28 108.53h0.65v0.65h-0.65zM464.02 105.55h0.65v0.65h-0.65zM466.68 110.62h0.65v0.65h-0.65zM466.05 108.1h0.65v0.65h-0.65zM464.63 112.52h0.65v0.65h-0.65zM462.49 112.48h0.65v0.65h-0.65zM461.61 112.16h0.65v0.65h-0.65z" fill="#3a3a3a" fill-opacity="0.2"/>
<path d="M447.43 122.03h0.65v0.65h-0.65zM443.01 122.08h0.65v0.65h-0.65zM439.14 109.79h0.65v0.65h-0.65zM423.93 108.44h0.65v0.65h-0.65zM428.3 104.04h0.65v0.65h-0.65zM443.47 114.91h0.65v0.65h-0.65zM444.13 113.64h0.65v0.65h-0.65zM441.04 116.1h0.65v0.65h-0.65zM450.62 130.12h0.65v0.65h-0.65zM440.31 134.9h0.65v0.65h-0.65zM444.57 126.46h0.65v0.65h-0.65zM428.87 112.23h0.65v0.65h-0.65zM439.39 115.97h0.65v0.65h-0.65zM433.96 99.09h0.65v0.65h-0.65zM432.19 117h0.65v0.65h-0.65zM440.49 107.86h0.65v0.65h-0.65zM437.02 135.18h0.65v0.65h-0.65zM439.31 99.42h0.65v0.65h-0.65zM436.61 118.07h0.65v0.65h-0.65zM448.03 119.88h0.65v0.65h-0.65zM448.86 121.18h0.65v0.65h-0.65zM447.27 130.85h0.65v0.65h-0.65zM450.15 119.91h0.65v0.65h-0.65zM428.47 119.92h0.65v0.65h-0.65zM441.81 111.37h0.65v0.65h-0.65zM444.58 116.51h0.65v0.65h-0.65zM444.31 119.86h0.65v0.65h-0.65zM430.75 127.99h0.65v0.65h-0.65zM453.85 126.81h0.65v0.65h-0.65zM440.29 101.7h0.65v0.65h-0.65zM440.62 117.76h0.65v0.65h-0.65zM431.86 99.87h0.65v0.65h-0.65zM441.59 127.28h0.65v0.65h-0.65zM423.18 121.39h0.65v0.65h-0.65zM437.85 131.57h0.65v0.65h-0.65zM437.82 108.85h0.65v0.65h-0.65zM437.62 122.18h0.65v0.65h-0.65zM432.31 110.58h0.65v0.65h-0.65zM440.17 126.36h0.65v0.65h-0.65zM436.26 122.68h0.65v0.65h-0.65zM434.13 114.8h0.65v0.65h-0.65zM439.59 127.25h0.65v0.65h-0.65zM450.54 116.86h0.65v0.65h-0.65zM441.61 136.76h0.65v0.65h-0.65zM444.64 114.64h0.65v0.65h-0.65zM441.3 104.52h0.65v0.65h-0.65zM421.64 110.8h0.65v0.65h-0.65zM432.48 105.3h0.65v0.65h-0.65zM446.14 113.74h0.65v0.65h-0.65zM438.78 118.75h0.65v0.65h-0.65zM436.49 106.89h0.65v0.65h-0.65zM453.27 99.21h0.65v0.65h-0.65zM437.84 124.67h0.65v0.65h-0.65zM436.51 117.08h0.65v0.65h-0.65zM440.53 120.32h0.65v0.65h-0.65zM435.47 128.32h0.65v0.65h-0.65zM442.07 132.38h0.65v0.65h-0.65zM438.83 99.12h0.65v0.65h-0.65zM425.16 113.18h0.65v0.65h-0.65zM441.68 102.53h0.65v0.65h-0.65zM433.7 129.93h0.65v0.65h-0.65zM440.73 111.29h0.65v0.65h-0.65zM437.25 119.15h0.65v0.65h-0.65zM434.83 115.07h0.65v0.65h-0.65zM433.15 120.17h0.65v0.65h-0.65zM450.5 131.91h0.65v0.65h-0.65zM437.2 104.73h0.65v0.65h-0.65zM426.48 119.43h0.65v0.65h-0.65zM439.94 111.97h0.65v0.65h-0.65zM431.86 116h0.65v0.65h-0.65zM440.16 124.48h0.65v0.65h-0.65zM433.48 120.55h0.65v0.65h-0.65zM441.04 125.67h0.65v0.65h-0.65zM426.51 132.98h0.65v0.65h-0.65zM428.82 116.14h0.65v0.65h-0.65zM434.5 113.55h0.65v0.65h-0.65zM432.08 125.83h0.65v0.65h-0.65zM444.27 121.42h0.65v0.65h-0.65zM428.21 112.08h0.65v0.65h-0.65zM437.69 121.86h0.65v0.65h-0.65zM433.81 115.5h0.65v0.65h-0.65zM432.28 133.59h0.65v0.65h-0.65zM444.72 106.72h0.65v0.65h-0.65zM444.26 119.69h0.65v0.65h-0.65zM431.95 125.63h0.65v0.65h-0.65zM433.4 115.18h0.65v0.65h-0.65zM438.3 120.08h0.65v0.65h-0.65zM434.73 120.89h0.65v0.65h-0.65zM438.16 119.93h0.65v0.65h-0.65zM441.16 112h0.65v0.65h-0.65zM427.5 117.37h0.65v0.65h-0.65zM447.72 121.21h0.65v0.65h-0.65zM439.89 111.01h0.65v0.65h-0.65zM429.26 106.23h0.65v0.65h-0.65zM431.01 114.5h0.65v0.65h-0.65zM426.16 116.92h0.65v0.65h-0.65zM425.93 124.27h0.65v0.65h-0.65zM437.94 101.31h0.65v0.65h-0.65zM433.88 120.27h0.65v0.65h-0.65zM441.09 125.44h0.65v0.65h-0.65zM435.41 116.67h0.65v0.65h-0.65zM436.32 123.24h0.65v0.65h-0.65zM432.77 116.52h0.65v0.65h-0.65zM439.27 114.76h0.65v0.65h-0.65zM429.75 130.98h0.65v0.65h-0.65zM442.01 109.38h0.65v0.65h-0.65zM453.38 110.78h0.65v0.65h-0.65zM431.38 114.57h0.65v0.65h-0.65zM442.3 132.31h0.65v0.65h-0.65zM448.77 123.32h0.65v0.65h-0.65zM438.67 124.38h0.65v0.65h-0.65zM432.06 111.38h0.65v0.65h-0.65zM442.25 119.97h0.65v0.65h-0.65zM439.96 108.39h0.65v0.65h-0.65zM440.06 104.37h0.65v0.65h-0.65zM445.32 118.17h0.65v0.65h-0.65zM433.16 113.6h0.65v0.65h-0.65zM432.72 131.09h0.65v0.65h-0.65zM438.29 120.5h0.65v0.65h-0.65zM430.73 105.59h0.65v0.65h-0.65zM439.98 113.84h0.65v0.65h-0.65zM442.05 128.15h0.65v0.65h-0.65zM437.25 123.18h0.65v0.65h-0.65zM439.51 120.31h0.65v0.65h-0.65zM434.13 120.35h0.65v0.65h-0.65zM441.52 118.8h0.65v0.65h-0.65zM434.64 104.21h0.65v0.65h-0.65zM429.89 132.97h0.65v0.65h-0.65zM446 120.89h0.65v0.65h-0.65zM440.41 116.65h0.65v0.65h-0.65zM443.42 127.21h0.65v0.65h-0.65zM436.22 121.02h0.65v0.65h-0.65zM445.54 103.03h0.65v0.65h-0.65zM430.89 112.64h0.65v0.65h-0.65zM429.17 113.9h0.65v0.65h-0.65zM431.62 114.31h0.65v0.65h-0.65zM441.85 106.89h0.65v0.65h-0.65zM438.92 131.21h0.65v0.65h-0.65zM439.63 106.43h0.65v0.65h-0.65zM433.48 129.19h0.65v0.65h-0.65zM436.13 112.1h0.65v0.65h-0.65zM444.2 111.27h0.65v0.65h-0.65zM429.55 123.92h0.65v0.65h-0.65zM438.3 111.89h0.65v0.65h-0.65zM441.75 128.58h0.65v0.65h-0.65zM446.5 119.06h0.65v0.65h-0.65zM441.69 122.8h0.65v0.65h-0.65zM426.71 133.92h0.65v0.65h-0.65zM433.05 112.76h0.65v0.65h-0.65zM431.81 108.9h0.65v0.65h-0.65zM446.61 118.13h0.65v0.65h-0.65zM433.71 100.67h0.65v0.65h-0.65zM439.45 117.6h0.65v0.65h-0.65zM430.2 117.15h0.65v0.65h-0.65zM424.07 124.25h0.65v0.65h-0.65zM428.76 122.83h0.65v0.65h-0.65zM438.92 97.87h0.65v0.65h-0.65zM429.53 111.85h0.65v0.65h-0.65zM444.25 123.77h0.65v0.65h-0.65zM443.02 134.02h0.65v0.65h-0.65zM435.95 113.24h0.65v0.65h-0.65zM423.69 108.27h0.65v0.65h-0.65zM442.5 110.07h0.65v0.65h-0.65zM431.43 127.15h0.65v0.65h-0.65zM448.1 101.02h0.65v0.65h-0.65zM441.78 118h0.65v0.65h-0.65zM445.15 114.86h0.65v0.65h-0.65zM437.23 131.52h0.65v0.65h-0.65zM433.59 122.07h0.65v0.65h-0.65zM443.02 117h0.65v0.65h-0.65zM444.9 123.03h0.65v0.65h-0.65zM444.55 101.88h0.65v0.65h-0.65zM430.2 120.89h0.65v0.65h-0.65zM447.15 131.74h0.65v0.65h-0.65zM438.27 111h0.65v0.65h-0.65zM429.75 99.56h0.65v0.65h-0.65zM434.32 123.61h0.65v0.65h-0.65zM437.62 104.04h0.65v0.65h-0.65zM437.41 118.58h0.65v0.65h-0.65zM432.42 131.97h0.65v0.65h-0.65zM441.53 128.57h0.65v0.65h-0.65zM438.94 108.83h0.65v0.65h-0.65zM446.48 128.63h0.65v0.65h-0.65zM433.67 105.42h0.65v0.65h-0.65zM444.44 112.71h0.65v0.65h-0.65zM429.24 117.3h0.65v0.65h-0.65zM442.41 110.95h0.65v0.65h-0.65zM438.44 127.57h0.65v0.65h-0.65zM443.91 103.27h0.65v0.65h-0.65zM443.67 135.01h0.65v0.65h-0.65zM445.23 117.28h0.65v0.65h-0.65zM441.01 103.09h0.65v0.65h-0.65zM433.67 113.15h0.65v0.65h-0.65zM454.11 118.12h0.65v0.65h-0.65zM430.69 134.22h0.65v0.65h-0.65zM447.62 102.37h0.65v0.65h-0.65zM436.63 102h0.65v0.65h-0.65zM446.14 96.41h0.65v0.65h-0.65zM452.41 108.04h0.65v0.65h-0.65zM442.28 121.47h0.65v0.65h-0.65zM444.75 108.67h0.65v0.65h-0.65zM444.88 115.44h0.65v0.65h-0.65zM442.17 120.3h0.65v0.65h-0.65zM448.8 105.83h0.65v0.65h-0.65zM427.51 124.33h0.65v0.65h-0.65zM436.89 124.52h0.65v0.65h-0.65zM428.91 118.97h0.65v0.65h-0.65zM425.3 119.23h0.65v0.65h-0.65zM443.72 134.32h0.65v0.65h-0.65zM434.31 126.98h0.65v0.65h-0.65zM448.46 108.12h0.65v0.65h-0.65zM436.07 100.4h0.65v0.65h-0.65zM431.46 122.29h0.65v0.65h-0.65zM422.63 115.26h0.65v0.65h-0.65zM443.71 131.81h0.65v0.65h-0.65zM433.46 96.12h0.65v0.65h-0.65zM430.38 123.76h0.65v0.65h-0.65zM438.02 124.82h0.65v0.65h-0.65zM435.86 124.4h0.65v0.65h-0.65zM430.7 108.78h0.65v0.65h-0.65zM436.93 101.39h0.65v0.65h-0.65zM447.63 115.72h0.65v0.65h-0.65zM430.66 109.84h0.65v0.65h-0.65zM430.77 119.29h0.65v0.65h-0.65zM435.36 126.36h0.65v0.65h-0.65zM429.34 117.41h0.65v0.65h-0.65zM426.62 113.66h0.65v0.65h-0.65zM448.55 116.95h0.65v0.65h-0.65zM444.97 117.51h0.65v0.65h-0.65zM429.8 109.67h0.65v0.65h-0.65zM429.55 121.37h0.65v0.65h-0.65zM450.92 126.22h0.65v0.65h-0.65zM430.69 119.2h0.65v0.65h-0.65zM432.63 129.3h0.65v0.65h-0.65zM427.83 125.43h0.65v0.65h-0.65zM428.78 113.64h0.65v0.65h-0.65zM439.46 119.42h0.65v0.65h-0.65zM437.7 117.48h0.65v0.65h-0.65zM431.57 117.05h0.65v0.65h-0.65zM437.62 109.15h0.65v0.65h-0.65zM442.49 119.77h0.65v0.65h-0.65zM432.37 130.57h0.65v0.65h-0.65zM433.77 99.86h0.65v0.65h-0.65zM447.81 114.49h0.65v0.65h-0.65zM449.34 122.25h0.65v0.65h-0.65zM431.34 128.82h0.65v0.65h-0.65zM441.66 126.96h0.65v0.65h-0.65zM438.46 133.05h0.65v0.65h-0.65zM445.24 114.88h0.65v0.65h-0.65zM426.63 117.67h0.65v0.65h-0.65zM438.67 108.62h0.65v0.65h-0.65zM436.67 132.48h0.65v0.65h-0.65zM434.52 128.89h0.65v0.65h-0.65zM430.99 108.75h0.65v0.65h-0.65zM445.3 116.44h0.65v0.65h-0.65zM439.8 127.96h0.65v0.65h-0.65zM450.6 106.2h0.65v0.65h-0.65zM442.59 120.27h0.65v0.65h-0.65zM439.24 135.32h0.65v0.65h-0.65zM436.28 112.38h0.65v0.65h-0.65zM442 98.62h0.65v0.65h-0.65zM440.94 109.51h0.65v0.65h-0.65zM440.62 110.95h0.65v0.65h-0.65zM442.01 115.71h0.65v0.65h-0.65zM432.65 123.28h0.65v0.65h-0.65zM443.85 102.65h0.65v0.65h-0.65zM428.26 115.55h0.65v0.65h-0.65zM435.21 130.83h0.65v0.65h-0.65zM450.25 122.67h0.65v0.65h-0.65zM446.49 114.95h0.65v0.65h-0.65zM427.66 120.99h0.65v0.65h-0.65zM424.66 133.77h0.65v0.65h-0.65zM440.07 129.27h0.65v0.65h-0.65zM433.21 102.55h0.65v0.65h-0.65zM436.57 122.78h0.65v0.65h-0.65zM436.47 113.19h0.65v0.65h-0.65zM438.71 116.24h0.65v0.65h-0.65zM448.76 105.48h0.65v0.65h-0.65zM421.19 117.16h0.65v0.65h-0.65zM440.17 103.31h0.65v0.65h-0.65z" fill="#3a3a3a" fill-opacity="0.13"/>
<path d="M444.59 134.3h0.65v0.65h-0.65zM450.35 133.9h0.65v0.65h-0.65zM433.7 128.84h0.65v0.65h-0.65zM459.8 132.01h0.65v0.65h-0.65zM420.54 135.79h0.65v0.65h-0.65zM450.22 136.62h0.65v0.65h-0.65zM445.38 128.21h0.65v0.65h-0.65zM442.67 131.78h0.65v0.65h-0.65zM449.62 132.49h0.65v0.65h-0.65zM453.78 129.49h0.65v0.65h-0.65zM436.81 131.53h0.65v0.65h-0.65zM451.53 128.08h0.65v0.65h-0.65zM446.7 135.88h0.65v0.65h-0.65zM446 133.77h0.65v0.65h-0.65zM450.78 134.35h0.65v0.65h-0.65zM426.74 132.64h0.65v0.65h-0.65zM473.1 137.12h0.65v0.65h-0.65zM432.22 130.28h0.65v0.65h-0.65zM442.52 136.08h0.65v0.65h-0.65zM459.22 131.32h0.65v0.65h-0.65zM419.73 136.48h0.65v0.65h-0.65zM467.86 134.96h0.65v0.65h-0.65zM454.27 134.65h0.65v0.65h-0.65zM473.37 136.17h0.65v0.65h-0.65zM467.27 129.69h0.65v0.65h-0.65zM437.22 133.01h0.65v0.65h-0.65zM444.83 132.83h0.65v0.65h-0.65zM442.12 132.67h0.65v0.65h-0.65zM439.9 128.91h0.65v0.65h-0.65zM462.33 133.08h0.65v0.65h-0.65zM450.68 133.12h0.65v0.65h-0.65zM433.21 128.4h0.65v0.65h-0.65zM440.75 134.56h0.65v0.65h-0.65zM443.28 135.13h0.65v0.65h-0.65zM433.02 132.17h0.65v0.65h-0.65zM447.41 132.72h0.65v0.65h-0.65zM447.81 137.16h0.65v0.65h-0.65zM438.7 133.4h0.65v0.65h-0.65zM435.15 134.59h0.65v0.65h-0.65zM448.56 130.88h0.65v0.65h-0.65zM429.66 129.54h0.65v0.65h-0.65zM440.78 133.46h0.65v0.65h-0.65zM437.52 132.69h0.65v0.65h-0.65zM447.19 133.64h0.65v0.65h-0.65zM475 134.11h0.65v0.65h-0.65zM455.14 131.55h0.65v0.65h-0.65zM436.77 135.26h0.65v0.65h-0.65zM435.9 131.1h0.65v0.65h-0.65zM422.21 133.87h0.65v0.65h-0.65zM443.65 134.59h0.65v0.65h-0.65zM431.77 129.42h0.65v0.65h-0.65zM462.03 133.08h0.65v0.65h-0.65zM457.2 129.69h0.65v0.65h-0.65zM449.68 135.88h0.65v0.65h-0.65zM436.98 130.72h0.65v0.65h-0.65zM441.84 130.69h0.65v0.65h-0.65zM422.53 132.89h0.65v0.65h-0.65zM446.98 130.78h0.65v0.65h-0.65zM445.55 129.25h0.65v0.65h-0.65zM440.02 132.03h0.65v0.65h-0.65zM438.04 132.78h0.65v0.65h-0.65zM425.59 129.12h0.65v0.65h-0.65zM432.3 135.14h0.65v0.65h-0.65zM430.45 130.3h0.65v0.65h-0.65zM475.5 132.26h0.65v0.65h-0.65zM439.17 130.44h0.65v0.65h-0.65zM467.63 134.53h0.65v0.65h-0.65zM426.73 128.13h0.65v0.65h-0.65zM462.08 134.26h0.65v0.65h-0.65zM437.14 135.31h0.65v0.65h-0.65zM425.56 134.05h0.65v0.65h-0.65zM460.07 135.58h0.65v0.65h-0.65zM439.49 131.85h0.65v0.65h-0.65zM438.34 135h0.65v0.65h-0.65zM438.84 132.6h0.65v0.65h-0.65zM460.79 132.68h0.65v0.65h-0.65zM448.78 132.64h0.65v0.65h-0.65zM445.15 126.57h0.65v0.65h-0.65zM430.59 134.07h0.65v0.65h-0.65zM435.18 131.22h0.65v0.65h-0.65zM433.34 130.24h0.65v0.65h-0.65zM444.14 130.57h0.65v0.65h-0.65zM438.71 135.85h0.65v0.65h-0.65zM460.68 134.07h0.65v0.65h-0.65zM462.77 135.94h0.65v0.65h-0.65zM437.94 135.31h0.65v0.65h-0.65zM447.42 135.23h0.65v0.65h-0.65zM425.69 134.06h0.65v0.65h-0.65zM437.05 131.94h0.65v0.65h-0.65zM444.69 132.87h0.65v0.65h-0.65zM471.28 132.85h0.65v0.65h-0.65zM448.84 136.09h0.65v0.65h-0.65zM468.24 130.21h0.65v0.65h-0.65zM449.68 129.15h0.65v0.65h-0.65zM452.59 137.12h0.65v0.65h-0.65zM436.94 132.19h0.65v0.65h-0.65zM463.31 134.28h0.65v0.65h-0.65zM457.38 131.67h0.65v0.65h-0.65zM440.14 131.93h0.65v0.65h-0.65zM469.12 128.66h0.65v0.65h-0.65zM443.91 129.82h0.65v0.65h-0.65zM448.62 132.37h0.65v0.65h-0.65zM443.11 134.45h0.65v0.65h-0.65zM457.15 128.65h0.65v0.65h-0.65zM424.34 132.72h0.65v0.65h-0.65zM427.1 134.94h0.65v0.65h-0.65zM431.96 132.03h0.65v0.65h-0.65zM438.6 134.33h0.65v0.65h-0.65zM424.83 128.92h0.65v0.65h-0.65zM447.88 136.96h0.65v0.65h-0.65zM437.2 134.21h0.65v0.65h-0.65zM449.06 133.32h0.65v0.65h-0.65zM444.66 131.39h0.65v0.65h-0.65zM441.2 136.51h0.65v0.65h-0.65zM451.83 136.74h0.65v0.65h-0.65zM433.78 133.35h0.65v0.65h-0.65zM435.07 129.14h0.65v0.65h-0.65zM458.79 132.18h0.65v0.65h-0.65zM448.67 128.86h0.65v0.65h-0.65zM441.07 132.64h0.65v0.65h-0.65zM438.98 135.97h0.65v0.65h-0.65zM452.01 133.39h0.65v0.65h-0.65zM448.49 131.7h0.65v0.65h-0.65zM434.03 132.18h0.65v0.65h-0.65zM429.26 132.5h0.65v0.65h-0.65zM443.22 136.3h0.65v0.65h-0.65zM436.92 133.39h0.65v0.65h-0.65zM444.52 131.21h0.65v0.65h-0.65zM443.98 127.82h0.65v0.65h-0.65zM462.11 131.31h0.65v0.65h-0.65zM444.5 127.69h0.65v0.65h-0.65zM453.66 129.24h0.65v0.65h-0.65zM465.81 129.94h0.65v0.65h-0.65zM433.66 134.94h0.65v0.65h-0.65zM464.6 127.2h0.65v0.65h-0.65zM451.72 128.55h0.65v0.65h-0.65zM438.22 135.04h0.65v0.65h-0.65zM433.95 133.49h0.65v0.65h-0.65zM448.57 134.71h0.65v0.65h-0.65zM439.75 132.8h0.65v0.65h-0.65zM436.09 134.14h0.65v0.65h-0.65zM457.85 130.04h0.65v0.65h-0.65zM427.03 133.13h0.65v0.65h-0.65zM475.62 133.67h0.65v0.65h-0.65zM446.92 132.87h0.65v0.65h-0.65zM419.2 130.91h0.65v0.65h-0.65zM468.05 126.82h0.65v0.65h-0.65zM472.46 129.47h0.65v0.65h-0.65zM467.89 132.59h0.65v0.65h-0.65zM453.95 131.38h0.65v0.65h-0.65zM438 133.6h0.65v0.65h-0.65zM440.08 129.8h0.65v0.65h-0.65zM440.61 134.9h0.65v0.65h-0.65zM433.06 134.05h0.65v0.65h-0.65zM424.23 133.27h0.65v0.65h-0.65zM427.21 135.25h0.65v0.65h-0.65zM428.9 134.81h0.65v0.65h-0.65zM461.74 130.56h0.65v0.65h-0.65zM445.71 130.46h0.65v0.65h-0.65zM452.24 135.23h0.65v0.65h-0.65zM462.5 136.92h0.65v0.65h-0.65zM464.84 130.84h0.65v0.65h-0.65zM446.66 134.56h0.65v0.65h-0.65zM447.79 129.12h0.65v0.65h-0.65zM472.85 132.45h0.65v0.65h-0.65zM479.6 129.9h0.65v0.65h-0.65zM452.94 135.33h0.65v0.65h-0.65zM422.81 132.01h0.65v0.65h-0.65zM452.4 134.95h0.65v0.65h-0.65zM469.34 128.44h0.65v0.65h-0.65zM450.89 135.74h0.65v0.65h-0.65zM429.88 128.3h0.65v0.65h-0.65zM448.98 131.68h0.65v0.65h-0.65zM443.4 132.39h0.65v0.65h-0.65zM443.05 133.91h0.65v0.65h-0.65zM436.71 132.89h0.65v0.65h-0.65zM436.18 130.41h0.65v0.65h-0.65zM450.2 130.53h0.65v0.65h-0.65zM453.03 132.91h0.65v0.65h-0.65zM461.4 134.74h0.65v0.65h-0.65z" fill="#3a3a3a" fill-opacity="0.13"/>
<path d="M418 138.3v2.6M418 138.3h-2.6M425.15 138.3v1.6M418 131.15h-1.6M429.33 138.3v1.6M418 126.97h-1.6M432.3 138.3v1.6M418 124h-1.6M434.6 138.3v1.6M418 121.7h-1.6M436.48 138.3v1.6M418 119.82h-1.6M438.07 138.3v1.6M418 118.23h-1.6M439.45 138.3v1.6M418 116.85h-1.6M440.66 138.3v1.6M418 115.64h-1.6M441.75 138.3v2.6M418 114.55h-2.6M448.9 138.3v1.6M418 107.4h-1.6M453.08 138.3v1.6M418 103.22h-1.6M456.05 138.3v1.6M418 100.25h-1.6M458.35 138.3v1.6M418 97.95h-1.6M460.23 138.3v1.6M418 96.07h-1.6M461.82 138.3v1.6M418 94.48h-1.6M463.2 138.3v1.6M418 93.1h-1.6M464.41 138.3v1.6M418 91.89h-1.6M465.5 138.3v2.6M418 90.8h-2.6M472.65 138.3v1.6M418 83.65h-1.6M476.83 138.3v1.6M418 79.47h-1.6M479.8 138.3v1.6M418 76.5h-1.6M482.1 138.3v1.6M418 74.2h-1.6M483.98 138.3v1.6M418 72.32h-1.6M485.57 138.3v1.6M418 70.73h-1.6M486.95 138.3v1.6M418 69.35h-1.6M488.16 138.3v1.6M418 68.14h-1.6M489.25 138.3v2.6M418 67.05h-2.6M496.4 138.3v1.6M418 59.9h-1.6M500.58 138.3v1.6M418 55.72h-1.6M503.55 138.3v1.6M418 52.75h-1.6M505.85 138.3v1.6M418 50.45h-1.6M507.73 138.3v1.6M418 48.57h-1.6M509.32 138.3v1.6M418 46.98h-1.6M510.7 138.3v1.6M418 45.6h-1.6M511.91 138.3v1.6M418 44.39h-1.6M513 138.3v2.4M418 43.4h-2.4" stroke="#222" stroke-width="0.7" fill="none"/>
<rect x="418" y="43.4" width="95" height="94.9" fill="none" stroke="#222" stroke-width="1.2"/>
<path d="M304.3 151.1V98.5M304.3 151.1H356.5" stroke="#111" stroke-width="1" fill="none"/>
<path d="M301.9 99.6L304.3 93.3L306.7 99.6zM355.9 148.7L361.4 151.1L355.9 153.5z" fill="#111"/>
<text transform="translate(308.6 85.4) rotate(-90) scale(0.8 1)" font-size="10.4" style="stroke-width:0.08px">iCD3<tspan font-size="8.2">γ</tspan></text>
<text transform="translate(369.8 154.5) scale(0.8 1)" font-size="10.4" style="stroke-width:0.08px">iCD3<tspan font-size="9">ε</tspan></text>
<text x="7.6" y="195.0" class="lbl">C</text>
<text x="50" y="298.74" font-size="7.9" text-anchor="end">0</text>
<text x="50" y="276.64" font-size="7.9" text-anchor="end">100</text>
<text x="50" y="254.54" font-size="7.9" text-anchor="end">200</text>
<text x="50" y="232.44" font-size="7.9" text-anchor="end">300</text>
<text x="50" y="210.34" font-size="7.9" text-anchor="end">400</text>
<path d="M56.7 206.7V296.4M53.9 295.9H56.7M53.9 273.8H56.7M53.9 251.7H56.7M53.9 229.6H56.7M53.9 207.5H56.7" stroke="#000" stroke-width="1.35" fill="none"/>
<path d="M56.2 296.4H136.6M69.9 296.4v2.6M96.5 296.4v2.6M122.9 296.4v2.6" stroke="#000" stroke-width="1.35" fill="none"/>
<text transform="translate(20.5 250.3) rotate(-90)" font-size="8.65" text-anchor="middle">Synonymous variants</text>
<text transform="translate(31.8 250.3) rotate(-90)" font-size="7.7" text-anchor="middle">per 1000 bases</text>
<path d="M65.5 199.6H125.2M65.5 207.2H93.2M97.3 207.2H125.5" stroke="#000" stroke-width="0.9" fill="none"/>
<text x="95.2" y="197.6" font-size="7.4" text-anchor="middle">n.s.</text>
<text x="79.0" y="205.1" font-size="7.4" text-anchor="middle">n.s.</text>
<text x="111.2" y="205.1" font-size="7.4" text-anchor="middle">n.s.</text>
<circle cx="61.9" cy="213.6" r="1.6" fill="#000"/>
<circle cx="61.9" cy="222.0" r="1.3" fill="#fff" stroke="#111" stroke-width="0.95"/>
<text x="66.4" y="215.9" font-size="7.5">WASp</text>
<text x="66.4" y="224.6" font-size="7.5">CD247</text>
<g fill="#a05070"><circle cx="62.17" cy="290.64" r="1.35"/><circle cx="62.8" cy="288.25" r="1.35"/><circle cx="63.81" cy="289.16" r="1.35"/><circle cx="65" cy="289.99" r="1.35"/><circle cx="65.58" cy="289" r="1.35"/><circle cx="66.75" cy="289.6" r="1.35"/><circle cx="67.29" cy="288.9" r="1.35"/><circle cx="68.14" cy="289.24" r="1.35"/><circle cx="69.13" cy="288.68" r="1.35"/><circle cx="70.08" cy="290.71" r="1.35"/><circle cx="70.83" cy="287.92" r="1.35"/><circle cx="71.75" cy="289.14" r="1.35"/><circle cx="72.8" cy="290.95" r="1.35"/><circle cx="73.84" cy="288.57" r="1.35"/><circle cx="74.41" cy="289.57" r="1.35"/><circle cx="75.68" cy="288.41" r="1.35"/><circle cx="76.53" cy="288.91" r="1.35"/><circle cx="77.52" cy="291.04" r="1.35"/><circle cx="69.7" cy="283.9" r="1.35"/><circle cx="63.6" cy="286.4" r="1.35"/><circle cx="77.8" cy="286.9" r="1.35"/><circle cx="66.4" cy="292.6" r="1.35"/><circle cx="70" cy="293.4" r="1.35"/><circle cx="73.5" cy="292.4" r="1.35"/></g><g fill="#2a0410"><circle cx="62.17" cy="290.64" r="0.8"/><circle cx="62.8" cy="288.25" r="0.8"/><circle cx="63.81" cy="289.16" r="0.8"/><circle cx="65" cy="289.99" r="0.8"/><circle cx="65.58" cy="289" r="0.8"/><circle cx="66.75" cy="289.6" r="0.8"/><circle cx="67.29" cy="288.9" r="0.8"/><circle cx="68.14" cy="289.24" r="0.8"/><circle cx="69.13" cy="288.68" r="0.8"/><circle cx="70.08" cy="290.71" r="0.8"/><circle cx="70.83" cy="287.92" r="0.8"/><circle cx="71.75" cy="289.14" r="0.8"/><circle cx="72.8" cy="290.95" r="0.8"/><circle cx="73.84" cy="288.57" r="0.8"/><circle cx="74.41" cy="289.57" r="0.8"/><circle cx="75.68" cy="288.41" r="0.8"/><circle cx="76.53" cy="288.91" r="0.8"/><circle cx="77.52" cy="291.04" r="0.8"/><circle cx="69.7" cy="283.9" r="0.8"/><circle cx="63.6" cy="286.4" r="0.8"/><circle cx="77.8" cy="286.9" r="0.8"/><circle cx="66.4" cy="292.6" r="0.8"/><circle cx="70" cy="293.4" r="0.8"/><circle cx="73.5" cy="292.4" r="0.8"/></g>
<path d="M61.1 289.5H78.1" stroke="#1a0208" stroke-width="1.3"/>
<g fill="#5a6ea8"><circle cx="88.59" cy="290.3" r="1.35"/><circle cx="89.7" cy="288.79" r="1.35"/><circle cx="90.55" cy="290.66" r="1.35"/><circle cx="91.42" cy="289.43" r="1.35"/><circle cx="92.32" cy="287.49" r="1.35"/><circle cx="93.35" cy="287.78" r="1.35"/><circle cx="94.31" cy="287.43" r="1.35"/><circle cx="95.02" cy="288.32" r="1.35"/><circle cx="95.98" cy="289.65" r="1.35"/><circle cx="96.9" cy="290.35" r="1.35"/><circle cx="97.92" cy="287.82" r="1.35"/><circle cx="98.4" cy="289.14" r="1.35"/><circle cx="99.66" cy="288.83" r="1.35"/><circle cx="100.17" cy="289.29" r="1.35"/><circle cx="101.11" cy="287.68" r="1.35"/><circle cx="102.26" cy="289.04" r="1.35"/><circle cx="103.17" cy="287.78" r="1.35"/><circle cx="103.79" cy="287.82" r="1.35"/><circle cx="93.5" cy="284.1" r="1.35"/><circle cx="102.4" cy="283.6" r="1.35"/><circle cx="99.4" cy="285.3" r="1.35"/><circle cx="96.6" cy="286.4" r="1.35"/><circle cx="96.6" cy="293" r="1.35"/><circle cx="93.2" cy="292.4" r="1.35"/><circle cx="100.2" cy="292.5" r="1.35"/></g><g fill="#06102e"><circle cx="88.59" cy="290.3" r="0.8"/><circle cx="89.7" cy="288.79" r="0.8"/><circle cx="90.55" cy="290.66" r="0.8"/><circle cx="91.42" cy="289.43" r="0.8"/><circle cx="92.32" cy="287.49" r="0.8"/><circle cx="93.35" cy="287.78" r="0.8"/><circle cx="94.31" cy="287.43" r="0.8"/><circle cx="95.02" cy="288.32" r="0.8"/><circle cx="95.98" cy="289.65" r="0.8"/><circle cx="96.9" cy="290.35" r="0.8"/><circle cx="97.92" cy="287.82" r="0.8"/><circle cx="98.4" cy="289.14" r="0.8"/><circle cx="99.66" cy="288.83" r="0.8"/><circle cx="100.17" cy="289.29" r="0.8"/><circle cx="101.11" cy="287.68" r="0.8"/><circle cx="102.26" cy="289.04" r="0.8"/><circle cx="103.17" cy="287.78" r="0.8"/><circle cx="103.79" cy="287.82" r="0.8"/><circle cx="93.5" cy="284.1" r="0.8"/><circle cx="102.4" cy="283.6" r="0.8"/><circle cx="99.4" cy="285.3" r="0.8"/><circle cx="96.6" cy="286.4" r="0.8"/><circle cx="96.6" cy="293" r="0.8"/><circle cx="93.2" cy="292.4" r="0.8"/><circle cx="100.2" cy="292.5" r="0.8"/></g>
<path d="M87.9 289.2H104.9" stroke="#030a20" stroke-width="1.3"/>
<g fill="#98c860"><circle cx="115.35" cy="288.81" r="1.35"/><circle cx="116.11" cy="287.38" r="1.35"/><circle cx="116.91" cy="288.6" r="1.35"/><circle cx="117.94" cy="288.05" r="1.35"/><circle cx="118.98" cy="288.38" r="1.35"/><circle cx="119.62" cy="288.89" r="1.35"/><circle cx="120.42" cy="287.41" r="1.35"/><circle cx="121.14" cy="290.49" r="1.35"/><circle cx="122.53" cy="289.41" r="1.35"/><circle cx="122.97" cy="287.9" r="1.35"/><circle cx="123.96" cy="287.32" r="1.35"/><circle cx="124.86" cy="288.22" r="1.35"/><circle cx="125.74" cy="290.22" r="1.35"/><circle cx="126.75" cy="290.8" r="1.35"/><circle cx="127.51" cy="287.45" r="1.35"/><circle cx="128.64" cy="289.82" r="1.35"/><circle cx="129.56" cy="288.54" r="1.35"/><circle cx="130.45" cy="287.56" r="1.35"/><circle cx="119.8" cy="284.5" r="1.35"/><circle cx="124" cy="284.5" r="1.35"/><circle cx="126.6" cy="284.5" r="1.35"/><circle cx="131" cy="286" r="1.35"/><circle cx="120" cy="292.6" r="1.35"/><circle cx="123.4" cy="292.8" r="1.35"/><circle cx="126.2" cy="292.4" r="1.35"/><circle cx="117.5" cy="292" r="1.35"/></g><g fill="#253a08"><circle cx="115.35" cy="288.81" r="0.8"/><circle cx="116.11" cy="287.38" r="0.8"/><circle cx="116.91" cy="288.6" r="0.8"/><circle cx="117.94" cy="288.05" r="0.8"/><circle cx="118.98" cy="288.38" r="0.8"/><circle cx="119.62" cy="288.89" r="0.8"/><circle cx="120.42" cy="287.41" r="0.8"/><circle cx="121.14" cy="290.49" r="0.8"/><circle cx="122.53" cy="289.41" r="0.8"/><circle cx="122.97" cy="287.9" r="0.8"/><circle cx="123.96" cy="287.32" r="0.8"/><circle cx="124.86" cy="288.22" r="0.8"/><circle cx="125.74" cy="290.22" r="0.8"/><circle cx="126.75" cy="290.8" r="0.8"/><circle cx="127.51" cy="287.45" r="0.8"/><circle cx="128.64" cy="289.82" r="0.8"/><circle cx="129.56" cy="288.54" r="0.8"/><circle cx="130.45" cy="287.56" r="0.8"/><circle cx="119.8" cy="284.5" r="0.8"/><circle cx="124" cy="284.5" r="0.8"/><circle cx="126.6" cy="284.5" r="0.8"/><circle cx="131" cy="286" r="0.8"/><circle cx="120" cy="292.6" r="0.8"/><circle cx="123.4" cy="292.8" r="0.8"/><circle cx="126.2" cy="292.4" r="0.8"/><circle cx="117.5" cy="292" r="0.8"/></g>
<circle cx="122.6" cy="276.1" r="1.0" fill="#777" stroke="#a9c879" stroke-width="0.3"/>
<path d="M114.5 288.7H131.3" stroke="#081200" stroke-width="1.5"/>
<text transform="translate(74.1 305.4) rotate(-45)" font-size="8.1" text-anchor="end">Reversion+</text>
<text transform="translate(99.9 305.7) rotate(-45)" font-size="8.1" text-anchor="end">Reversion-</text>
<text transform="translate(126.1 305.6) rotate(-45)" font-size="8.1" text-anchor="end">Control</text>
<path d="M40.5 339.4H88.9" stroke="#000" stroke-width="1.2"/>
<text x="46.2" y="350.0" font-size="8.05">PID genes</text>
<text x="147.6" y="197.6" class="lbl">D</text>
<text x="189.4" y="298.84" font-size="7.9" text-anchor="end">0</text>
<text x="189.4" y="276.64" font-size="7.9" text-anchor="end">100</text>
<text x="189.4" y="254.44" font-size="7.9" text-anchor="end">200</text>
<text x="189.4" y="232.24" font-size="7.9" text-anchor="end">300</text>
<text x="189.4" y="210.04" font-size="7.9" text-anchor="end">400</text>
<path d="M194.9 206.4V296.5M192.1 296H194.9M192.1 273.8H194.9M192.1 251.6H194.9M192.1 229.4H194.9M192.1 207.2H194.9" stroke="#000" stroke-width="1.35" fill="none"/>
<path d="M194.4 296H276.5M208.5 296v2.6M235.4 296v2.6M262.3 296v2.6" stroke="#000" stroke-width="1.35" fill="none"/>
<text transform="translate(160.6 250.3) rotate(-90)" font-size="8.65" text-anchor="middle">Missense variants</text>
<text transform="translate(172 250.6) rotate(-90)" font-size="7.7" text-anchor="middle">per 1000 bases</text>
<path d="M206.8 199.2H265.6M206.8 206.7H234.5M238.5 206.7H266" stroke="#000" stroke-width="0.9" fill="none"/>
<text x="236.45" y="200.1" font-size="8.5" letter-spacing="0.5" text-anchor="middle">***</text>
<text x="220.75" y="207.5" font-size="8.5" letter-spacing="0.7" text-anchor="middle">**</text>
<text x="251.3" y="204.9" font-size="7.4" text-anchor="middle">n.s.</text>
<circle cx="200.8" cy="212.7" r="1.6" fill="#000"/>
<circle cx="200.8" cy="221.9" r="1.7" fill="#484848"/>
<text x="205.8" y="215.6" font-size="7.5">WASp</text>
<text x="205.8" y="224.8" font-size="7.5">CD247</text>
<circle cx="208.4" cy="239.9" r="1.0" fill="#333"/>
<circle cx="208.6" cy="244.4" r="1.8" fill="#000"/>
<circle cx="208.4" cy="251.4" r="1.0" fill="#333"/>
<g fill="none" stroke="#5a1030" stroke-width="0.7"><circle cx="206" cy="264.7" r="1.35"/><circle cx="210.4" cy="264.7" r="1.35"/><circle cx="206.4" cy="274.1" r="1.35"/></g>
<g fill="#ecc0cf"><circle cx="202.4" cy="275.5" r="1.3"/><circle cx="205.5" cy="276.8" r="1.3"/><circle cx="209.1" cy="277.2" r="1.3"/><circle cx="211.3" cy="276.8" r="1.3"/><circle cx="213.1" cy="275.5" r="1.3"/><circle cx="215.4" cy="274.6" r="1.3"/><circle cx="208.2" cy="285.8" r="1.3"/><circle cx="208" cy="275.2" r="1.3"/></g><g fill="#5a0f2c"><circle cx="202.4" cy="275.5" r="0.7"/><circle cx="205.5" cy="276.8" r="0.7"/><circle cx="209.1" cy="277.2" r="0.7"/><circle cx="211.3" cy="276.8" r="0.7"/><circle cx="213.1" cy="275.5" r="0.7"/><circle cx="215.4" cy="274.6" r="0.7"/><circle cx="208.2" cy="285.8" r="0.7"/><circle cx="208" cy="275.2" r="0.7"/></g>
<path d="M199.7 267.1H217.3M208.4 263.2V271.2M206.2 263.2H210.7M206.2 271.2H210.7" stroke="#000" stroke-width="1" fill="none"/>
<circle cx="235.4" cy="230.6" r="1.4" fill="#333"/>
<g fill="#b4c3e8"><circle cx="235.4" cy="261.1" r="1.3"/><circle cx="235.4" cy="265" r="1.3"/><circle cx="235.4" cy="269.5" r="1.3"/><circle cx="230.5" cy="274.5" r="1.3"/><circle cx="233" cy="274.6" r="1.3"/><circle cx="237.5" cy="274.4" r="1.3"/><circle cx="240.5" cy="274.8" r="1.3"/><circle cx="229" cy="276.5" r="1.3"/><circle cx="231.8" cy="277" r="1.3"/><circle cx="234" cy="276.6" r="1.3"/><circle cx="236.8" cy="277.2" r="1.3"/><circle cx="239.3" cy="276.8" r="1.3"/><circle cx="242" cy="277.3" r="1.3"/><circle cx="229.5" cy="280" r="1.3"/><circle cx="232" cy="280.5" r="1.3"/><circle cx="234.6" cy="279.8" r="1.3"/><circle cx="237.2" cy="280.6" r="1.3"/><circle cx="240" cy="280.2" r="1.3"/><circle cx="242.4" cy="280.8" r="1.3"/><circle cx="230.8" cy="283" r="1.3"/><circle cx="233.4" cy="283.4" r="1.3"/><circle cx="236" cy="283" r="1.3"/><circle cx="238.6" cy="283.6" r="1.3"/><circle cx="241" cy="283.2" r="1.3"/><circle cx="232.2" cy="286" r="1.3"/><circle cx="235" cy="286.4" r="1.3"/><circle cx="237.8" cy="286" r="1.3"/><circle cx="235.4" cy="289" r="1.3"/></g><g fill="#18285a"><circle cx="235.4" cy="261.1" r="0.7"/><circle cx="235.4" cy="265" r="0.7"/><circle cx="235.4" cy="269.5" r="0.7"/><circle cx="230.5" cy="274.5" r="0.7"/><circle cx="233" cy="274.6" r="0.7"/><circle cx="237.5" cy="274.4" r="0.7"/><circle cx="240.5" cy="274.8" r="0.7"/><circle cx="229" cy="276.5" r="0.7"/><circle cx="231.8" cy="277" r="0.7"/><circle cx="234" cy="276.6" r="0.7"/><circle cx="236.8" cy="277.2" r="0.7"/><circle cx="239.3" cy="276.8" r="0.7"/><circle cx="242" cy="277.3" r="0.7"/><circle cx="229.5" cy="280" r="0.7"/><circle cx="232" cy="280.5" r="0.7"/><circle cx="234.6" cy="279.8" r="0.7"/><circle cx="237.2" cy="280.6" r="0.7"/><circle cx="240" cy="280.2" r="0.7"/><circle cx="242.4" cy="280.8" r="0.7"/><circle cx="230.8" cy="283" r="0.7"/><circle cx="233.4" cy="283.4" r="0.7"/><circle cx="236" cy="283" r="0.7"/><circle cx="238.6" cy="283.6" r="0.7"/><circle cx="241" cy="283.2" r="0.7"/><circle cx="232.2" cy="286" r="0.7"/><circle cx="235" cy="286.4" r="0.7"/><circle cx="237.8" cy="286" r="0.7"/><circle cx="235.4" cy="289" r="0.7"/></g>
<path d="M226.5 277.9H244.3M235.4 276V280" stroke="#000" stroke-width="1" fill="none"/>
<circle cx="262.3" cy="253.8" r="1.0" fill="#7a8060"/>
<g fill="#cfe8a8"><circle cx="262.3" cy="269.6" r="1.3"/><circle cx="257.6" cy="274.2" r="1.3"/><circle cx="260" cy="276.5" r="1.3"/><circle cx="264.6" cy="274.5" r="1.3"/><circle cx="267.5" cy="274.2" r="1.3"/><circle cx="256" cy="279" r="1.3"/><circle cx="258.8" cy="279.4" r="1.3"/><circle cx="261.6" cy="279" r="1.3"/><circle cx="264.4" cy="279.6" r="1.3"/><circle cx="267.2" cy="279.2" r="1.3"/><circle cx="270" cy="279.5" r="1.3"/><circle cx="255.5" cy="283.5" r="1.3"/><circle cx="258.3" cy="284" r="1.3"/><circle cx="261" cy="283.6" r="1.3"/><circle cx="263.8" cy="284.2" r="1.3"/><circle cx="266.6" cy="283.8" r="1.3"/><circle cx="269.4" cy="284.3" r="1.3"/><circle cx="256.6" cy="287" r="1.3"/><circle cx="259.4" cy="287.4" r="1.3"/><circle cx="262.2" cy="287" r="1.3"/><circle cx="265" cy="287.6" r="1.3"/><circle cx="267.8" cy="287.2" r="1.3"/><circle cx="258" cy="290.3" r="1.3"/><circle cx="261" cy="290.5" r="1.3"/><circle cx="264" cy="290.2" r="1.3"/><circle cx="267" cy="290.4" r="1.3"/></g><g fill="#3d5418"><circle cx="262.3" cy="269.6" r="0.7"/><circle cx="257.6" cy="274.2" r="0.7"/><circle cx="260" cy="276.5" r="0.7"/><circle cx="264.6" cy="274.5" r="0.7"/><circle cx="267.5" cy="274.2" r="0.7"/><circle cx="256" cy="279" r="0.7"/><circle cx="258.8" cy="279.4" r="0.7"/><circle cx="261.6" cy="279" r="0.7"/><circle cx="264.4" cy="279.6" r="0.7"/><circle cx="267.2" cy="279.2" r="0.7"/><circle cx="270" cy="279.5" r="0.7"/><circle cx="255.5" cy="283.5" r="0.7"/><circle cx="258.3" cy="284" r="0.7"/><circle cx="261" cy="283.6" r="0.7"/><circle cx="263.8" cy="284.2" r="0.7"/><circle cx="266.6" cy="283.8" r="0.7"/><circle cx="269.4" cy="284.3" r="0.7"/><circle cx="256.6" cy="287" r="0.7"/><circle cx="259.4" cy="287.4" r="0.7"/><circle cx="262.2" cy="287" r="0.7"/><circle cx="265" cy="287.6" r="0.7"/><circle cx="267.8" cy="287.2" r="0.7"/><circle cx="258" cy="290.3" r="0.7"/><circle cx="261" cy="290.5" r="0.7"/><circle cx="264" cy="290.2" r="0.7"/><circle cx="267" cy="290.4" r="0.7"/></g>
<path d="M253.4 281.6H271.8M262.3 279.8V283.4" stroke="#000" stroke-width="1.1" fill="none"/>
<text transform="translate(211.5 305.2) rotate(-45)" font-size="8.1" text-anchor="end">Reversion+</text>
<text transform="translate(236.7 306) rotate(-45)" font-size="8.1" text-anchor="end">Reversion-</text>
<text transform="translate(265.9 305) rotate(-45)" font-size="8.1" text-anchor="end">Control</text>
<path d="M178.5 339.5H227.5" stroke="#000" stroke-width="1.2"/>
<text x="184.3" y="349.6" font-size="8.05">PID genes</text>
<text x="304.6" y="197.9" class="lbl">E</text>
<text x="350.4" y="299.29" font-size="8.3" text-anchor="end">0.00</text>
<text x="350.4" y="283.55" font-size="8.3" text-anchor="end">0.02</text>
<text x="350.4" y="267.81" font-size="8.3" text-anchor="end">0.04</text>
<text x="350.4" y="252.07" font-size="8.3" text-anchor="end">0.06</text>
<text x="350.4" y="236.33" font-size="8.3" text-anchor="end">0.08</text>
<text x="350.4" y="220.59" font-size="8.3" text-anchor="end">0.10</text>
<path d="M356.2 216.8V296.8M353.4 296.3H356.2M353.4 280.56H356.2M353.4 264.82H356.2M353.4 249.08H356.2M353.4 233.34H356.2M353.4 217.6H356.2" stroke="#000" stroke-width="1.35" fill="none"/>
<path d="M355.7 296.3H491.2" stroke="#000" stroke-width="1.35" fill="none"/>
<text transform="translate(318.4 255.5) rotate(-90)" font-size="8.55" text-anchor="middle">Frequency of variants</text>
<text transform="translate(327.4 255.8) rotate(-90)" font-size="7.7" text-anchor="middle">relative to region length</text>
<path d="M370.91 257.69L422.39 293.91M423.22 293.92L474.38 259.58" stroke="#79b548" stroke-width="1.7" fill="none"/>
<path d="M374.67 244.74L418.63 284.16M427.51 284.87L470.09 257.43" stroke="#27377c" stroke-width="1.7" fill="none"/>
<path d="M376.36 246.87L416.94 255.63M428.74 257.73L468.86 263.37" stroke="#a8133a" stroke-width="1.7" fill="none"/>
<path d="M370.5 229.8V261.2M368.6 229.8H372.4M368.6 234H372.4M368.6 252.8H372.4M368.6 261.2H372.4M422.8 244.3V269.4M420.9 244.3H424.7M420.9 269.4H424.7M422.8 284.1V291.5M420.9 284.1H424.7M474.8 249.5V271.4M472.9 249.5H476.7M472.9 271.4H476.7" stroke="#000" stroke-width="0.9" fill="none"/>
<rect x="369" y="244.1" width="3" height="3" fill="#a8133a" stroke="#5a0a1a" stroke-width="0.4"/>
<rect x="421.3" y="255.4" width="3" height="3" fill="#a8133a" stroke="#5a0a1a" stroke-width="0.4"/>
<rect x="473.3" y="262.7" width="3" height="3" fill="#a8133a" stroke="#5a0a1a" stroke-width="0.4"/>
<path d="M370.5 255.1l2.1 3.6h-4.2z" fill="#d5eab8" stroke="#79b548" stroke-width="0.9"/>
<path d="M422.8 291.9l2.1 3.6h-4.2z" fill="#d5eab8" stroke="#79b548" stroke-width="0.9"/>
<path d="M474.8 257l2.1 3.6h-4.2z" fill="#d5eab8" stroke="#79b548" stroke-width="0.9"/>
<circle cx="370.5" cy="241" r="1.7" fill="#fff" stroke="#27377c" stroke-width="0.9"/>
<circle cx="422.8" cy="287.9" r="1.7" fill="#fff" stroke="#27377c" stroke-width="0.9"/>
<circle cx="474.8" cy="254.4" r="1.7" fill="#fff" stroke="#27377c" stroke-width="0.9"/>
<text x="370.1" y="226.4" font-size="7.5" text-anchor="middle">n.s.</text>
<text x="474.9" y="246.6" font-size="7.5" text-anchor="middle">n.s.</text>
<text x="422.95" y="232.8" font-size="8.5" letter-spacing="0.3" text-anchor="middle">**</text>
<text x="422.8" y="240.0" font-size="7" font-weight="bold" font-style="italic" text-anchor="middle">###</text>
<rect x="444.9" y="195.3" width="3.3" height="3.3" fill="#8e1232"/>
<circle cx="446.5" cy="208.4" r="1.6" fill="#fff" stroke="#27377c" stroke-width="1.0"/>
<path d="M446.5 216.3l2.1 3.5h-4.2z" fill="#c5e0a0" stroke="#79b548" stroke-width="0.9"/>
<text x="451.9" y="199.5" font-size="7.45">Reversion+</text>
<text x="451.9" y="210.8" font-size="7.45">Reversion-</text>
<text x="451.9" y="220.8" font-size="7.45">Control genes</text>
<text transform="translate(374.6 302.4) rotate(-45)" font-size="8.1" text-anchor="end">5′UTR</text>
<text transform="translate(425.5 302.6) rotate(-45)" font-size="8.1" text-anchor="end">Coding Sequence</text>
<text transform="translate(478.4 302.4) rotate(-45)" font-size="8.1" text-anchor="end">3′UTR</text>
<rect x="0" y="0" width="520" height="1.3" fill="#000"/>
<rect x="0" y="0" width="1.3" height="358" fill="#000"/>
<rect x="518.6" y="0" width="1.4" height="358" fill="#000"/>
<rect x="0" y="355.8" width="520" height="2.2" fill="#000"/>
</svg>
</body></html>
